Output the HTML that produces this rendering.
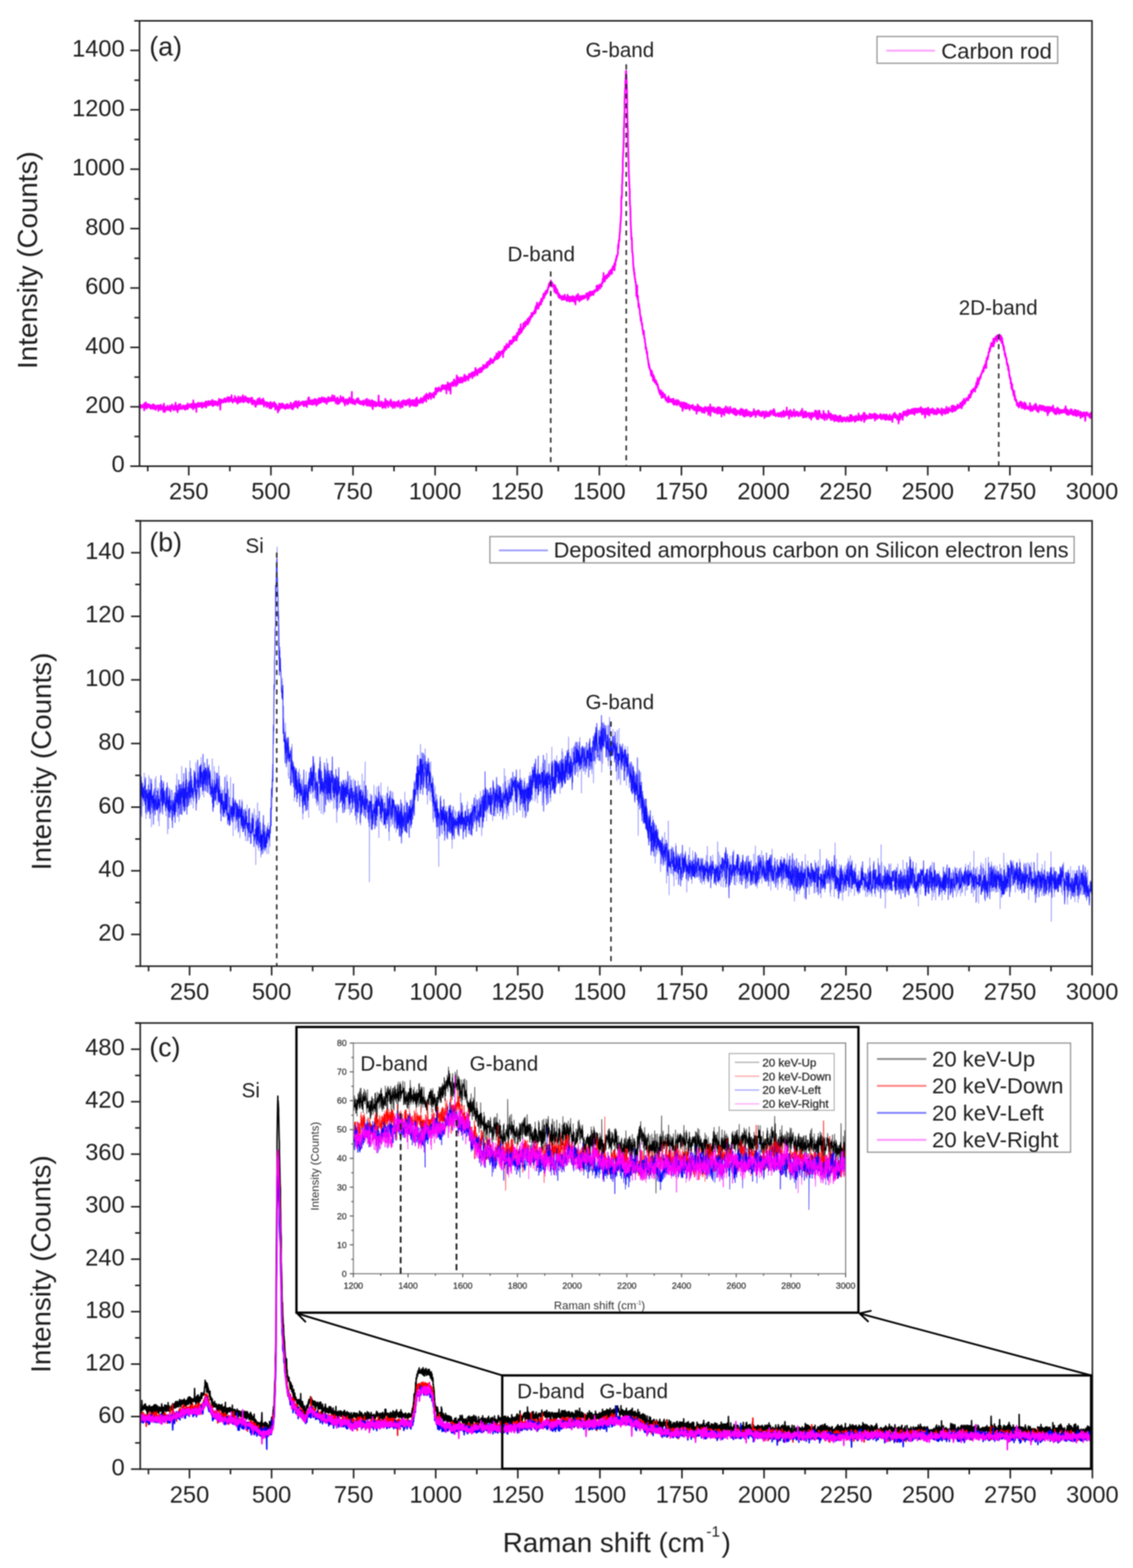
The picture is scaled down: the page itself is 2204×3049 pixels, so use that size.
<!DOCTYPE html>
<html><head><meta charset="utf-8"><title>Raman spectra</title>
<style>html,body{margin:0;padding:0;background:#fff;}body{width:2204px;height:3049px;overflow:hidden;}svg{display:block;}#w{filter:blur(1px);}</style>
</head><body><div id="w">
<svg width="2204" height="3049" viewBox="0 0 2204 3049" font-family="'Liberation Sans', Arial, sans-serif">
<rect width="2204" height="3049" fill="#fff"/>
<defs>
<clipPath id="ca"><rect x="271.4" y="40.4" width="1852.8" height="866"/></clipPath>
<clipPath id="cb"><rect x="273" y="1012.8" width="1851.4" height="866"/></clipPath>
<clipPath id="cc"><rect x="272.8" y="1989.2" width="1852.2" height="867.5"/></clipPath>
</defs>
<g clip-path="url(#ca)"><path transform="scale(.5)" d="M543 1577l1-3 0 4 1 10 1-14 1 3 0 7 1-7 1 1 1 0 0 2 1-3 1 8 1-4 1 2 0-7 1 4 1 2 1 2 0-3 1-2 1 2 1-11 0 2 1 24 1-6 1-10 1 1 0-4 1 0 1-12 1 21 0-5 1-15 1 9 1-1 0 8 1 7 1-12 1 0 0 8 1-3 1-10 1 11 1-5 0-1 1 0 1 4 1-7 0-1 1 4 1 8 1-9 0 8 1-9 1 13 1-12 1 6 0 8 1-6 1-3 1-2 0 8 1 0 1-8 1 4 0-5 1-4 1 16 1-12 0-6 1 9 1 4 1-10 1 4 0-4 1 9 1 7 1-8 0 3 1-8 1 4 1 12 0-3 1-13 1 1 1 9 1-5 0-3 1 0 1-2 1 4 0 2 1 1 1-9 1 22 0-14 1-1 1 9 1-11 0 7 1-10 1 7 1-5 1-4 0 6 1 8 1 4 1-20 0 12 1 4 1-5 1 2 0-6 1 5 1 0 1 5 1-7 0 9 1-10 1-6 1 19 0 6 1-19 1-13 1 23 0 1 1-11 1 9 1-3 0 13 1-19 1 5 1-4 1 3 0 4 1-3 1 4 1-6 0 8 1 0 1-16 1 10 0 0 1-4 1 7 1-2 1-4 0 1 1 9 1-13 1 9 0 3 1-1 1-4 1-12 0 17 1-9 1 15 1-14 0-6 1 7 1 3 1-6 1-3 0 1 1-9 1 12 1 5 0-3 1-1 1-1 1 1 0-1 1 11 1-16 1 9 1 4 0-12 1-4 1 5 1 2 0 7 1-25 1 13 1 13 0-2 1-5 1 10 1-11 0 5 1-11 1 2 1 23 1-17 0 11 1-18 1 6 1-3 0 10 1-19 1-1 1 19 0-9 1 7 1-5 1-1 1-11 0 18 1-4 1-5 1 7 0-3 1 2 1-3 1 7 0-5 1-2 1 1 1-3 0 2 1-7 1 7 1-1 1 3 0-1 1 5 1-12 1 11 0-3 1-7 1 0 1 5 0 10 1-16 1 1 1 11 1-14 0 9 1 3 1-8 1 2 0-3 1 12 1-22 1 15 0 6 1-14 1 6 1-4 0 4 1-3 1-2 1 6 1-10 0 7 1 2 1-7 1-2 0 4 1 3 1-9 1 15 0-5 1-6 1 9 1-9 1 1 0-5 1 11 1-2 1-6 0 18 1-35 1 24 1 0 0-10 1 5 1 11 1-16 0-1 1 8 1-1 1-5 1 8 0-8 1 2 1 6 1 22 0-25 1 4 1-11 1 5 0-4 1 5 1-1 1 7 1-9 0-7 1 13 1 2 1-3 0 3 1 1 1-6 1 3 0-11 1 9 1-2 1-5 0 8 1-11 1 13 1 1 1-3 0-2 1 8 1-9 1 11 0-20 1 9 1 4 1 1 0-3 1-1 1 5 1-1 1-5 0 2 1-10 1-1 1 7 0-3 1 11 1-13 1 4 0-3 1-8 1 24 1-16 0 8 1-12 1 12 1-6 1-5 0-3 1 3 1 5 1-1 0-10 1 6 1 11 1-16 0 3 1-3 1 8 1-7 1 12 0-10 1 7 1-8 1-2 0 11 1-4 1-1 1-7 0 3 1 12 1-10 1-2 0-8 1 24 1-7 1-12 1 18 0-1 1-11 1-3 1 11 0-8 1 3 1-9 1 9 0-6 1 12 1-5 1-1 1-8 0 4 1 8 1-9 1 0 0 5 1 1 1-1 1 9 0-12 1-1 1 7 1-11 0 13 1-6 1-1 1-16 1 22 0-14 1-3 1 4 1-6 0 14 1 25 1-36 1 12 0-6 1 6 1-15 1 2 1 10 0-10 1 5 1 2 1-2 0 2 1-5 1 2 1 4 0-9 1 10 1-6 1-1 0-7 1 12 1-14 1 9 1 2 0 2 1-8 1 3 1 7 0 0 1-4 1 1 1-11 0-2 1 3 1 3 1 6 1-3 0-5 1-8 1 8 1 7 0-2 1 4 1 2 1-4 0-3 1-10 1 11 1-8 0-3 1 11 1-10 1 6 1 7 0-5 1 2 1-20 1 21 0-2 1-2 1 8 1-5 0 9 1-11 1-2 1 3 1-1 0-2 1 8 1-2 1-5 0-4 1 4 1-14 1 17 0-7 1-2 1 9 1 4 0 2 1-8 1-6 1 5 1 1 0 3 1-6 1 18 1-15 0 1 1 9 1-23 1 23 0-2 1 1 1-15 1 13 1-10 0 0 1 2 1 10 1-5 0-15 1 19 1-3 1-5 0-7 1 3 1-3 1 11 0-13 1 2 1 14 1-20 1-5 0 19 1-5 1-8 1 18 0 4 1-5 1-4 1 0 0-8 1 3 1 9 1-11 1-8 0 4 1 2 1 6 1-6 0 13 1-10 1 5 1-7 0 5 1 10 1-7 1-7 0 15 1-4 1 2 1 5 1-16 0-2 1 3 1 3 1 2 0-2 1 6 1-10 1-1 0 1 1 9 1-3 1 2 1-12 0 10 1 13 1-14 1-9 0 8 1-1 1 6 1 13 0 0 1-4 1-7 1-2 0-2 1 7 1-8 1 8 1 3 0-10 1 11 1 11 1-10 0-8 1 20 1-17 1 0 0 7 1 0 1-7 1 1 1-12 0 6 1 13 1-5 1-10 0-7 1 9 1 1 1-10 0 12 1 1 1 7 1-5 0-18 1 23 1-9 1 10 1-10 0-5 1 8 1-6 1 1 0 2 1-8 1 6 1 8 0 2 1 2 1-8 1 5 1-19 0 6 1 13 1 1 1-12 0 23 1-9 1-9 1 12 0-2 1 0 1-7 1 4 0-1 1-1 1 3 1-7 1 12 0 4 1 3 1-1 1-7 0-10 1 5 1 5 1 3 0-3 1-1 1 2 1-2 1 2 0-9 1 20 1-12 1 12 0-14 1 6 1 9 1-14 0-11 1 11 1-7 1 8 0 13 1-17 1 6 1 6 1-14 0 3 1 5 1-9 1 11 0-10 1 10 1-9 1 11 0-17 1 8 1-7 1 15 1-2 0-8 1 23 1-10 1-12 0 4 1-3 1 9 1-6 0 9 1 5 1 2 1-7 0 0 1 1 1 19 1-10 1-9 0-5 1 5 1 2 1 9 0-27 1 20 1-18 1 1 0 8 1 5 1-5 1 8 1-9 0 2 1-4 1-3 1-5 0 13 1-9 1 12 1 0 0-1 1 2 1-13 1 1 0-3 1 9 1-2 1 6 1 3 0-10 1 1 1 9 1-10 0 14 1-10 1 3 1-1 0 4 1-13 1 2 1-4 1 7 0 9 1-6 1 5 1-10 0-5 1 6 1 5 1-1 0-4 1 10 1-10 1-1 0 4 1-1 1 0 1 2 1 0 0-10 1 3 1-9 1 17 0 5 1-17 1 1 1 11 0 5 1-9 1 11 1-9 1 11 0-13 1 12 1-12 1-12 0 11 1-7 1 8 1 1 0 3 1-16 1 6 1-11 0 18 1-6 1-3 1-8 1-3 0 15 1 4 1 3 1-19 0 9 1 3 1-4 1 16 0-5 1-17 1 4 1 1 1 8 0-10 1-8 1 19 1-8 0 3 1-6 1 2 1 1 0 5 1-6 1 3 1-3 0-1 1-4 1 7 1-1 1-9 0 8 1 0 1-7 1 4 0 2 1-1 1 9 1-10 0-6 1 5 1 14 1-12 1 8 0-5 1-2 1 8 1-16 0 9 1-6 1 1 1-5 0 1 1 17 1-9 1 14 0-11 1-7 1-2 1 6 1 3 0-4 1-20 1 13 1-2 0 12 1-26 1 24 1 2 0-7 1-1 1 1 1 7 1-14 0 9 1-10 1 1 1 16 0-2 1 0 1-8 1 2 0-2 1 7 1-8 1-6 0 18 1-8 1-2 1 3 1 0 0-12 1 3 1 3 1 10 0-19 1 12 1 6 1-2 0 1 1-17 1 12 1 0 1 14 0-4 1-4 1 0 1-12 0 9 1-11 1-2 1 18 0-11 1 9 1-10 1-6 0 14 1-20 1 13 1 6 1-8 0-6 1 14 1-9 1 8 0-16 1 6 1 4 1-10 0 15 1-6 1-14 1 12 1-10 0 7 1 6 1-3 1-3 0 3 1 2 1 0 1 4 0-10 1-6 1 2 1 16 0-16 1 6 1 9 1-9 1-4 0 2 1-1 1-1 1 0 0 7 1 13 1-9 1-7 0 5 1-8 1-1 1 5 1-12 0 18 1-13 1 9 1 1 0-9 1 7 1-9 1 12 0-8 1 5 1-4 1 1 0 5 1-12 1 12 1-2 1-11 0-1 1 2 1 2 1-12 0 22 1-2 1 1 1-12 0 4 1-5 1 1 1 8 1 4 0 1 1-20 1 8 1 2 0 6 1-1 1 1 1 0 0 13 1-14 1 2 1-4 0 1 1-4 1 6 1-5 1 22 0-9 1-17 1 19 1-6 0-6 1 10 1-10 1 13 0 3 1-4 1 2 1-10 1 1 0-4 1 8 1-22 1 17 0-1 1-3 1 5 1 2 0-4 1-6 1 2 1-2 0 10 1 1 1-17 1 14 1-5 0-1 1-4 1 18 1-6 0 0 1-1 1 14 1-14 0 18 1-20 1-2 1 0 1 12 0-14 1 12 1 2 1-1 0-1 1-6 1-5 1 19 0-10 1-9 1 4 1-2 0 12 1-15 1 15 1-11 1-8 0-3 1 8 1-2 1 9 0 0 1-11 1 8 1 1 0 8 1-9 1-3 1 4 1-35 0 27 1 9 1 4 1 6 0-3 1-2 1-10 1 13 0-15 1 17 1-3 1-8 0 6 1 4 1-5 1-4 1 13 0-10 1-2 1 2 1-8 0 8 1-1 1-3 1-4 0 6 1-11 1 16 1-14 1 14 0-3 1-3 1-11 1 8 0 9 1-10 1 10 1 4 0-7 1 2 1-5 1 10 0-6 1-1 1 2 1 2 1 5 0-11 1 5 1-2 1 5 0-2 1 6 1-7 1-5 0 4 1-5 1 4 1-7 1 10 0 9 1-13 1 4 1 5 0-10 1 2 1-1 1 5 0-3 1-1 1-10 1 16 0-5 1-2 1 13 1-1 1-24 0 25 1-14 1 9 1-1 0 8 1-6 1-11 1 14 0-12 1 2 1-10 1 16 1-11 0 3 1 8 1 9 1-20 0 18 1-5 1-9 1-1 0 13 1-5 1 2 1-9 0-8 1 27 1-17 1 25 1-12 0 1 1-20 1 12 1 5 0-1 1 0 1-5 1 2 0-5 1-6 1 5 1 12 1 2 0-5 1-12 1 9 1 2 0-6 1 10 1-2 1-10 0 5 1 1 1-5 1 6 0 1 1-1 1-7 1-29 1 41 0-5 1-6 1-7 1 19 0-9 1 4 1-6 1 3 0-6 1 6 1 7 1 0 1-6 0 0 1-12 1 5 1 18 0-10 1 11 1 2 1-16 0 2 1 10 1-17 1 16 0 1 1-11 1 3 1 2 1-1 0-2 1 2 1-25 1 36 0-4 1-12 1 8 1-9 0-4 1 9 1-4 1-12 1 9 0-8 1 2 1 4 1 18 0-8 1 1 1-10 1-1 0 4 1-6 1 9 1-11 0 6 1 1 1 0 1 1 1-16 0 26 1-11 1-6 1 4 0 7 1-13 1 18 1 1 0-11 1 13 1 5 1-20 1 1 0 0 1 7 1-4 1 8 0-17 1 12 1-5 1 17 0-17 1-4 1 2 1 2 0 6 1 2 1-6 1 1 1 1 0 3 1-13 1 18 1-8 0 3 1-10 1-3 1 1 0 3 1 13 1-22 1 9 1 4 0-1 1 2 1-4 1 0 0 4 1 15 1-17 1-3 0 0 1 4 1-4 1-4 0 9 1-12 1 21 1-4 1-3 0 10 1-10 1-14 1-1 0 7 1-10 1 9 1 5 0-5 1 2 1-6 1 14 1-16 0 10 1-8 1 15 1-6 0-3 1-5 1 14 1-18 0 8 1 6 1-10 1 7 0-7 1-7 1 9 1 8 1-1 0-1 1-4 1 6 1-1 0-9 1-11 1 31 1-21 0 5 1-6 1-1 1 5 1 7 0 2 1 3 1-19 1 9 0 2 1-2 1 7 1-11 0-6 1 1 1 18 1-19 0 14 1 8 1-4 1-1 1-6 0 7 1 3 1-7 1-14 0 17 1-8 1 3 1-17 0 29 1-20 1 15 1-5 1-3 0-21 1 24 1 7 1-21 0 13 1-4 1-2 1-1 0 1 1-3 1-1 1-3 0 8 1 2 1 2 1-11 1 4 0-5 1 0 1-8 1 9 0-4 1 12 1-2 1-5 0 5 1-13 1 12 1-10 1 15 0-9 1-5 1-1 1 9 0-13 1-6 1 2 1 8 0-1 1 4 1-12 1-5 0 12 1 7 1-12 1-4 1 21 0-18 1-13 1 8 1 1 0 1 1-5 1 12 1-1 0-8 1 7 1-7 1 13 1-17 0-1 1 4 1-1 1-9 0 17 1-2 1 1 1-4 0 4 1-7 1 4 1 6 0 5 1-22 1 8 1 1 1-1 0 0 1-5 1 1 1 7 0 1 1 2 1 0 1-17 0 14 1 6 1-8 1-1 1-8 0 7 1-10 1 0 1-6 0-7 1-5 1 9 1 15 0-6 1-4 1-13 1 9 0-4 1 8 1-6 1-1 1 7 0-9 1-2 1 7 1-8 0-5 1 9 1 0 1 2 0-6 1 2 1 3 1-1 1 2 0 5 1-4 1-8 1 9 0-4 1-15 1 3 1 11 0-8 1 7 1-15 1 14 0-5 1-9 1 14 1-14 1 14 0-7 1 3 1-1 1-2 0 2 1 6 1-12 1 1 0-3 1-1 1 17 1-16 1 31 0-20 1-10 1-3 1 12 0 5 1-7 1-20 1 16 0 8 1-6 1 4 1-4 0-4 1 17 1-19 1-7 1 9 0 1 1-10 1 14 1-1 0 26 1-33 1-4 1 2 0-4 1-3 1 2 1 8 1-3 0-10 1 14 1-5 1 1 0-2 1 6 1 1 1-25 0 10 1 10 1-19 1 10 0 6 1-7 1 7 1-2 1-3 0 2 1 12 1-17 1-2 0-2 1-21 1 21 1 0 0 12 1 3 1-18 1 9 1-12 0-8 1 18 1 0 1-4 0-5 1 12 1-15 1 1 0 2 1 8 1-9 1 0 0 13 1-21 1 14 1-4 1 5 0-6 1-5 1 12 1 5 0-8 1 5 1-4 1-4 0-1 1-9 1 14 1-9 1 5 0-12 1-8 1 14 1-9 0 14 1 6 1-2 1 1 0-4 1-5 1-9 1 3 0 1 1 5 1 2 1-6 1-1 0-1 1-1 1 3 1 11 0-5 1-2 1-17 1 13 0-7 1-6 1 7 1 4 1-2 0 4 1-9 1-6 1 3 0-2 1-1 1 10 1-2 0-6 1-3 1-4 1 23 0-13 1-2 1 5 1-13 1 4 0 3 1 7 1-2 1-3 0-10 1 10 1 5 1-5 0-6 1-14 1-6 1 19 1-9 0-3 1 0 1 9 1 8 0-5 1 9 1-14 1-3 0 16 1-12 1-2 1-6 0-2 1 4 1 9 1-3 1-10 0 11 1-5 1-10 1 8 0 9 1-7 1-7 1 5 0-9 1-1 1 11 1 5 1-10 0 7 1-11 1 3 1-7 0 8 1 1 1-18 1 17 0-3 1 0 1-3 1 3 0-6 1 3 1-3 1-5 1-3 0 1 1 7 1-8 1 3 0-1 1 10 1-15 1 5 0-12 1 6 1 11 1 1 1-16 0 13 1-10 1 5 1-15 0 12 1-10 1 1 1 10 0-1 1-12 1 9 1 4 0-14 1-9 1 16 1-10 1 10 0-11 1 10 1-11 1 5 0 4 1-3 1 4 1 4 0-1 1-7 1 6 1-11 1-1 0 0 1 5 1-4 1-1 0-10 1 13 1-4 1-2 0-2 1 3 1-2 1-12 0 10 1-10 1-8 1 10 1 13 0-16 1 1 1 0 1 13 0-15 1 11 1-15 1 1 0-10 1 18 1 6 1-17 1 0 0 7 1-12 1 3 1 11 0-7 1 0 1-3 1-3 0 5 1-4 1-6 1 3 0 1 1-1 1-2 1 11 1-13 0 25 1-26 1 9 1-16 0 4 1 9 1-10 1 5 0-17 1 8 1 7 1-7 1 1 0-9 1 5 1-2 1 9 0-13 1-9 1 8 1 3 0-2 1 6 1-8 1 7 0-8 1 2 1 2 1-9 1 12 0-10 1 8 1-20 1-2 0 6 1-7 1 7 1 0 0 5 1 2 1-8 1 4 1-2 0-9 1 5 1 8 1-10 0 3 1-4 1 5 1-16 0-5 1 19 1-12 1 0 0 10 1-9 1-8 1 2 1-5 0 17 1-4 1-8 1-1 0 1 1 2 1-1 1 0 0-8 1 19 1-29 1 13 1 4 0-14 1 12 1-13 1 4 0-8 1-2 1-4 1-8 0 16 1-2 1 8 1-14 0 2 1 9 1-17 1-1 1-19 0 23 1-5 1 2 1 10 0 2 1-9 1 2 1-4 0-1 1-5 1 6 1-4 1-21 0 19 1-7 1 1 1 0 0 6 1-11 1 3 1-7 0-9 1 11 1-5 1 11 0-9 1-10 1 10 1 2 1-6 0 1 1 0 1 0 1-16 0 17 1-4 1 8 1-21 0 9 1-11 1 6 1 0 1 8 0-19 1 3 1 0 1 2 0 1 1 4 1-16 1 3 0 3 1 1 1-6 1 0 0-12 1 4 1 8 1 2 1-6 0 3 1-7 1-3 1-2 0 0 1 3 1-6 1 8 0-10 1-3 1 2 1 8 1-2 0 2 1-23 1 20 1-11 0-14 1 9 1-8 1 11 0-9 1-16 1 19 1-3 0 4 1-3 1-3 1-7 1 13 0 3 1-11 1-2 1-9 0 3 1 7 1-9 1-5 0 4 1 2 1-8 1 4 1 8 0-22 1 16 1-8 1-2 0-1 1-1 1 6 1-14 0 2 1-1 1-8 1-2 0-3 1-4 1 7 1 11 1-12 0-1 1-1 1 2 1 1 0-12 1-3 1 12 1-12 0 3 1 0 1-8 1 3 1 2 0-6 1 11 1-10 1-3 0 4 1-12 1-2 1 4 0-5 1-7 1-4 1 10 0-8 1-6 1 6 1 4 1-1 0-3 1 4 1-19 1 16 0-5 1 1 1-2 1 7 0 7 1-17 1 12 1 0 1 0 0-5 1 5 1-2 1 4 0 5 1 1 1 8 1 9 0-10 1 6 1-22 1 7 0 4 1 12 1-16 1 25 1-2 0-2 1 3 1-6 1 1 0-10 1 7 1 0 1 6 0 5 1 4 1 6 1-3 1-2 0-7 1 17 1-2 1-9 0 9 1-9 1 6 1 2 0 5 1-8 1 5 1 0 0 1 1-5 1 1 1 12 1-9 0-3 1-3 1 2 1 4 0 8 1-2 1-10 1 10 0-11 1-1 1 14 1-9 1 3 0-13 1 7 1 9 1-6 0 8 1-4 1-3 1 1 0-1 1 8 1 6 1-9 0 3 1-1 1-18 1 7 1 8 0 8 1 0 1-11 1-4 0 9 1-3 1-1 1-5 0 19 1-13 1-2 1-3 1 4 0 9 1-6 1 9 1-10 0 0 1-2 1 10 1 1 0-17 1 8 1-10 1 8 0 12 1-15 1-3 1 10 1 9 0-17 1 5 1-3 1 19 0-20 1 20 1-11 1 19 0-13 1 0 1-8 1-14 1 1 0 14 1-10 1 2 1 2 0 0 1 7 1-10 1-2 0-10 1 11 1-4 1 18 0-10 1 2 1 12 1-11 1 2 0-2 1 1 1-7 1-4 0 5 1 11 1-2 1-1 0-4 1 1 1 0 1 3 1-13 0 0 1-1 1 3 1-1 0 9 1 0 1-3 1-8 0 5 1 6 1-8 1-2 0 2 1 5 1-4 1 3 1-1 0-2 1-5 1-8 1 2 0 5 1 6 1-1 1-1 0-10 1 25 1-20 1 14 1-19 0-3 1 14 1 8 1-23 0-1 1 6 1-5 1 13 0-13 1-4 1 7 1 2 0-7 1 1 1 12 1-14 1 4 0 3 1-8 1 2 1 0 0 7 1-9 1 12 1-8 0 9 1 0 1-15 1 2 1-1 0-4 1 0 1 8 1-7 0 0 1 2 1-3 1 1 0 1 1-2 1-5 1-12 0 17 1-9 1 12 1-20 1 11 0-4 1-9 1 2 1 16 0-14 1 4 1-5 1 2 0-4 1 2 1 2 1-9 1 16 0-7 1 2 1-6 1 0 0-2 1 1 1-2 1 6 0-12 1-3 1 4 1-1 0-2 1-16 1 8 1-3 1 3 0-30 1 31 1-16 1 19 0-13 1 1 1 0 1 8 0-3 1-15 1 10 1-11 1 1 0-1 1-1 1 11 1-5 0-9 1 12 1-4 1-3 0-4 1 6 1-10 1 6 0-4 1 4 1-15 1 17 1-15 0 0 1-2 1 8 1-14 0 0 1 3 1-2 1 2 0 12 1-10 1-9 1 0 1 10 0 7 1-18 1 0 1-10 0 6 1 2 1 4 1-9 0 1 1 2 1-8 1-9 0 5 1 21 1-27 1 7 1 1 0-16 1 4 1-13 1 2 0 4 1-9 1-10 1 6 0 2 1-7 1-2 1-2 1-4 0-15 1-21 1 15 1-13 0-7 1-13 1 5 1-7 0-13 1-7 1-10 1-17 0 0 1-18 1-6 1-21 1-13 0-41 1-22 1 8 1-25 0-24 1-8 1-39 1-4 0-40 1-28 1-15 1-28 1-24 0-38 1-3 1-41 1-21 0-37 1-28 1-18 1-16 0-16 1-11 1-26 1-6 0 6 1 13 1 24 1 26 1 39 0 33 1 46 1 30 1 22 0 38 1 25 1 40 1 19 0 22 1 25 1 23 1 29 1 1 0 30 1 31 1 5 1 28 0 16 1 26 1 22 1 18 0 8 1 11 1-7 1 32 0 7 1 17 1 5 1 9 1 15 0 11 1 11 1 12 1 10 0-10 1 15 1 11 1-7 0 10 1 12 1 0 1 13 1 2 0-4 1 10 1 14 1 33 0-32 1 14 1 7 1-31 0 40 1 12 1-4 1-8 0 16 1 3 1 25 1-5 1-7 0 15 1-6 1 11 1 5 0-3 1 18 1 5 1 1 0 4 1 16 1-14 1 11 1 7 0 0 1 11 1-6 1 12 0 0 1 15 1 1 1 0 0 13 1 2 1 1 1-3 0-12 1 22 1 8 1 1 1 0 0 13 1 3 1 3 1 21 0-8 1 1 1 2 1 11 0-4 1 15 1 2 1-8 1 24 0-3 1 5 1 4 1 7 0-3 1 15 1 5 1-8 0 15 1-7 1 5 1 8 0 1 1 1 1-1 1 9 1 0 0 10 1-5 1 12 1-10 0 5 1-15 1 7 1 11 0-6 1 6 1 10 1 10 1-22 0 6 1 17 1-15 1-1 0 12 1-7 1 17 1-8 0 0 1-2 1 4 1 3 0-1 1 10 1-12 1 13 1-5 0 6 1 3 1-3 1 2 0-4 1 4 1 12 1-5 0 4 1 8 1 4 1-7 1 7 0 8 1-7 1 0 1 3 0 10 1-2 1-11 1 15 0-2 1-16 1 13 1 6 0 10 1-14 1 11 1-9 1 6 0 5 1-20 1 11 1-6 0 2 1 10 1-4 1 4 0-8 1 5 1 6 1-12 1 8 0 2 1 9 1-7 1 12 0-11 1 9 1-6 1 3 0-3 1 0 1 3 1 0 0 9 1 3 1-20 1 4 1 14 0-22 1 17 1-8 1 1 0 2 1-3 1 13 1-9 0 2 1-2 1 3 1 3 1 1 0-9 1 11 1-7 1 1 0 4 1-3 1 0 1 8 0-5 1-10 1 20 1-5 0 4 1-18 1 22 1-9 1-6 0 11 1-5 1 4 1 4 0-9 1-4 1 1 1 1 0-3 1-3 1 15 1-11 1 8 0 8 1-6 1-9 1 3 0 9 1-17 1 8 1 3 0 4 1-6 1 5 1-9 0 6 1-1 1 6 1 8 1-12 0 10 1-5 1 0 1 5 0-10 1 15 1-19 1 14 0-10 1-2 1 27 1 5 1-30 0 5 1 0 1 13 1-1 0-14 1-6 1 14 1 1 0-6 1-1 1 0 1 6 0 10 1-21 1 12 1-10 1 20 0-22 1 14 1 4 1-13 0-2 1 12 1-7 1 11 0-3 1-2 1 0 1-6 1 12 0-14 1 0 1 7 1 6 0 8 1-15 1 5 1-5 0 7 1-7 1 1 1 0 0-1 1 0 1-4 1 11 1-9 0 4 1 4 1 4 1-15 0 8 1 5 1-3 1 1 0 3 1 6 1-9 1 2 1 1 0-8 1 14 1-2 1-7 0-4 1 2 1-1 1 18 0-16 1 24 1-25 1 9 0-7 1-3 1-10 1 15 1 10 0-8 1-4 1 1 1-8 0 13 1 5 1-2 1-9 0 10 1 1 1-1 1-13 1 6 0 3 1-7 1 1 1 11 0-12 1 4 1 15 1-6 0-9 1-1 1 5 1 4 0-7 1 13 1-15 1 4 1-1 0 4 1-9 1 20 1-9 0-9 1 8 1-14 1 7 0 8 1-12 1 8 1-4 1 7 0 1 1-8 1 4 1 6 0 1 1-10 1-7 1 17 0-10 1 23 1-10 1-13 0-5 1 9 1-3 1 1 1-5 0 13 1-27 1 44 1-22 0-2 1 1 1 4 1-3 0 4 1-15 1 6 1 7 1-12 0 2 1 6 1 7 1-5 0 5 1-11 1 10 1 3 0-18 1 6 1 7 1 8 0-9 1-4 1 2 1 0 1 5 0-8 1 11 1-1 1 0 0 1 1-16 1 23 1-13 0 8 1 1 1-8 1 10 1-9 0-15 1 15 1-3 1 8 0-8 1 12 1-10 1 2 0-14 1 14 1 2 1 1 0 5 1-13 1-4 1 30 1-26 0 6 1-5 1 0 1 11 0-4 1-11 1 18 1-18 0 8 1 4 1-6 1-1 1-1 0 20 1-27 1 14 1-9 0 7 1 4 1-4 1-20 0 10 1 12 1-4 1-5 0 3 1 3 1 2 1 5 1-12 0-2 1-8 1 18 1-7 0 4 1-8 1 8 1 4 0 6 1-15 1 4 1-7 1 11 0-20 1 21 1-8 1 0 0-4 1 8 1 5 1 0 0-11 1 5 1-2 1 8 0-6 1 0 1-3 1 14 1-4 0-16 1 14 1-2 1 2 0 7 1-2 1-9 1 7 0-17 1 23 1 3 1-10 1 6 0-17 1 12 1-6 1 13 0-13 1 0 1-3 1 6 0-1 1 2 1-5 1 8 0-6 1 7 1-8 1 6 1 3 0 0 1-14 1 19 1-1 0-13 1 10 1-3 1 0 0-18 1 19 1 0 1-2 1-4 0-1 1 12 1-12 1-9 0 23 1-15 1-1 1 4 0 2 1 14 1-22 1 9 0 0 1-9 1 23 1-15 1-4 0 0 1 1 1-9 1 11 0-4 1 1 1 15 1-4 0-18 1 15 1-1 1 8 1-6 0 6 1-4 1-7 1 8 0-1 1-12 1 5 1 0 0-3 1 10 1-2 1 11 0-18 1 6 1-2 1 7 1-10 0 0 1 3 1 11 1-5 0-5 1 5 1-7 1-4 0 11 1-4 1 3 1-11 1 1 0-11 1 16 1 6 1-8 0 4 1-3 1-6 1 9 0-6 1 19 1-20 1 6 0 2 1 2 1-12 1 12 1-11 0 11 1-3 1-2 1-11 0 12 1 0 1 2 1 1 0 2 1-16 1 3 1 14 1-6 0 9 1-13 1 1 1 4 0 6 1-10 1 2 1 5 0-6 1 13 1-4 1 2 0-7 1-10 1 10 1-7 1 7 0 2 1-9 1 3 1-5 0 3 1 11 1 11 1-16 0 8 1 2 1 1 1-5 1-3 0-1 1-13 1 20 1-8 0 8 1-1 1-7 1-3 0 11 1-15 1 13 1-12 0 6 1-6 1 2 1 5 1-5 0 12 1-1 1-6 1-11 0 13 1-2 1-15 1 10 0 0 1 6 1-7 1-4 1 4 0-5 1 3 1-5 1 1 0 7 1-7 1-5 1 9 0 10 1-9 1 3 1-17 0 12 1 12 1-6 1-11 1 17 0-4 1-2 1 1 1 3 0-4 1 10 1-5 1 0 0-1 1 0 1-1 1 2 1 0 0-4 1-4 1 0 1 13 0-9 1-3 1 6 1-5 0 4 1-4 1 12 1-13 0 6 1 2 1-3 1-8 1 0 0 4 1-3 1 8 1 5 0 4 1-12 1 0 1-1 0 0 1-8 1 14 1-1 1-17 0 7 1 6 1 11 1-7 0-3 1 6 1-10 1 3 0-9 1 15 1-6 1 3 0-10 1 4 1-3 1 4 1-23 0 19 1 10 1-5 1 3 0-7 1-2 1 4 1 3 0 4 1-15 1 3 1 26 1-19 0 6 1-3 1-13 1 18 0-1 1-22 1 19 1-2 0-8 1 10 1-3 1-2 0-7 1 20 1-5 1-4 1-7 0 10 1-7 1 6 1 0 0-11 1 10 1-21 1 16 0-5 1 2 1 15 1-1 1-13 0 10 1-4 1-1 1 3 0-13 1 3 1 4 1-3 0 10 1-11 1 12 1-15 0 15 1-1 1-10 1 3 1 11 0-10 1 4 1 0 1-4 0 0 1-3 1 5 1-1 0 3 1-11 1 15 1-18 1-1 0 0 1 14 1-14 1 5 0 1 1-14 1 19 1 4 0 5 1 6 1-16 1-1 0-1 1 2 1 15 1-15 1-5 0-3 1 16 1 0 1-1 0 0 1 6 1-6 1-14 0 17 1 5 1-10 1 2 1-8 0 9 1-4 1 5 1-10 0 2 1 1 1 2 1-4 0 9 1-6 1 0 1-6 0 20 1-10 1-5 1 7 1-4 0-4 1 2 1 14 1-3 0 10 1-22 1 2 1-7 0 8 1 8 1-14 1 15 1-9 0 1 1-6 1 0 1 8 0 2 1-4 1 3 1-10 0 4 1-6 1-8 1 22 0-1 1-7 1 1 1 4 1 9 0-27 1 3 1 21 1 8 0-24 1 7 1 2 1 6 0-6 1 2 1 13 1-33 1 14 0 5 1 3 1-2 1-19 0 13 1 11 1-15 1 3 0 0 1 5 1 0 1-2 0 4 1 8 1-2 1-6 1 10 0-9 1 2 1-6 1 4 0 3 1 0 1-23 1 15 0 13 1 3 1-5 1 10 1-10 0-11 1-1 1-3 1 9 0-1 1 5 1 0 1-5 0-4 1 3 1 16 1-16 0 3 1 4 1-5 1-5 1 5 0 6 1-26 1 25 1-7 0-5 1 13 1-9 1 9 0-3 1 3 1-16 1 20 1-11 0 3 1 14 1-24 1 15 0-1 1-3 1 7 1 0 0-5 1 5 1-6 1-7 0 14 1 4 1-10 1-3 1 2 0 8 1 8 1-21 1 1 0-4 1 16 1-10 1-2 0 18 1-18 1-2 1 6 1 0 0-1 1 7 1 8 1-3 0-4 1 4 1-12 1 10 0-2 1 11 1-14 1 7 0-14 1 20 1-13 1 4 1 0 0-14 1 5 1 12 1-15 0 13 1-9 1 17 1-9 0-1 1 1 1 8 1 2 1-12 0-4 1 4 1 2 1 7 0-8 1 1 1 1 1-6 0 0 1-2 1 4 1 3 0-4 1 1 1 9 1-8 1 9 0 3 1-7 1-1 1-8 0 7 1-4 1-6 1 9 0-1 1 7 1-10 1 5 1 0 0 8 1-2 1-2 1-6 0-6 1 16 1-8 1-1 0-16 1 15 1 2 1-9 0 12 1-10 1 14 1-24 1 14 0 3 1 5 1-7 1-1 0 6 1-12 1 10 1-3 0-1 1-7 1 11 1-3 1-2 0-2 1 15 1-20 1 8 0 3 1-5 1 12 1-8 0-6 1-7 1 9 1-3 1 4 0-6 1 12 1-9 1 5 0 4 1 1 1-2 1-11 0-13 1 22 1 3 1-8 0 0 1 7 1-16 1 6 1 0 0 5 1 0 1-6 1 15 0-4 1-6 1 10 1-20 0 13 1-1 1-6 1-8 1 10 0 4 1 0 1-7 1 4 0-19 1 7 1 28 1-14 0-8 1-13 1 28 1-10 0-11 1 12 1-5 1 4 1-8 0 12 1-7 1 9 1-15 0 2 1 4 1-1 1 0 0 3 1-3 1-1 1 3 1 6 0-4 1 0 1-6 1 2 0-11 1 14 1-2 1 5 0-5 1 4 1 2 1-6 0-10 1 16 1-2 1-4 1-2 0-7 1 12 1-4 1 4 0 0 1-3 1 4 1-10 0-4 1 10 1 1 1-13 1 10 0-11 1 28 1-17 1 5 0-3 1-8 1-2 1 8 0-6 1 13 1-9 1 3 0 10 1-16 1 10 1-6 1 7 0-6 1-2 1 4 1 3 0-7 1 3 1 4 1-4 0 1 1 2 1-8 1-5 1 14 0-2 1 5 1 3 1-16 0 12 1-7 1 11 1-4 0-7 1 0 1 2 1-1 0 1 1-5 1-4 1 7 1 4 0 6 1-3 1-2 1-11 0 18 1-5 1 1 1-12 0 10 1 7 1 1 1-15 1 12 0-18 1 0 1 14 1-5 0-2 1 10 1-1 1-4 0-4 1-1 1 14 1-14 0 3 1 1 1 2 1-10 1-3 0 13 1-1 1 9 1-7 0-7 1 5 1-3 1 3 0-1 1-4 1-1 1 17 1-11 0 17 1-19 1 3 1 0 0-14 1 8 1-5 1 3 0-7 1 12 1 0 1-1 0-16 1 19 1-3 1-8 1 3 0 9 1-13 1 9 1-6 0 6 1-1 1 11 1-14 0 14 1-5 1-6 1 9 1-3 0 0 1 21 1-26 1 13 0-7 1-18 1 25 1-9 0-10 1 16 1-7 1-1 0-15 1 15 1-10 1 7 1-4 0 7 1 1 1-7 1 6 0-8 1 18 1-23 1-8 0 1 1 15 1-2 1-16 1 11 0 2 1-9 1 10 1-10 0 8 1-10 1 9 1-6 0-2 1-4 1 15 1-3 0 6 1 1 1-8 1-5 1-7 0 10 1-15 1 11 1-5 0 7 1 7 1-18 1 11 0-11 1 12 1-6 1 4 1 1 0-2 1-6 1 11 1-2 0-13 1 11 1-7 1 9 0-8 1-8 1 6 1-1 0 3 1-3 1 12 1-1 1-13 0 14 1-19 1 3 1 13 0 6 1 2 1-17 1 3 0-9 1 5 1-6 1 4 1 11 0-4 1 4 1-4 1 1 0-2 1-10 1 12 1 4 0-4 1-1 1 1 1-3 0 2 1-10 1 1 1 11 1-11 0-3 1 9 1 5 1-8 0 3 1-2 1 8 1-20 0 15 1-5 1 8 1-5 1 15 0-6 1 7 1-22 1 16 0 1 1-17 1 10 1-2 0-7 1 4 1 1 1-2 0 17 1-20 1 0 1 33 1-11 0-8 1-2 1-14 1 7 0-7 1 8 1 7 1 4 0-4 1-13 1 15 1 6 1-14 0-7 1-6 1 7 1 2 0 18 1-9 1 0 1 13 0-10 1-11 1-3 1 7 0 3 1-3 1-1 1-2 1 10 0-14 1 9 1 1 1-5 0 9 1-10 1-8 1 11 0 1 1 4 1-12 1 2 1 17 0-16 1 10 1 4 1-7 0 3 1-11 1 15 1 0 0-1 1-6 1-4 1 11 0-3 1 6 1-9 1 6 1-21 0 2 1 18 1-7 1-1 0 6 1-1 1-15 1 14 0 0 1-1 1-9 1 10 1-4 0 1 1-3 1 6 1 2 0 2 1-6 1 0 1 3 0-3 1-14 1 10 1 17 0-20 1 7 1 6 1-15 1 9 0-8 1 10 1-12 1 10 0-9 1 1 1 12 1-9 0-1 1 3 1 11 1-13 1 4 0-10 1 15 1-13 1 5 0-16 1 23 1-13 1 9 0 3 1-13 1 2 1-3 0 17 1-3 1-11 1 9 1-14 0-3 1 12 1-1 1 0 0 1 1-1 1 1 1-5 0 5 1 1 1-2 1 2 1-4 0-14 1-1 1 23 1-2 0-9 1-1 1 0 1-13 0 23 1-11 1 7 1 2 0-14 1 12 1-16 1 12 1 2 0 3 1-6 1 1 1-10 0 15 1-11 1-4 1 7 0-7 1 9 1-7 1 5 1-16 0 12 1 2 1-4 1 5 0-3 1-4 1-4 1 9 0-4 1 0 1-6 1-1 0 2 1 0 1-10 1 16 1-16 0 6 1 13 1-12 1 9 0 5 1-2 1-19 1 9 0-16 1 14 1-5 1 8 1-8 0-2 1-3 1-13 1 5 0 5 1 7 1-1 1 0 0 3 1-10 1 4 1-5 0 4 1-5 1-9 1 7 1-4 0 1 1 3 1 0 1-6 0 0 1 5 1-8 1 0 0 10 1-11 1-9 1 12 1-13 0 1 1 2 1-2 1 6 0-10 1 13 1-3 1-12 0 10 1-21 1 9 1-4 0-2 1 8 1-4 1-4 1 2 0-11 1 2 1 4 1-8 0 7 1-6 1 3 1 2 0 2 1-2 1-6 1-4 1 15 0-13 1-8 1 4 1 4 0-2 1-19 1 19 1-10 0-9 1 16 1-25 1 19 0-18 1-11 1 23 1-9 1-4 0 14 1-18 1 6 1-2 0 0 1-7 1-5 1-5 0 5 1 4 1-6 1-2 1-2 0-8 1 2 1-3 1-2 0-1 1 0 1-9 1 3 0-1 1 4 1-4 1-3 0-9 1 13 1-18 1 2 1 3 0-1 1-11 1 0 1 12 0-10 1-1 1-8 1 1 0-9 1 27 1-27 1-12 1 7 0-1 1-6 1 6 1 0 0-13 1 1 1 2 1-18 0-1 1 0 1 2 1-5 0-1 1-11 1 12 1-13 1-1 0 5 1-13 1 5 1-15 0 3 1 7 1 1 1 1 0-1 1-8 1 10 1-16 1 1 0 4 1-8 1-11 1 30 0-29 1 11 1 1 1-12 0 17 1-19 1 5 1 2 0-5 1-1 1-8 1 1 1 4 0 2 1 3 1-8 1 17 0-23 1 5 1 10 1-15 0 8 1-3 1 8 1-7 1-6 0 1 1-3 1 6 1-8 0 14 1-5 1 14 1-14 0 3 1-1 1-3 1-3 0 18 1-3 1 13 1-21 1 6 0 9 1-2 1 6 1 13 0-5 1 0 1 6 1 9 0 6 1-14 1 16 1 2 1 15 0-10 1 6 1 11 1-11 0 12 1-1 1 4 1 8 0-1 1-4 1 19 1 3 0 2 1-7 1 12 1-2 1-1 0 18 1-13 1 13 1 6 0-7 1 11 1 15 1-4 0 8 1-2 1 8 1 3 1-5 0 21 1-9 1 7 1 0 0 20 1-6 1-1 1-9 0 21 1 2 1-2 1 0 0 9 1-2 1 15 1-18 1 16 0 0 1-14 1 24 1 7 0 1 1-14 1 14 1 6 0-2 1 2 1-5 1 1 1 7 0 1 1 10 1 4 1-10 0 0 1 3 1 0 1-2 0 12 1-5 1 3 1 7 0-16 1 5 1-4 1-1 1 10 0-16 1 8 1-4 1-5 0 14 1 1 1-4 1-6 0 0 1 20 1-22 1 12 1-5 0 11 1-2 1-8 1 14 0-16 1 9 1-5 1 2 0 5 1-11 1-6 1 12 0 15 1-11 1 3 1-7 1 6 0-13 1 9 1 1 1 6 0 3 1-5 1-2 1-1 0 2 1 3 1-2 1 4 1 4 0-1 1-8 1-1 1 6 0 0 1-4 1 5 1-21 0 19 1 4 1 8 1-13 0-6 1 7 1-8 1 11 1-3 0 0 1 4 1 5 1-4 0 6 1-16 1 6 1-1 0 3 1-9 1 11 1-16 1 4 0 11 1-4 1-5 1-4 0 13 1-2 1-19 1 10 0 0 1-7 1 10 1 6 0 8 1-16 1 13 1-11 1 17 0-9 1-3 1 8 1-1 0 8 1-15 1 9 1-7 0-10 1-1 1-3 1 9 1 5 0-4 1-3 1 2 1-7 0 13 1-3 1 8 1-7 0-11 1 8 1-5 1 2 0-3 1 12 1-8 1-1 1-3 0-1 1 13 1 6 1-5 0-12 1 15 1 3 1-1 0 0 1-12 1 9 1-1 1-11 0 2 1 1 1 10 1 7 0-13 1-8 1 14 1 0 0 19 1-31 1 12 1 11 0-11 1 4 1-8 1-10 1 19 0-7 1 4 1 1 1-7 0-8 1 7 1 6 1-7 0 2 1-4 1 9 1-4 1-10 0 11 1-6 1 7 1-1 0 6 1-23 1 11 1 0 0 0 1 15 1-2 1-4 0 10 1-5 1-11 1 19 1-8 0-5 1 0 1 0 1 4 0-10 1 20 1-18 1 12 0-5 1-4 1-11 1 16 1 4 0-15 1 6 1 0 1-4 0-2 1 5 1 15 1-12 0-1 1 8 1-1 1-10 0 2 1 7 1-9 1 3 1 9 0-7 1 7 1-3 1-8 0 10 1 0 1-10 1 9 0-5 1 0 1 0 1-4 1 6 0 2 1-2 1-10 1 1 0 7 1-9 1 4 1 11 0-17 1-8 1 16 1 12 0-19 1 5 1 5 1 13 1-12 0 1 1 1 1 1 1-9 0 9 1-5 1 16 1-6 0-6 1 6 1-6 1 0 1-1 0 3 1-6 1 12 1-6 0-12 1 12 1-12 1 8 0 4 1-2 1-9 1 12 0 6 1-10 1-1 1 0 1 15 0-12 1 3 1 2 1 2 0-6 1 3 1 0 1-13 0 12 1 8 1-1 1-1 1 5 0-17 1-5 1 15 1-9 0 10 1 0 1 7 1-11 0-8 1 0 1 5 1 5 0-9 1-3 1 16 1-7 1 3 0 4 1 3 1-2 1-6 0-1 1 1 1-7 1 13 0 12 1-9 1-10 1 6 1 7 0-16 1 13 1-7 1-3 0 13 1 1 1-10 1-1 0 3 1 1 1 2 1-13 0 14 1-4 1-8 1 13 1-8 0 2 1 25 1-11 1-13 0 3 1-12 1 7 1 3 0-9 1 1 1-2 1 0 1 2 0 9 1-5 1 0 1 0 0 1 1 2 1 4 1-2 0 6 1 0 1-11 1 7 0-2 1 4 1 7 1-8 1-13 0 11 1 3 1-8 1 7 0 1 1 6" fill="none" stroke="#ff00ff" stroke-width="6.8" stroke-linejoin="round"/></g>
<path d="M261.4 40.4H2124.2V906.4H271.4V40.4" fill="none" stroke="#1e1e1e" stroke-width="3" stroke-linejoin="miter"/>
<path d="M253.4 906.4H271.4M253.4 790.9H271.4M253.4 675.5H271.4M253.4 560H271.4M253.4 444.5H271.4M253.4 329.1H271.4M253.4 213.6H271.4M253.4 98.1H271.4M261.4 848.7H271.4M261.4 733.2H271.4M261.4 617.7H271.4M261.4 502.3H271.4M261.4 386.8H271.4M261.4 271.3H271.4M261.4 155.9H271.4M261.4 40.4H271.4M367.2 906.4V924.4M527 906.4V924.4M686.7 906.4V924.4M846.4 906.4V924.4M1006.1 906.4V924.4M1165.9 906.4V924.4M1325.6 906.4V924.4M1485.3 906.4V924.4M1645 906.4V924.4M1804.8 906.4V924.4M1964.5 906.4V924.4M2124.2 906.4V924.4M287.4 906.4V916.4M447.1 906.4V916.4M606.8 906.4V916.4M766.5 906.4V916.4M926.3 906.4V916.4M1086 906.4V916.4M1245.7 906.4V916.4M1405.4 906.4V916.4M1565.2 906.4V916.4M1724.9 906.4V916.4M1884.6 906.4V916.4M2044.3 906.4V916.4" stroke="#1e1e1e" stroke-width="3" fill="none"/>
<text x="242.5" y="918.4" font-size="46" text-anchor="end" fill="#1e1e1e" >0</text>
<text x="242.5" y="802.9" font-size="46" text-anchor="end" fill="#1e1e1e" >200</text>
<text x="242.5" y="687.5" font-size="46" text-anchor="end" fill="#1e1e1e" >400</text>
<text x="242.5" y="572" font-size="46" text-anchor="end" fill="#1e1e1e" >600</text>
<text x="242.5" y="456.5" font-size="46" text-anchor="end" fill="#1e1e1e" >800</text>
<text x="242.5" y="341.1" font-size="46" text-anchor="end" fill="#1e1e1e" >1000</text>
<text x="242.5" y="225.6" font-size="46" text-anchor="end" fill="#1e1e1e" >1200</text>
<text x="242.5" y="110.1" font-size="46" text-anchor="end" fill="#1e1e1e" >1400</text>
<text x="367.2" y="971.4" font-size="46" text-anchor="middle" fill="#1e1e1e" >250</text>
<text x="527" y="971.4" font-size="46" text-anchor="middle" fill="#1e1e1e" >500</text>
<text x="686.7" y="971.4" font-size="46" text-anchor="middle" fill="#1e1e1e" >750</text>
<text x="846.4" y="971.4" font-size="46" text-anchor="middle" fill="#1e1e1e" >1000</text>
<text x="1006.1" y="971.4" font-size="46" text-anchor="middle" fill="#1e1e1e" >1250</text>
<text x="1165.9" y="971.4" font-size="46" text-anchor="middle" fill="#1e1e1e" >1500</text>
<text x="1325.6" y="971.4" font-size="46" text-anchor="middle" fill="#1e1e1e" >1750</text>
<text x="1485.3" y="971.4" font-size="46" text-anchor="middle" fill="#1e1e1e" >2000</text>
<text x="1645" y="971.4" font-size="46" text-anchor="middle" fill="#1e1e1e" >2250</text>
<text x="1804.8" y="971.4" font-size="46" text-anchor="middle" fill="#1e1e1e" >2500</text>
<text x="1964.5" y="971.4" font-size="46" text-anchor="middle" fill="#1e1e1e" >2750</text>
<text x="2124.2" y="971.4" font-size="46" text-anchor="middle" fill="#1e1e1e" >3000</text>
<text x="290.5" y="108" font-size="52" text-anchor="start" fill="#1e1e1e" >(a)</text>
<text x="1139" y="110.5" font-size="40" text-anchor="start" fill="#1e1e1e" >G-band</text>
<text x="987.3" y="507.5" font-size="40" text-anchor="start" fill="#1e1e1e" >D-band</text>
<text x="1865.1" y="612" font-size="40" text-anchor="start" fill="#1e1e1e" >2D-band</text>
<path d="M1218.2 125V906.4" stroke="#2a2a2a" stroke-width="3" stroke-dasharray="10 9" fill="none"/>
<path d="M1071.3 527.7V906.4" stroke="#2a2a2a" stroke-width="3" stroke-dasharray="10 9" fill="none"/>
<path d="M1942.8 650V906.4" stroke="#2a2a2a" stroke-width="3" stroke-dasharray="10 9" fill="none"/>
<rect x="1706" y="71" width="351.5" height="52" fill="#fff" stroke="#959595" stroke-width="2.4"/>
<path d="M1724 98.6H1819" stroke="#ff9cff" stroke-width="3.5"/>
<text x="1831" y="113.5" font-size="43" text-anchor="start" fill="#1e1e1e" >Carbon rod</text>
<text x="72" y="505.8" font-size="54" text-anchor="middle" fill="#1e1e1e" transform="rotate(-90 72 505.8)">Intensity (Counts)</text>
<g clip-path="url(#cb)"><path transform="scale(.5)" d="M546 3166l1-8 2 5 1-32 1-95 1 141 2-117 1-15 1 75 1 16 2-53 1-34 1-44 2 59 1-32 1 94 1 20 2 39 1-26 1-36 2-25 1 70 1-98 1 42 2 25 1 6 1-128 1 86 2 49 1 3 1-128 2 111 1-81 1-10 1 172 2-169 1 72 1 41 2-25 1-50 1 9 1-3 2 54 1-92 1-10 1-15 2 38 1-40 1-9 2 64 1-8 1 14 1 2 2-14 1 118 1-64 2-36 1 119 1-30 1-139 2 122 1-27 1-38 1 39 2 18 1-16 1-3 2 7 1-34 1-65 1 57 2-57 1 40 1-4 1 12 2 41 1-33 1 6 2 65 1-85 1 8 1 10 2 43 1 94 1-186 2 70 1 96 1-128 1 61 2-63 1 37 1-57 1 42 2-2 1 6 1-50 2 116 1-113 1 22 1 57 2-25 1 20 1-23 2-41 1 74 1-65 1-10 2 14 1-43 1 74 1-36 2-82 1 111 1 7 2-7 1-28 1 54 1-18 2 68 1-33 1-2 1 5 2-34 1-53 1 48 2 42 1-190 1 119 1 71 2-72 1 55 1-22 2 4 1-74 1 75 1-24 2-25 1-41 1-8 1 101 2-104 1 40 1-43 2 5 1 73 1-28 1 15 2-33 1-61 1 74 2 32 1-151 1 164 1-48 2 0 1 57 1-98 1-14 2 52 1-8 1 9 2 73 1-96 1 68 1-15 2-65 1-27 1 83 2-96 1-31 1 73 1 10 2-15 1 27 1 20 1-72 2-5 1 56 1-5 2 9 1 2 1 12 1 24 2-114 1 59 1-21 1-81 2 107 1-50 1 90 2-34 1-62 1 45 1 56 2 5 1-87 1 60 2-74 1 19 1 29 1-11 2-37 1 35 1 47 1-59 2 34 1-5 1-36 2 13 1-31 1 58 1 14 2-4 1-32 1 57 2-19 1 24 1-2 1-26 2-118 1 131 1-28 1 9 2 14 1-8 1-88 2 104 1-84 1 45 1 71 2-9 1-7 1 29 2-100 1 34 1-4 1 73 2-67 1 47 1-134 1 116 2-16 1-5 1 42 2-3 1 2 1-55 1 72 2-24 1-21 1 35 1 44 2-7 1-33 1 26 2-85 1 43 1 4 1 45 2-67 1 88 1-20 2-12 1-134 1 135 1 13 2-89 1 20 1 47 1-73 2 127 1-42 1 53 2-47 1-25 1-110 1 95 2 1 1 71 1 4 2-29 1-59 1 87 1 60 2-140 1-1 1 82 1-58 2-28 1 0 1 120 2-69 1 38 1-74 1 39 2 58 1-55 1-19 1 94 2-7 1-28 1-14 2 13 1 56 1-10 1-65 2-18 1 58 1-44 2-72 1 91 1 11 1 13 2-49 1 12 1 0 1-9 2 5 1 30 1-4 2-54 1 117 1-95 1 36 2-39 1-44 1 80 2 11 1-6 1-59 1-5 2 59 1-20 1-47 1 53 2 87 1-28 1-13 2-36 1 40 1-81 1 23 2-29 1 94 1-84 2 50 1-52 1-22 1 10 2 30 1 76 1 4 1 100 2-194 1 10 1 11 2 91 1-161 1 145 1-63 2 106 1-39 1-74 1 11 2 90 1-39 1-48 2 125 1-106 1 96 1-79 2 29 1-50 1 89 2-31 1 1 1-42 1 41 2 31 1-18 1-50 1 42 2-57 1 45 1-35 2 80 1-66 1-44 1 20 2-17 1-15 1 122 2-91 1-4 1 26 1 41 2-71 1-3 1-115 1-1 2 43 1-6 1-49 2-79 1-13 1-181 1 76 2-133 1-97 1-93 1-8 2-100 1-90 1-76 2-16 1-54 1-39 1-62 2 192 1-27 1 27 2 199 1-91 1 30 1 86 2-21 1-5 1 94 1-1 2 77 1-1 1-18 2 27 1-57 1 110 1 71 2-73 1 22 1 46 2 100 1-13 1 3 1-92 2 44 1 39 1-7 1 42 2 34 1-15 1-14 2 79 1-4 1 19 1-54 2-45 1 97 1-4 2 27 1-48 1 39 1-4 2 9 1-152 1 114 1 30 2-6 1-57 1-2 2 37 1 107 1-134 1-1 2 16 1 17 1 21 1-49 2 72 1-60 1 73 2-2 1 5 1 8 1-1 2-56 1-35 1 108 2 17 1-104 1 75 1-26 2 8 1-33 1 85 1-92 2 18 1 141 1-92 2 12 1-33 1 23 1 33 2-17 1-30 1 15 2 10 1-108 1 78 1 74 2-58 1-13 1 57 1-56 2 39 1 59 1-125 2-19 1-5 1 30 1 16 2-42 1-12 1-25 2-20 1 24 1 65 1-25 2 63 1-98 1 6 1-28 2 32 1-50 1 106 2-48 1 27 1-1 1 73 2-47 1 58 1-77 1 18 2-38 1 91 1-60 2-12 1 96 1-183 1 55 2 58 1-123 1 26 2 178 1-101 1 16 1-31 2 47 1-32 1-15 1 120 2-121 1-59 1 59 2-47 1-20 1 61 1-5 2 0 1 38 1-125 2 85 1-5 1-18 1-24 2 133 1-15 1-54 1-18 2 82 1 8 1-100 2 3 1 48 1-77 1 94 2 26 1-13 1-48 1 17 2-53 1 108 1 18 2-109 1 75 1-28 1-16 2 61 1 14 1-84 2 141 1-180 1 137 1-120 2 24 1 4 1-11 1 17 2 71 1-102 1 33 2-15 1 28 1 7 1-55 2 0 1 33 1 68 2-12 1 4 1-99 1 29 2 20 1 11 1 27 1-71 2 86 1-8 1-78 2 10 1 33 1 55 1 1 2-97 1 22 1-51 2 91 1-18 1 40 1-119 2 155 1-106 1-46 1 119 2 23 1-19 1 20 2-81 1 20 1 39 1-29 2-82 1 82 1 7 1-14 2 38 1-19 1-88 2 66 1 90 1-47 1 64 2-73 1-33 1 81 2-146 1 13 1 22 1 71 2-34 1-24 1-18 1-14 2 158 1-66 1 21 2-37 1-24 1-95 1 110 2-46 1 37 1 8 2-82 1 132 1-81 1-64 2-61 1 181 1 19 1 16 2-39 1-18 1 0 2-50 1 66 1-28 1 91 2-45 1-23 1 299 2-310 1-35 1 38 1-6 2 10 1 27 1-28 1 28 2-29 1 1 1-1 2 66 1-57 1-82 1 37 2 54 1 23 1-77 1 45 2 82 1-60 1-97 2 154 1-79 1 38 1-31 2 17 1 21 1 78 2-107 1-10 1 8 1 43 2-20 1-128 1 152 1-36 2 42 1-46 1-21 2-43 1 45 1 10 1-15 2-9 1 27 1 0 2-56 1 88 1-28 1 38 2-17 1-91 1 100 1-54 2-72 1 72 1 31 2 29 1 80 1-71 1-1 2-84 1 12 1 90 1-85 2 57 1-111 1 16 2 37 1 48 1-97 1 40 2-12 1 28 1 36 2-47 1 73 1-72 1 28 2 83 1-95 1 25 1 16 2-13 1-37 1 86 2-2 1-79 1 25 1 86 2-81 1 82 1-106 2 20 1-8 1 90 1-31 2-72 1 101 1-84 1 33 2-15 1 44 1-62 2 9 1-20 1-71 1 119 2-12 1 50 1-123 2 92 1-49 1 84 1-39 2-38 1 6 1 33 1-53 2 33 1-44 1 54 2-42 1 45 1-82 1 52 2-8 1 23 1-77 1 33 2 12 1-76 1 87 2-89 1-34 1 138 1-133 2 5 1 6 1-18 2 64 1-89 1 5 1 75 2-64 1 45 1-64 1 44 2-49 1 70 1-43 2-8 1-11 1-65 1-50 2 172 1-112 1 52 2 0 1 0 1-7 1-3 2-43 1-21 1 44 1 15 2-24 1 9 1-65 2 131 1 22 1-51 1-25 2 27 1-19 1 133 2-82 1-2 1 34 1-32 2-14 1-25 1 66 1 40 2-89 1-64 1 90 2 9 1 59 1-48 1-55 2 170 1-130 1 142 1-151 2 35 1 55 1-22 2-58 1 127 1-96 1 30 2 30 1-59 1 173 2-96 1 50 1-46 1-23 2 224 1-207 1 2 1 40 2-20 1-49 1 34 2-56 1 116 1 10 1-105 2 110 1-110 1 54 2-30 1 45 1-60 1-12 2 6 1 31 1 78 1-98 2 38 1-52 1 122 2-84 1 38 1-17 1-39 2 2 1-25 1 41 1-4 2 10 1 63 1-95 2 81 1-13 1-40 1 47 2-9 1 87 1-69 2 11 1-21 1-49 1 34 2-5 1-11 1-39 1-3 2 28 1 28 1-49 2 51 1-5 1-21 1 33 2 26 1 6 1-40 2-23 1-18 1 60 1-43 2 8 1 20 1-127 1 138 2 4 1-42 1-60 2 81 1-73 1 100 1-27 2-9 1 2 1-14 2 6 1 4 1 33 1-64 2 18 1-9 1-41 1 28 2 10 1-51 1 78 2 47 1-43 1 27 1-42 2-1 1-8 1-16 1-15 2 7 1 12 1 18 2 7 1 27 1-38 1 34 2-29 1-47 1 26 2 37 1-46 1-17 1 71 2-117 1 21 1 54 1-55 2 35 1-16 1 63 2-18 1-11 1 26 1-17 2 45 1-20 1-66 2 35 1-88 1 12 1 66 2-18 1 114 1-137 1-18 2 78 1 0 1-10 2-55 1-15 1 85 1-26 2-40 1 13 1 20 1-35 2 59 1 24 1-90 2-6 1-26 1 68 1 22 2-40 1 5 1-7 2 6 1-61 1 43 1-45 2 86 1 12 1-83 1 90 2-3 1-2 1 30 2-99 1-53 1 47 1-12 2 50 1 26 1-65 2 72 1 16 1-30 1-83 2 29 1 27 1 35 1-6 2-55 1 17 1 29 2-83 1 77 1 42 1-60 2-57 1 15 1-10 2 75 1-55 1 13 1 16 2 39 1-104 1 49 1 28 2-57 1-78 1 175 2-77 1-68 1-1 1 125 2-22 1 66 1-89 1 67 2-21 1-109 1 115 2 25 1-81 1-9 1-2 2-53 1 92 1-25 2-35 1 46 1-81 1 17 2 41 1 9 1-10 1-13 2 101 1-30 1-23 2 3 1-10 1-1 1-31 2 18 1-30 1 1 2 16 1 16 1 14 1-68 2 55 1-30 1-26 1 26 2 80 1-37 1-122 2 161 1-129 1 105 1-53 2-44 1 93 1-91 2 145 1-93 1 22 1-48 2-16 1-19 1 2 1 69 2 22 1-61 1 44 2 70 1 3 1-79 1 0 2-22 1-6 1 81 1-86 2 65 1-63 1 11 2-73 1 54 1 41 1-14 2-14 1-24 1-10 2 73 1 6 1-80 1 32 2-49 1 25 1-55 1 47 2 83 1-37 1-44 2 71 1-48 1-31 1-21 2 11 1 106 1-122 2 93 1-45 1 40 1-80 2 44 1-15 1-9 1 22 2 24 1-93 1 36 2-9 1 113 1 10 1-165 2 43 1 110 1-98 1 14 2 48 1-26 1-101 2 113 1-54 1 57 1 31 2-177 1 77 1 51 2-5 1-5 1 35 1-68 2-15 1 53 1-18 1 56 2-71 1 100 1-85 2-70 1 77 1-135 1 170 2-39 1-11 1-43 2-13 1 45 1 74 1-132 2 34 1-8 1 107 1-93 2 28 1-51 1-35 2 114 1-33 1-7 1 35 2-60 1 1 1 62 2-2 1-51 1 90 1-94 2-25 1-1 1 79 1-122 2-14 1 141 1-128 2 18 1 17 1 72 1-80 2 93 1-53 1-35 1 12 2 34 1-30 1 20 2-19 1 45 1 17 1-28 2 29 1-105 1-65 2 83 1-22 1 97 1-41 2 42 1-78 1 22 1 49 2-107 1 63 1-37 2-5 1-24 1 5 1 54 2 12 1 17 1 18 2-123 1 102 1-87 1 100 2-7 1-74 1 50 1 28 2-106 1 126 1-20 2-66 1-36 1 66 1 36 2-135 1 97 1 27 2-33 1-47 1 174 1-77 2-78 1 7 1 20 1 8 2-32 1-22 1 70 2-6 1-53 1 47 1 43 2-51 1 40 1-76 1-12 2 65 1-24 1-22 2-40 1 9 1 31 1-6 2-45 1 29 1 5 2 68 1-56 1-12 1 14 2 48 1 33 1-106 1-2 2 21 1 43 1 80 2-117 1-37 1 27 1 39 2-15 1 28 1-131 2 108 1-95 1 49 1-70 2 125 1-23 1 12 1-2 2-8 1 24 1-25 2-23 1-85 1 90 1 46 2-95 1-34 1 170 1-132 2 80 1 19 1-109 2-37 1-17 1 78 1 17 2-25 1-18 1-14 2-21 1 41 1-8 1 16 2-18 1 9 1-45 1 32 2 128 1-161 1 106 2-137 1 7 1 64 1-50 2 119 1-26 1 23 2-45 1 14 1-6 1 6 2-59 1 67 1 21 1-23 2-14 1 2 1 67 2-22 1-7 1 30 1 32 2-42 1 91 1-198 2 142 1-41 1-6 1-90 2-2 1-10 1 97 1 28 2-58 1 154 1-109 2 32 1-30 1-33 1 83 2-57 1 5 1 1 1-10 2 42 1-12 1 14 2 56 1-134 1 38 1 3 2 62 1 51 1-88 2 55 1-119 1 5 1 104 2-81 1 30 1 38 1 65 2-91 1-10 1 2 2 66 1-23 1 2 1 3 2 32 1-73 1 25 2 46 1-33 1-22 1 32 2 4 1-17 1 72 1-62 2 64 1-36 1-43 2 79 1-69 1 25 1-28 2 131 1 110 1-129 2-130 1 81 1 28 1-9 2-15 1 31 1-105 1 100 2 67 1 2 1-46 2-1 1-32 1-1 1 1 2 92 1-58 1 51 1-31 2 56 1-96 1 1 2 48 1 59 1-81 1 36 2 73 1-79 1-6 2 20 1 98 1-99 1-7 2 68 1-66 1 27 1-15 2 113 1-56 1-28 2 84 1-63 1-61 1 134 2-115 1 23 1 75 2 0 1 5 1-45 1 109 2-117 1 90 1-43 1 5 2-44 1 72 1-4 2-77 1-16 1 69 1 15 2-22 1 10 1 4 1 41 2 50 1-93 1 13 2-44 1 3 1-19 1 85 2-45 1 78 1-56 2-8 1 49 1-22 1-96 2 128 1-71 1 56 1-47 2 134 1-47 1-39 2-71 1 100 1 13 1-200 2 127 1 162 1-133 2 11 1 9 1-30 1 45 2-50 1-1 1-41 1 53 2 16 1 39 1-21 2 29 1-99 1 138 1-102 2-1 1-7 1 42 2-99 1 95 1 48 1-34 2 4 1-76 1 50 1 34 2 0 1-28 1 12 2-14 1-41 1 89 1-26 2-33 1 64 1-79 1-28 2 47 1-27 1 43 2-13 1-10 1 12 1-47 2 63 1-51 1 50 2-74 1 8 1 38 1 65 2-18 1 68 1-129 1 50 2 11 1-28 1 55 2-35 1-24 1-29 1-46 2 113 1-64 1 57 2 17 1-52 1 16 1 55 2-55 1-74 1 101 1 0 2-74 1 36 1 37 2-45 1 37 1 9 1-43 2 48 1-62 1-30 1 83 2 1 1 2 1-25 2 28 1-33 1-26 1 70 2-49 1-34 1 11 2 65 1-80 1 82 1-73 2 96 1-81 1 34 1 1 2 3 1 21 1-53 2 11 1 63 1-26 1-58 2-10 1 71 1-80 2-11 1 101 1-9 1-126 2 78 1 17 1 30 1-59 2 41 1-31 1 7 2-10 1-7 1 35 1-28 2-5 1 32 1 17 2-36 1-48 1 65 1 10 2-29 1 29 1-20 1 4 2 20 1-34 1 45 2-4 1 35 1-33 1-36 2-35 1-68 1 116 1 12 2-88 1 125 1-85 2 22 1-49 1 67 1-13 2 69 1-39 1-21 2 20 1 6 1-65 1 93 2 8 1-6 1-27 1 9 2-23 1 15 1-90 2 90 1-20 1-27 1-65 2 91 1 14 1-57 2 51 1 43 1-1 1-41 2 35 1-91 1 24 1-47 2 53 1 21 1-38 2 1 1 57 1-96 1 55 2-23 1 50 1-58 2-45 1 88 1 30 1-42 2 0 1-19 1 82 1-95 2 27 1 21 1 34 2-52 1-32 1 22 1 0 2 16 1-9 1 61 1-105 2 17 1 47 1-11 2 53 1-19 1-47 1 41 2 15 1-29 1-34 2 62 1-57 1-4 1-2 2 4 1 17 1 13 1-47 2 70 1-79 1 92 2-38 1-17 1 75 1-86 2-21 1 80 1-32 2-42 1 6 1-9 1 95 2-51 1-51 1 98 1-8 2-42 1 0 1 49 2-16 1-31 1-9 1-64 2 32 1 25 1 10 1-28 2-70 1 109 1 19 2 13 1-45 1 43 1 27 2-41 1 1 1-64 2-23 1 74 1 1 1-57 2 38 1 14 1-45 1 65 2-58 1-53 1 130 2-70 1 25 1-56 1 12 2 67 1-25 1 27 2-70 1 71 1-28 1-37 2 51 1 23 1 3 1-4 2-31 1 5 1-27 2 18 1-46 1 15 1-24 2 73 1 22 1-92 2 33 1 91 1-55 1-37 2-28 1-42 1 45 1 31 2 27 1 14 1-5 2 16 1-39 1-40 1 20 2 55 1-61 1-16 1 46 2 4 1-9 1-17 2 89 1-39 1 17 1-49 2-17 1 38 1-57 2 31 1-4 1 7 1 46 2-104 1 54 1 68 1-82 2-10 1 79 1-50 2-54 1 37 1 16 1 2 2-14 1 52 1-20 2-26 1 11 1-48 1 113 2-139 1 92 1 7 1-21 2-41 1 47 1-57 2 6 1 39 1 8 1 0 2-15 1 59 1-100 2 47 1-7 1 33 1-1 2-77 1 122 1-76 1 36 2 86 1-137 1 57 2-55 1 38 1 64 1-71 2 39 1-33 1 4 1-27 2 13 1 14 1 12 2 31 1 23 1-82 1 52 2-26 1-41 1-6 2-1 1 24 1-9 1 1 2 6 1 51 1-51 1-23 2 35 1-6 1 91 2-50 1-121 1 121 1-56 2-24 1 9 1 29 2 8 1 44 1-106 1 58 2-38 1 97 1 13 1 2 2-99 1 40 1-1 2-19 1 7 1-2 1 30 2 11 1-40 1-30 1 55 2-23 1 16 1-29 2 58 1-109 1 5 1 59 2 8 1 56 1-93 2 27 1-7 1 70 1-83 2-39 1 103 1-30 1-52 2 19 1 0 1-85 2 59 1 44 1 88 1-75 2 42 1-2 1-90 2 83 1-33 1-55 1 76 2-7 1 23 1-24 1 40 2-64 1 33 1-41 2 6 1 13 1-7 1 19 2-33 1-13 1 16 2-33 1 41 1 8 1-19 2 74 1-39 1 55 1-81 2-24 1 79 1-20 2-5 1-62 1 28 1-33 2 23 1-1 1 91 1 7 2-120 1-92 1 181 2-4 1-81 1-33 1 114 2-16 1-58 1 22 2 1 1-18 1 71 1-8 2-87 1 114 1-89 1 49 2-66 1 52 1 4 2-48 1 41 1 0 1 85 2-105 1 26 1-44 2 52 1 26 1-89 1 48 2 9 1 39 1-100 1 17 2 69 1-63 1 8 2-25 1 43 1-77 1 149 2-13 1-83 1-8 2 16 1-71 1 72 1 72 2-117 1 53 1 16 1-35 2 0 1 35 1-44 2 15 1 20 1-1 1 71 2-43 1-2 1-13 1-67 2 54 1 15 1 35 2-30 1 18 1 4 1-36 2 60 1-84 1-9 2 31 1 36 1-13 1 8 2-71 1 3 1-15 1 74 2-9 1-34 1 67 2-16 1-56 1 56 1 9 2-47 1 26 1 13 2-27 1 67 1-88 1 19 2-6 1 5 1-17 1 87 2-65 1-49 1 77 2 6 1-5 1 27 1-144 2 104 1-36 1 63 1-9 2 9 1 21 1-36 2-60 1 67 1-62 1-36 2 54 1-28 1-6 2 67 1-5 1 46 1-48 2-59 1 32 1 15 1 10 2 13 1-16 1-98 2 36 1 34 1 18 1 16 2-25 1 16 1-5 2-2 1-141 1 122 1-53 2 85 1 1 1 16 1-47 2 47 1-23 1-68 2 29 1 31 1-2 1 111 2-36 1-102 1 64 2-8 1-60 1 78 1-52 2 15 1-17 1 8 1-65 2 36 1-31 1 81 2-21 1-17 1-48 1 28 2 38 1 42 1-46 1 43 2-3 1-14 1-6 2 8 1-65 1 45 1 33 2-38 1 58 1-69 2-9 1-2 1 63 1-74 2 3 1-35 1 44 1 20 2 9 1 16 1 9 2-8 1-61 1 43 1-7 2 16 1-30 1-17 2 4 1 65 1-33 1-84 2 62 1 15 1 19 1 34 2 14 1-53 1-13 2 32 1-25 1-24 1 1 2-21 1 93 1-61 1-12 2 15 1 50 1 12 2-116 1 81 1-31 1 32 2 7 1-43 1-17 2 34 1 7 1-40 1 38 2 2 1 11 1 3 1-17 2 3 1 4 1 4 2-71 1 62 1 25 1-105 2 40 1 53 1 44 2-92 1 59 1-25 1 91 2-117 1-14 1 46 1 3 2-5 1 41 1-3 2-77 1 48 1-11 1 4 2-33 1 31 1-22 2-6 1 44 1-14 1-21 2-17 1 18 1-3 1 52 2-19 1-30 1 23 2-6 1-6 1-51 1 86 2-63 1 6 1 15 1 34 2-25 1 18 1-46 2 28 1-4 1 35 1-73 2 111 1-150 1 118 2-13 1-4 1 35 1-84 2 61 1 7 1-67 1 17 2 79 1-10 1-47 2-7 1-18 1 26 1-49 2 5 1 22 1 13 2-38 1-10 1 38 1 12 2-29 1 44 1-30 1-14 2 64 1-11 1 40 2-47 1-36 1 33 1-33 2 15 1 28 1-74 2 52 1-40 1 19 1 16 2-61 1 72 1 8 1-66 2 31 1 38 1-13 2 32 1-64 1-20 1 21 2-7 1-21 1 39 1 31 2-2 1-36 1 4 2 1 1 46 1-38 1-50 2 47 1-40 1 31 2 19 1-49 1-18 1 34 2-20 1 57 1 23 1 24 2-63 1-50 1 70 2 30 1-51 1 3 1 2 2 34 1-87 1 75 2-13 1 47 1-73 1-40 2 24 1 77 1-66 1 64 2-29 1 5 1-39 2 8 1 28 1-6 1-54 2 100 1-32 1-93 1 68 2 36 1-52 1-15 2 65 1-29 1 14 1-46 2 15 1 30 1-52 2 47 1-88 1 28 1 54 2-19 1-32 1 22 1 55 2-17 1 0 1-7 2 52 1-85 1-94 1 113 2 0 1 13 1-27 2 41 1 63 1-102 1 97 2-57 1-80 1 29 1 23 2-4 1 96 1-112 2 35 1-56 1 30 1-11 2 76 1 3 1-126 2 78 1 7 1-65 1 27 2-2 1-39 1 51 1 18 2 8 1 60 1-71 2 2 1 17 1-108 1 118 2-18 1 6 1-4 1-41 2 39 1-36 1-68 2 101 1 9 1-4 1-64 2 30 1 1 1 26 2 6 1-87 1 8 1 91 2 2 1-14 1-1 1-50 2-19 1 53 1 30 2-67 1-18 1 106 1-64 2 45 1 0 1-2 2-82 1 37 1 38 1-23 2-16 1 65 1-74 1 59 2-8 1-86 1 175 2-156 1-2 1 49 1-51 2 35 1 27 1-36 2 32 1-7 1 21 1-131 2 57 1-5 1 99 1-20 2-3 1 11 1-33 2 27 1-95 1 8 1 104 2-102 1 89 1-75 1 31 2 5 1-10 1 36 2 20 1-112 1 122 1-83 2 62 1-51 1 18 2-8 1 35 1-42 1-55 2 39 1-20 1 68 1-8 2-42 1 88 1-96 2 39 1 7 1-64 1 86 2-84 1 97 1 3 2-82 1-5 1 94 1-57 2-69 1 72 1 48 1-35 2-12 1 7 1 34 2-18 1-37 1-10 1 27 2-20 1 10 1 63 1-114 2 6 1 49 1 7 2-8 1-3 1-23 1-6 2 46 1 27 1 2 2-99 1 68 1 36 1 42 2-106 1 27 1-3 1 45 2-20 1 5 1-26 2-69 1 92 1 23 1-78 2 4 1 49 1-21 2 32 1-98 1 52 1 73 2-90 1-4 1 92 1-55 2 1 1 59 1 8 2-174 1 146 1-61 1-6 2-12 1 5 1 30 2 34 1 16 1-64 1 52 2-70 1 44 1-54 1 108 2-124 1 77 1-31 2 68 1-75 1 17 1-33 2 17 1-53 1 136 1-41 2 33 1-45 1-40 2 1 1 59 1 10 1-47 2-8 1 77 1-57 2 32 1-44 1 41 1-65 2 61 1-25 1-115 1 273 2-143 1-5 1-20 2-3 1 10 1 32 1-17 2-27 1 77 1-93 2 41 1-50 1 61 1-32 2 27 1-43 1-9 1 63 2-46 1 31 1-29 2 43 1-1 1-33 1-17 2 27 1-9 1 33 2-52 1 38 1 33 1-93 2 104 1-93 1 39 1-10 2-65 1 103 1 16 2 13 1-48 1-43 1 51 2-7 1-8 1 18 1-17 2 54 1 33 1-49 2-6 1-62 1 29 1 51 2-85 1 15 1 55 2-97 1 66 1 33 1-16 2-37 1 17 1 53 1-101 2 64 1 23 1-20 2-15 1-52 1 8 1 116 2-52 1-13 1-7 2-26 1 11 1 64 1-102 2 35 1 93 1-103 1 28 2 60 1-53 1-18 2 15 1 34 1-20 1 4 2 7 1-36 1 53 1-42 2-10 1-17 1 16 2 31 1 3 1 7 1-81 2 76 1 15 1-17 2-43 1-6 1 90 1-95 2 41 1-67 1 10 1 77 2 11 1 2 1-21 2-27 1-1 1-3 1-8 2 34 1-8 1-17 2-27 1 50" fill="none" stroke="#0000ff" stroke-width="2.0" stroke-linejoin="round" stroke-opacity="0.4"/></g>
<g clip-path="url(#cb)"><path transform="scale(.5)" d="M546 3076l1 25 1-4 0 72 1-150 1 23 1 51 0-39 1 17 1 29 1-54 0 46 1 0 1 17 1-44 0 19 1-21 1 40 1-24 1 37 0-60 1 25 1-3 1-1 0 52 1-62 1-43 1 133 0 5 1-6 1-81 1 27 1-32 0 14 1 20 1-1 1 17 0-35 1 71 1-25 1-23 0-55 1 91 1 12 1-18 0-55 1 42 1-54 1 112 1-107 0 3 1 86 1-55 1-38 0 39 1-32 1-48 1 74 0 20 1 17 1-49 1 30 0 0 1-2 1-26 1 61 1 18 0 32 1-127 1 40 1-50 0 54 1 28 1-42 1 20 0 41 1-13 1-93 1 49 1-2 0 24 1 14 1-57 1 35 0 21 1-23 1 27 1-40 0-34 1 68 1-80 1 73 0-31 1 34 1-23 1-11 1 16 0 8 1-2 1 5 1 25 0-46 1-24 1-19 1 9 0-64 1 74 1 27 1-82 1 101 0-71 1 67 1-46 1 80 0-100 1 37 1 29 1-93 0 32 1 26 1 28 1-24 0 5 1-30 1-1 1 52 1-4 0 1 1 30 1-26 1-16 0-27 1-20 1 76 1-47 0 36 1-86 1 75 1-19 0 51 1-4 1-34 1 21 1-25 0 69 1-77 1 56 1-91 0 71 1-47 1 89 1-63 0 47 1-13 1-16 1 14 1-20 0-16 1 5 1 28 1 45 0-19 1-20 1 68 1-101 0 35 1 0 1-42 1 9 0 14 1 42 1-48 1-3 1 42 0-70 1 17 1 85 1-75 0 46 1-87 1 9 1 65 0-10 1-37 1 10 1-63 0 26 1 34 1-31 1 90 1-82 0-21 1 36 1 19 1-45 0-50 1 62 1 46 1-90 0 116 1-84 1 38 1-54 1 63 0-78 1 36 1 71 1 7 0-58 1-58 1 40 1 2 0 10 1-35 1 12 1 2 0 44 1-77 1-7 1 95 1-128 0 56 1 43 1 50 1-91 0 4 1 40 1 42 1-104 0 61 1-4 1-118 1 26 1 41 0 49 1-40 1 104 1-87 0 30 1 17 1 10 1-77 0 14 1-4 1-26 1 58 0 12 1 18 1-53 1-42 1 31 0-30 1 64 1-27 1 10 0 16 1-113 1 35 1 57 0-1 1-27 1 50 1-68 0 63 1-34 1 23 1-20 1 31 0 9 1-21 1-10 1-14 0-12 1-52 1 26 1 39 0-34 1 51 1-76 1 32 1 68 0-75 1-2 1 125 1-69 0-10 1 51 1-31 1-6 0-53 1 7 1-84 1 107 0-57 1 37 1-8 1 50 1 25 0-42 1-57 1-30 1 33 0 2 1 46 1-87 1 6 0 66 1-19 1 33 1-90 0 37 1 16 1-19 1-2 1 28 0 29 1 1 1 15 1-79 0-64 1 141 1-67 1-11 0 50 1-43 1 47 1-83 1 65 0-24 1-21 1 41 1 49 0-45 1-46 1 31 1-11 0 48 1-42 1-20 1 26 0-66 1 77 1 32 1 22 1-98 0 45 1-37 1 23 1-41 0 15 1 62 1-22 1-26 0 85 1-93 1 11 1 11 0 45 1-16 1 53 1-40 1 25 0-22 1 23 1-25 1-30 0 91 1-79 1 106 1 7 0-73 1-4 1-15 1 75 1-56 0-8 1-41 1 48 1-23 0 54 1-30 1 9 1-43 0 60 1-6 1-52 1-44 0 50 1 2 1 23 1-53 1 20 0-43 1 51 1 46 1-13 0 17 1 10 1-88 1 18 0 75 1-105 1 56 1 46 1-46 0 18 1 28 1 44 1-67 0-7 1 104 1-108 1 1 0 41 1-18 1 15 1 23 0-15 1-59 1 101 1-59 1 3 0 33 1-8 1 34 1-19 0-30 1-11 1 44 1-139 0 128 1-23 1 12 1 7 0-60 1 63 1-63 1 6 1 78 0-73 1 60 1-117 1 111 0 20 1 35 1-20 1-24 0 16 1 10 1-17 1-15 1-56 0 111 1-39 1 15 1 21 0-8 1-12 1-56 1 33 0 12 1-40 1 12 1 17 0-22 1 42 1-50 1 5 1 30 0 27 1-95 1 48 1-103 0 127 1-53 1 45 1-25 0-20 1 55 1-24 1-9 0 1 1-17 1-15 1 7 1 20 0 21 1 26 1-14 1-7 0-42 1 35 1 31 1-63 0 49 1 0 1-18 1-23 1 98 0-43 1-43 1 19 1 18 0-9 1-64 1 65 1-39 0-2 1 43 1-29 1 32 0 8 1 19 1-66 1 45 1 6 0 21 1-97 1 37 1 31 0 20 1 30 1-61 1 2 0 58 1-85 1 14 1 59 0-12 1-4 1-18 1 11 1 51 0-104 1 40 1-31 1 1 0 49 1-18 1-12 1 0 0 31 1 15 1-21 1 28 1-8 0 50 1-69 1 37 1-14 0-16 1-11 1-52 1 56 0 55 1-49 1 25 1-32 0 37 1 2 1-5 1 6 1 40 0-37 1-20 1-39 1 51 0 5 1-30 1 3 1-34 0 34 1 21 1-43 1-6 1 66 0-20 1 62 1-43 1 18 0-22 1 10 1-10 1-2 0-20 1 8 1 26 1 23 0-83 1-6 1 60 1-34 1 69 0 0 1-42 1-58 1 81 0-7 1-79 1 114 1-82 0 6 1 23 1-11 1-77 0 123 1-24 1-2 1 16 1 23 0-93 1 47 1 65 1-33 0-34 1 1 1 61 1-42 0-11 1-4 1 1 1 71 1-117 0 52 1-50 1-34 1 96 0 35 1-67 1 34 1 8 0 18 1-86 1 67 1 30 0-30 1 22 1-41 1 18 1 20 0-53 1 39 1-44 1-18 0 51 1 8 1-29 1-23 0 28 1-6 1 4 1-13 0-13 1 41 1-10 1-20 1 21 0-29 1-16 1 15 1 13 0-3 1-95 1 17 1 52 0-26 1-113 1-8 1 27 1-60 0 70 1-78 1-52 1 67 0-67 1-91 1-55 1 16 0-81 1-98 1 20 1-15 0-92 1-31 1-100 1-1 1-9 0-159 1 62 1-73 1-41 0-31 1 3 1-24 1 25 0 63 1-17 1 32 1 37 1 28 0 68 1-32 1 25 1 160 0-60 1 42 1 83 1-94 0 50 1 5 1 22 1-50 0 6 1 46 1-3 1 40 1 1 0 43 1-16 1 39 1-26 0-2 1 33 1-16 1-39 0 188 1-61 1 36 1 10 0 46 1-39 1 21 1 22 1-7 0 18 1 68 1-119 1 53 0 27 1-42 1 39 1 57 0-107 1 95 1-50 1-10 1-42 0 9 1 39 1 36 1-10 0-51 1-23 1 47 1 46 0-57 1 53 1 5 1-1 0-28 1 14 1-21 1-8 1 31 0 106 1-20 1-63 1 11 0-76 1 81 1 7 1-37 0-1 1 49 1-22 1 60 0-4 1-76 1 97 1-81 1 11 0-1 1-4 1 15 1 99 0-39 1-12 1-53 1 74 0-13 1-11 1-57 1 100 1-1 0-69 1 100 1-86 1 30 0 42 1-40 1 22 1-40 0-5 1-38 1 55 1-2 0 26 1-18 1-36 1 108 1-91 0 45 1-19 1-7 1-17 0 23 1 24 1-24 1 13 0 9 1-13 1-22 1 28 0 1 1 53 1-40 1 63 1-91 0 61 1-79 1-60 1 120 0-61 1 34 1 34 1 10 0-49 1-30 1 37 1 65 1-16 0-29 1-58 1 37 1-2 0-33 1 48 1-6 1 1 0 53 1-83 1-2 1-24 0 73 1-18 1-66 1 17 1-42 0 76 1-43 1 28 1-39 0 25 1-41 1-23 1 13 0 87 1-101 1 17 1 53 1-5 0-31 1-19 1 37 1 44 0-66 1 6 1-80 1 135 0-135 1 30 1 53 1-46 0 58 1-29 1 62 1-27 1 41 0 20 1-45 1 14 1-43 0-25 1 52 1-9 1-5 0 66 1-70 1 9 1 1 0 37 1 30 1-63 1-21 1-38 0 7 1-12 1 39 1-29 0 48 1-30 1-11 1-62 0 88 1 56 1-95 1 79 1-26 0 9 1 24 1-80 1 28 0 43 1-23 1 18 1-37 0 37 1 14 1-4 1-8 0-26 1 44 1-30 1-20 1-68 0 54 1 137 1-90 1-5 0-26 1-45 1 29 1 109 0-94 1 8 1-12 1-33 0 88 1-79 1 100 1-60 1-11 0-68 1 107 1 36 1-85 0 49 1-79 1 82 1 6 0-76 1 43 1-33 1 88 1-110 0 80 1-50 1 65 1 19 0-46 1-16 1-51 1 44 0-13 1 2 1-88 1 140 0-74 1 50 1-14 1 29 1-60 0 86 1 3 1-39 1 34 0-66 1-8 1 61 1-55 0 52 1-22 1-1 1-67 0 67 1 34 1 0 1-76 1 102 0-42 1-3 1 74 1-71 0-54 1 27 1 41 1-57 0 6 1-55 1 100 1-12 1-14 0 6 1-7 1 8 1 22 0 34 1-36 1 31 1-11 0-16 1-36 1-12 1 71 0-47 1-16 1 32 1 59 1 20 0-104 1-4 1 24 1 48 0-90 1 10 1 45 1 7 0 62 1-96 1 85 1-83 1-2 0 23 1-54 1 67 1-32 0-8 1 18 1 23 1-59 0 28 1 21 1-2 1-11 0-77 1 78 1 11 1 28 1 5 0 24 1-77 1 7 1 37 0 16 1-42 1 8 1 29 0-58 1 7 1 7 1-28 0 52 1-70 1 87 1-53 1-3 0 34 1-21 1 59 1 9 0-44 1 20 1-44 1 21 0-19 1 13 1 5 1 5 1 17 0 5 1-88 1 135 1-56 0-42 1 21 1-35 1 30 0 65 1-33 1 37 1-85 0-17 1 66 1-36 1 34 1 36 0-36 1 39 1-36 1-28 0-19 1-21 1 57 1-21 0-7 1-5 1 120 1-73 0-55 1 68 1-48 1-20 1 96 0-59 1-14 1 9 1 56 0-65 1 33 1-47 1 15 0 35 1-23 1 31 1 2 1 32 0-45 1-35 1 26 1 6 0 22 1-2 1-43 1 80 0-125 1 75 1-77 1 35 0 57 1-40 1 17 1-6 1-11 0 48 1 4 1-6 1 34 0-38 1-16 1 0 1 2 0 22 1-41 1 99 1-56 1-2 0-42 1 7 1-4 1 29 0-31 1 69 1-37 1 77 0-133 1 5 1 76 1 9 0 45 1-20 1-57 1 10 1 45 0-34 1 6 1-40 1-9 0 32 1-12 1 4 1 71 0-80 1 7 1-30 1 89 0-93 1 48 1-33 1-34 1 92 0-6 1-82 1 73 1-7 0-54 1 27 1-34 1 16 0 12 1-35 1-42 1 79 1-55 0 13 1 36 1-13 1 49 0-10 1-31 1 12 1-46 0 91 1-35 1 13 1-17 0-45 1 82 1-70 1 50 1-8 0-45 1 45 1-32 1 21 0 12 1 7 1 49 1-32 0-30 1 0 1 60 1-85 0 16 1 66 1-8 1-53 1 78 0-34 1-24 1 2 1-2 0-17 1 41 1-12 1-89 0 118 1-34 1-20 1 23 1-66 0 37 1-25 1 115 1-132 0 0 1 65 1-72 1 35 0-24 1-30 1 58 1 39 0-33 1 44 1-16 1-1 1 0 0-63 1 12 1 61 1-69 0 98 1-33 1-16 1-45 0 17 1 11 1-27 1 21 0-21 1 75 1 32 1-43 1-41 0 19 1-20 1 7 1 6 0-9 1 53 1-61 1 73 0-29 1 45 1-65 1 71 1-99 0 95 1-54 1 14 1 26 0-71 1 59 1-65 1 87 0-7 1 42 1-87 1-11 0 24 1 15 1 26 1-110 1 55 0 88 1-51 1 77 1-142 0-13 1 17 1 51 1 19 0 27 1-66 1 43 1-11 1 8 0-11 1-40 1-27 1 52 0 5 1 38 1 3 1-5 0-66 1 22 1-24 1 18 0 28 1 29 1-30 1 35 1-116 0 59 1 21 1-81 1 80 0-33 1 24 1-18 1 23 0-29 1-33 1 90 1 31 0-123 1 39 1-25 1 38 1-64 0-11 1 100 1-65 1 42 0 32 1-47 1-32 1 64 0-4 1-90 1 39 1-15 1 52 0-19 1-31 1-6 1-4 0-57 1 44 1 55 1-30 0-36 1-55 1 63 1-18 0-21 1 18 1-3 1-28 1-51 0 12 1 23 1-31 1 58 0-88 1 7 1 14 1 69 0-135 1 178 1-72 1-5 0-59 1 80 1-64 1 14 1 5 0-42 1-21 1 38 1 24 0 73 1-135 1 64 1 56 0-72 1-46 1 59 1 39 1-124 0 60 1 11 1-25 1 117 0-76 1 4 1-88 1 103 0 0 1 30 1-21 1-22 0-18 1 17 1-81 1 55 1-6 0-26 1 26 1 42 1 37 0-69 1 43 1-78 1 75 0 54 1-83 1-37 1 47 1-14 0 1 1-56 1 52 1 13 0 21 1 39 1-109 1 11 0 78 1-55 1 13 1 29 0 1 1-36 1 75 1-21 1-12 0 2 1 11 1-11 1-7 0 57 1-31 1 26 1-69 0 110 1-38 1-29 1 39 0 6 1 11 1-26 1 56 1-35 0 6 1 52 1-57 1 31 0-23 1-16 1 23 1 58 0-49 1 71 1-26 1-82 1 60 0-51 1 63 1-5 1 41 0-71 1 41 1-28 1 6 0-3 1 8 1 12 1-1 0 23 1 48 1-90 1-56 1 34 0-43 1 63 1 49 1 1 0-59 1 15 1 17 1-30 0 56 1-46 1 28 1-14 0-34 1 46 1-50 1 3 1 72 0-104 1 122 1-38 1-28 0 103 1-112 1-3 1 42 0-12 1 2 1 15 1-43 1 49 0-11 1-14 1-16 1-9 0 88 1 19 1-64 1-2 0 36 1-46 1-12 1 9 0-42 1 92 1-36 1-65 1 44 0 61 1-44 1-33 1-30 0 48 1-16 1 77 1-29 0-50 1 73 1-31 1 62 0-114 1 54 1-24 1 70 1-7 0-107 1 73 1 6 1-37 0-1 1 85 1-34 1-35 0 1 1-12 1 26 1-5 1-17 0 30 1 5 1-10 1-19 0 6 1 11 1-9 1-7 0-13 1-1 1 55 1-77 0 87 1-74 1 42 1-44 1-16 0 99 1-85 1 12 1 24 0-29 1 29 1-20 1 39 0-62 1 7 1-5 1 48 1-84 0-4 1 71 1 12 1 0 0-36 1-11 1 61 1 44 0-84 1 17 1-6 1-12 0 56 1-40 1 13 1-23 1-28 0 40 1 29 1-72 1 18 0 30 1 54 1-31 1-36 0-14 1 36 1-34 1 36 0-8 1-34 1 26 1-14 1-26 0-9 1 58 1-13 1 37 0-2 1-55 1 27 1 45 0-82 1 46 1-19 1-25 1 1 0 14 1 66 1-88 1 39 0 27 1 27 1-121 1 40 0 1 1-18 1 23 1 47 0-73 1-13 1 16 1-36 1-13 0 92 1-13 1-46 1 25 0-1 1-25 1 6 1 41 0-20 1 28 1-18 1 32 0 29 1-50 1 3 1-51 1-24 0 54 1-15 1 38 1 9 0-22 1 0 1-21 1 5 0-54 1 64 1 48 1-62 1 25 0-31 1-34 1 59 1-21 0-23 1 47 1-42 1-14 0-12 1-11 1 16 1 2 0 60 1 42 1-62 1-84 1 43 0 80 1-65 1-29 1 76 0-85 1 57 1-76 1 34 0-106 1 152 1-57 1 61 0-92 1 35 1-27 1 29 1 44 0-17 1 21 1-6 1-41 0-32 1 8 1 12 1 38 0-36 1 47 1-36 1-21 1 37 0 11 1-1 1-36 1 31 0 39 1-34 1 23 1-89 0 52 1 52 1-61 1-16 0 12 1 26 1-19 1-4 1-26 0 22 1-67 1 86 1-62 0 52 1 60 1-20 1 22 0-4 1-103 1 64 1-46 1 51 0-31 1 35 1-67 1 38 0 6 1-10 1-83 1 60 0-14 1 73 1-21 1-34 0 76 1-111 1 39 1 11 1 7 0 2 1 10 1-65 1 26 0-18 1 54 1 21 1-78 0 92 1-21 1-46 1-13 0 85 1-37 1-10 1 5 1 25 0-54 1 41 1-11 1 69 0-76 1 64 1-94 1 6 0 35 1-25 1 2 1 8 1-18 0 16 1 12 1 11 1-87 0 53 1 7 1-26 1 39 0 0 1-37 1-12 1 12 0 76 1-54 1 2 1-18 1 47 0 5 1-34 1 25 1 6 0-37 1-37 1 27 1-37 0 74 1-63 1 24 1 28 0-18 1 14 1-25 1 17 1-73 0 56 1 36 1-45 1-21 0 24 1-43 1 62 1-3 0-88 1 57 1-19 1 1 1-3 0 18 1 8 1-45 1 56 0-22 1-20 1 39 1 41 0-70 1-21 1 29 1 69 0-81 1-46 1 124 1 41 1-86 0-11 1-24 1-1 1 26 0-16 1 8 1 8 1 6 0 3 1-30 1 10 1 30 1-54 0 63 1-17 1-14 1 72 0-54 1-43 1 1 1 70 0-12 1 9 1-29 1-5 0 55 1-66 1 9 1 7 1 22 0-15 1 58 1-69 1 3 0 12 1 39 1-85 1 7 0 106 1-78 1 10 1 96 0-107 1-4 1-2 1 19 1 28 0-6 1-36 1-25 1 57 0-9 1-35 1 98 1-93 0 21 1 66 1-106 1 56 1-62 0-22 1 90 1-4 1-43 0 58 1-89 1 18 1-29 0 96 1-72 1-11 1 77 0-95 1 78 1-55 1 52 1-74 0-32 1 57 1 1 1-46 0 61 1-18 1-27 1 13 0-40 1 12 1-26 1 67 0-40 1 68 1-61 1-30 1-22 0 126 1-37 1-31 1 56 0-50 1 0 1 36 1 2 0 13 1-43 1-32 1 35 1-87 0 150 1-32 1-44 1 64 0-52 1-15 1 22 1 15 0-41 1 18 1-11 1 6 0 43 1 14 1-25 1-20 1 12 0-40 1 25 1-26 1 30 0 29 1-56 1 12 1 47 0-15 1-113 1 218 1-159 0 38 1 5 1 9 1 8 1-101 0 99 1-4 1-38 1 15 0 20 1 4 1 38 1-84 0 77 1 48 1-122 1 11 1 15 0 30 1-61 1 81 1 39 0-84 1-22 1 6 1-53 0 44 1 37 1-2 1-39 0 33 1 2 1 57 1-52 1 35 0-55 1 2 1-21 1-39 0 68 1-59 1 91 1-46 0-30 1-36 1 108 1-31 1-15 0 7 1 30 1 23 1-17 0-42 1 44 1-113 1 18 0 111 1-51 1-67 1-5 0 11 1 90 1-40 1-60 1 41 0 20 1-35 1-18 1 31 0-5 1-30 1 58 1 12 0-60 1 70 1-62 1 43 0-56 1 73 1-84 1 31 1 21 0 19 1-26 1 28 1 8 0-81 1 16 1-23 1 92 0 21 1-14 1-80 1-7 1 95 0-104 1 52 1 27 1-40 0-24 1 28 1-2 1 24 0 21 1-38 1 45 1-80 0 52 1-78 1 104 1-107 1 83 0 0 1-42 1-22 1 34 0 12 1-85 1 53 1 61 0-34 1-71 1 49 1-19 0-43 1 93 1-35 1 36 1-24 0-20 1 66 1-55 1-1 0-34 1 59 1 23 1-61 0 53 1-48 1-15 1 51 1-27 0 31 1 64 1-51 1 22 0-77 1 38 1-34 1-4 0-41 1 50 1 1 1-33 0-40 1 60 1-16 1 19 1 18 0 31 1-54 1 6 1 0 0-81 1 83 1-24 1 23 0-54 1 52 1-78 1 76 1-37 0-10 1 45 1-40 1 28 0 30 1-4 1-36 1-53 0 81 1-38 1 48 1-39 0 55 1-19 1-28 1 26 1-17 0-47 1 41 1 21 1 18 0-26 1-61 1 44 1 2 0-32 1-5 1-6 1 48 0 20 1 27 1-36 1-12 1-40 0 15 1 31 1-53 1 77 0-7 1 4 1-4 1-29 0 20 1-3 1-75 1 101 1-16 0-28 1-24 1-1 1 28 0 3 1-3 1-36 1 60 0 51 1-91 1 48 1-39 0-52 1 46 1-62 1 122 1-66 0-5 1-16 1 54 1-32 0 0 1 0 1 51 1 11 0-84 1 6 1 10 1-23 0-18 1 78 1-71 1-27 1 15 0 14 1-6 1 75 1-36 0-55 1-18 1 36 1 31 0-12 1-36 1-42 1 43 1 47 0-41 1 6 1-70 1 65 0 20 1 4 1 41 1-7 0-21 1 11 1-36 1 2 0-31 1-21 1 47 1 12 1 58 0-82 1-11 1 50 1-15 0 9 1-64 1 14 1-22 0 86 1-140 1 126 1 6 0-44 1 27 1-86 1 80 1 10 0-59 1-9 1 74 1-12 0-4 1-7 1-66 1 16 0 8 1-7 1 46 1-31 1 34 0 25 1-87 1 123 1-63 0 21 1 39 1-45 1-16 0-14 1 47 1-55 1 16 0-16 1 99 1-51 1 7 1-41 0 48 1-6 1 24 1 3 0-7 1-66 1 74 1 50 0-96 1 28 1-36 1 2 1 30 0 5 1 5 1-18 1 28 0-35 1-42 1 73 1-2 0 1 1-45 1-1 1-27 0 27 1 21 1-11 1 64 1-66 0 15 1-67 1 26 1 79 0-8 1-50 1 106 1-40 0-46 1-9 1 18 1-34 0 53 1-13 1 11 1 33 1-41 0 22 1-22 1 98 1-98 0 24 1 4 1-24 1 19 0-50 1-10 1 14 1-2 1 23 0 13 1 48 1-32 1-55 0 16 1 47 1-21 1-33 0 44 1-63 1 85 1-54 0 4 1 19 1-4 1-8 1 100 0-97 1-23 1 28 1-27 0 83 1-39 1-14 1 21 0-51 1 27 1 38 1-47 0 2 1 46 1-36 1 11 1 2 0 60 1-88 1 25 1 26 0-12 1 4 1 26 1 12 0-22 1 28 1-2 1 27 1-29 0-43 1 31 1 9 1 16 0 6 1 41 1-111 1 88 0 30 1-66 1 7 1 30 0 36 1-1 1-103 1 62 1 21 0-87 1 88 1 15 1-51 0 8 1-41 1 113 1-64 0 72 1-76 1 42 1-6 0 12 1-56 1-26 1 62 1 8 0 9 1-36 1 58 1-164 0 137 1-70 1 57 1 55 0 7 1-40 1 11 1-15 1 33 0-124 1 9 1 141 1-80 0-24 1 57 1-2 1-44 0 21 1 65 1-84 1 63 0-79 1 102 1 50 1-80 1-36 0 29 1 16 1 41 1-61 0 101 1-89 1 74 1-17 0 27 1-11 1-79 1 95 1-43 0 37 1-60 1 85 1-44 0-27 1-44 1 120 1-8 0-25 1-50 1 88 1-61 0 53 1 16 1 20 1-55 1-27 0 39 1 70 1-50 1-49 0 5 1 22 1-38 1 94 0 0 1-119 1 60 1 30 0 12 1 71 1-112 1 97 1-1 0-61 1-50 1 65 1-23 0 28 1-25 1 69 1-123 0 102 1-48 1 87 1-123 1 45 0-51 1 88 1-54 1 41 0-3 1-44 1 72 1-53 0-39 1 7 1 23 1 24 0 42 1-78 1 69 1-60 1 50 0-11 1 1 1-19 1 34 0-19 1 24 1-33 1 9 0-3 1 42 1-36 1 9 0-15 1 18 1 33 1-52 1 45 0-28 1 75 1-79 1-4 0 50 1-46 1 31 1-53 0 24 1 60 1-32 1 51 1-44 0-26 1-9 1 31 1 6 0-12 1 25 1-28 1-23 0 31 1-19 1 53 1-7 0-23 1-50 1 33 1-20 1 53 0-35 1 91 1-65 1 81 0-100 1 25 1-20 1 25 0 28 1 8 1-28 1-39 1 27 0 36 1 1 1 5 1-16 0-4 1 12 1-16 1 48 0-95 1 39 1-38 1 38 0 17 1-9 1-4 1 27 1-8 0-68 1 30 1 44 1-30 0 42 1-67 1 73 1-56 0 28 1 1 1 26 1-16 0 17 1 3 1-39 1-61 1 87 0-40 1 31 1 22 1-62 0 23 1-15 1 30 1-1 0 30 1-16 1-58 1 118 1-79 0-32 1 20 1-2 1 35 0-43 1-1 1 35 1-51 0 64 1 60 1-74 1 2 0 22 1-13 1 2 1 38 1-91 0 35 1-80 1 80 1-12 0 56 1-75 1 62 1-48 0-10 1 4 1 48 1-1 0-46 1-13 1-6 1 43 1 4 0-56 1 72 1-39 1 32 0 34 1-8 1-47 1 8 0-8 1 25 1 5 1-23 1 13 0 42 1-34 1-63 1 72 0-39 1 18 1-23 1 47 0 11 1-51 1 33 1-19 0 9 1-39 1 21 1 3 1 33 0 18 1-22 1-48 1 5 0 4 1 30 1 18 1-63 0 29 1-9 1 43 1-7 0-38 1-2 1 50 1-38 1 43 0-70 1 16 1-47 1 21 0 63 1-26 1 19 1-19 0-20 1 22 1-3 1 40 1-57 0 16 1-20 1-13 1 29 0-20 1 38 1-46 1 28 0 17 1-10 1 34 1-22 0-7 1-12 1 4 1 17 1-13 0 58 1-64 1-13 1-7 0-7 1 38 1-2 1 12 0 1 1-17 1-35 1 89 1-36 0-22 1 38 1-41 1 52 0-30 1 38 1-56 1 32 0-42 1 27 1 19 1-16 0-15 1 3 1 7 1 3 1-11 0-24 1 41 1-29 1 52 0-65 1 17 1 22 1 0 0 40 1-50 1 10 1 35 0-27 1-28 1 13 1-2 1 24 0-39 1 27 1-25 1-39 0 123 1-43 1-14 1 22 0-51 1 40 1-59 1 27 1 9 0 13 1-26 1 9 1-29 0 30 1-18 1 17 1 2 0 54 1-46 1-11 1 44 0 7 1-31 1-18 1 58 1-59 0-18 1 35 1-14 1-6 0 33 1-37 1 6 1 49 0-50 1-11 1 56 1-57 0 33 1 31 1-9 1-4 1-42 0 29 1-3 1 23 1-38 0 35 1-17 1-39 1-3 0 34 1-15 1-18 1 15 1-36 0-5 1 41 1 32 1-32 0-44 1 7 1-2 1 2 0 47 1-22 1-23 1 23 0-18 1 56 1 7 1-94 1 37 0 5 1-24 1-21 1-18 0 154 1-81 1-18 1 86 0-3 1-46 1-61 1 29 0-35 1 55 1-23 1-13 1 30 0 15 1-4 1 111 1-116 0 64 1-31 1-44 1 8 0 69 1-73 1-7 1 16 1-15 0 3 1 65 1-44 1 2 0 27 1-35 1 23 1-23 0 23 1-56 1-35 1 81 0-19 1-1 1-11 1 17 1 60 0-76 1 14 1 27 1-25 0 9 1-22 1 17 1-1 0-11 1-5 1 7 1-34 1 27 0 30 1-74 1 47 1-43 0 77 1-47 1-34 1 12 0 35 1 19 1 1 1-12 0 23 1-7 1 8 1 0 1-36 0 60 1-56 1-15 1 48 0 1 1-26 1 3 1-28 0 88 1-55 1-42 1 40 0-48 1-11 1 80 1-59 1 29 0 16 1 7 1-1 1 20 0-22 1-33 1-10 1 48 0-28 1 0 1 83 1-91 1 56 0-3 1-60 1-26 1 82 0-8 1 2 1-13 1-4 0 13 1 24 1-99 1 66 0 8 1-47 1 38 1-42 1 9 0-6 1 42 1-30 1 65 0-5 1-42 1 12 1-48 0 48 1 45 1-53 1 11 0-13 1 40 1-11 1-24 1-20 0 10 1-9 1 64 1-36 0-12 1-22 1 21 1 15 0-3 1-1 1 38 1-43 1-23 0 1 1 75 1-56 1 43 0-77 1 16 1-6 1 39 0 36 1-28 1-22 1 33 0-15 1-81 1 88 1-55 1 71 0-62 1-17 1 11 1-22 0-17 1 94 1-49 1-6 0 4 1-33 1 39 1-26 1 2 0 31 1-10 1 39 1-30 0 4 1 11 1 9 1-40 0 32 1-69 1 29 1 17 0 39 1-44 1 22 1 1 1 34 0-49 1 9 1 20 1 5 0-11 1 29 1-24 1-58 0 59 1-88 1 105 1-71 0 0 1-4 1 16 1 63 1-80 0 1 1 29 1 70 1-101 0 59 1-20 1-44 1-3 0 27 1 28 1-66 1 17 1 38 0 23 1-36 1 48 1-91 0 37 1 26 1-22 1 61 0-47 1 17 1 28 1-28 0-28 1 53 1-35 1 38 1-48 0 59 1-71 1 3 1-4 0-27 1 48 1 3 1-13 0 33 1 43 1-19 1 2 0-41 1 26 1-6 1-28 1 11 0-53 1 60 1 25 1-64 0 48 1-11 1-31 1 23 0-16 1 38 1-12 1-28 1 33 0-5 1-11 1-49 1 3 0 36 1 4 1 22 1-60 0 26 1-16 1 68 1-65 0 19 1-18 1-8 1 29 1 12 0-31 1 56 1-77 1 31 0 42 1-71 1 10 1-16 0 15 1 15 1 16 1 30 0-53 1 6 1 30 1-29 1 43 0-55 1 27 1-2 1 30 0-47 1 25 1 22 1-27 0 19 1-35 1 75 1-9 1-92 0 75 1-29 1 27 1-17 0-70 1 134 1-73 1 14 0 0 1 24 1 4 1-67 0 24 1 49 1-36 1 39 1-122 0 72 1 62 1-78 1 8 0 9 1 3 1 22 1-10 0 54 1-96 1-19 1 43 1-2 0 58 1-26 1 30 1-3 0-53 1-24 1 43 1-73 0 49 1 89 1-52 1-49 0 34 1-25 1 80 1-86 1 72 0-44 1-52 1 60 1 9 0-29 1 47 1 3 1-55 0 71 1-7 1-87 1 86 0-48 1-20 1 34 1 29 1-55 0 49 1-88 1-4 1 92 0-47 1 37 1-33 1 18 0 20 1-44 1 62 1-57 1 13 0 19 1-49 1 25 1 10 0-5 1 2 1-34 1 36 0 76 1 6 1-58 1 6 0-28 1 31 1-15 1-61 1 76 0-63 1 29 1-41 1 12 0 23 1-30 1 23 1 38 0-47 1 0 1 17 1-11 0 19 1-22 1 17 1 36 1-37 0-54 1 22 1-20 1 44 0 12 1 18 1-35 1-25 0 7 1 2 1 37 1-17 1 26 0-45 1 6 1 36 1-21 0 69 1-85 1 44 1-11 0-28 1-1 1 39 1-64 0-11 1 17 1 4 1 37 1-37 0 66 1 8 1-37 1-3 0 34 1-76 1 94 1 17 0-46 1-58 1 27 1 12 1 6 0-11 1 6 1 6 1 8 0 43 1-74 1 40 1-23 0-3 1-15 1 52 1-47 0-1 1 27 1-2 1-6 1 33 0-18 1 18 1-67 1 55 0 7 1-36 1-13 1 25 0 15 1-40 1-14 1 70 0-74 1 75 1-70 1 29 1-6 0-29 1-22 1-19 1 19 0 19 1 58 1-27 1-15 0 21 1-33 1 23 1-58 1 56 0 32 1-22 1 7 1-41 0-19 1 11 1 1 1 48 0 13 1-9 1-23 1 11 0-19 1-21 1 27 1-47 1 70 0-41 1 20 1-31 1 29 0 14 1-12 1 22 1 6 0-54 1 41 1-52 1-37 0 83 1-34 1 29 1 52 1-50 0-43 1 78 1-28 1 3 0 38 1-48 1 16 1-19 0 18 1 43 1-42 1-12 1 27 0-23 1 2 1 78 1-79 0 76 1-21 1-33 1 24 0-5 1-55 1 62 1-65 0-20 1 11 1 69 1 12 1-46 0-60 1 65 1 9 1-14 0-25 1-13 1 33 1 3 0-19 1 14 1 13 1 38 0-53 1 21 1-10 1 2 1 17 0-41 1-14 1 15 1 34 0-22 1-15 1 22 1-22 0 60 1-34 1-47 1 12 1 31 0-8 1-59 1 30 1 50 0-30 1 21 1 3 1 17 0-56 1-43 1 38 1 60 0-53 1 56 1-48 1-25 1-12 0 38 1-6 1 9 1 6 0-49 1 72 1 19 1-94 0-14 1 109 1-71 1 5 1 36 0 15 1-30 1 15 1-32 0 42 1-50 1 52 1-63 0 23 1-7 1 45 1-5 0-3 1-35 1 53 1 4 1-16 0-16 1 14 1 0 1 36 0-19 1 14 1-59 1 31 0-20 1 57 1-36 1-11 0 40 1-12 1-5 1-19 1-5 0 48 1-50 1 3 1-3 0 30 1-23 1-40 1 3 0 48 1-64 1 55 1 13 1-59 0 22 1-56 1 70 1-10 0-17 1 13 1 19 1-11 0 2 1 1 1 2 1 43 0-67 1 44 1-9 1 17 1-15 0-31 1-6 1 28 1 5 0 21 1-5 1-14 1 12 0 25 1-30 1 31 1-87 0 49 1 25 1-30 1 34 1-15 0-52 1 6 1 69 1-3 0-18 1-79 1 60 1-7 0 20 1-53 1 9 1 76 1-26 0 27 1-20 1-12 1 14 0-20 1-38 1-13 1 29 0-19 1 59 1-81 1-23 0 68 1-20 1 6 1 71 1-90 0 16 1 58 1-34 1-44 0 18 1 54 1-22 1 4 0-24 1 25 1-21 1 7 0 38 1-53 1 5 1 28 1-40 0-43 1 111 1-50 1-17 0 24 1 18 1-77 1 78 0-9 1 15 1-53 1 96 1-36 0-12 1-21 1 0 1-19 0 32 1 17 1-20 1 22 0-9 1-3 1-22 1-16 0 54 1-16 1-18 1-3 1 7 0-24 1 21 1 43 1-87 0 71 1-82 1 38 1-2 0 51 1-50 1 15 1 18 1-39 0-5 1-12 1 68 1-11 0-61 1 24 1-6 1 39 0-24 1-12 1 58 1-15 0-25 1-32 1 51 1-31 1 42 0 10 1-51 1 46 1-30 0 16 1-31 1 49 1 4 0 0 1-34 1-41 1 11 0 18 1 9 1-38 1 37 1-31 0-9 1 19 1 8 1 0 0 14 1-10 1 33 1-1 0-66 1 47 1 44 1-84 1 0 0 24 1 48 1-88 1 23 0-4 1 41 1-18 1 19 0-1 1 26 1-10 1-8 0-16 1-26 1 12 1 66 1-78 0 71 1-56 1 19 1-8 0 15 1 16 1-75 1 113 0-43 1-62 1 38 1-1 0 25 1 7 1-48 1 19 1-13 0-12 1 68 1-18 1-11 0-25 1-14 1 49 1-23 0-4 1 0 1-46 1 65 1-26 0 69 1-62 1-7 1-17 0 34 1 1 1 18 1-20 0-81 1 113 1-1 1-50 0 29 1-61 1 77 1-89 1 59 0 34 1 15 1-37 1-7 0-29 1 46 1-122 1 63 0 29 1 10 1-91 1 97 1-43 0-21 1 68 1-42 1 30 0-53 1-1 1 26 1 11 0 38 1-102 1 27 1 24 0-21 1 42 1 33 1-57 1 54 0-12 1-35 1 67 1-44 0 10 1 25 1 2 1-28 0 2 1-12 1 46 1-46 0 37 1-14 1-51 1 45 1-6 0 7 1-25 1-26 1 32 0-30 1 54 1-52 1 14 0-7 1 26 1-10 1-27 1 41 0-56 1 33 1-25 1 44 0 14 1-64 1 0 1 22 0-19 1 19 1-17 1 15 0 33 1-57 1 59 1-90 1 71 0 23 1-19 1-6 1 0 0-10 1 34 1 42 1-32 0-36 1-18 1 88 1-59 0-28 1 72 1-87 1 69 1-18 0 10 1-64 1 24 1 21 0 13 1 36 1-40 1 8 0-14 1 49 1-91 1 9 1-20 0 60 1-16 1 33 1-60 0 30 1-55 1 27 1-1 0 6 1 58 1-63 1 67 0-52 1-8 1 49 1-14 1-12 0-11 1 0 1 8 1 28 0-32 1-61 1 88 1-60 0 78 1-14 1-54 1 14 0-21 1 29 1 35 1-19 1 15 0-42 1 12 1-18 1 55 0-12 1 5 1-2 1-6 0-40 1 33 1-30 1 28 1 57 0-11 1-34 1-38 1 33 0 42 1-44 1 11 1-23 0-7 1 15 1 26 1 12 0-19 1-9 1-13 1 24 1 4 0-33 1-9 1 15 1 35 0-21 1-70 1 91 1-21 0-37 1 52 1-18 1-47 1 9 0 77 1-67 1 25 1 31 0-69 1 45 1-14 1 23 0-46 1-2 1 4 1-45 0 50 1 27 1-23 1 6 1-11 0 87 1-90 1-32 1 33 0 43 1-79 1 39 1-36 0 31 1 36 1 37 1-49 0-12 1 26 1 26 1-60 1 44 0-61 1 55 1-27 1 19 0-21 1-4 1 73 1-41 0-4 1 0 1-15 1-35 1 59 0-44 1 25 1 8 1 21 0-21 1 8 1-44 1-31 0 27 1-6 1 43 1-43 0 43 1 2 1-34 1 26 1-35 0 14 1 12 1 8 1-20 0-2 1 6 1-29 1 49 0 23 1-2 1-8 1-1 0-21 1-49 1 74 1-4 1-9 0 14 1-8 1-41 1-16 0 54 1-18 1-28 1 16 0 13 1-16 1 12 1 14 1-34 0 31 1-5 1-23 1 39 0-53 1 38 1 7 1-42 0-2 1-9 1-11 1 65 0-20 1 23 1-8 1-43 1 16 0 2 1-3 1 24 1-45 0 62 1-45 1 35 1 9 0-79 1 66 1-29 1 40 1-1 0-54 1 21 1 9 1-12 0-5 1-6 1 10 1-7 0 10 1 4 1-28 1 90 0-82 1 23 1-4 1 12 1 13 0-35 1 50 1-6 1 1 0-71 1 46 1 2 1 40 0-40 1-20 1 55 1-31 0-3 1-10 1-9 1-26 1 55 0 0 1 19 1-44 1 28 0-14 1-6 1 23 1 1 0-9 1 0 1 3 1 5 1-4 0-35 1 51 1-20 1 1 0-29 1 43 1-8 1 6 0-36 1 4 1 4 1 8 0-59 1 53 1 61 1-14 1-1 0-26 1 29 1-42 1 40 0-38 1 16 1-30 1 10 0 31 1-76 1 82 1-16 0 24 1-64 1 2 1 30 1 67 0-89 1-27 1 74 1-36 0-11 1 24 1 34 1-26 0 13 1-33 1 65 1-63 1 12 0 44 1-16 1-43 1-22 0 11 1-58 1 74 1 37 0-36 1 20 1 45 1-98 0 55 1-4 1-77 1 66 1 4 0-49 1-29 1 103 1-23 0-15 1-39 1 14 1-24 0 72 1-36 1-44 1 93 0-81 1 56 1-31 1 39 1-46 0-4 1 28 1-49 1 75 0-54 1 60 1-57 1 4 0 44 1-64 1 46 1 38 1-30 0-34 1 24 1-25 1-14 0 15 1 8 1 9 1-7 0-27 1 58 1-12 1-28 0 50 1-56 1 28 1-13 1 32 0-11 1-39 1 65 1-58 0-3 1 29 1 59 1-23 0-42 1-18 1 70 1-50 1 4 0 49 1-48 1 27 1 21 0-94 1 72 1 19 1-1 0-95 1 25 1 12 1 39 0-36 1 6 1-20 1 61 1-63 0-10 1 51 1-1 1-25 0 33 1-32 1-2 1-50 0 66 1-22 1-49 1 85 0-80 1 41 1-31 1 16 1-19 0 112 1-76 1 42 1-53 0 10 1-20 1-45 1 33 0 5 1-6 1 26 1-50 1 25 0 19 1-33 1 46 1 6 0 11 1 16 1-5 1-67 0 46 1-12 1-21 1 26 0 24 1-4 1-12 1-41 1 44 0 1 1-31 1 14 1-1 0-5 1-42 1 58 1 4 0-65 1 78 1 23 1-74 0 38 1-13 1-3 1 36 1-48 0 49 1-58 1-9 1 53 0-51 1 26 1-47 1 52 0 52 1 1 1-78 1 39 1-23 0 44 1-14 1 47 1-73 0-12 1 45 1-36 1 36 0-30 1 23 1 12 1-37 0 66 1-105 1 98 1 11 1-64 0 38 1-48 1 58 1-83 0 6 1 65 1-86 1 68 0-13 1 18 1-26 1-3 0 14 1-12 1 5 1-10 1 52 0-26 1 20 1-31 1 0 0 4 1 14 1-73 1 80 0-43 1 28 1-54 1 9 1 22 0-7 1 43 1 5 1-51 0 21 1 45 1-39 1 33 0 5 1-38 1-3 1 11 0 5 1 16 1-24 1 0 1 11 0-80 1 76 1-11 1 26 0-17 1-6 1-14 1 102 0-116 1 15 1 8 1 38 1 21 0-18 1-52 1 0 1 19 0-21 1 46 1 4 1-66 0 3 1 9 1-9 1 32 0 65 1-57 1-39 1 38 1-27 0 2 1 43 1-40 1 12 0 44 1-71 1 62 1-43 0 0 1 35 1 5 1-38 0 6 1-26 1 29 1-9 1 9 0-22 1 56 1 26 1-67 0 20 1 12 1-65 1 87 0-32 1-34 1 31 1 7 1-21 0 19 1 37 1-10 1-57 0 0 1 52 1-40 1-12 0 0 1-21 1 13 1 29 0 4 1-27 1 51 1 13 1-68 0-10 1 14 1 8 1 52 0-5 1-23 1-65 1 54 0-13 1 26 1-59 1 89 0-99 1 44 1 73 1-76 1-14 0 1 1 3 1 22 1 1 0-10 1 21 1-64 1 82 0-36 1 13 1 35 1-79 1 33 0 28 1 7 1-16 1-51 0 39 1 32 1-28 1 23 0-34 1 2 1-10 1 12 0 5 1 37 1-44 1-25 1 69 0-67 1 41 1-1 1-3 0-38 1 17 1-6 1 32 0-72 1 69 1-63 1 1 1 14 0 55 1-36 1 23 1-63 0 36 1-3 1 7 1-1 0-19 1-29 1 39 1-11 0 17 1 9 1 46 1-20 1 8 0-33 1 99 1-20 1-46 0-24 1 20 1-6 1-22 0-20 1-7 1 30 1-13 0 39 1 14 1-42 1-26 1 28 0 67 1-82 1-23 1 32 0 27 1 17 1 8 1-70 0 49 1 0 1-1 1-1 1-12 0 22 1-19 1 25 1 8 0 28 1-50 1-32 1 19 0-12 1 41 1 10 1 1 0 10 1-52 1-13 1 53 1-31 0 48 1-48 1-13 1 43 0-58 1 44 1-20 1-38 0 86 1-57 1 19 1-48 0 40 1 3 1-19 1-35 1 63 0 9 1-4 1-49 1 75 0-18 1-14 1 7 1-20 0 15 1 34 1-117 1 33 1 33 0 11 1 2 1 31 1-21 0-37 1-3 1-32 1 38 0 16 1-43 1 8 1 51 0-16 1-44 1 45 1-23 1 30 0-56 1-27 1 114 1-26 0-47 1 12 1 11 1 36 0 14 1-35 1-36 1 2 0-37 1 116 1-52 1 1 1-43 0 74 1-55 1 83 1-72 0 57 1 4 1-38 1 25 0-18 1 13 1 19 1-43 1 29 0 13 1 1 1 34 1-16 0-46 1 3 1 9 1-41 0 37 1-1 1-16 1 5 0-24 1 46 1-18 1 1 1 9" fill="none" stroke="#0000ff" stroke-width="2.6" stroke-linejoin="round" stroke-opacity="0.9"/></g>
<path d="M263 1012.8H2124.4V1878.8H273V1012.8" fill="none" stroke="#1e1e1e" stroke-width="3" stroke-linejoin="miter"/>
<path d="M255 1816.9H273M255 1693.2H273M255 1569.5H273M255 1445.8H273M255 1322.1H273M255 1198.4H273M255 1074.7H273M263 1878.8H273M263 1755.1H273M263 1631.4H273M263 1507.7H273M263 1383.9H273M263 1260.2H273M263 1136.5H273M263 1012.8H273M368.8 1878.8V1896.8M528.4 1878.8V1896.8M688 1878.8V1896.8M847.6 1878.8V1896.8M1007.2 1878.8V1896.8M1166.8 1878.8V1896.8M1326.4 1878.8V1896.8M1486 1878.8V1896.8M1645.6 1878.8V1896.8M1805.2 1878.8V1896.8M1964.8 1878.8V1896.8M2124.4 1878.8V1896.8M289 1878.8V1888.8M448.6 1878.8V1888.8M608.2 1878.8V1888.8M767.8 1878.8V1888.8M927.4 1878.8V1888.8M1087 1878.8V1888.8M1246.6 1878.8V1888.8M1406.2 1878.8V1888.8M1565.8 1878.8V1888.8M1725.4 1878.8V1888.8M1885 1878.8V1888.8M2044.6 1878.8V1888.8" stroke="#1e1e1e" stroke-width="3" fill="none"/>
<text x="242.5" y="1828.9" font-size="46" text-anchor="end" fill="#1e1e1e" >20</text>
<text x="242.5" y="1705.2" font-size="46" text-anchor="end" fill="#1e1e1e" >40</text>
<text x="242.5" y="1581.5" font-size="46" text-anchor="end" fill="#1e1e1e" >60</text>
<text x="242.5" y="1457.8" font-size="46" text-anchor="end" fill="#1e1e1e" >80</text>
<text x="242.5" y="1334.1" font-size="46" text-anchor="end" fill="#1e1e1e" >100</text>
<text x="242.5" y="1210.4" font-size="46" text-anchor="end" fill="#1e1e1e" >120</text>
<text x="242.5" y="1086.7" font-size="46" text-anchor="end" fill="#1e1e1e" >140</text>
<text x="368.8" y="1943.8" font-size="46" text-anchor="middle" fill="#1e1e1e" >250</text>
<text x="528.4" y="1943.8" font-size="46" text-anchor="middle" fill="#1e1e1e" >500</text>
<text x="688" y="1943.8" font-size="46" text-anchor="middle" fill="#1e1e1e" >750</text>
<text x="847.6" y="1943.8" font-size="46" text-anchor="middle" fill="#1e1e1e" >1000</text>
<text x="1007.2" y="1943.8" font-size="46" text-anchor="middle" fill="#1e1e1e" >1250</text>
<text x="1166.8" y="1943.8" font-size="46" text-anchor="middle" fill="#1e1e1e" >1500</text>
<text x="1326.4" y="1943.8" font-size="46" text-anchor="middle" fill="#1e1e1e" >1750</text>
<text x="1486" y="1943.8" font-size="46" text-anchor="middle" fill="#1e1e1e" >2000</text>
<text x="1645.6" y="1943.8" font-size="46" text-anchor="middle" fill="#1e1e1e" >2250</text>
<text x="1805.2" y="1943.8" font-size="46" text-anchor="middle" fill="#1e1e1e" >2500</text>
<text x="1964.8" y="1943.8" font-size="46" text-anchor="middle" fill="#1e1e1e" >2750</text>
<text x="2124.4" y="1943.8" font-size="46" text-anchor="middle" fill="#1e1e1e" >3000</text>
<text x="290.5" y="1072" font-size="52" text-anchor="start" fill="#1e1e1e" >(b)</text>
<text x="477.5" y="1074.5" font-size="40" text-anchor="start" fill="#1e1e1e" >Si</text>
<text x="1139" y="1379" font-size="40" text-anchor="start" fill="#1e1e1e" >G-band</text>
<path d="M538.3 1074.6V1878.8" stroke="#2a2a2a" stroke-width="3" stroke-dasharray="10 9" fill="none"/>
<path d="M1188.5 1403V1878.8" stroke="#2a2a2a" stroke-width="3" stroke-dasharray="10 9" fill="none"/>
<rect x="953" y="1043.4" width="1136.5" height="51.2" fill="#fff" stroke="#959595" stroke-width="2.4"/>
<path d="M970.5 1070.3H1065.7" stroke="#9c9cff" stroke-width="3.5"/>
<text x="1077" y="1083.5" font-size="42.3" text-anchor="start" fill="#1e1e1e" >Deposited amorphous carbon on Silicon electron lens</text>
<text x="99.2" y="1480.6" font-size="54" text-anchor="middle" fill="#1e1e1e" transform="rotate(-90 99.2 1480.6)">Intensity (Counts)</text>
<g clip-path="url(#cc)"><path transform="scale(.5)" d="M546 5462l0 40 1-27 1 8 1-1 0-2 1 15 1-16 1 5 0-37 1 27 1 5 1-1 1 3 0 3 1-6 1-7 1 6 0-10 1 10 1-2 1-13 0 9 1 9 1-2 1-6 1-12 0 20 1 0 1-11 1 17 0-5 1-10 1 3 1 4 0-5 1 31 1-34 1 18 0 6 1-17 1-4 1 10 1 5 0-9 1 0 1-13 1 6 0 5 1-8 1 11 1 7 0-14 1 0 1 7 1 5 1-9 0 24 1-29 1 2 1 19 0-15 1 9 1-15 1 24 0-10 1-14 1-4 1 29 0-28 1 6 1 8 1-19 1 25 0-14 1 13 1-22 1 13 0 3 1 12 1-30 1 9 0 13 1-16 1 7 1 9 1 2 0 0 1-19 1 25 1-7 0-3 1-4 1-3 1 16 0 5 1-15 1-11 1 4 0 5 1 5 1-6 1 5 1-9 0 14 1-8 1 2 1-5 0 3 1-21 1 10 1 0 0 31 1-15 1 2 1-10 1 25 0-30 1 1 1 20 1-3 0-1 1-8 1-5 1-13 0 20 1-9 1 5 1-14 0 8 1-6 1 22 1-9 1 6 0-21 1 7 1 8 1 1 0-8 1 10 1 2 1-13 0-18 1 24 1 2 1 6 0 1 1-17 1-3 1 7 1-3 0 2 1 0 1 14 1-9 0-5 1 7 1-2 1 3 0-5 1-11 1 11 1-2 1-9 0 2 1-9 1 33 1-26 0 12 1-6 1-6 1-2 0 0 1 7 1-13 1 17 0-1 1-9 1 11 1-24 1 9 0-10 1 19 1 2 1-5 0-6 1 11 1-9 1 2 0-15 1 20 1-16 1 14 1 2 0-3 1 4 1-13 1-8 0 7 1-5 1-9 1 12 0 0 1 4 1 11 1-21 0 22 1-22 1 6 1-10 1 10 0 7 1-11 1 8 1-4 0-2 1 2 1-10 1 15 0-6 1 17 1-17 1 9 1-21 0-1 1 28 1-18 1 2 0 8 1-14 1 9 1 11 0-13 1-1 1-2 1 12 0-17 1-1 1 17 1-4 1-5 0 4 1-20 1 14 1 11 0-2 1-6 1-21 1 22 0-3 1-3 1 5 1-21 1 25 0-11 1 5 1-4 1 15 0-26 1 17 1-2 1 9 0-3 1-11 1-4 1 1 0-4 1 4 1 6 1-7 1 1 0 6 1-7 1-5 1 9 0 4 1-51 1 31 1 18 0-1 1 0 1-12 1 26 0-20 1-7 1 17 1-21 1 8 0 9 1-7 1 15 1-9 0-21 1 23 1-24 1 16 0-10 1 8 1 19 1-15 1-8 0 11 1 2 1-16 1 8 0 9 1-10 1-14 1 11 0-13 1-6 1 12 1 10 0 0 1-12 1-9 1 5 1-4 0 8 1-8 1 4 1-4 0 6 1 0 1-13 1 3 0-4 1-18 1 4 1-29 1 15 0 11 1-13 1 2 1 9 0-16 1 17 1 21 1-32 0 14 1-16 1 22 1 8 0-22 1 27 1-9 1-7 1 15 0 3 1 2 1-4 1 17 0-11 1 3 1-14 1 26 0 7 1-12 1 12 1-4 1 4 0-8 1 19 1-3 1 23 0-13 1-20 1 21 1 2 0 5 1-15 1 5 1 13 0-16 1 4 1-3 1 13 1-20 0 12 1 5 1 5 1-2 0-9 1 10 1-11 1 5 0-6 1 5 1 8 1 17 1-19 0-4 1 5 1-3 1 10 0-1 1 6 1-21 1 11 0 6 1 8 1-10 1-14 0 9 1 11 1-19 1 1 1 4 0 2 1 11 1-8 1-2 0 14 1-20 1 12 1-16 0 36 1-24 1-2 1 12 0-7 1-2 1 33 1-21 1-3 0-11 1-2 1 11 1 0 0-1 1-8 1 19 1-38 0 28 1 10 1-4 1 45 1-55 0 14 1-16 1 23 1-21 0 19 1-3 1-17 1 10 0 3 1-3 1-8 1 5 0 0 1-9 1 16 1-2 1 1 0-15 1 2 1-3 1 12 0 2 1-9 1 11 1-10 0 1 1 13 1-6 1 1 1-16 0-8 1 24 1-1 1 21 0-22 1 2 1 9 1-16 0 21 1-12 1-3 1 13 0-19 1-1 1 22 1 0 1-17 0 6 1 11 1-8 1-1 0 1 1-8 1 5 1-12 0 4 1 7 1-3 1-1 1 6 0 18 1-18 1 8 1-14 0 14 1-3 1 2 1-11 0 13 1 5 1 1 1 1 0-5 1 2 1-2 1-15 1 21 0-4 1 2 1-7 1 16 0-4 1-6 1-6 1 6 0 4 1 3 1-12 1-9 1 10 0 1 1-16 1 26 1-6 0-1 1-5 1 3 1 11 0-21 1-5 1 17 1-6 0 1 1-4 1 20 1-28 1 19 0-16 1 11 1 5 1-3 0-8 1 15 1-4 1 1 0 11 1-2 1-17 1 5 1-10 0 19 1-7 1-16 1 7 0 30 1 10 1-20 1-18 0 14 1-1 1-7 1 14 0-9 1-4 1 4 1 1 1 10 0-9 1 10 1-15 1-10 0 31 1 14 1-15 1-6 0-5 1 1 1 18 1 1 0-17 1 22 1-18 1 12 1-8 0 2 1 0 1 0 1 17 0-11 1 4 1-2 1-8 0 14 1 4 1 0 1-3 1-10 0 14 1-17 1 8 1 4 0 10 1-15 1-4 1 22 0-27 1-4 1 12 1-2 0-17 1-27 1 56 1-8 1 2 0 0 1 19 1-27 1 12 0-7 1 3 1-8 1 10 0 5 1-12 1-7 1 15 1-14 0 10 1-12 1 1 1 21 0-17 1 14 1-8 1 15 0-4 1-17 1 8 1 2 0 4 1-8 1 16 1-2 1-9 0 6 1-2 1-6 1 0 0 0 1-17 1 4 1-3 0 10 1 3 1 7 1-12 1 14 0-15 1-14 1-10 1 4 0 13 1-14 1 9 1-17 0 5 1-11 1-19 1 10 0-21 1 7 1-11 1-32 1-25 0-3 1-31 1-14 1-40 0-41 1-26 1-54 1-75 0-117 1-117 1-118 1-117 1-101 0-129 1-68 1-59 1-37 0 26 1-9 1 16 1 18 0 18 1 39 1 54 1 23 0 32 1 38 1 50 1 39 1 18 0 46 1 52 1 67 1 21 0 93 1 26 1 22 1 56 0 25 1 34 1-2 1 43 0 4 1 17 1 26 1-3 1 34 0 6 1 6 1 15 1 4 0 7 1 22 1 13 1 11 0 9 1 0 1 19 1 3 1 12 0 14 1-42 1 55 1-5 0-9 1 27 1-5 1 17 0-5 1 11 1-6 1 5 0-3 1-11 1 15 1-1 1 9 0 4 1 7 1 11 1-14 0-12 1 12 1 11 1-17 0 20 1 4 1 7 1 0 1-5 0-18 1 22 1 9 1-2 0-2 1 15 1-14 1-13 0 15 1 20 1-3 1 6 0-25 1 3 1 26 1-14 1 3 0-3 1 4 1 8 1-4 0 1 1 3 1 17 1 12 0-19 1 9 1-16 1-3 1 5 0 6 1-3 1-9 1 18 0-14 1 3 1 4 1-10 0 20 1-13 1 17 1-1 0 3 1-50 1 51 1-8 1 12 0-19 1-6 1 16 1-12 0 11 1-14 1 20 1 14 0-25 1 16 1 9 1-2 1 10 0-12 1 8 1-21 1 8 0 21 1-1 1-8 1 12 0-16 1 0 1 7 1-3 0-11 1-9 1-3 1 10 1-10 0 11 1-13 1 9 1-19 0 15 1-6 1-11 1-8 0 16 1-9 1-7 1-1 0 9 1-8 1 3 1-14 1 8 0 17 1 8 1-20 1-8 0 9 1-5 1 13 1 8 0-17 1 6 1-4 1 19 1-13 0 9 1-12 1 13 1 1 0 1 1-16 1 12 1 8 0 3 1 1 1-22 1 30 0-8 1-13 1-4 1 12 1-8 0 1 1-2 1 8 1-14 0 13 1-12 1 23 1-18 0 20 1 2 1-18 1 12 1-11 0 14 1-24 1 14 1 11 0-12 1-5 1 15 1-11 0-13 1 11 1 8 1 6 0-10 1 20 1 14 1-21 1 5 0-25 1 15 1 11 1 2 0-14 1 12 1-1 1-4 0-1 1 0 1 0 1-10 1-3 0 30 1-37 1 21 1-9 0 18 1-10 1 2 1 0 0-6 1 2 1 14 1-8 0-7 1 1 1 9 1-1 1-1 0 9 1 1 1-25 1 18 0-4 1 7 1-18 1-3 0 18 1-7 1 12 1-22 1 8 0 16 1-18 1 8 1 1 0 1 1 9 1-1 1-9 0 6 1 9 1-26 1 20 0 4 1 2 1-13 1-2 1 7 0-5 1 21 1-10 1 2 0-4 1-4 1 22 1-46 0 36 1-11 1-4 1 0 0 5 1 28 1-16 1-16 1 15 0 1 1 11 1-31 1 6 0 13 1-7 1 0 1 9 0-8 1-5 1-2 1-7 1 11 0 4 1-7 1 9 1 5 0-21 1 13 1-5 1-4 0 15 1-15 1 1 1 5 0-4 1 10 1 12 1-17 1 6 0-16 1 6 1 7 1-5 0-12 1 2 1 21 1-14 0 7 1-1 1-6 1 6 1-3 0 13 1 5 1 1 1-11 0-15 1 2 1 20 1 5 0-20 1 3 1 17 1-21 0 8 1-10 1 9 1-5 1 6 0 11 1-6 1 4 1-13 0 16 1 4 1-19 1-4 0-3 1 3 1 23 1-7 1-2 0-5 1 19 1-19 1-3 0 16 1-14 1-10 1 10 0-9 1 0 1 6 1 0 0 7 1-14 1 15 1 2 1-12 0 13 1-11 1-5 1 9 0 0 1-7 1 1 1 21 0-2 1-23 1 8 1 22 1-7 0-12 1 9 1-13 1 3 0-4 1 15 1-16 1-13 0 25 1-19 1 3 1 2 0 6 1 10 1-3 1-14 1-2 0-3 1 3 1 1 1 12 0 7 1-12 1-3 1 4 0 15 1-9 1 9 1-14 0 11 1-8 1-4 1 2 1-11 0 22 1 9 1-27 1-4 0-1 1 10 1-2 1 3 0 13 1-7 1-10 1 10 1-22 0 30 1-10 1-14 1 16 0 4 1 3 1-6 1-19 0 9 1 0 1 9 1-11 0 7 1 9 1-4 1-5 1-8 0 11 1-5 1-13 1 25 0 4 1-20 1 5 1 4 0-3 1 5 1-7 1 7 1-11 0 17 1-3 1-9 1 5 0-11 1 7 1 4 1-7 0 6 1 9 1-4 1-3 0-4 1-5 1-7 1 3 1-11 0 5 1 13 1-16 1 4 0 14 1-6 1-7 1 8 0-7 1 6 1-3 1 10 1-6 0 6 1-9 1 21 1-18 0-8 1 6 1 5 1-5 0 12 1 0 1-4 1-3 0-10 1 16 1-17 1 22 1-7 0-7 1-11 1 15 1 14 0-23 1 4 1 9 1-1 0-3 1-7 1-5 1 19 1-34 0 21 1 3 1-9 1 5 0-20 1 12 1 13 1 0 0 1 1-1 1-9 1 12 0-7 1 3 1 0 1-9 1 26 0-9 1-14 1 6 1 0 0-4 1 9 1-4 1 11 0 5 1-28 1 19 1-1 0-19 1 3 1 14 1 0 1-4 0 7 1-13 1 3 1 0 0-9 1 4 1-11 1 3 0 28 1-23 1 18 1 2 1 14 0-21 1-4 1-12 1 15 0 2 1-11 1-8 1 6 0 18 1-8 1-4 1-19 0 9 1 1 1-3 1 13 1-7 0 1 1 13 1-8 1-5 0 14 1-16 1 1 1-2 0 17 1-8 1-12 1 6 1 15 0-9 1-10 1 13 1-4 0-19 1 23 1 1 1 8 0-3 1-19 1 14 1 9 0-2 1-8 1-7 1 13 1-13 0 10 1-7 1-2 1-1 0 10 1-3 1-6 1 16 0-13 1-3 1-5 1 10 1 1 0-2 1 8 1-5 1-5 0 1 1 12 1-7 1 16 0-25 1 11 1-7 1 12 0-9 1-5 1-5 1 14 1-13 0 9 1 5 1-11 1 6 0 0 1 3 1-8 1 1 0 1 1 7 1-4 1-10 1-9 0 9 1-17 1 9 1 5 0-20 1 9 1-18 1-12 0 7 1-8 1-29 1 15 0-6 1-11 1 1 1-7 1-12 0 16 1-42 1 14 1-8 0-22 1-2 1 5 1-18 0 8 1-6 1 6 1-7 0-11 1 1 1-2 1-6 1 8 0 5 1-3 1-18 1 14 0-3 1 4 1-4 1 9 0-6 1 1 1 5 1 1 1-11 0-4 1-1 1 7 1 8 0-13 1 1 1 18 1-20 0 2 1-9 1 25 1 0 0-17 1 23 1-10 1 9 1-6 0 8 1-14 1-11 1 5 0 0 1 7 1-16 1 8 0-4 1 23 1-16 1 13 1-13 0 1 1 12 1-12 1-8 0 6 1-1 1 13 1-2 0 4 1-11 1-9 1 8 0 4 1 11 1-13 1 7 1 16 0 0 1-10 1 6 1-20 0 16 1 12 1-3 1-16 0 25 1-13 1 6 1-5 1 14 0 15 1-1 1 12 1 1 0 18 1-9 1 27 1 4 0 18 1 0 1 8 1 4 0-2 1 16 1 4 1-15 1 14 0 5 1-14 1 5 1 32 0-18 1-22 1 14 1 13 0-17 1 23 1-4 1-2 1 2 0-6 1-1 1 11 1-12 0 19 1 11 1-31 1 15 0-8 1 13 1-1 1-1 0-39 1 42 1-35 1 26 1-5 0 10 1-4 1-3 1 18 0 4 1-28 1 3 1 11 0-2 1 11 1 4 1-14 0 16 1-21 1 14 1-8 1-14 0 1 1 19 1-11 1 19 0-4 1-8 1-8 1 18 0-10 1 4 1 13 1-10 1-14 0 14 1-5 1-2 1 14 0-17 1-2 1-1 1 2 0 16 1 2 1 1 1 2 0-1 1-15 1-4 1 19 1-13 0 19 1-8 1 6 1 6 0-14 1 0 1 4 1 1 0 5 1-7 1 4 1-7 1 13 0-12 1-2 1-7 1 2 0 8 1 8 1 10 1-16 0-13 1-2 1 37 1-15 0-4 1 6 1-11 1 1 1 5 0-5 1 14 1-6 1-1 0-16 1 22 1-13 1-9 0 7 1-8 1 13 1-10 1-4 0-12 1 13 1-6 1 12 0-1 1-13 1 9 1-7 0 6 1-12 1-2 1 28 0-24 1 13 1 0 1 6 1-7 0 16 1-3 1 1 1-9 0-6 1 2 1 4 1 9 0 11 1-19 1 2 1-2 1-9 0 14 1 0 1 19 1-25 0 5 1 6 1-10 1 12 0-4 1-23 1 11 1-2 0 2 1 0 1 4 1-19 1 21 0-8 1 9 1 1 1 18 0-5 1-31 1 1 1 16 0-3 1-6 1 14 1-24 0 25 1-3 1 18 1-38 1 12 0-14 1 24 1-12 1 2 0-1 1-17 1-2 1 8 0 15 1-11 1-5 1 7 1 0 0 1 1 12 1-11 1-12 0 23 1-9 1-7 1 20 0-11 1 14 1-10 1 7 0-4 1-4 1-1 1-1 1 20 0-35 1 16 1 8 1-4 0-8 1 11 1-5 1 1 0-8 1 11 1-10 1 1 1 4 0-12 1 11 1 10 1-2 0-9 1 2 1-2 1-19 0 18 1-2 1 6 1-13 0 12 1 6 1 4 1-16 1-2 0 20 1-7 1-12 1-4 0 21 1-8 1-12 1 13 0 25 1-26 1 7 1-12 1-2 0 15 1-13 1-9 1 8 0-7 1 13 1-17 1 19 0-23 1 21 1 2 1 2 0-4 1 1 1 1 1-3 1-8 0-3 1 12 1-14 1 20 0 0 1 1 1-15 1 19 0-1 1-23 1-4 1 3 1 25 0-13 1-7 1 6 1 15 0-11 1 11 1-4 1-30 0 13 1 19 1-1 1-17 0 9 1-11 1 11 1-4 1-4 0 11 1 7 1-6 1-5 0-4 1-2 1 0 1-5 0 13 1-21 1-5 1 15 0 1 1-9 1 5 1 4 1 4 0 5 1 4 1-17 1-4 0 20 1-9 1-2 1 5 0 4 1-4 1 14 1-16 1 2 0-22 1 11 1 11 1-3 0-15 1 1 1 12 1 3 0 11 1-10 1-1 1 5 0-22 1 32 1-16 1-5 1 0 0-11 1 27 1-6 1-7 0 0 1 4 1 4 1-16 0 19 1-4 1-18 1-2 1 8 0 16 1 0 1 1 1 2 0-6 1-15 1 10 1 9 0 0 1 4 1-21 1 28 0-20 1 15 1-3 1 3 1-16 0 4 1-26 1 34 1 0 0-15 1 0 1 7 1 15 0-31 1 7 1 1 1 9 1-12 0 11 1-6 1 2 1-13 0 15 1-1 1-13 1 7 0 2 1 2 1-11 1 14 0-10 1-14 1 14 1 11 1-28 0 19 1 12 1 3 1 16 0-21 1-18 1 21 1-27 0 20 1-8 1-6 1 4 1-27 0 37 1 11 1-19 1 13 0-10 1-14 1 9 1 4 0 4 1-8 1-1 1 12 0-17 1 12 1-12 1 6 1-13 0 1 1 7 1 1 1-6 0-8 1 2 1 8 1-2 0-10 1 28 1-20 1 13 0-20 1 16 1-3 1 8 1-9 0-7 1-8 1 26 1-8 0-38 1 26 1 8 1-4 0 28 1-38 1 13 1 14 1-23 0 16 1 3 1-13 1 1 0 7 1-3 1 11 1 1 0-20 1-4 1 8 1 0 0 7 1-2 1 7 1-24 1 21 0-9 1 4 1 13 1-30 0 21 1 4 1-8 1 9 0-8 1 9 1-14 1 5 1 12 0-21 1 8 1 11 1-13 0 0 1-13 1 24 1-15 0 8 1-6 1 7 1-2 0-5 1 15 1 8 1-19 1 4 0-13 1 3 1 6 1-11 0 10 1-2 1-6 1 2 0 6 1-2 1 7 1-1 1-7 0-7 1 11 1-11 1-10 0-2 1 19 1-10 1 4 0-1 1-1 1 3 1-3 0 6 1 4 1-5 1-2 1-7 0 8 1-3 1-6 1 21 0-7 1-7 1 5 1 9 0-18 1 9 1 9 1-26 1 28 0-11 1 6 1-7 1-4 0 12 1-6 1 0 1 8 0-19 1 9 1 4 1 4 0-3 1-4 1 6 1-15 1 34 0-4 1-16 1 14 1-16 0 6 1-11 1 1 1-8 0 3 1-3 1 6 1-5 0 5 1 10 1 5 1 0 1-15 0 25 1-23 1 8 1-14 0 5 1 8 1-6 1 20 0-22 1-2 1 21 1-24 1 9 0-2 1 14 1-18 1 1 0 5 1 9 1-15 1-4 0 8 1-6 1 15 1-7 0-2 1 2 1-23 1 21 1 9 0-13 1 17 1-13 1-4 0 11 1-1 1 5 1-10 0 7 1-21 1 9 1 8 1 10 0-30 1 6 1 8 1 2 0 0 1 6 1-21 1 15 0 14 1-7 1 17 1-28 0-1 1-9 1-3 1 25 1-10 0-5 1 2 1 11 1-12 0 3 1-8 1 12 1 2 0 2 1-1 1 3 1-4 1-8 0 0 1-7 1 2 1 4 0 15 1-15 1-6 1 22 0-2 1-1 1 1 1-7 0 6 1-12 1 14 1-9 1 3 0 5 1-18 1 9 1-4 0 8 1-9 1 1 1 7 0 14 1-23 1 2 1 4 1 0 0 1 1-1 1 11 1-9 0-3 1 8 1 3 1-25 0 11 1 8 1 2 1 19 0-11 1-11 1-14 1 30 1-12 0-23 1 11 1 2 1-7 0 12 1 1 1-8 1 0 0 17 1-23 1 29 1-9 0-33 1 32 1-10 1 15 1-6 0 4 1-2 1-10 1-9 0 8 1-6 1 19 1-18 0 8 1-7 1 16 1-1 1-14 0 6 1 5 1 7 1-5 0-5 1-2 1 11 1-2 0-6 1 13 1-18 1 9 0 1 1 20 1-7 1-5 1-4 0 4 1-13 1 1 1 4 0 15 1-30 1 14 1-7 0 10 1-6 1-6 1 3 1-6 0 10 1-20 1 35 1-12 0-14 1 11 1 2 1 12 0-26 1 27 1-21 1 3 0-5 1-5 1 19 1 2 1-4 0 12 1-22 1 11 1-4 0 11 1-9 1 5 1-4 0 9 1-19 1 15 1 17 1-28 0 8 1 16 1-41 1 23 0 11 1-7 1-8 1 5 0-13 1 1 1 16 1-8 0-5 1 9 1 0 1-12 1 3 0 16 1-7 1-2 1-3 0 5 1-18 1 20 1 1 0-12 1 22 1-11 1-15 1 17 0-5 1-17 1 5 1 4 0-2 1 8 1-9 1 5 0-24 1 17 1 8 1-3 0-1 1 13 1-5 1-21 1 26 0-8 1-14 1-4 1 22 0-22 1 16 1-18 1 10 0 7 1-9 1 1 1 11 1-26 0 22 1-14 1 19 1 8 0-7 1-9 1-7 1-10 0 14 1 3 1 9 1-11 0-3 1 22 1-31 1 1 1-10 0 28 1-9 1 1 1 11 0-4 1 1 1-13 1 0 0-8 1 16 1 8 1-16 0-7 1 4 1-5 1 15 1-12 0 16 1-23 1 7 1 7 0-4 1 14 1-7 1-8 0 12 1-4 1-29 1 19 1 9 0 1 1-21 1 36 1-43 0 13 1 10 1-9 1-15 0 19 1 0 1 1 1-2 0 2 1-10 1 13 1 3 1-2 0 1 1 11 1 4 1-5 0-14 1 9 1-2 1-29 0 16 1 12 1 4 1-17 1 19 0-17 1 6 1-7 1 18 0-14 1 24 1-14 1-11 0 3 1 22 1-22 1 2 0 5 1 6 1-4 1 2 1-13 0 4 1-5 1 4 1 17 0-13 1-17 1 29 1-12 0 9 1 1 1-9 1-6 1 1 0 3 1-4 1 23 1-22 0 4 1 5 1-1 1 7 0-18 1 17 1 6 1-13 0 5 1-4 1-14 1 15 1-3 0-11 1 24 1-15 1-7 0-3 1-7 1 26 1-11 0 6 1 3 1 3 1 6 1-15 0-4 1 17 1-16 1 12 0 4 1 14 1-33 1 4 0 9 1 1 1 9 1-16 0 5 1-5 1 3 1 15 1 2 0-18 1 19 1-17 1-18 0 33 1-17 1 6 1-3 0 11 1-5 1-4 1-11 0 10 1 2 1 17 1-14 1 9 0-4 1-3 1-6 1 4 0 4 1 3 1-13 1 21 0-8 1-12 1 15 1-9 1 0 0-10 1 8 1 25 1-14 0-3 1-4 1 4 1-12 0 7 1 21 1-3 1 12 0-33 1 17 1 0 1 13 1-9 0-8 1 8 1 0 1 3 0-23 1 23 1 8 1-8 0-1 1-2 1 2 1 8 1-8 0-5 1 16 1-30 1 3 0 31 1-12 1-12 1-3 0-4 1 33 1-6 1-5 0-9 1 15 1-13 1 0 1-2 0 19 1-13 1 1 1 5 0-15 1 14 1-15 1 18 0-20 1 1 1 22 1-10 1 0 0 12 1-15 1 1 1 13 0-8 1-7 1 9 1 5 0-21 1 24 1-12 1-7 0 3 1 24 1-14 1-1 1 1 0-8 1 1 1 4 1-1 0-6 1-2 1 28 1-36 0 25 1-12 1 21 1-10 1 7 0-21 1 2 1 8 1 2 0-5 1 12 1-3 1 1 0-14 1 7 1 11 1-14 0-2 1-8 1 17 1-9 1-15 0 22 1 0 1-8 1 9 0-5 1 5 1 2 1-15 0 11 1 6 1-6 1-2 0-4 1-5 1-8 1 27 1-9 0 15 1-18 1-3 1 11 0 2 1 1 1 5 1-19 0-11 1 28 1-24 1 16 1 12 0-17 1-2 1 4 1 6 0-17 1 18 1-8 1 1 0 14 1 9 1-1 1-12 0-7 1 19 1-9 1-20 1 29 0-20 1 1 1-4 1 20 0-17 1 16 1-25 1 20 0-11 1 10 1-8 1 14 1-16 0-3 1 6 1-15 1 11 0-3 1 2 1-12 1 22 0-3 1-1 1-7 1 3 0-6 1 5 1 7 1-4 1-5 0 25 1-34 1 18 1-2 0-6 1 5 1 11 1-11 0-14 1 3 1-2 1 17 1-3 0-11 1-4 1 14 1 9 0 9 1-30 1 27 1-17 0-4 1-21 1 28 1 3 0-5 1-1 1-7 1 6 1 13 0 12 1-21 1 9 1-19 0 24 1-14 1 9 1 1 0-24 1 14 1 3 1-8 1 13 0-4 1 3 1-24 1 15 0-3 1-4 1 12 1 0 0 14 1-20 1 2 1 7 0-15 1 27 1-20 1 17 1-2 0-8 1-14 1 23 1-1 0 2 1-29 1 13 1 2 0-15 1 16 1 22 1-15 0 7 1-30 1 32 1-16 1 8 0-1 1-4 1 1 1 5 0 5 1-6 1 4 1-2 0-9 1 2 1-6 1 6 1-20 0 25 1 2 1-19 1 16 0-8 1-8 1 10 1 2 0-12 1 6 1 7 1 6 0-7 1 11 1-7 1 2 1-13 0-4 1 13 1-2 1 30 0-21 1-9 1-9 1 1 0-1 1 8 1 23 1-34 1-3 0 3 1 1 1-2 1-14 0 22 1-11 1 7 1 1 0 8 1 2 1 8 1-16 0 9 1 8 1-4 1 4 1-25 0 17 1-4 1 12 1-1 0-19 1 12 1-5 1-15 0-2 1 12 1 2 1 2 1 5 0-22 1 30 1-10 1 16 0-6 1-15 1-1 1 2 0 6 1 3 1-1 1-1 0-14 1-3 1 9 1 10 1 4 0-12 1 6 1 7 1-22 0 13 1 3 1 5 1 0 0-17 1 17 1-9 1-5 1-12 0 12 1 5 1 4 1-12 0-8 1 20 1-10 1 7 0 13 1-5 1-17 1-6 0 7 1 9 1 4 1-11 1 2 0 18 1-21 1 13 1-12 0 1 1-1 1-4 1 4 0 16 1-1 1-18 1 5 0 18 1 4 1-26 1-13 1 13 0 9 1-4 1 27 1-16 0-19 1 1 1 27 1-31 0 6 1-4 1 10 1-2 1 10 0-13 1-6 1 17 1-12 0 9 1-15 1 1 1 30 0-25 1-5 1 14 1-3 0 0 1 10 1-10 1-15 1 10 0 16 1-19 1-2 1 10 0-6 1-35 1 30 1 11 0 9 1 3 1-10 1-2 1 21 0-18 1-1 1 0 1 8 0-26 1 14 1 20 1-5 0-14 1 3 1 4 1 1 0 2 1 2 1 6 1-15 1 31 0-19 1-18 1 19 1 4 0-29 1 8 1 11 1 4 0-3 1 1 1-1 1 4 1-12 0 10 1 12 1-5 1-12 0 9 1 13 1-36 1 9 0 9 1 0 1-9 1-8 0 19 1-9 1 9 1-8 1 14 0 6 1-17 1 2 1-7 0 13 1-18 1 12 1-13 0 17 1-17 1 15 1-2 1-8 0 25 1-6 1-27 1 31 0-10 1-10 1-9 1 18 0-32 1 37 1-7 1-14 0 6 1 3 1-5 1 2 1 0 0 4 1 6 1-16 1 17 0-21 1-10 1 6 1-8 0 31 1-12 1 10 1-1 0 9 1-5 1-19 1 1 1-4 0 0 1 4 1 14 1-6 0-8 1-4 1 15 1 1 0 0 1-18 1 10 1 8 1 4 0-10 1 20 1-13 1 3 0 1 1-7 1-1 1-24 0 27 1-5 1 14 1 8 0-26 1-7 1 27 1-9 1-11 0 10 1 22 1-31 1 10 0-8 1 15 1-17 1-2 0 16 1-11 1 10 1-2 1 4 0-5 1 2 1-17 1 13 0 7 1-22 1 7 1-4 0 9 1-7 1 7 1 8 0-10 1 0 1 0 1-7 1 24 0-19 1 10 1-5 1-6 0 3 1 7 1-13 1 8 0-9 1-3 1 15 1 7 1-10 0-7 1 5 1 14 1 5 0-6 1 0 1-6 1-3 0-7 1 9 1-16 1 15 0-5 1 9 1-8 1-6 1 3 0-5 1 17 1-10 1-11 0 13 1 3 1 1 1 2 0-6 1-11 1 8 1 4 1 7 0 3 1-32 1 26 1-5 0 6 1-6 1 5 1-4 0-12 1 20 1-11 1 5 0-6 1 13 1-10 1 13 1 8 0-5 1-3 1 2 1-7 0-13 1 20 1-14 1 3 0 7 1 2 1-12 1-1 0 8 1-3 1-1 1 11 1-13 0-2 1-13 1 26 1-4 0-9 1 6 1-1 1-4 0 2 1-2 1-4 1 18 1-19 0 25 1-35 1 7 1 14 0-14 1 11 1-5 1-2 0 3 1 4 1-5 1 7 0 2 1 5 1 8 1-30 1 7 0 19 1-16 1 1 1 21 0-12 1-7 1-17 1 6 0-2 1 7 1-6 1 19 1-16 0-1 1 17 1-14 1-11 0-4 1-8 1 32 1-5 0 4 1-15 1 19 1 2 0 5 1-16 1-2 1 10 1 2 0-5 1-14 1 25 1-12 0-2 1-1 1-8 1 3 0 5 1-10 1 13 1-3 1 0 0 12 1-12 1 8 1 3 0-8 1 13 1-7 1-3 0-8 1 6 1-6 1-11 0 7 1 18 1 5 1-7 1 0 0 10 1-2 1 0 1-10 0-17 1-2 1 24 1-5 0 9 1 2 1-13 1-1 1 6 0-11 1 9 1-13 1 15 0-12 1 9 1-3 1-4 0 17 1-5 1-6 1 2 0-5 1 10 1 4 1-11 1-3 0 9 1-18 1 5 1-2 0 1 1 15 1 26 1-28 0-10 1-3 1 3 1 1 0 9 1-4 1-4 1-11 1 17 0-12 1 2 1 2 1 6 0-4 1 14 1-17 1-2 0 7 1-9 1 2 1 9 1-14 0 12 1-26 1 30 1-2 0-1 1-8 1-8 1 10 0 4 1-20 1 8 1 12 0-2 1 13 1-14 1-15 1 26 0 2 1-14 1 23 1-34 0 26 1-7 1-5 1-11 0 7 1 20 1-2 1-17 1 21 0-16 1 5 1-15 1-3 0 33 1-26 1-1 1 12 0-1 1 6 1-7 1-7 0-8 1-1 1 16 1 5 1-16 0 33 1-12 1-18 1-14 0 27 1-8 1 11 1-9 0 0 1 6 1-7 1 1 1-6 0 6 1 9 1-13 1-6 0 14 1-19 1 8 1 7 0-4 1 4 1 4 1-17 0 0 1 12 1-2 1 0 1-9 0-7 1 19 1 9 1-15 0-5 1-8 1 20 1 10 0-16 1 12 1-29 1 21 1-4 0-5 1 1 1 5 1-3 0-8 1 11 1-19 1 13 0 24 1-29 1 24 1-18 0-17 1 11 1 20 1-3 1-7 0-12 1 19 1-16 1 8 0 4 1 1 1-17 1 29 0-3 1-18 1-1 1 21 0-4 1 3 1-15 1 10 1-18 0 6 1 4 1 1 1-3 0-3 1 7 1-2 1-4 0 7 1-10 1 11 1 5 1-8 0-13 1 1 1 28 1-17 0 7 1-2 1 0 1-1 0 2 1-2 1-5 1 13 0 0 1-1 1 0 1-16 1 15 0-9 1-2 1-6 1 6 0-9 1 9 1-3 1-5 0 20 1-17 1-10 1 13 1 3 0-19 1 16 1-10 1 32 0-22 1 6 1-8 1-7 0 12 1 0 1 24 1-32 0-5 1 11 1 6 1-7 1-6 0 3 1-12 1 23 1 7 0-16 1-7 1 15 1-4 0 6 1 6 1-5 1 12 1-21 0-2 1-3 1 15 1-2 0 10 1-2 1-21 1-17 0 34 1-6 1-11 1 14 0-11 1 8 1-1 1-10 1 10 0 9 1-19 1 7 1 5 0 2 1-12 1 11 1-8 0-8 1 10 1-11 1 21 1-17 0 0 1-13 1 16 1-8 0 9 1 8 1-2 1-2 0-13 1 14 1-8 1-8 0-3 1 2 1-4 1 23 1-6 0-7 1-7 1 6 1 11 0-5 1 13 1-21 1 23 0-17 1-8 1 2 1 23 0-16 1 5 1 0 1-17 1 12 0 15 1-3 1-16 1 5 0 11 1 5 1-10 1-1 0-11 1 13 1-12 1-5 1 24 0-9 1-19 1 18 1-4 0-9 1 15 1-3 1 11 0-19 1 9 1-1 1 20 0-32 1 3 1 13 1-17 1 33 0-19 1 12 1-39 1 48 0-13 1-4 1-13 1-1 0 4 1 6 1-21 1 25 1-9 0-13 1 26 1 10 1-26 0 1 1 16 1-12 1-17 0 19 1-9 1 6 1 7 0-20 1 6 1-2 1 12 1-2 0-1 1-2 1 7 1 2 0-16 1 21 1-5 1-1 0 1 1 6 1-4 1-14 1 10 0 4 1-22 1 27 1-21 0 6 1-9 1 15 1 0 0-15 1 4 1 10 1 8 0 4 1-14 1 11 1-10 1 0 0-6 1-5 1 8 1-3 0 5 1-11 1 3 1-7 0 2 1 18 1 7 1-33 1 10 0 16 1-19 1 13 1 2 0-4 1 16 1 3 1-11 0 7 1-9 1 0 1 23 0-15 1-11 1 25 1-2 1-6 0 6 1-27 1 1 1 13 0 1 1-17 1 2 1 11 0-8 1 20 1-10 1-9 0 9 1-9 1 7 1 1 1 1 0-10 1-4 1 4 1 11 0-14 1 13 1 2 1-8 0-10 1 1 1 1 1-8 1 5 0 10 1-10 1 9 1-6 0-2 1 6 1 12 1-12 0 2 1-2 1 3 1 6 0 4 1-20 1-1 1 4 1 3 0-17 1 11 1 6 1-7 0 8 1-6 1 4 1-2 0 4 1 5 1-8 1-6 1 19 0-3 1 5 1-17 1 10 0-9 1 15 1-14 1 12 0 0 1-9 1 9 1 2 0-13 1 9 1-12 1-11 1 27 0-1 1 10 1-3 1-16 0 3 1 0 1-1 1 11 0 7 1-25 1 8 1-8 1 10 0-7 1 11 1-5 1 1 0-5 1-9 1 7 1 30 0-24 1-1 1-7 1 5 0 8 1 1 1-4 1 3 1-19 0 8 1 5 1-8 1-10 0 20 1-1 1 3 1 8 0-5 1 3 1-12 1 0 1-3 0 14 1-15 1 17 1-6 0-13 1 1 1 1 1-9 0 10 1 11 1 0 1 5 0-9 1 9 1-1 1 3 1 6 0-36 1 14 1 26 1-22 0 9 1 14 1-17 1-4 0-3 1-5 1 17 1-7 0-6 1 1 1 1 1 3 1-10 0 21 1 2 1-28 1 11 0-6 1 8 1 5 1 0 0-5 1 5 1-4 1 0 1-8 0 0 1-7 1 20 1-6 0-9 1 5 1 24 1-24 0 3 1 4 1-1 1 3 0-17 1 5 1 4 1-8 1 1 0 16 1 2 1-1 1-15 0 6 1-10 1 6 1 6 0 9 1-8 1-22 1 25 1 2 0-6 1-14 1 13 1 9 0-5 1-4 1-2 1-8 0-13 1 10 1 6 1 6 0 6 1-12 1-6 1 4 1 8 0-7 1 8 1-1 1 1 0-3 1 1 1-9 1 9 0 1 1-10 1 3 1-4 1 17 0-18 1 11 1 9 1-7 0 9 1-2 1-5 1-11 0 20 1-14 1 5 1-15 0 12 1-4 1-7 1 22 1-6 0 10 1-5 1-10 1 4 0-5 1 7 1 3 1-5 0 7 1 2 1 4 1-13 1-5 0 15 1-6 1 15 1-9 0-11 1 12 1-15 1 7 0-6 1 8 1 7 1-12 0-6 1 11 1-8 1 9 1-3 0-13 1 10 1 8 1-12 0 4 1 4 1-10 1 30 0-29 1-12 1 14 1 18 1-28 0-10 1 16 1 14 1-4 0-4 1-3 1-9 1 5 0 24 1-17 1-1 1-18 0 21 1 7 1-9 1-5 1 18 0-25 1 10 1-8 1 1 0 2 1-8 1-2 1 18 0-39 1 26 1 8 1 6 0-6 1 8 1-3 1 25 1-30 0-15 1 9 1 0 1 5 0 8 1-11 1 4 1 1 0-3 1 7 1-6 1-4 1-3 0 8 1-6 1 6 1 21 0-3 1-14 1 8 1-15 0 17 1-8 1 1 1 2 0-2 1-5 1-1 1 6 1-7 0-3 1 6 1 4 1 0 0-2 1 0 1-6 1-23 0 13 1 9 1-5 1 0 1-6 0-2 1 21 1-28 1 27 0-3 1 2 1 8 1 1 0-32 1 4 1 22 1 1 0-23 1 22 1-12 1-14 1 12 0-6 1 11 1 17 1-8 0 9 1-18 1 14 1-13 0 6 1 2 1-11 1 9 1 3 0-16 1 9 1 13 1-24 0 23 1-14 1-2 1 6 0 5 1-4 1 0 1 7 0-17 1 13 1 1 1-22 1 22 0 7 1-13 1-1 1 0 0-18 1 23 1-17 1 4 0-6 1 13 1 2 1-1 1-5 0-7 1-6 1 29 1-25 0 6 1 3 1 9 1-13 0 19 1-27 1 19 1-7 0 1 1-7 1 17 1-18 1 3 0-9 1 11 1 5 1 15 0-13 1-17 1 19 1 1 0-3 1-5 1 20 1-31 0 11 1-1 1 7 1-17 1 21 0-11 1 6 1 12 1-10 0-7 1 8 1-39 1 37 0 7 1 2 1-10 1 8 1-13 0-1 1-5 1 2 1 11 0-6 1 13 1-14 1 8 0-17 1 18 1-8 1 8 0-12 1-1 1 15 1-26 1 13 0 16 1-5 1 8 1 2 0-16 1 17 1-22 1 18 0-11 1-18 1 18 1-2 1-11 0 14 1-7 1 12 1-3 0-5 1 2 1 7 1-8 0-3 1 0 1 5 1 9 0-14 1-2 1 16 1 12 1-18 0-11 1 1 1 18 1-22 0 19 1-16 1 11 1-12 0 4 1 6 1-9 1 12 1-3 0-1 1 4 1-16 1 0 0 8 1 8 1-13 1 2 0-4 1 6 1 1 1-14 0 17 1-3 1 13 1-12 1 1 0-1 1-8 1 10 1-8 0 7 1 0 1 13 1-20 0-2 1 14 1-3 1 11 1-12 0 6 1-12 1-47 1 45 0 13 1 7 1-14 1 5 0-21 1 14 1-11 1 8 0 8 1 10 1-4 1-15 1 5 0-2 1 0 1-18 1 18 0 10 1-7 1-12 1 29 0-15 1-5 1-6 1 8 0 9 1-14 1 2 1 21 1-16 0 16 1 8 1-14 1 0 0 11 1-35 1 28 1-14 0-3 1-13 1 23 1-46 1 53 0-10 1 4 1 5 1-12 0-14 1-2 1 13 1 16 0-3 1-13 1 0 1 0 0 7 1 5 1-12 1 4 1-13 0 18 1-13 1-5 1-6 0 0 1 26 1 1 1-11 0 36 1-14 1-34 1 9 1-5 0 7 1-9 1 8 1 1 0-2 1 13 1-15 1 19 0-28 1 16 1 8 1 5 0-14 1-20 1 13 1 18 1 5 0-44 1 30 1 8 1-14 0-4 1-9 1 16 1 4 0-12 1 14 1-10 1 2 1-7 0 15 1 0 1-8 1-1 0 18 1-6 1-8 1 5 0-23 1 14 1-4 1 12 0-1 1 0 1-8 1 13 1-17 0 21 1-15 1 6 1 6 0-17 1 5 1 11 1 5 0-14 1 14 1-12 1 13 1-9 0 9 1-7 1-16 1-1 0 20 1-2 1 13 1-18 0-62 1 72 1 1 1-11 0 8 1-7 1-12 1 10 1-2 0-11 1 14 1-4 1 5 0 8 1-21 1 26 1-13 0 10 1-3 1 4 1-10 0-6 1-8 1 28 1-19 1 6 0 2 1-5 1-3 1 3 0-1 1-20 1 19 1-2 0-8 1 1 1 15 1-4 1 6 0-6 1 7 1 4 1 1 0-9 1-4 1-6 1-8 0-2 1 22 1 0 1-13 0 15 1-18 1 0 1 18 1-15 0-7 1 9 1 14 1-9 0-5 1 10 1-9 1 5 0 5 1 2 1-13 1 13 1-10 0 19 1-14 1-3 1-2 0-4 1 4 1 0 1 7 0 7 1 2 1-3 1-9 0-7 1 6 1 2 1-5 1 9 0-5 1 3 1-3 1 3 0 9 1-8 1 3 1-22 0 2 1 18 1 2 1-8 1 13 0-24 1 11 1 3 1-13 0-3 1 27 1-24 1 23 0-8 1 0 1 7 1-22 0-13 1 32 1-6 1-15 1 12 0-2 1 6 1-10 1 12 0-16 1 2 1 11 1 0 0-5 1-6 1 12 1 1 1 12 0-16 1-3 1-9 1 19 0 2 1-23 1 1 1 19 0-5 1 11 1-15 1-12 0 5 1 16 1-8 1 5 1-9 0 8 1-10 1-5 1 8 0 0 1 0 1-4 1 11 0-2 1 0 1-13 1 11 0-3 1 8 1 9 1-9 1-7 0 7 1 3 1-2 1-8 0 1 1 3 1 8 1-2 0-37 1 32 1-7 1 3 1 14 0-24 1 11 1-18 1 12 0 11 1-8 1 14 1-10 0-8 1 10 1 8 1-5 0-13 1 19 1-1 1-19 1 6 0 1 1 3 1-8 1-3 0 3 1 19 1-21 1 20 0-30 1 19 1-9 1 3 1 8 0-16 1 9 1-17 1 14 0 3 1-19 1 10 1 13 0 7 1-23 1 7 1 0 0 14 1 3 1 3 1-18 1 12 0-7 1 25 1-28 1 16 0 17 1-12 1-16 1-9 0 37 1-13 1-13 1 15 1-11 0 5 1-10 1 13 1-11 0 4 1-9 1 2 1-10 0 6 1-13 1 29 1-12 0-9 1 6 1 24 1-27 1 8 0-26 1 22 1-7 1 15 0-14 1 30 1-39 1 18 0 11 1-22 1 8 1-14 1 27 0-5 1-13 1 10 1-12 0 2 1 12 1-8 1-4 0 3 1 4 1 2 1-2 0-11 1-10 1 31 1-4 1-7 0-15 1 21 1-29 1 1 0 41 1-27 1 1 1 9 0 13 1-18 1 6 1-14 0 6 1 14 1-25 1 1 1 4 0 13 1-7 1 8 1 7 0 12 1-18 1 21 1-24 0 19 1-13 1 5 1 8 1-1 0-4 1-18 1 10 1 6 0-10 1 2 1 18 1-5 0-18 1 12 1-4 1 0 0 4 1-15 1 4 1 14 1 1 0-9 1 8 1-9 1-7 0 6 1-1 1 6 1 2 0 2 1-21 1 19 1-8 1 0 0-3 1 7 1 11 1-34 0 29 1-15 1 15 1-16 0 16 1-26 1 11 1 19 0-30 1 32 1-14 1-13 1 13 0-15 1 11 1 6 1-17 0 11 1 4 1-21 1 19 0 10 1-6 1-29 1 2" fill="none" stroke="#000000" stroke-width="5.6" stroke-linejoin="round"/></g>
<g clip-path="url(#cc)"><path transform="scale(.5)" d="M546 5512l0-3 1-15 1 9 1 19 0-13 1 5 1-6 1 15 0-15 1 0 1-10 1 10 1-1 0 16 1-30 1 34 1-24 0 11 1 5 1-2 1 0 0-8 1 4 1-13 1 27 1-15 0 7 1-14 1 24 1 18 0-37 1 13 1-20 1 6 0-6 1 0 1 15 1-2 0-4 1-8 1-1 1 37 1-26 0 2 1-2 1-3 1-1 0-19 1 33 1-14 1-6 0 11 1-4 1 4 1-14 1 17 0-22 1 14 1-4 1-6 0 2 1-3 1 7 1 2 0-3 1 11 1-18 1 16 0 4 1-27 1 18 1 9 1-25 0 18 1-11 1 15 1-4 0 12 1 2 1-8 1-7 0-7 1-13 1 29 1-17 1 13 0-3 1 11 1 0 1-5 0 3 1-9 1 5 1-15 0 9 1 0 1-8 1 5 0 5 1 0 1 0 1-9 1 2 0 3 1-3 1 11 1-9 0 16 1-23 1 10 1 0 0-4 1 5 1 2 1-11 1 8 0 9 1-11 1 18 1-28 0 15 1-2 1-18 1 1 0 17 1-4 1-4 1-5 0 15 1-2 1-9 1 8 1-4 0 1 1 14 1-2 1 15 0-20 1-13 1 20 1-19 0 2 1 8 1 0 1-1 0 8 1-5 1-2 1-5 1-2 0 12 1-43 1 43 1-5 0-4 1 2 1 1 1-3 0 6 1 1 1-4 1-10 1-27 0-12 1 44 1 25 1-21 0-17 1 13 1 3 1 3 0-18 1 3 1 2 1 2 0-8 1 4 1 17 1-17 1 5 0 2 1-8 1 6 1 24 0-37 1 3 1 9 1 2 0-6 1 12 1-14 1 4 1 0 0 4 1-3 1-15 1-3 0 6 1 4 1 5 1-13 0-8 1 25 1-23 1 26 0-15 1-7 1 14 1 1 1-15 0 15 1-10 1-15 1 17 0-21 1 13 1-1 1-4 0 2 1-13 1-3 1 14 1 5 0 8 1-3 1-6 1 0 0 0 1-1 1-3 1 14 0-2 1-18 1 3 1 11 0-15 1 16 1-3 1 13 1-21 0 7 1-9 1 3 1 5 0 0 1-8 1 11 1 0 0-2 1-6 1 0 1-9 1 17 0-11 1 15 1-10 1 4 0-14 1 9 1 9 1-9 0 2 1 5 1 0 1 5 0-31 1 22 1-7 1 17 1-1 0-7 1 0 1-8 1 14 0-13 1-8 1 20 1-15 0 15 1-11 1 0 1-11 0 20 1-7 1-8 1 18 1-9 0 6 1-1 1-12 1 0 0-16 1 10 1 0 1 11 0 1 1-4 1 20 1-33 1 19 0 3 1-5 1-12 1-3 0 13 1-7 1 3 1 28 0-31 1 1 1 12 1-22 0 21 1-15 1 10 1-3 1-2 0-13 1 15 1-11 1-16 0 16 1-8 1-9 1 8 0-12 1 6 1-13 1 2 1 6 0-21 1 11 1 0 1 4 0-3 1-3 1-2 1-6 0 21 1-5 1-11 1 11 0 1 1-7 1 13 1 2 1 7 0-12 1 8 1 16 1-8 0 16 1-16 1 5 1 8 0 4 1 14 1-19 1 9 1-4 0 0 1 13 1 1 1 2 0 7 1-30 1 22 1 3 0-10 1 34 1-25 1 0 0 9 1-11 1 21 1-16 1-7 0 26 1-6 1-10 1-1 0 6 1-7 1 1 1 14 0-10 1 10 1 7 1 3 1-27 0 10 1-17 1 47 1-27 0-5 1 4 1-4 1 3 0 6 1 15 1-11 1-25 0-6 1 13 1 16 1-2 1 5 0-10 1 3 1-3 1-11 0 22 1-13 1 17 1-20 0 13 1-3 1-2 1-12 0 13 1 4 1 6 1-12 1 9 0-2 1-4 1-5 1 11 0-11 1-8 1 27 1-23 0-6 1 23 1-10 1 17 1-22 0 15 1-5 1 10 1 0 0-3 1 3 1 0 1-3 0 8 1-8 1-17 1 35 0-20 1 8 1 3 1 2 1-4 0-1 1-8 1 13 1-19 0 15 1-12 1-4 1 19 0-19 1-9 1 21 1-8 1 5 0-2 1 3 1 2 1-10 0-1 1 7 1-30 1 22 0 3 1 12 1-21 1 5 0 29 1-8 1-5 1-11 1-2 0 13 1-4 1-4 1 17 0-15 1 7 1-4 1 3 0 9 1-1 1-9 1 0 1 3 0-11 1 11 1-10 1 10 0-1 1-1 1-11 1 6 0-4 1 3 1 7 1-10 0 10 1-4 1 11 1-9 1 4 0-5 1-12 1-4 1 12 0 9 1-7 1 6 1 7 0-4 1 2 1 4 1-15 1 16 0 1 1-9 1 12 1 4 0-1 1-11 1 2 1 1 0 7 1 4 1-14 1 19 0-10 1 10 1-8 1-2 1-11 0 33 1-35 1 19 1-10 0-5 1 13 1-6 1-5 0 4 1 5 1-8 1 0 1 13 0-23 1 9 1 21 1-13 0-20 1 1 1 11 1 16 0-12 1-10 1 6 1 6 0 4 1-12 1 9 1-4 1-1 0-8 1 12 1 1 1 17 0-23 1 3 1 8 1 19 0-13 1-4 1-16 1 13 0 0 1 0 1-3 1 21 1-2 0 4 1-7 1 2 1-4 0 10 1-8 1 8 1-24 0 23 1-25 1 8 1 24 1-18 0 4 1 17 1-17 1 6 0-4 1 10 1-6 1-4 0 5 1 3 1-4 1 7 0-10 1 23 1-33 1 12 1-3 0-3 1 17 1-29 1 28 0-13 1 1 1-8 1 11 0 11 1-14 1 23 1-19 1 2 0-16 1 15 1 1 1 3 0 1 1-3 1-9 1 15 0-9 1 11 1-11 1-2 0 11 1-5 1-6 1-5 1-1 0 8 1 8 1 5 1-20 0-5 1 7 1-10 1 15 0-1 1-17 1 20 1-10 1-4 0 0 1-15 1 19 1-5 0 11 1-11 1-7 1-34 0 26 1-35 1 33 1 6 0-25 1-13 1 0 1-18 1-39 0-14 1-22 1-20 1-21 0-21 1-38 1-44 1-68 0-91 1-97 1-111 1-88 1-127 0-67 1-69 1-63 1-11 0-3 1 4 1 38 1-1 0 26 1 21 1 22 1 30 0 2 1 55 1 35 1 39 1 24 0 54 1 35 1 32 1 50 0 62 1 35 1 25 1 34 0 20 1 42 1 13 1 8 0 21 1 6 1 12 1 9 1 16 0 5 1 9 1 15 1 21 0-10 1 18 1 8 1 12 0 24 1-8 1 18 1 13 1-14 0 19 1 1 1 0 1-2 0 32 1-5 1-8 1 14 0 25 1-25 1 2 1-2 0 7 1 8 1-3 1 5 1 6 0-5 1 2 1 13 1-15 0 3 1 2 1 31 1-22 0 3 1 9 1-11 1 18 1-21 0 8 1 9 1-15 1 9 0 3 1 14 1-14 1-6 0 4 1 21 1-21 1-1 0 7 1 12 1 10 1-4 1-1 0-6 1-1 1 11 1 9 0-10 1 9 1-21 1 22 0-13 1-1 1 15 1-15 1 10 0 7 1 2 1-8 1-7 0 25 1-19 1 7 1 6 0-5 1 0 1 2 1-6 0 14 1-22 1 10 1 13 1 11 0-14 1 4 1-8 1 1 0-9 1 18 1-7 1 11 0 1 1-15 1 15 1 1 1 2 0-5 1-1 1 7 1 9 0-12 1 10 1-3 1-5 0 0 1 22 1-33 1 7 0-11 1-6 1 27 1-5 1-9 0-8 1 9 1-4 1-14 0 13 1-11 1-9 1 9 0-10 1 7 1 11 1-9 0-3 1 1 1-3 1-3 1 1 0 2 1-46 1 49 1 2 0 2 1-16 1 27 1-17 0 15 1-8 1-11 1 9 1-13 0 20 1-5 1 3 1-5 0 3 1 2 1-3 1-8 0 9 1 2 1 4 1 4 0 7 1-3 1-7 1 16 1-20 0 10 1 5 1-3 1-9 0 3 1 2 1-12 1-4 0 29 1-17 1 14 1 5 1-6 0-13 1 11 1 2 1-15 0 7 1 5 1-15 1 11 0 10 1 3 1-5 1-4 0-6 1 1 1 6 1 12 1-17 0 7 1 10 1 2 1-12 0 0 1-3 1 17 1-25 0 30 1-14 1-11 1 3 1 17 0-13 1-5 1 5 1 14 0-22 1 28 1-14 1 10 0-5 1-1 1-7 1 15 0-12 1-9 1 11 1-4 1 1 0 17 1-10 1-3 1-3 0-13 1 3 1 18 1 0 0 5 1 10 1-29 1 6 1 21 0-16 1-20 1 16 1-1 0 3 1 8 1 3 1-3 0-8 1 3 1-8 1-8 0 9 1-2 1 10 1 7 1-28 0 12 1-4 1 13 1 11 0-25 1 29 1-16 1 3 0-6 1-4 1 0 1 25 0-25 1 24 1-21 1 9 1 7 0-5 1 7 1-11 1-7 0 1 1 7 1-9 1 6 0-14 1 14 1 9 1-2 1 3 0-3 1-2 1-7 1-1 0 6 1-3 1 10 1-2 0 16 1-14 1-3 1-25 0 32 1-12 1 4 1 10 1-15 0 1 1 13 1 7 1-19 0 12 1-18 1 9 1-7 0 7 1-15 1 7 1-6 1 12 0 9 1 4 1-8 1-6 0 8 1-26 1 21 1-4 0 3 1 12 1-19 1 3 0-2 1 15 1-8 1 1 1-10 0 21 1-17 1-5 1 14 0 4 1-18 1 9 1-8 0 3 1-2 1 10 1 17 1-23 0 11 1-10 1 9 1-18 0 16 1-9 1-2 1 10 0-3 1 3 1 8 1-20 0 20 1 5 1-8 1-6 1 1 0 3 1 1 1 14 1-23 0-10 1 21 1 8 1-22 0 8 1 31 1-27 1 5 1-3 0-27 1 8 1 10 1-2 0-14 1 22 1-15 1 11 0-13 1 5 1 9 1-15 0 4 1-11 1 20 1-5 1 8 0-16 1 17 1-5 1-11 0 7 1 3 1 1 1 0 0-2 1 8 1 15 1-28 0 21 1-24 1 14 1-25 1 18 0 6 1-4 1 20 1-13 0 5 1-3 1 17 1 2 0-25 1 6 1 4 1-3 1 5 0-1 1-10 1 7 1-7 0 11 1 10 1-10 1-4 0 8 1 1 1-7 1-12 0 0 1 33 1-19 1-10 1-8 0 9 1 2 1 5 1-13 0 5 1-14 1 16 1-19 0 17 1 10 1-12 1-3 1-7 0 15 1 0 1-2 1 1 0-6 1-4 1-5 1 17 0 2 1-7 1 5 1-13 0 12 1-11 1 16 1 1 1 2 0-2 1-12 1-7 1 6 0 0 1 20 1-28 1 20 0-21 1-10 1 20 1-5 1 0 0 17 1-2 1-4 1-7 0-5 1 6 1-8 1 13 0 8 1-12 1 0 1 12 0-21 1 17 1-2 1-8 1 11 0-14 1 2 1-1 1 3 0 4 1 3 1-10 1-9 0 5 1 3 1-5 1-3 1 21 0-10 1-11 1 16 1-2 0-9 1 7 1-12 1 13 0-8 1-16 1 12 1 21 0-2 1 0 1-8 1 11 1-16 0-9 1 1 1 23 1-6 0 0 1 5 1-21 1 20 0 3 1-12 1 0 1-10 0 0 1 15 1 15 1-23 1-1 0-9 1 28 1-6 1-21 0-1 1 2 1 11 1-12 0 15 1 6 1-10 1-2 1-6 0-3 1 24 1-17 1-2 0 15 1-8 1-3 1-3 0 11 1-1 1 4 1-12 0 6 1 3 1-10 1 7 1 51 0-61 1 2 1 5 1 13 0-18 1 14 1 11 1-14 0-16 1 19 1-9 1-6 1 10 0 26 1-25 1-5 1 9 0-7 1-2 1 7 1-9 0 1 1 7 1-2 1-2 0 2 1 0 1 6 1-10 1-6 0 1 1 12 1-12 1 0 0 12 1-12 1 6 1-3 0 0 1 3 1 17 1-20 1 11 0-8 1-6 1 8 1 2 0-5 1-2 1 11 1-1 0-9 1-9 1 13 1-7 0 13 1-6 1 0 1 11 1-11 0 2 1 19 1-21 1-3 0 1 1-1 1 11 1-3 0-4 1 5 1-3 1-15 1 16 0-7 1-20 1 13 1 2 0-13 1-4 1-4 1 10 0-20 1-6 1-18 1 7 0 4 1-11 1-9 1 1 1-8 0-19 1 0 1-7 1 5 0-18 1 13 1-30 1 9 0-12 1-8 1 19 1-19 0 7 1-8 1 12 1 3 1-17 0 7 1 3 1 9 1-20 0 14 1-2 1 4 1-6 0-5 1 6 1 0 1 3 1-16 0-2 1 16 1 4 1-9 0 15 1-15 1 0 1 1 0-12 1-2 1 12 1 6 0-11 1-1 1 19 1-4 1-4 0 11 1-4 1-22 1 23 0-18 1 14 1-15 1 5 0-5 1 18 1-13 1 6 1-11 0 0 1 5 1 2 1-1 0-3 1 6 1 0 1 2 0 3 1-17 1 20 1-21 0 6 1 20 1 2 1-13 1 10 0-8 1-5 1 7 1 7 0 2 1-11 1 17 1-15 0 0 1 22 1-3 1-7 1 24 0-3 1 1 1 24 1-4 0 10 1 13 1-9 1 21 0-13 1 19 1 17 1-3 0 11 1-11 1 3 1 15 1-4 0-6 1 4 1 9 1-16 0-1 1 23 1-22 1 29 0-15 1 5 1 0 1-5 1 12 0-8 1-29 1 27 1-8 0 7 1 20 1-26 1 8 0 3 1 9 1 2 1 5 0-7 1-1 1 3 1 1 1 15 0-9 1 1 1-9 1 7 0 0 1-4 1 5 1-1 0-11 1 10 1 6 1-12 0-1 1 2 1 15 1-17 1 7 0-1 1 1 1-3 1 0 0-7 1 10 1 2 1-5 0 6 1-10 1 8 1-5 1 10 0-12 1 3 1 12 1-4 0-4 1 11 1-2 1-13 0 0 1-7 1 21 1-7 0 13 1-30 1 24 1-9 1-17 0 4 1 19 1-25 1 14 0 12 1-10 1-3 1 1 0 22 1-31 1 27 1-11 1-13 0 8 1 5 1 4 1-9 0-6 1 16 1-8 1 7 0 0 1 13 1-18 1-5 0 9 1-10 1 7 1-8 1 8 0 5 1 1 1-5 1-2 0 9 1-5 1 9 1 1 0-16 1 2 1-4 1 6 1-1 0-13 1 21 1-9 1-10 0-3 1 11 1 5 1 8 0-7 1-3 1 1 1-4 0 0 1 8 1 3 1-5 1-5 0-9 1 25 1-21 1 11 0-11 1-6 1 10 1 13 0-5 1-7 1 6 1-2 1 5 0-4 1 3 1-12 1 5 0-4 1 19 1-9 1 2 0-2 1 3 1-1 1-18 0 15 1 7 1-7 1-20 1 12 0 13 1-5 1-2 1-1 0 15 1-7 1-6 1 12 0-12 1-2 1-6 1-2 0 9 1-3 1-4 1-3 1 8 0 6 1-11 1-2 1 5 0-3 1-8 1 16 1 1 0 4 1-12 1-4 1 11 1-18 0 18 1-6 1 3 1-12 0 16 1-18 1 15 1 9 0-6 1-3 1-14 1 17 0-4 1-16 1 15 1 7 1 1 0 6 1-15 1-6 1 12 0 5 1-10 1 2 1 1 0-4 1 3 1 3 1-10 1 22 0-5 1-7 1 8 1-22 0 29 1-23 1 1 1 2 0-1 1 8 1 1 1-16 0 12 1 10 1-2 1 2 1-14 0-7 1 12 1-4 1 5 0-11 1 0 1-1 1-7 0 24 1-16 1 18 1-18 1-1 0 1 1 0 1 7 1 4 0-11 1 11 1-10 1 12 0-9 1 0 1 9 1-4 0-9 1 7 1-4 1 8 1-5 0 13 1-6 1-16 1 6 0 4 1-2 1 11 1-14 0 13 1-4 1-12 1 11 1-2 0-3 1-2 1-10 1 23 0-10 1-8 1 8 1-1 0 3 1-3 1-8 1-4 0 7 1-8 1 10 1 14 1-19 0 22 1-15 1-1 1 9 0-7 1 3 1-5 1 4 0-7 1 7 1-7 1 5 0-2 1 1 1 5 1-12 1 4 0 22 1-8 1-22 1 15 0-24 1 19 1 0 1 7 0-2 1-3 1-6 1 7 1 1 0 7 1-4 1 0 1-3 0 5 1 2 1-6 1 16 0-7 1-6 1-9 1 8 0 3 1-14 1 6 1-12 1 12 0 4 1-3 1-17 1 2 0 11 1-7 1 19 1-20 0 7 1 3 1 0 1-2 1 10 0-5 1 7 1-21 1 18 0-5 1-9 1-2 1-1 0 15 1-1 1-3 1 14 0-21 1 19 1-12 1-8 1 1 0 9 1-10 1-2 1 22 0-12 1-7 1 2 1 5 0-1 1-19 1 20 1-11 1 18 0-14 1-4 1 11 1 1 0-19 1 15 1-9 1 19 0-25 1 28 1-8 1-3 0-5 1-2 1-11 1-4 1 2 0 28 1-16 1 18 1-16 0 4 1-9 1 13 1-2 0 0 1-11 1 3 1 10 1 5 0-9 1 1 1-47 1 42 0-5 1-1 1 12 1 0 0-17 1 13 1-7 1 4 0-1 1-10 1 14 1-11 1 5 0 5 1 2 1-14 1 1 0 1 1 14 1-10 1 17 0-15 1-15 1 24 1-11 0 6 1-5 1 8 1-10 1 9 0-6 1 1 1-2 1-17 0 25 1-4 1 5 1-15 0 3 1 10 1-17 1 5 1-9 0 6 1 5 1 6 1 11 0-13 1-13 1 10 1 5 0-8 1-4 1-34 1 47 0-5 1 7 1-3 1-13 1 8 0 10 1-21 1-3 1 7 0 14 1 1 1-18 1 18 0-3 1 7 1-26 1 20 1-4 0 4 1 0 1 4 1-28 0 24 1-17 1 22 1-14 0-4 1 16 1-11 1 6 0 4 1-5 1 11 1-12 1-16 0 8 1-8 1 1 1 17 0-5 1-17 1 6 1 5 0 21 1-14 1-20 1 14 1 7 0-4 1-18 1 9 1 21 0-1 1-9 1-38 1 44 0-1 1 16 1-15 1-10 0 0 1 17 1-18 1 13 1 4 0-15 1 17 1-10 1 3 0-6 1-3 1 5 1 14 0-14 1 15 1-19 1-17 1 13 0-7 1 9 1-1 1-3 0-2 1 0 1 11 1-7 0 12 1-20 1 8 1 2 0 8 1-14 1-4 1 4 1-5 0 15 1-14 1 7 1 21 0-24 1 10 1-6 1 4 0 1 1-15 1 13 1-6 0-4 1 9 1 6 1-10 1 2 0 6 1-8 1-9 1 3 0-4 1 2 1 10 1 1 0 9 1-18 1 15 1-9 1-9 0 12 1 13 1-3 1-6 0-14 1 14 1-2 1 7 0-12 1 2 1-6 1 14 0-13 1 16 1-7 1-1 1-3 0-6 1 22 1-19 1 3 0 7 1-9 1-7 1 7 0 0 1-10 1 12 1-15 1 5 0-1 1-1 1-6 1 16 0-15 1 16 1-10 1-2 0 4 1 10 1 1 1 0 0-9 1-1 1-3 1 17 1-14 0-6 1 8 1 1 1-6 0-6 1 1 1 0 1 23 0-21 1 14 1-9 1 12 1-8 0 8 1-2 1-18 1 26 0-18 1 8 1 9 1-19 0 10 1 5 1-7 1 9 0-20 1 26 1-8 1 12 1-18 0-4 1-1 1-5 1 13 0 3 1-11 1 13 1-8 0 7 1-9 1 6 1-10 1 2 0 6 1 22 1-21 1-3 0-1 1 10 1-14 1 5 0 18 1-22 1-7 1 11 0 9 1-22 1 7 1 23 1-24 0 5 1 1 1 17 1-1 0-15 1-14 1 14 1 1 0 6 1-2 1-11 1 15 0-22 1 12 1 2 1 4 1 5 0-4 1 10 1-12 1 16 0-33 1 19 1 12 1-14 0 1 1 5 1-6 1 9 1-6 0 1 1-6 1 8 1-7 0 26 1-32 1 7 1-3 0-28 1 25 1 8 1-2 0 1 1 5 1 3 1-11 1-1 0 5 1-10 1 9 1-3 0-5 1 3 1 7 1 7 0-2 1 2 1-15 1 35 1-46 0 24 1-17 1 7 1-2 0 14 1-19 1 9 1-6 0 13 1-7 1 6 1-9 0-2 1 7 1-5 1 0 1 5 0 2 1 14 1-24 1 7 0 4 1-4 1 7 1-2 0-6 1 16 1-10 1-4 1 14 0-4 1-19 1-8 1 15 0-3 1 12 1-18 1 11 0-1 1 30 1-25 1 1 0-6 1 8 1-4 1 16 1-13 0-12 1-5 1 4 1 12 0-8 1 8 1 2 1-17 0 23 1-13 1-4 1-6 1 17 0-8 1-5 1 4 1 1 0 15 1-10 1-7 1 7 0-23 1-4 1 4 1 21 0-11 1 0 1 0 1 15 1-21 0-7 1 7 1-11 1 19 0-9 1-5 1 17 1-6 0 4 1-13 1 15 1-12 1 6 0-19 1 19 1-4 1-3 0 7 1-2 1-2 1 2 0-6 1 8 1-7 1 3 0 3 1 4 1 6 1-9 1-10 0 7 1-15 1 20 1-5 0 10 1-22 1 20 1-15 0 2 1-19 1 10 1 4 0 5 1-14 1 17 1 7 1-20 0 11 1 5 1-9 1-1 0 16 1-20 1-8 1 19 0 9 1-14 1 4 1-7 1-1 0 9 1-14 1 28 1-9 0-7 1-2 1 4 1-4 0 15 1 8 1-25 1-4 0 11 1 9 1-3 1-11 1 3 0-9 1-2 1 3 1 12 0-10 1 4 1 3 1-5 0 8 1 8 1-12 1 10 1-6 0-7 1-2 1 24 1-9 0 4 1-11 1 8 1-14 0 12 1-8 1 12 1-2 0-4 1-6 1 20 1-17 1 12 0-14 1 16 1-11 1-14 0-2 1 20 1-22 1 17 0-4 1-4 1 3 1-2 1 2 0-5 1 5 1 6 1 5 0 0 1-7 1-7 1 4 0 6 1-6 1 8 1-5 0-3 1 7 1-13 1 1 1 12 0-8 1 4 1-1 1 0 0-9 1 8 1 0 1-5 0 0 1-7 1 20 1-12 1 20 0-15 1 10 1 0 1-9 0 8 1-7 1 20 1-32 0 32 1-16 1-18 1 24 0-24 1 5 1 10 1 3 1 0 0-5 1-5 1-2 1 27 0-23 1 2 1 15 1-17 0 0 1 1 1 8 1-7 0-3 1 16 1-1 1 1 1-13 0 9 1 7 1 3 1 2 0-11 1-5 1-2 1 19 0 0 1 1 1 0 1 5 1-23 0 9 1 8 1 18 1-31 0 5 1 6 1-5 1 12 0-10 1 9 1-8 1 6 0 9 1-1 1-17 1 0 1 10 0 4 1-2 1-6 1 14 0-19 1 15 1 3 1-9 0-16 1 22 1-3 1 7 1-11 0 0 1 2 1 4 1-6 0-4 1 11 1-2 1 4 0-1 1-14 1 18 1-10 0-6 1 34 1-31 1-1 1 17 0-19 1 13 1-6 1 13 0 1 1-11 1-15 1-8 0-1 1 11 1 2 1 3 1 1 0 9 1 0 1-6 1-1 0 10 1 5 1-3 1-33 0 34 1-17 1 2 1 2 0 14 1-21 1 15 1 8 1 1 0-4 1-18 1 29 1-5 0-5 1-3 1 13 1 0 0-3 1-10 1 7 1 1 1-3 0 1 1-7 1 14 1-6 0 6 1-11 1-1 1 9 0-12 1 12 1-13 1 15 0 0 1 9 1-4 1-5 1 14 0-16 1-7 1 2 1 3 0-3 1 10 1-1 1-11 0 8 1-9 1 12 1-9 0-39 1 45 1-14 1 1 1 32 0-41 1 35 1-34 1 27 0 10 1-6 1-15 1 12 0-3 1-15 1 18 1-12 1-7 0 26 1-6 1-11 1 2 0-3 1 19 1-9 1-11 0-1 1-6 1 14 1 3 0 5 1-4 1 9 1-30 1 17 0 3 1-1 1-10 1 4 0 7 1-14 1 6 1 4 0-2 1-9 1 4 1 6 1-9 0 26 1-23 1 13 1-2 0-3 1-17 1 16 1 0 0-6 1 22 1-15 1 24 0-18 1-13 1 11 1 6 1-19 0 6 1-5 1-6 1 20 0-17 1 5 1 0 1 6 0 6 1-21 1 5 1 5 1 6 0-15 1 17 1 0 1-24 0 12 1-2 1 1 1 9 0-6 1-1 1 12 1-8 0 13 1-9 1-3 1-6 1-5 0 17 1 3 1-11 1 9 0-21 1 4 1 18 1-10 0-8 1 18 1-3 1-4 1-12 0 8 1 5 1-4 1 2 0-1 1-2 1 2 1-4 0 6 1 2 1 0 1 11 0-9 1-19 1 15 1-4 1-3 0 11 1-1 1-7 1 12 0-15 1 2 1 3 1 0 0-3 1 5 1 21 1-25 0 7 1 2 1 0 1 0 1 10 0 2 1-14 1-1 1-3 0 14 1-8 1-8 1 10 0 2 1-21 1 30 1-7 1 2 0-4 1-30 1 34 1-6 0 2 1 2 1-13 1 10 0-12 1-3 1 15 1-16 0 21 1-12 1-6 1 16 1-8 0-4 1-1 1 1 1-13 0 17 1-11 1-8 1 23 0-2 1 5 1-14 1-6 1 26 0-7 1-3 1-23 1 21 0-6 1 12 1-17 1 16 0-8 1 8 1-8 1 0 0-3 1 0 1-13 1 20 1-17 0 8 1 4 1-4 1 0 0-5 1 0 1 2 1 2 0 15 1-19 1-2 1 6 1 0 0 10 1-9 1-5 1 18 0-7 1 1 1-14 1 14 0 12 1-16 1-9 1 12 0 3 1-5 1-11 1 16 1 1 0-6 1 11 1 7 1-14 0 4 1-6 1 2 1-3 0 13 1-11 1 10 1-10 1 6 0-17 1 21 1 11 1-19 0 4 1 4 1-9 1-12 0 14 1 4 1-17 1 2 0 12 1 1 1-10 1 11 1-1 0 2 1-11 1-8 1 11 0-13 1 30 1-16 1 14 0-21 1-4 1 25 1-8 0-7 1 13 1-5 1 2 1-9 0 7 1 3 1-3 1-5 0-2 1 2 1-11 1 13 0-4 1-4 1 7 1-13 1 4 0 0 1 13 1-6 1-6 0-4 1 14 1-1 1 6 0 2 1-20 1 8 1-4 0-4 1 9 1-1 1 10 1-3 0-8 1-8 1 4 1 14 0 1 1-11 1 2 1-1 0 3 1-8 1 8 1-9 1 7 0 4 1 9 1-11 1-5 0 6 1 9 1 6 1-13 0-16 1 22 1-5 1-5 0-7 1 15 1-8 1-3 1 11 0-13 1 11 1-11 1-3 0 4 1 10 1-15 1-1 0 4 1-6 1 10 1 2 1-5 0-6 1-3 1 12 1-8 0 0 1 5 1 13 1-3 0-21 1 19 1 3 1-3 0-9 1-12 1 7 1 7 1 0 0-6 1 4 1 15 1-22 0 2 1 16 1-6 1-5 0 2 1 5 1-3 1-13 1 17 0-10 1 6 1 12 1-14 0 2 1-6 1-3 1 5 0 5 1-2 1-2 1 13 0 1 1-14 1 15 1-7 1-16 0 6 1-2 1 10 1-10 0 16 1 0 1-5 1 4 0-16 1 11 1 8 1-16 0 1 1-4 1 18 1-2 1 10 0-21 1 4 1 3 1-15 0 17 1-2 1 3 1 1 0-8 1 1 1 1 1 6 1 2 0-13 1 3 1 6 1-3 0-1 1 5 1 5 1-11 0-14 1-44 1 58 1 5 0-1 1-13 1 18 1-24 1 14 0-2 1 5 1-10 1 0 0 13 1-20 1 13 1 14 0-16 1 2 1 1 1-6 1-1 0 18 1-6 1-3 1-1 0 14 1-16 1 2 1-15 0 22 1-3 1-7 1 3 0-7 1-3 1 17 1-8 1-5 0 12 1-24 1 15 1 1 0 14 1-7 1 11 1-22 0 12 1-6 1-2 1 1 1 5 0-9 1 16 1 6 1-3 0-17 1-5 1 17 1-1 0-7 1 15 1-7 1 8 0-12 1 24 1-11 1 2 1-13 0-5 1 4 1-17 1 17 0 7 1-4 1-9 1 2 0-14 1 15 1 9 1 1 1-15 0 29 1-26 1-4 1 10 0-5 1-9 1-1 1 0 0 4 1 9 1 8 1 8 0-32 1 6 1 18 1-19 1 20 0-7 1 5 1-26 1 28 0-2 1-15 1-1 1 2 0 13 1-7 1 6 1-3 0-19 1 13 1-4 1 13 1-2 0-8 1-6 1 11 1-14 0-7 1 34 1-14 1-6 0 7 1-15 1 12 1-2 1 16 0-21 1 10 1 28 1-29 0 3 1-4 1 9 1-9 0-11 1 1 1 15 1-14 0 9 1 3 1-10 1-1 1 11 0-13 1 8 1-17 1 27 0-7 1 1 1 5 1 4 0-20 1 8 1 14 1-6 1-1 0-5 1 11 1-20 1 12 0-11 1 8 1 7 1-1 0-4 1 2 1-1 1-4 0-4 1 19 1 5 1-6 1-17 0 11 1 4 1-8 1-3 0 15 1-2 1-7 1 0 0 5 1-24 1 8 1 11 1-6 0 15 1-17 1 9 1 4 0 10 1-22 1 6 1 6 0-13 1 10 1-4 1 6 0-8 1 13 1-6 1 22 1-20 0-2 1-11 1 10 1-13 0 5 1 3 1 12 1-24 0 0 1 9 1 1 1 0 1 4 0-2 1-5 1 15 1-12 0-3 1 17 1-8 1 7 0-1 1-16 1 14 1-31 0 23 1 5 1-4 1-3 1-2 0 0 1 0 1-7 1-1 0 9 1-2 1 9 1-1 0-2 1-14 1 34 1-24 0 0 1-5 1 11 1-1 1-12 0 6 1 7 1-14 1 9 0 5 1-11 1-7 1 18 0 5 1 11 1-34 1 19 1-2 0 6 1-7 1 7 1-21 0 7 1 10 1 5 1-14 0 11 1-17 1 8 1 3 0 9 1-12 1 13 1-20 1 25 0-13 1-22 1 24 1-10 0-3 1 5 1 4 1-9 0 0 1 13 1-18 1 3 1 18 0-12 1-1 1 3 1-36 0 47 1-13 1 17 1-9 0 12 1-10 1-7 1 12 0-17 1-2 1 5 1-2 1-6 0 5 1 20 1-12 1 6 0-7 1 13 1-14 1 3 0-7 1 12 1-6 1 15 1-16 0-1 1 10 1-11 1 11 0-15 1 10 1-3 1-17 0 8 1-7 1 4 1 9 0-14 1 11 1 2 1 3 1 7 0-14 1 6 1-5 1 5 0-6 1 10 1-6 1-6 0-2 1 10 1 8 1-20 1 2 0 15 1-16 1 6 1 12 0-9 1 11 1-7 1 0 0-16 1 4 1 20 1 13 0-30 1 8 1-10 1 0 1-6 0 29 1-29 1 13 1 3 0-16 1 2 1 21 1-6 0-16 1 23 1-6 1-10 0 5 1 3 1-11 1 9 1 6 0-13 1 38 1-30 1-7 0 15 1-23 1 9 1 3 0 8 1-10 1 5 1-6 1 8 0-7 1 14 1 1 1-6 0 10 1-14 1-3 1 15 0-12 1 3 1 1 1-16 0 13 1-3 1 5 1-1 1-3 0-1 1 2 1-11 1 11 0-2 1-14 1 12 1-5 0 1 1 9 1-14 1 9 1 1 0 0 1-2 1-4 1 26 0-30 1 28 1-7 1-15 0 7 1-7 1 15 1-10 0-4 1 11 1 0 1-7 1-3 0 24 1-17 1-5 1-9 0 21 1-10 1 10 1-1 0-2 1-19 1 10 1-4 1 9 0-9 1 9 1-6 1 19 0-5 1-12 1-12 1 2 0 24 1-6 1 0 1-23 0 27 1-16 1 0 1 2 1 18 0-27 1 33 1-19 1 5 0 8 1-9 1 0 1 5 0-5 1-3 1-4 1 18 1-14 0-5 1-8 1-2 1 24 0-10 1-8 1-4 1-8 0 16 1 8 1-11 1-1 0 7 1 2 1-12 1 16 1-6 0-7 1 2 1 1 1 8 0 22 1-22 1-12 1-2 0-5 1 9 1-7 1 12 0-4 1-13 1 23 1-1 1-15 0 3 1 21 1-24 1 17 0 0 1-14 1 4 1 0 0-8 1 4 1 29 1-24 1-3 0 6 1 2 1-4 1 0 0 2 1 1 1 7 1-9 0 6 1-12 1 10 1-1 0 8 1-9 1-7 1 14 1-18 0 8 1 3 1-8 1 3 0 17 1-23 1 3 1 5 0 26 1 5 1-16 1-22 1-1 0 6 1 1 1 18 1-18 0 7 1-6 1 7 1-15 0 9 1-5 1 3 1 6 0 6 1-1 1-3 1-8 1-15 0 13 1 4 1-8 1 17 0-11 1 1 1 21 1-21 0 8 1-4 1 2 1-4 1 8 0-13 1-1 1 16 1-10 0 4 1-13 1 17 1-8 0 3 1 10 1-21 1 6 0 12 1-17 1-2 1 21 1-11 0 0 1-1 1-1 1 3 0 11 1-15 1 11 1-6 0-9 1-12 1 4 1 17 1-4 0-12 1 6 1-2 1 14 0-12 1 0 1-6 1-3 0 20 1-17 1 14 1-3 0-11 1 10 1-3 1-9 1-5 0 13 1 14 1-10 1 7 0-2 1-6 1 6 1-3 0 1 1 1 1 14 1-13 0-1 1-14 1 5 1 5 1 7 0-9 1 16 1-17 1 11 0 0 1-15 1 9 1 2 0 8 1-20 1 32 1-25 1 1 0-1 1 9 1 3 1-23 0 11 1-4 1 21 1-21 0-4 1 5 1 21 1-4 0 16 1-28 1-6 1 6 1 7 0 4 1-15 1 16 1-24 0 6 1-2 1 11 1 3 0-6 1 11 1-4 1-1 1 7 0-11 1 13 1 7 1-13 0-1 1 2 1-2 1-2 0-1 1 2 1 1 1 12 0-17 1-4 1 11 1-8 1-3 0 12 1-7 1-3 1-5 0-17 1 27 1 25 1-28 0 0 1-5 1 2 1-5 1 7 0-8 1 12 1-11 1 15 0-2 1-6 1-6 1 13 0-8 1-6 1-1 1 16 0-25 1 18 1-6 1-10 1 19 0 10 1-26 1 23 1-14 0 9 1-23 1 13 1-12 0 10 1 10 1-12 1 16 1-4 0-12 1 1 1 15 1-6 0 0 1 9 1-20 1 20 0-9 1-1 1-1 1 27 0-28 1 7 1-17 1-2 1 5 0 4 1 11 1-9 1-3 0 16 1 4 1-12 1-8 0 2 1 2 1 6 1-1 0-11 1 3 1-10 1 9 1 4 0 5 1-3 1-13 1 17 0-1 1-5 1-2 1-6 0 12 1-19 1 17 1-1 1 0 0-9 1 4 1 6 1 10 0 2 1-13 1 0 1 3 0-3 1 8 1-8 1-9 0 7 1 3 1-2 1-7 1 13 0-1 1 2 1 8 1-25 0 5 1 12 1-22 1 21 0-9 1 10 1-18 1 7 1-1 0 0 1-13 1 38 1-16 0-4 1-4 1 5 1 0 0-7 1-1 1 12 1-15 0 10 1-1 1-16 1 5 1 29 0-22 1-2 1 5 1 8 0-17 1 16 1-4 1 6 0-4 1 11 1-22 1 15 1-5 0 4 1-16 1-5 1 14 0 2 1 0 1 10 1 0 0-3 1-5 1 6 1-3 0-3 1-5 1 5 1 6 1-5 0 11 1-20 1 3 1 3 0 18 1-11 1-4 1 4 0-9 1 18 1-17 1-4 1 14 0 1 1 5 1-14 1 6 0-1 1 6 1 1 1-7 0 2 1 2 1-6 1 6 0 2 1-1 1 0 1 5 1-24 0 1 1 27 1-7 1 2 0-21 1 17 1-8 1 10 0-5 1-9 1-15 1 21 1-11 0-2 1 3 1 0 1 16 0-14 1 7 1 17 1-21 0 5 1 7 1-13 1 12 0-3 1 1 1-16 1 16 1-20 0 10 1-7 1 9 1 1 0-1 1-6 1 3 1-4 0 16 1-18 1-4 1 6 0 0 1 1 1 8 1 4 1-7 0-3 1 3 1-6 1 9 0-5 1 8 1 1 1-21 0 9 1 4 1 7 1-12 1-12 0 22 1-3 1-7 1 12 0 9 1-22 1 7 1-10 0 1 1 7 1 13 1-22 0 6 1 3 1 0 1 1 1-4 0 14 1-11 1 10 1-1 0-7 1 4 1-5 1 1 0 5 1-10 1 1 1 6 1 4 0-18 1 23 1-16 1 10 0-12 1 7 1-16 1 11 0 6 1 3 1-11 1 6 0 13 1-3 1 4 1-28 1 2 0 12 1-10 1 11 1 0 0-1 1-6 1 10 1-8 0 3 1 15 1-4 1 12 1-21 0 2 1-4 1 2 1-2 0-8 1 12 1-7 1-6 0 7 1 19 1-28 1 19 0-4 1-10 1-10 1 10 1 4 0 4 1 2 1 3 1-15 0 8 1-1 1 11 1-12 0 15 1-18 1-11 1 23 1 2 0-21 1 16 1-15 1 21 0-14 1-5 1 5 1 11 0 15 1-21 1 5 1-6 0-13 1 27 1-10 1-8 1-10 0 16 1-9 1 18 1-8 0 1 1-4 1 6 1 1 0-9 1 8 1 2 1-3 0 3 1-8 1 3 1 12 1-7 0 15 1-7 1-7 1-11 0 8 1-6 1 14 1-16 0 6 1 9 1 1 1-4 1 10 0 1 1-6 1-8 1 2 0-14 1 5 1 11 1-12 0 13 1-2 1-7 1-16 0 21 1-17 1 17 1-11 1-1 0 4 1 0 1 7 1 11 0-14 1 0 1-15 1 13 0-2 1-2 1 9 1-8 1-7 0 9 1 8 1-10 1-8 0 9 1 3 1-11 1 19 0-13 1 1 1 7 1-6 0-9 1 1 1 6 1-7 1 5 0 15 1-17 1 8 1 0 0 0 1-10 1 16 1-8 0 6 1 4 1 9 1-18 1 10 0-1 1-2 1 5 1 8 0-25 1 7 1 0 1 4 0 2 1-2 1-2 1-1 0-9 1 21 1 3 1-7 1-9 0 3 1 17 1-21 1-7 0 14 1-8 1 3 1 7 0-15 1 9 1 11 1-19 1-26 0 17 1 34 1-12 1 9 0-20 1-7 1 21 1-14 0 13 1 4 1-16 1-9 0 9 1-1 1-27 1 25 1-5 0 0 1 3 1 0 1-2 0 7 1 1 1 4 1-12 0 11 1-13 1-1 1 11 0 0 1-11 1 10 1-14 1 26 0 3 1-13 1 0 1 5 0 9 1-11 1 3 1-8 0 3 1 8 1-3 1-10 1 8 0 5 1-4 1-17 1-4 0 13 1-2 1 2 1 1 0 19 1-35 1 19 1-5 0-1 1 11 1 5 1-17 1 3 0-3 1-8 1 22 1-3 0-8 1-6 1-2 1 17 0-4 1 2 1 3 1-10 1 13 0-2 1-1 1-22 1 20 0-12 1-1 1 12 1-8 0 1 1 10 1-5 1-19 0 14 1-1 1 19 1 2 1-20 0 7 1 8 1-5 1 0 0 10 1-22 1 24 1-33 0 31 1-9 1-12 1 4 1-7 0 14 1 11 1-25 1 14 0-9 1-8 1-3 1 30 0-20 1 15 1-6 1 2 0-21 1 11 1 9 1-15 1 15 0-19 1 16 1-9 1-7 0 19 1-15 1 2 1 1 0 12 1 1 1-4 1-10 1 20 0-14 1 5 1 4 1-20 0 19 1-5 1-8 1 13 0-17 1 17 1 1 1-4 0-1 1-17 1 6 1 10 1-9 0 14 1-11 1 5 1 5 0-16 1 8 1 1 1 15 0-10 1-4 1 20 1-24 0 8 1-1 1 9 1 8 1-13 0 0 1-1 1-18 1 18 0-18 1 20 1-12 1 12 0-2 1-17 1 8 1 16 1-18 0-3 1 5 1 9 1-4 0-7 1 3 1 0 1 10 0-24 1 7 1 14 1 4 0-19 1 8 1 16 1-19 1 0 0 8 1 0 1-13 1 15 0 2 1 7 1-18 1-10 0 10 1 13 1-14 1-5 1 13 0-8 1 4 1-19 1 25 0 8 1-12 1-12 1 10 0-8 1 7 1-7 1 11 0 6 1 1 1-3 1-6 1-5 0 13 1-16 1 15 1-13 0 14 1-4 1-7 1 8 0-27 1 21 1-3 1 15 1-6 0-13 1 2 1 5 1 1 0 8 1-7 1 7 1 5 0-8 1-15 1 15 1-5 0 11 1-5 1-11 1 7 1 5 0-12 1 9 1-6 1-10 0-2 1 28 1-12 1 11 0-8 1-4 1 8 1-16 1 11 0 13 1-14 1 4 1 0 0 2 1-7 1 15 1-10 0-7 1 8 1 8 1-17 0 4 1 9 1 2 1-8 1-8 0-9 1 18 1-15 1 13 0-2 1 2 1-11 1 19 0-8 1 0 1-4 1 7 0 17 1-11 1-8 1-11 1 19 0-19 1 14 1-8 1 2 0 11 1-10 1 5 1-14 0-1 1 8 1 1 1 0 1-9 0 8 1 12 1-12 1-23 0 34 1-14 1 5 1-10 0 0 1 13 1-9 1 16 0-12 1 15 1-21 1 13 1-8 0 9 1-11 1 5 1 7 0-10 1 3 1 6 1-2 0-7 1 9 1-11 1 0 1 6 0-6 1 11 1-9 1 5 0-11 1 1 1-12 1 22 0-10 1 8 1-7 1-12 0 8 1 8 1 1 1 9 1 4 0-13 1 6 1-11 1 9 0-11 1 13 1 0 1-19 0 19 1-5 1-2 1-2 1 21 0-22 1 12 1 5 1-20 0 16 1-15 1-4 1 11 0-1 1 13 1-8 1-21 0 10 1-1 1 0 1 1 1 0 0-1 1 18 1 0 1-8 0-8 1 16 1-17 1 14 0-23 1 8 1-12 1 9 1 22 0-11 1-5 1 0 1 8 0 9 1-4 1-5 1-1 0 4 1 0 1-3 1-6 0 12 1-6 1-6 1 12 1-2 0 9 1-9 1 0 1-7 0 6 1 10 1-11 1 11 0-2 1-1 1-21 1 5 0 24 1-15 1-5 1 1 1 7 0-1 1 2 1-1 1 2 0 7 1-16 1 10 1-22 0 15 1 0 1-8 1 5 1 1 0 11 1 0 1 1 1-20 0 13 1-5 1-2 1 9 0-7 1 3 1 4 1-5 0 5 1-7 1 0 1-2 1-13 0 14 1-12 1 1 1 13 0 3 1-2 1-11 1 4 0-2 1-2 1 1 1-6 1 25 0-13 1 9 1-20 1 9 0-1 1 11 1-10 1-5 0 8 1-5 1 1 1 11 0-11 1 3 1 5 1-17 1 5 0 6 1 3 1-11 1 15 0-11 1-6 1 22 1-10 0 12 1-36 1 25 1-5" fill="none" stroke="#ff0000" stroke-width="5.6" stroke-linejoin="round"/></g>
<g clip-path="url(#cc)"><path transform="scale(.5)" d="M546 5530l0 4 1-9 1-5 1-6 0 8 1 5 1 2 1-13 0-8 1 11 1 12 1-2 1-22 0 11 1 16 1-14 1 9 0-5 1-2 1 2 1-11 0 5 1 4 1-8 1-3 1 20 0-11 1 6 1-7 1 9 0-10 1 1 1 2 1 6 0-5 1 7 1 2 1-12 0 11 1-19 1 4 1 23 1-19 0 12 1-9 1 0 1 16 0-14 1 0 1-10 1 17 0-15 1 14 1-6 1 4 1-19 0 7 1-16 1 15 1-2 0 0 1 12 1-5 1-12 0 14 1-5 1 2 1-5 0 8 1-1 1-3 1 1 1 8 0-14 1 18 1 0 1 0 0-18 1 11 1 5 1 2 0-13 1 12 1 2 1-15 1 14 0-7 1-3 1 3 1-3 0 7 1-4 1 5 1 4 0-13 1 0 1-5 1 5 0 0 1 1 1-1 1-6 1 4 0-4 1-15 1 12 1 17 0-27 1 11 1 11 1-15 0 8 1 5 1 1 1 3 1-8 0-8 1 12 1-6 1-11 0 26 1-12 1 5 1 7 0 0 1-9 1-3 1 8 0-4 1-6 1 4 1-5 1 4 0-1 1-10 1 9 1 4 0-4 1 13 1-5 1-10 0 1 1-7 1 12 1 12 0-28 1 7 1 17 1-20 1 10 0 15 1-11 1 0 1-17 0 19 1-4 1 0 1 1 0 4 1-10 1-7 1-6 1 23 0 1 1 34 1-37 1-1 0 8 1-29 1 8 1 15 0-16 1-3 1 30 1-15 0-2 1-9 1 6 1 1 1-2 0-16 1-3 1 21 1 3 0-30 1 29 1-4 1-5 0-4 1-5 1 4 1 10 1-11 0 1 1-13 1 15 1 10 0 1 1-24 1 16 1 12 0-12 1-5 1-10 1 17 0-13 1-2 1 12 1-4 1-16 0 0 1 6 1 4 1-7 0 10 1-1 1 6 1-7 0 0 1-23 1 23 1-12 1-1 0 12 1-11 1 27 1-19 0-7 1 26 1-10 1-18 0 11 1 6 1-6 1 1 0-10 1 2 1 6 1 3 1-5 0-11 1 8 1-3 1 7 0 9 1-4 1-12 1 5 0 8 1 6 1-14 1 4 1 0 0 0 1-5 1 1 1-6 0 0 1-3 1 4 1 9 0-2 1-4 1 6 1-7 0-5 1 16 1 7 1-24 1 9 0-6 1 17 1-26 1 8 0 7 1 2 1-4 1 2 0 0 1 7 1-20 1 11 0-1 1-1 1 20 1-24 1 7 0-1 1-3 1 8 1-15 0 13 1 1 1 0 1-9 0-5 1 10 1 8 1-22 1 17 0-18 1 9 1 5 1-1 0-9 1-4 1 8 1-9 0-10 1 18 1 7 1-1 0 2 1-6 1 0 1 4 1-16 0 25 1-12 1-29 1 6 0 2 1-1 1-13 1 7 0 1 1 9 1-12 1 3 1-2 0-2 1-7 1 1 1-10 0 18 1-9 1-16 1 26 0-17 1 2 1 1 1 7 0 20 1-7 1 4 1 12 1-6 0 8 1 6 1-13 1 3 0 7 1 4 1-1 1 0 0 2 1-1 1 5 1-6 1 1 0 3 1 9 1 1 1-7 0 6 1 0 1 21 1 2 0-24 1 0 1-8 1 6 0 5 1 2 1 12 1-18 1 12 0-8 1 3 1-1 1-4 0 12 1-1 1 5 1-4 0-16 1 17 1-12 1 3 1 2 0-1 1 15 1-10 1-10 0 19 1-5 1 6 1-8 0 11 1-21 1 16 1 10 0-27 1 7 1 4 1 0 1 8 0-1 1-8 1-1 1 0 0 6 1 6 1-2 1-10 0-2 1 15 1 1 1-13 0 4 1 1 1 16 1-7 1 2 0-6 1 16 1-24 1 8 0-1 1 14 1-10 1-10 0 24 1-16 1-3 1 11 1-12 0 9 1-13 1 6 1 2 0-15 1 10 1-4 1 20 0-5 1-12 1-1 1 8 0-8 1 15 1-10 1 11 1-13 0 7 1 2 1-6 1-14 0 23 1-3 1-14 1 12 0-17 1 12 1 2 1-2 1-11 0 9 1 2 1 2 1 15 0-5 1-19 1 6 1 3 0-1 1 10 1-6 1 10 0-10 1 9 1-3 1-5 1 6 0-7 1 2 1 1 1-8 0 24 1 1 1-53 1 33 0-9 1 11 1 0 1 33 1-32 0 1 1 14 1-1 1-6 0-3 1 27 1-25 1-1 0 4 1-4 1-1 1 12 0-11 1 5 1 6 1-9 1-10 0 24 1 2 1 0 1-30 0 19 1-2 1 6 1 1 0 9 1-18 1 0 1 18 1-8 0-2 1-6 1-2 1-7 0-2 1 2 1-2 1 20 0-5 1-14 1 7 1 3 0 16 1-1 1-21 1 4 1 6 0 1 1 11 1-17 1-5 0-4 1 14 1 2 1 8 0-18 1-4 1 20 1-7 1 2 0 6 1 17 1-17 1-7 0 17 1-4 1 20 1-37 0 7 1 4 1 3 1-3 0 3 1 2 1 0 1-1 1-1 0-11 1 25 1-14 1 8 0 5 1 10 1-23 1 13 0-1 1-9 1 13 1-9 0 2 1-7 1-1 1 16 1-14 0 25 1-18 1 3 1-7 0 16 1-11 1-7 1 12 0-18 1 23 1-8 1 6 1 1 0 5 1-5 1-4 1 6 0-14 1-5 1 25 1-20 0 6 1-1 1-18 1 10 0 7 1 1 1 19 1-24 1 12 0-7 1 1 1-7 1-9 0 9 1-2 1 12 1-5 0-3 1 18 1-28 1 23 1 5 0-23 1-4 1 23 1-1 0-30 1 24 1 17 1 46 0-78 1 10 1-1 1-4 0 5 1 8 1 10 1-17 1 12 0-8 1-16 1 10 1 3 0 0 1-7 1-2 1 18 0-14 1-13 1 7 1 12 1-2 0 10 1-12 1-21 1-26 0 43 1-4 1-6 1-2 0 0 1 1 1-14 1-11 0 11 1-9 1-25 1 8 1-22 0-19 1-24 1-17 1-17 0-33 1-14 1-40 1-63 0-102 1-69 1-112 1-97 1-91 0-73 1-63 1-52 1-18 0 6 1-14 1 31 1-5 0 31 1 32 1 19 1 22 0 50 1 26 1 30 1 17 1 28 0 38 1 45 1 39 1 28 0 41 1 46 1 45 1 12 0 24 1 16 1 3 1 20 0 27 1 11 1-9 1 20 1 3 0 17 1 16 1-2 1-3 0 19 1 21 1 2 1 10 0 3 1 2 1 0 1 22 1 12 0 1 1 6 1 7 1 0 0 4 1 13 1-11 1 11 0 8 1-9 1 11 1-16 0 13 1 6 1 10 1-1 1-8 0 15 1-10 1 26 1-17 0-3 1 6 1 5 1-7 0 17 1 3 1-7 1-8 1 8 0 7 1-3 1 0 1 15 0 15 1-14 1 5 1-6 0 5 1-2 1-9 1 3 0 3 1-13 1 18 1 0 1-13 0 21 1 5 1-23 1 9 0-1 1 0 1-1 1 12 0-2 1 9 1-9 1 0 1 7 0 19 1-45 1 34 1-15 0 0 1-1 1 16 1-16 0 5 1 7 1 3 1-5 0-5 1 1 1-11 1 22 1-8 0 9 1-9 1 6 1 6 0 6 1-4 1-8 1-9 0 6 1 16 1-5 1-4 1 2 0-1 1-5 1 6 1 8 0 11 1-13 1 12 1-12 0 19 1-8 1-9 1 1 0-18 1 11 1 18 1-21 1-1 0 3 1 0 1-10 1-3 0 0 1 10 1-8 1 9 0-2 1-8 1 3 1-5 0-24 1 17 1 11 1 11 1-11 0 5 1 7 1-24 1 11 0-8 1-21 1 24 1 1 0-1 1 5 1 5 1-5 1-11 0 12 1 10 1-1 1-1 0-8 1-3 1 0 1-5 0 11 1-8 1 5 1-3 0 21 1-25 1 24 1-3 1-15 0 10 1-17 1-8 1 32 0-9 1 5 1-16 1 0 0 8 1 10 1-3 1-8 1 16 0 0 1-13 1 2 1 8 0 1 1 14 1-26 1 3 0 19 1-3 1-2 1-21 0 8 1 16 1-26 1 4 1 19 0 13 1-30 1 13 1-4 0 3 1-14 1-2 1 6 0 8 1-3 1-3 1 19 1-23 0 13 1 12 1-14 1-5 0-1 1-9 1 22 1 6 0-8 1 7 1-11 1 14 0-7 1-5 1-1 1 8 1-10 0 2 1 25 1-17 1 2 0 4 1 3 1-5 1-3 0 1 1-8 1 3 1 13 1 1 0-13 1 13 1-7 1-3 0-5 1 5 1-8 1 15 0-9 1 11 1-7 1 1 0 8 1 14 1-29 1 4 1 2 0 7 1-3 1-6 1 3 0-9 1 9 1 7 1-11 0 10 1-7 1 17 1-12 0-7 1 10 1-6 1-5 1 5 0-14 1 17 1 0 1-1 0 15 1-3 1-17 1 8 0-14 1 12 1 1 1-9 1 7 0-11 1 22 1-11 1-2 0 1 1-4 1 1 1 9 0 5 1-12 1 7 1-7 0-3 1 10 1 9 1-6 1-8 0 8 1-11 1 9 1-1 0 6 1-4 1-10 1 12 0 0 1 3 1-12 1 18 1-7 0-13 1-4 1 14 1-10 0 24 1-23 1 4 1 12 0 5 1-11 1-6 1-1 0 2 1-6 1 0 1 17 1-8 0 1 1-13 1 13 1-12 0 7 1-18 1 20 1-1 0 1 1-1 1-6 1 12 1 3 0-5 1-7 1 14 1-11 0-3 1 8 1 1 1 4 0-4 1 4 1-16 1-4 0 16 1-2 1 14 1-11 1-7 0 0 1 1 1-6 1 5 0 4 1-17 1 29 1-6 0-4 1 0 1 0 1-4 1 4 0-5 1-6 1 5 1-1 0 10 1 1 1-6 1-10 0 5 1-6 1 1 1-1 0 16 1-17 1 4 1-11 1 13 0 1 1 4 1-3 1 15 0-11 1-2 1-9 1 14 0-7 1-14 1 19 1-11 0 11 1-3 1-5 1-3 1 11 0 4 1-21 1 11 1-5 0-1 1 2 1 8 1-1 0 12 1-14 1 5 1-4 1-15 0 10 1 5 1 12 1-17 0-7 1 19 1-10 1 8 0-3 1 2 1 10 1-8 0 8 1-24 1 3 1 8 1-2 0 2 1-1 1 0 1 3 0-1 1 10 1-3 1-4 0-6 1 4 1-18 1 16 1 2 0-7 1 24 1-35 1 7 0 12 1-3 1-10 1 6 0-4 1 7 1-13 1 1 0 3 1 8 1 14 1 5 1-20 0-3 1 29 1-20 1-13 0 2 1 11 1-9 1 5 0 2 1-11 1 0 1 13 1 3 0 3 1 0 1-22 1-4 0 13 1-7 1 14 1-5 0-8 1 5 1 3 1 13 0-2 1-8 1 2 1-4 1 5 0-3 1 3 1-9 1 4 0 5 1-2 1-9 1 9 0 7 1 0 1-9 1-2 1-5 0 12 1-13 1 14 1-1 0-14 1 8 1-4 1 8 0 4 1 8 1-13 1 4 0-1 1 3 1 2 1-4 1-7 0-5 1 8 1-3 1 4 0-1 1 10 1-18 1 2 0-7 1 16 1-6 1 8 0-9 1 2 1-6 1 6 1-6 0 8 1-8 1 7 1 1 0-5 1-2 1 14 1 1 0-13 1 2 1 16 1-3 1-7 0-8 1 1 1-6 1-2 0-9 1 30 1-10 1-9 0 19 1 1 1-13 1-6 0-2 1 24 1-4 1-9 1 3 0-6 1 1 1-13 1 14 0-2 1 1 1-8 1 17 0-12 1 9 1 5 1-20 1 5 0-7 1 9 1-3 1 4 0-4 1 8 1-17 1 21 0-21 1 16 1-9 1 6 0-2 1-8 1 11 1 9 1-10 0-3 1 26 1-28 1 0 0 22 1-12 1-8 1 16 0-6 1-20 1 13 1-4 1 9 0 0 1-7 1 3 1 5 0-11 1 22 1-13 1 5 0 0 1-6 1 2 1-20 0 14 1 3 1-11 1 5 1-11 0 17 1-5 1 11 1-8 0 6 1-7 1 16 1 2 0-11 1-7 1-9 1 12 1 3 0-15 1 5 1-16 1 12 0 12 1-12 1-2 1-1 0-8 1-5 1-6 1-2 0-11 1-5 1-3 1-5 1 10 0-8 1-13 1-15 1 7 0-14 1-12 1-19 1 10 0 3 1-15 1 5 1 4 0-13 1 16 1-10 1 0 1-7 0 16 1 0 1-8 1-1 0-3 1 3 1-7 1-3 0-19 1 33 1-19 1 21 1-10 0-10 1 12 1-15 1-5 0 2 1 9 1-5 1 12 0-7 1-1 1 3 1-1 0 3 1 14 1-19 1 1 1-14 0 10 1 5 1-6 1 2 0 5 1 3 1 9 1-13 0-12 1 28 1-7 1-14 1 5 0-2 1 19 1-10 1-9 0 0 1 2 1 10 1-11 0 14 1-2 1 2 1-20 0 15 1-3 1 20 1-26 1 6 0 19 1 0 1-25 1 23 0-21 1 20 1 18 1-27 0 7 1 0 1 12 1 1 1-5 0 20 1 15 1-16 1 19 0-8 1 22 1 7 1 6 0 23 1-22 1 20 1 1 0-10 1 14 1-5 1 6 1-2 0 5 1-6 1 12 1-4 0 11 1-15 1 29 1-18 0-1 1 1 1 3 1-10 1-6 0 23 1 11 1-7 1-1 0-5 1-1 1-9 1 12 0-3 1-1 1 9 1-5 0-25 1 24 1 7 1 11 1-27 0 12 1 3 1-25 1 9 0 26 1-11 1-11 1 2 0 16 1-23 1-1 1 25 0 5 1-3 1-16 1-4 1 7 0 7 1-5 1-5 1 15 0 3 1-13 1-11 1 8 0 0 1 7 1-13 1 21 1-13 0 4 1-3 1-10 1-2 0 12 1 4 1-9 1 5 0 4 1 1 1-11 1 15 0-5 1 0 1-4 1 5 1-19 0 33 1-19 1 6 1-9 0 23 1-23 1 21 1-17 0 2 1 4 1 7 1 0 1-7 0 7 1 10 1-1 1-22 0 0 1 2 1 3 1-3 0-1 1 2 1 8 1-1 0 3 1-11 1 9 1-7 1-12 0 13 1-11 1-5 1 27 0-3 1-16 1 10 1-10 0-2 1 10 1-11 1-8 1 7 0 15 1-6 1 4 1-17 0 14 1 5 1-6 1-4 0 8 1-4 1 1 1-5 0-2 1 6 1 7 1-7 1 11 0-16 1 6 1 1 1 22 0-39 1 8 1 1 1 10 0-5 1-7 1 18 1-11 1 1 0 3 1-2 1 11 1-14 0 16 1-26 1 8 1 14 0 10 1-18 1-4 1 12 0-21 1 11 1 6 1 8 1-10 0 1 1-7 1-3 1 8 0-3 1-8 1 7 1 7 0-7 1 10 1-8 1 3 0 10 1-14 1 4 1-5 1 17 0-20 1-1 1 12 1-2 0-1 1 0 1-7 1 13 0 3 1-7 1-18 1 19 1 4 0 0 1-9 1-8 1 15 0-7 1 15 1-18 1 3 0-8 1 3 1 11 1-25 0 31 1 0 1-20 1 7 1 4 0-4 1-4 1 9 1 1 0 4 1-2 1 0 1-16 0 7 1-2 1 9 1-13 1 21 0-16 1-2 1 10 1 4 0-12 1 10 1 1 1-7 0 9 1-8 1-17 1 20 0-11 1 16 1-10 1 3 1-1 0-8 1-11 1 18 1-12 0 7 1-3 1 9 1 2 0-4 1 4 1-6 1 8 1-9 0-2 1-14 1 1 1 9 0 8 1-9 1-2 1 8 0 5 1 8 1-14 1-16 0 18 1-5 1 0 1-1 1-2 0 23 1-15 1-4 1 5 0-10 1 13 1-10 1-7 0 17 1-2 1 3 1-8 1 24 0-5 1-10 1-9 1 3 0 11 1-20 1 13 1 5 0-9 1-7 1 11 1 12 0-8 1-6 1-6 1 15 1-10 0 11 1-10 1 12 1-8 0 9 1-5 1 5 1 3 0-26 1 1 1 6 1 7 0-15 1 14 1-6 1-6 1 8 0-10 1 13 1 0 1-2 0 10 1-1 1-15 1 20 0-23 1 7 1-8 1 3 1 1 0-9 1 15 1 0 1-10 0 14 1-15 1 4 1 10 0 6 1 6 1-32 1 27 0-2 1-17 1 3 1 2 1 1 0 5 1 4 1-1 1-11 0-4 1-1 1 10 1 18 0-23 1 5 1 21 1-33 1 9 0 2 1-2 1 0 1-1 0 1 1 0 1-5 1 2 0-17 1 18 1 5 1 1 0-9 1 2 1-1 1 4 1-1 0-7 1-5 1 8 1 4 0 8 1 0 1-9 1 2 0-1 1 8 1-8 1 15 1-6 0-3 1-11 1 10 1 2 0-10 1 3 1-8 1 4 0 1 1 3 1-7 1 11 0 6 1-20 1 12 1-5 1-4 0-4 1 32 1-15 1-19 0 24 1-18 1 7 1 5 0-7 1 13 1-17 1-6 1 21 0-6 1-15 1 7 1 5 0-14 1 25 1-11 1-3 0 3 1-9 1 20 1-14 0 7 1-17 1 2 1 14 1 3 0-9 1 7 1-2 1-8 0 7 1-18 1 14 1 5 0 5 1-5 1-14 1 5 0-7 1 1 1 6 1 10 1-5 0-6 1 18 1-17 1 11 0-8 1 3 1-10 1-17 0 31 1-10 1-17 1 23 1-6 0-2 1-3 1 15 1-16 0-3 1-16 1 21 1 4 0-6 1 22 1-24 1-10 0 13 1 0 1 2 1-3 1 11 0-22 1 16 1 0 1-17 0 14 1 4 1-17 1 12 0-6 1 13 1 10 1-16 1-10 0 16 1-6 1-3 1 3 0 2 1-5 1 3 1 8 0-13 1 2 1 3 1-3 0 28 1-24 1 2 1 16 1-33 0 14 1 6 1-1 1-5 0 2 1 13 1-10 1-7 0-2 1-2 1 15 1-3 1-2 0 2 1-7 1 8 1-11 0 4 1-4 1 5 1 6 0 4 1-10 1 5 1 8 0-8 1-11 1-3 1 4 1-5 0 14 1-2 1 7 1-1 0-20 1 10 1-1 1-17 0 6 1 23 1-15 1 14 1-15 0 24 1-8 1 0 1-24 0 31 1-23 1 0 1 8 0-6 1-15 1 20 1 4 0-13 1 4 1 16 1-11 1-1 0 12 1-1 1-3 1 5 0-14 1 1 1 21 1-15 0-4 1 12 1-9 1 20 0-8 1-11 1 17 1-26 1 12 0 6 1 4 1-2 1-24 0 18 1-2 1-1 1 9 0-19 1 28 1-28 1 14 1-7 0-2 1-4 1 17 1-15 0 6 1 1 1 1 1-12 0 6 1-7 1 3 1 24 0-16 1-9 1 15 1 6 1 5 0-36 1 24 1-10 1 10 0-13 1-10 1 25 1-12 0 6 1 9 1-9 1-8 1-10 0-1 1 11 1 13 1-20 0 5 1 0 1 9 1-8 0-18 1 4 1 2 1 5 0 9 1-4 1-1 1-2 1 6 0 4 1-16 1 13 1-11 0 9 1-7 1 1 1-2 0 1 1 13 1 4 1-11 1-14 0 21 1 1 1-27 1 32 0-9 1-1 1 2 1 0 0-14 1 7 1 1 1 15 0-21 1 6 1 0 1-5 1 4 0 3 1-4 1 10 1 1 0 4 1-19 1 13 1-7 0-8 1-5 1 18 1-5 1 0 0 12 1-8 1-27 1 23 0-15 1 8 1-9 1 4 0 8 1 12 1-22 1 6 0 1 1-3 1 14 1-8 1 1 0 12 1-2 1-9 1 18 0-25 1 0 1 8 1-3 0 18 1-16 1-5 1 2 0-3 1 8 1-17 1 13 1-3 0-2 1 15 1 3 1-16 0 17 1-5 1-13 1 17 0 0 1 2 1-2 1-24 1 11 0-4 1 25 1 3 1-10 0-18 1-1 1 26 1-2 0-19 1 3 1-1 1-2 0 14 1-9 1 3 1-12 1 13 0 13 1-26 1-4 1 7 0 10 1 6 1-16 1 0 0 4 1 11 1-5 1 16 1-21 0 13 1 5 1-13 1-1 0 2 1-6 1 21 1-20 0-9 1 15 1 3 1-2 0-12 1 12 1 5 1 8 1-26 0 0 1 12 1-17 1 20 0-9 1 17 1-2 1-9 0-4 1-1 1 12 1-3 1-3 0 1 1 0 1-9 1-3 0 25 1-27 1 9 1-1 0 0 1-6 1 2 1 19 0-20 1 16 1-12 1 1 1 15 0-14 1 3 1 3 1-23 0 16 1 4 1-17 1 14 0 1 1 16 1-22 1-4 1-7 0 24 1-17 1-3 1 5 0 6 1 13 1-15 1-13 0 28 1-20 1 7 1 0 0-18 1 21 1 12 1 1 1-22 0 6 1 4 1 11 1-10 0 2 1-8 1 6 1 0 0-7 1 6 1-9 1 31 1-18 0-20 1 8 1 10 1-7 0 3 1-2 1-15 1 15 0-5 1 8 1-1 1 7 0-8 1-2 1-1 1-3 1-1 0-4 1 7 1-13 1 6 0-7 1 12 1-11 1 9 0 15 1-14 1 1 1 11 0-5 1-3 1-24 1 16 1-13 0 12 1-7 1 2 1 19 0-23 1 18 1-13 1 4 0-15 1 3 1-6 1 11 1 3 0-6 1-50 1 51 1 3 0 11 1-4 1-6 1-6 0 0 1 6 1-2 1-12 0-2 1 6 1-3 1 2 1-4 0 25 1-6 1-5 1-1 0-8 1 27 1-16 1-1 0 7 1-4 1-9 1 4 1 5 0-2 1 2 1-8 1 8 0-8 1 12 1-4 1 9 0-12 1-5 1 15 1-5 0-4 1 3 1-10 1 17 1-17 0-4 1-3 1 14 1 7 0 6 1-18 1-1 1 4 0 0 1-2 1 8 1 9 1 0 0-5 1 2 1 5 1-9 0 6 1-14 1 6 1-7 0 18 1-1 1 4 1-15 0-23 1 24 1 5 1-5 1 2 0-8 1 8 1 7 1 9 0-18 1-16 1 18 1 9 0-4 1-1 1-7 1 6 1-10 0 12 1 4 1-21 1 24 0-1 1-23 1 15 1-12 0 36 1-30 1 10 1 0 0-3 1 28 1-15 1-11 1-23 0 33 1-25 1 14 1-3 0 17 1-13 1 12 1 3 0-20 1 16 1-2 1-10 0 12 1 4 1-12 1-1 1-10 0 21 1-15 1 0 1 10 0-2 1-2 1 9 1 3 0-16 1 15 1-1 1-14 1 12 0-1 1 9 1-1 1 3 0 0 1-21 1 19 1 12 0-9 1-14 1 16 1-8 0 7 1 8 1-10 1 4 1-9 0-4 1 7 1-23 1 31 0-19 1 7 1-8 1 7 0 23 1-16 1-11 1 9 1 11 0-7 1-7 1-7 1 15 0-6 1 9 1 2 1-6 0-15 1 5 1 8 1-2 0-4 1 6 1 2 1-1 1-7 0 8 1-10 1 22 1-9 0 18 1-28 1 12 1-3 0-6 1 3 1 5 1-3 1 5 0-14 1 3 1-3 1-12 0 9 1 6 1 5 1-20 0 17 1 4 1-12 1 7 0 5 1-5 1-13 1 15 1-1 0 10 1-3 1-11 1 8 0-1 1-8 1 12 1-15 0 19 1 1 1 1 1 6 1-16 0 5 1-11 1 18 1-12 0-4 1 13 1 0 1 19 0-36 1 17 1-6 1 1 0 2 1 13 1-16 1 6 1 4 0-7 1 18 1-15 1 5 0-16 1 6 1 8 1 1 0-27 1 33 1-23 1 8 0 1 1 22 1-22 1 11 1 3 0-12 1 11 1-11 1 13 0-13 1 1 1 11 1 1 0-2 1-1 1 0 1-20 1 12 0 7 1-12 1 16 1-9 0 3 1 5 1 0 1-2 0 5 1-9 1 8 1-11 0 7 1-7 1 9 1 10 1-4 0-8 1-6 1 0 1-1 0-1 1 2 1 0 1 5 0-6 1 5 1 0 1-2 1-17 0 31 1-8 1-1 1-6 0 4 1-13 1 27 1-28 0 25 1-4 1-10 1 4 0 1 1-1 1-2 1-5 1 5 0 13 1-5 1-17 1-5 0 8 1-2 1 6 1-15 0 21 1-2 1 3 1-20 1 17 0-9 1 15 1 0 1-20 0 1 1-1 1 5 1 4 0 1 1 5 1-6 1-14 0 13 1 9 1-8 1 6 1 1 0-8 1 6 1 4 1-22 0-1 1 13 1-10 1 16 0-3 1-11 1 9 1-4 1 30 0-24 1 6 1-2 1 11 0-6 1-10 1 0 1-2 0 0 1-2 1 5 1 6 0 2 1-1 1 4 1 0 1-7 0 17 1-9 1-3 1-12 0-5 1 6 1 3 1 4 0-14 1 4 1 11 1-5 0-4 1-4 1 11 1-15 1 3 0 13 1-2 1 6 1 0 0-10 1-9 1 0 1 10 0 5 1 2 1-8 1 7 1-10 0 7 1-4 1 7 1-21 0 7 1 8 1 8 1-12 0-2 1 15 1-10 1-16 0 15 1 4 1-8 1-10 1 18 0 0 1-2 1-2 1-9 0 7 1 20 1-21 1 0 0-2 1 3 1 4 1-5 1 10 0 8 1-11 1 7 1-23 0 15 1-13 1 24 1 0 0-13 1 18 1-9 1 11 0-19 1 18 1-12 1 13 1-18 0-5 1 8 1 10 1-12 0-4 1 2 1-4 1-6 0 14 1 4 1 3 1-6 1 2 0 2 1-7 1-14 1 22 0-2 1-2 1 6 1-18 0 10 1-6 1 17 1-17 0 5 1 11 1-19 1-1 1 6 0-2 1 11 1-16 1 10 0-5 1-1 1 1 1 10 0-8 1 1 1-8 1 16 1-14 0 4 1 4 1-15 1 9 0 12 1-7 1 9 1 4 0-6 1 0 1-17 1 7 0 27 1-19 1 5 1 7 1-14 0 1 1-3 1 10 1-18 0 13 1-11 1 11 1-5 0 12 1-18 1 7 1 5 0-6 1-1 1 16 1-6 1 2 0-15 1 4 1 7 1 0 0-6 1 18 1-17 1-15 0 24 1-1 1-1 1-13 1 10 0-22 1 17 1 3 1 5 0-15 1-3 1 8 1-10 0 1 1 7 1 3 1 5 0-6 1 5 1-15 1 5 1 8 0 2 1-7 1-5 1 7 0-7 1 12 1-6 1-3 0 3 1-2 1-5 1 8 1-8 0 12 1-9 1 8 1-1 0-8 1-6 1 12 1-2 0-10 1 17 1-14 1 17 0 6 1-18 1 6 1 2 1 16 0-23 1 8 1 6 1-8 0 9 1-3 1 0 1-14 0 10 1-11 1 17 1 3 1-23 0 25 1-21 1 19 1-14 0 11 1-18 1 11 1-7 0 5 1 6 1-9 1-11 0 20 1 6 1-24 1 16 1-8 0 4 1 0 1 4 1-2 0 13 1-10 1 3 1-52 0 47 1-3 1 14 1-14 1-12 0 11 1-6 1 10 1 3 0-13 1 11 1 5 1-8 0 2 1-11 1 2 1 18 0-16 1 15 1-12 1-4 1 9 0 0 1-11 1 8 1 7 0-23 1 6 1 3 1 0 0-6 1 8 1-6 1 3 0 8 1-14 1 7 1 8 1-3 0 15 1-6 1-2 1-17 0 0 1-4 1 6 1-10 0 18 1 2 1 2 1-9 1 7 0 3 1-3 1-5 1 12 0-10 1 1 1-14 1 13 0 12 1-12 1 1 1 13 0 15 1-31 1 8 1 5 1-5 0-11 1-4 1 18 1-16 0 12 1 0 1 1 1-1 0 1 1 4 1-6 1 8 1-13 0 10 1-10 1 5 1 13 0-24 1 7 1 3 1 2 0-17 1 16 1-9 1 6 0 12 1-16 1 18 1-15 1 1 0 1 1 9 1-17 1-3 0 22 1-4 1-16 1 17 0-11 1 16 1-3 1-7 1-1 0 15 1-3 1-13 1-6 0 6 1 1 1-1 1 13 0-13 1-4 1 2 1 14 0-2 1-17 1 20 1-2 1-22 0 20 1-2 1-11 1-2 0 8 1 11 1-8 1-6 0 9 1 1 1-19 1 6 1-2 0-1 1 16 1-12 1-6 0 5 1 15 1 3 1-6 0-11 1 6 1-4 1 12 0-17 1 13 1-15 1 10 1 24 0-23 1 6 1 0 1-6 0-10 1 2 1-4 1 11 0 15 1-10 1 3 1-2 0-27 1 16 1 15 1-18 1 13 0 9 1-20 1 13 1-4 0-18 1 27 1-16 1 11 0 7 1 23 1-34 1 0 1 14 0-19 1 13 1-9 1 0 0 6 1-9 1 10 1 1 0 4 1 3 1-10 1 12 0-15 1 1 1-18 1 23 1-19 0 7 1 0 1 8 1 2 0-4 1-2 1-5 1 9 0-17 1 0 1 34 1-21 1 2 0 8 1 14 1-7 1-13 0-7 1 3 1-1 1 7 0-10 1 4 1-5 1 11 0 4 1 7 1-25 1 17 1 4 0 9 1-22 1 16 1-12 0-2 1-10 1 17 1 10 0-17 1-1 1 7 1-6 1-16 0 15 1 5 1-5 1-5 0 1 1 0 1 0 1 12 0-14 1-4 1 3 1 6 0 0 1-1 1 1 1 14 1-12 0-11 1 13 1 2 1-8 0 4 1 7 1-7 1-12 0-1 1 14 1 3 1-12 1 6 0-1 1 5 1 10 1 1 0-11 1 7 1-1 1-16 0-5 1-14 1 9 1 5 0 7 1-3 1 10 1 21 1-35 0 4 1-10 1 10 1 3 0 5 1 1 1-6 1 16 0-5 1-16 1 23 1-4 0-7 1-2 1-4 1-6 1 5 0-3 1 10 1-5 1 6 0-4 1-6 1 1 1 19 0-6 1-25 1 33 1-18 1 11 0-8 1 3 1-5 1 10 0-18 1-9 1 38 1-12 0 6 1-14 1-10 1 1 0 1 1 9 1 6 1-13 1 15 0 1 1-7 1 11 1-8 0 20 1-23 1-7 1 12 0-8 1-5 1 14 1-6 1 2 0-18 1 19 1-6 1 12 0-5 1-12 1 6 1-8 0 5 1-21 1 23 1-10 0 13 1-2 1 9 1-35 1 39 0-18 1 5 1-10 1 11 0-20 1 7 1 5 1 0 0-4 1 5 1-9 1 6 1 8 0-4 1 2 1-8 1 12 0-2 1 11 1-16 1 4 0 7 1-19 1 14 1 9 0-18 1 11 1 23 1-28 1 3 0-1 1 3 1 5 1-8 0 15 1-13 1-9 1-1 0 12 1-19 1 13 1 6 1-5 0 7 1-13 1 15 1-2 0 3 1-2 1-5 1-18 0 14 1-8 1 9 1-7 0 16 1 1 1-25 1 12 1 16 0-18 1 7 1 1 1-9 0 17 1-21 1 8 1 6 0 7 1-25 1 18 1 8 0-10 1-5 1-1 1-7 1 8 0 5 1-18 1 2 1 26 0-18 1 14 1-17 1 20 0-10 1-11 1 11 1-6 1 15 0 4 1-1 1-14 1 10 0-17 1 15 1-14 1 8 0 11 1-9 1-4 1 0 0 5 1-10 1 2 1 0 1 14 0 11 1-22 1 11 1-2 0-2 1-5 1 17 1-13 0-12 1 23 1-9 1-15 1 5 0 2 1 4 1 13 1-13 0 9 1-9 1 7 1 3 0-9 1-9 1 12 1-6 0-4 1 1 1 15 1-6 1-8 0 2 1-15 1 10 1 12 0-14 1-3 1 3 1 1 0 15 1-11 1-5 1 8 1-1 0-7 1 9 1 2 1-6 0-1 1-8 1 9 1 8 0-13 1 10 1-12 1 11 0-10 1 3 1 4 1 9 1-7 0-15 1 10 1-8 1 9 0 1 1 8 1-11 1 10 0 0 1-15 1 17 1-27 1 19 0 4 1-15 1 18 1-9 0 1 1-8 1-6 1 11 0 13 1 35 1-41 1-11 0 6 1-1 1 5 1-14 1 21 0-25 1 6 1 4 1 6 0 3 1-3 1-11 1 15 0 4 1-13 1 6 1-3 0 10 1 4 1-2 1-10 1 12 0-15 1 13 1-4 1-6 0 12 1 7 1-26 1 10 0 4 1-19 1-5 1 18 1-2 0-20 1 27 1-15 1 2 0 12 1 3 1-2 1-32 0 23 1-18 1 30 1-10 0 8 1-13 1 4 1 15 1-7 0-4 1-6 1 2 1-1 0 6 1-5 1 5 1-7 0 3 1 12 1-7 1 6 1-5 0-6 1 4 1 2 1 4 0-17 1 11 1 8 1-4 0-12 1-9 1 7 1 12 0-9 1 20 1-20 1 8 1-4 0 12 1-13 1 13 1 3 0-19 1 16 1-18 1 3 0 6 1-1 1-9 1 5 1 11 0-3 1-15 1-1 1 15 0-11 1 8 1-9 1 16 0-14 1 11 1 6 1-16 0 1 1 17 1-2 1-10 1-4 0 8 1-5 1 4 1 1 0-7 1-7 1 6 1 6 0 3 1-7 1 20 1-34 1 17 0-1 1 2 1 0 1 10 0-17 1 7 1-2 1 4 0 8 1-17 1 7 1 0 0-5 1-11 1 15 1-5 1-11 0 18 1-13 1 9 1-7 0 7 1-7 1 14 1-2 0 0 1-2 1-12 1 6 0-2 1 7 1-2 1-3 1 0 0 8 1-2 1 6 1-18 0 1 1-7 1 41 1-32 0 3 1-17 1 25 1 3 1-8 0 14 1 0 1-16 1 18 0-5 1-18 1 4 1 15 0-22 1 11 1 3 1-4 0 2 1-11 1 5 1 11 1-3 0-11 1 11 1 3 1 12 0-27 1 7 1 2 1 5 0-2 1-4 1 9 1-10 1-12 0 18 1-4 1-12 1 13 0-12 1 5 1 1 1 10 0 3 1-14 1 10 1 2 0 18 1-17 1-21 1 16 1-10 0 13 1 13 1-12 1-13 0 13 1 3 1-1 1 8 0-6 1-4 1-7 1 1 1 15 0 7 1-13 1 3 1-13 0 15 1-14 1 8 1-13 0 9 1 16 1 3 1-21 0 10 1-16 1 8 1-15 1 15 0 5 1 11 1-21 1 6 0 1 1-25 1 16 1 14 0-13 1 18 1 24 1-43 1 18 0-11 1-1 1 0 1 9 0 4 1-11 1-5 1 13 0-14 1-2 1 6 1-5 0 0 1-2 1 8 1 0 1 0 0-7 1 14 1-17 1 20 0-24 1 11 1-17 1 20 0-4 1 18 1-10 1-5 0-2 1-2 1 4 1 2 1-9 0 20 1-9 1-9 1 6 0-10 1 15 1-3 1-8 0-9 1 25 1 3 1-4 1 0 0-13 1-5 1 8 1-2 0-4 1 2 1 0 1 0 0-7 1 18 1-5 1-7 0-20 1 29 1-14 1 11 1-5 0 5 1-23 1 12 1 7 0-12 1 13 1-10 1 15 0-9 1-6 1 0 1 10 1-1 0 8 1 3 1-16 1-11 0 6 1-1 1 5 1 0 0 1 1-14 1 17 1-12 0 21 1-2 1-8 1 11 1-24 0 11 1-1 1 7 1-7 0 9 1-16 1 1 1 14 0 3 1 6 1-1 1-22 1 4 0-7 1 9 1-3 1 1 0 10 1-6 1-7 1 7 0 9 1 0 1-33 1 31 0-2 1-6 1 1 1-9 1 12 0-9 1 4 1 0 1 3 0 5 1-3 1 5 1-5 0-5 1 0 1 11 1-3 1-3 0-14 1 10 1-1 1-7 0 6 1 9 1-18 1 15 0-10 1 6 1-1 1-5 0 14 1 8 1-13 1 3 1 2 0-3 1 13 1-12 1 2 0-5 1 7 1-1 1-8 0-4 1 10 1 6 1-1 1-16 0 24 1-14 1-2 1-1 0 20 1-18 1 19 1-13 0 4 1 9 1-30 1 17 0 10 1-4 1-8 1-6 1 5 0 10 1-23 1 10 1-10 0 2 1 8 1-8 1 11 0-9 1 22 1 1 1-5 0-13 1 3 1 7 1-1 1 0 0-6 1-8 1 1 1 10 0-1 1-5 1 13 1-8 0-5 1 1 1 7 1 3 1 1 0-19 1 11 1 10 1 7 0-17 1-12 1 14 1 5 0-14 1 8 1-1 1-4 0 4 1-8 1-15 1 21 1 4 0-8 1 23 1-17 1 1 0-11 1 14 1-17 1 10 0-5 1-7 1 9 1 6 1-7 0 0 1-13 1 16 1-8 0-3 1 2 1 11 1 7 0-18 1-5 1 9 1-5 0 9 1-6 1-4 1 11 1-10 0 11 1 7 1-11 1 5 0-4 1-24 1 29 1-5 0 8 1-10 1 14 1 5 1-20 0 25 1-13 1-1 1-8 0 9 1 1 1 13 1-23 0 17 1-8 1 6 1-15 0 17 1 3 1-22 1 16 1-7 0-2 1 16 1-21 1 16 0-9 1-3 1 4 1 6 0-15 1 14 1 4 1-21 1-1 0 25 1-14 1-2 1 23 0-19 1-14 1 18 1-20 0-5 1 17 1 4 1-6 0 12 1-22 1 6 1 16 1-5 0-4 1-12 1 2 1 13 0-7 1 5 1-7 1 6 0-20 1 14 1 6 1 6 0 3 1-17 1-2 1-6 1 21 0-14 1 16 1-16 1 1 0 2 1 4 1 2 1-2 0 13 1-22 1 15 1-11 1 2 0-6 1 5 1 0 1-2 0-5 1 11 1 5 1-8 0 2 1-7 1-19 1 24 0-8 1 7 1-2 1 8 1-15 0 7 1 13 1-1 1-21 0 12 1-13 1-5 1 18 0-2 1-4 1 13 1 7 1-31 0 22 1-6 1-14 1 11 0-7 1 5 1 12 1-4 0-8 1 9 1-16 1 5 0 16 1-17 1 8 1-1 1-9 0 22 1-8 1-9 1 14 0-22 1 37 1-35 1 3 0 12 1-5 1 7 1-21 1 16 0-4 1 2 1 14 1 5 0-16 1-10 1 7 1 7 0-5 1 7 1-13 1 6 0 2 1-15 1 23 1 3 1-6 0 2 1 1 1-10 1 1 0 18 1-9 1-1 1 10 0-20 1 3 1-3 1 9 1-1 0-7 1 1 1 4 1-7 0 9 1-13 1 4 1 8 0 6 1-13 1-6 1 9 0-12 1 6 1-25 1 44 1-6 0-7 1 0 1 3 1 2 0 15 1-27 1 3 1 11 0-5 1 6 1-14 1 10 0-11 1 13 1 3 1 6 1-17 0 8 1-10 1-4 1 6 0-10 1 16 1 3 1-9 0 3 1-14 1 27 1-5 1-20 0 17 1-4 1 2 1-4 0-17 1 8 1 9 1-16 0 24 1-9 1-14 1 26 0-3 1 0 1-5 1-9 1-6 0 3 1-1 1 8 1 7 0 4 1-8 1 8 1 3 0-14 1 11 1-4 1-19 1 13 0 0 1 7 1 5 1-11 0 8 1-2 1 4 1-8 0 2 1 20 1-10 1-7 0-16 1 23 1-11 1-6 1 0 0 13 1-12 1 5 1 1 0 5 1 10 1-10 1 8 0-20 1 3 1-12 1 27 1 0 0-11 1-4 1-6 1 16 0 6 1-7 1-36 1 35 0-3 1-12 1 1 1 9 0 22 1-31 1 10 1-15 1 10 0-4 1 21 1-16 1 1 0 4 1-7 1-1 1 8 0-12 1-3 1 8 1 6 1-3 0 4 1-3 1-4 1 10 0-21 1 5 1 25 1-5 0-3 1-9 1 3 1 8 0 16 1-25 1 0 1 0 1 10 0 12 1-15 1 3 1-11 0-9 1 6 1 9 1-9 0 11 1-11 1 5 1 5 0-8 1 2 1-10 1 11 1 1 0-13 1 9 1 1 1-15 0 36 1-7 1-7 1-16 0-2 1 10 1 8 1 6 1-16 0 2 1 8 1-13 1-5 0 21 1-10 1 13 1-12 0 13 1-11 1-15 1 20 0-16 1 1 1 1 1 13 1 8 0-12 1-5 1 10 1 2 0 4 1-35 1 41 1-23 0 10 1-13 1-1 1 19 1-8 0 2 1-8 1 6 1-8 0 3 1 9 1-14 1 5 0 0 1 7 1-9 1 9 0-13 1 7 1 22 1-24 1 1 0 5 1-6 1 19 1-15 0 9 1-8 1 8 1 5 0-7 1 23 1-26 1-6 1-4 0-9 1 24 1-3 1 0 0-11 1 17 1-3 1 12 0-27 1 20 1 1 1 5 0-18 1 4 1 0 1 8 1-7 0-14 1 22 1-14 1-10 0 20 1-15 1 0 1 12 0-6 1-7 1-2 1 12 1 7 0-14 1 0 1-5 1-6 0 2 1 2 1 9 1-13 0 0 1 12 1 1 1 7 0-8 1-4 1 1 1-7 1 4 0 7 1-18 1 24 1-22 0 7 1-2 1 8 1-7 0-12 1 18 1-8 1 2 0 26 1-41 1 14 1 8 1-4 0 9 1-23 1 11 1 5 0 4 1-13 1 7 1-5 0 2 1 17 1-14 1 23 1 3 0-19 1-16 1 10 1 0 0 12 1-6 1-5 1 22 0-10 1-3 1-10 1-3 0 15 1-17 1 12 1 2 1-11 0 17 1 0 1 5 1-3 0 12 1-38 1 15 1-10 0 28 1 3 1-27 1 15 1 0 0 1 1 7 1-5 1-23 0 26 1-22 1 9 1-4 0-4 1 18 1-16 1 3 0-19 1 18 1-6 1 7 1-2 0 0 1 2 1-9 1 6 0-2 1-3 1 13 1-3 0-5 1-1 1-10 1 31 1-10 0 2 1-9 1 3 1 13 0-6 1 0 1 7 1-5 0-3 1-14 1 9 1 5 0 2 1-4 1-12 1 0 1 17 0-4 1-4 1-1 1 12 0-14 1-2 1-1 1-8 0 8 1 9 1 10 1-11 1 5 0-15 1 10 1 10 1-6 0-17 1 18 1-7 1-7 0 6 1 14 1 0 1-5 0-10 1 1 1 9 1-7 1-2 0 15 1-3 1-11 1-9 0 10 1-3 1-11 1 19 0-7 1 2 1-18 1 19 0 2 1-15 1-16 1 16 1-3 0 0 1 6 1 6 1-16 0 10 1 14 1-5 1-4 0 8 1-6 1 3 1 1 1 9 0-24 1 22 1 2 1-16 0 8 1-1 1-15 1 23 0 2 1-3 1-2 1-8 0-2 1-5 1 12 1-8 1 11 0-4 1-5 1 10 1-24 0 17 1 3 1 0 1-10 0-13 1 25 1-13 1 8 1-15 0 11 1 14 1-9 1-7 0 0 1-15 1 9 1 12 0-15 1 8 1-18 1 19 0 3 1-7 1-12 1 18 1-16 0 13 1-2 1-8 1 2 0 4 1-10 1 19 1 17 0-26 1 4 1 4 1-11" fill="none" stroke="#0000ff" stroke-width="5.6" stroke-linejoin="round"/></g>
<g clip-path="url(#cc)"><path transform="scale(.5)" d="M546 5505l0-6 1 36 1-20 1-9 0-2 1 5 1-6 1 10 0-2 1 3 1 11 1-2 1-10 0 7 1-15 1 0 1-4 0 15 1-11 1 19 1-1 0-7 1-2 1 16 1 1 1-17 0 10 1-17 1 7 1 1 0 0 1-5 1 9 1-10 0 13 1-3 1 4 1-10 0 5 1 7 1-24 1 20 1-2 0-5 1-11 1 15 1-6 0 4 1 13 1-18 1-3 0 11 1-2 1 12 1 0 1-9 0-8 1 9 1-7 1-5 0 7 1-4 1-7 1 22 0-16 1 21 1-19 1 2 0 6 1 5 1-8 1 3 1-5 0 9 1-12 1 13 1-6 0 1 1-14 1 23 1-9 0-13 1 16 1 5 1-13 1 5 0-9 1 15 1-9 1-4 0-3 1 18 1-21 1 19 0 5 1-5 1-9 1 4 0-6 1-1 1 1 1 4 1-17 0 33 1-4 1-10 1 6 0 10 1-14 1-1 1 14 0-27 1-4 1 1 1 14 1-5 0 10 1-11 1 8 1-9 0 6 1-11 1 2 1-4 0 24 1 2 1-18 1 8 0-8 1 1 1 1 1-6 1 2 0 1 1 11 1-21 1 13 0-8 1 6 1-8 1 9 0-1 1 1 1 7 1-1 0-4 1-1 1 8 1-28 1 27 0-5 1-23 1 25 1-11 0 0 1 7 1 10 1 1 0-13 1-3 1 20 1-19 1 7 0-13 1 6 1 7 1-3 0-4 1-11 1-14 1 22 0 2 1-5 1 6 1-6 0 2 1 3 1 6 1-8 1-6 0 6 1-12 1 4 1 9 0-16 1 23 1-19 1-6 0 17 1-2 1-9 1-4 1 7 0 2 1-7 1 5 1 11 0-9 1-2 1 12 1-17 0 9 1-13 1 18 1-6 0 4 1-24 1 0 1-2 1-1 0 3 1 0 1 20 1-17 0 26 1-22 1 7 1-22 0 9 1 14 1-17 1 5 1 7 0-6 1 4 1 12 1-6 0-16 1 1 1 1 1 12 0-4 1-5 1-5 1 12 0 2 1-17 1 9 1 4 1 3 0-1 1-18 1 5 1 12 0 7 1-24 1 1 1 3 0 3 1 22 1-5 1-15 1 7 0-5 1 7 1 1 1-10 0 7 1-3 1-2 1-1 0-7 1-2 1 22 1-9 0 3 1-12 1 15 1-16 1 1 0 1 1 12 1-6 1 7 0-12 1-4 1 20 1-6 0-5 1 3 1-17 1 14 0-4 1 12 1-22 1 12 1-5 0 5 1 18 1-4 1-3 0-14 1 8 1-8 1 1 0 1 1-6 1 6 1 15 1-8 0-20 1 22 1-28 1 5 0 18 1-8 1 14 1-18 0 12 1 4 1-8 1 0 0 0 1-7 1 2 1 3 1-14 0-13 1 17 1 5 1 0 0-16 1 4 1-5 1 14 0-10 1-2 1-20 1 8 1 16 0-26 1-7 1-3 1 33 0-24 1-5 1 2 1 8 0 15 1-10 1 2 1-5 0 2 1 10 1-6 1 18 1-1 0-3 1-3 1 9 1-11 0 9 1 12 1-6 1 9 0 3 1-18 1 2 1 5 1 22 0-21 1 3 1 12 1-6 0-13 1 17 1 0 1-5 0 19 1 2 1 2 1-10 0-7 1 15 1 4 1-12 1 5 0-7 1 6 1 1 1 0 0 0 1 8 1 2 1-21 0-12 1 17 1 22 1-13 1-9 0 23 1-9 1 0 1 5 0-1 1-15 1 13 1-2 0-15 1 21 1 9 1-21 0-11 1 15 1 0 1 13 1-2 0-20 1 2 1 6 1 18 0-3 1 0 1 1 1-14 0 12 1-2 1-10 1 1 0 5 1-3 1 4 1 16 1-15 0 3 1 0 1-5 1 7 0-15 1 12 1-3 1-1 0 4 1-7 1 0 1 1 1 11 0 2 1-3 1-5 1 16 0-9 1 3 1-4 1 3 0-15 1 4 1-4 1 16 0-2 1-4 1-16 1 0 1 19 0-10 1-12 1 26 1-6 0-12 1 4 1 15 1-43 0 27 1 2 1 16 1-8 1-12 0 6 1-2 1 9 1-15 0 15 1-10 1 5 1 11 0-20 1 22 1-4 1-7 0 12 1 4 1-14 1 3 1-2 0-6 1-15 1 22 1-23 0 18 1 3 1 21 1-9 0-15 1-2 1 11 1-9 1-5 0 12 1 8 1-5 1-5 0-5 1-4 1 14 1-8 0 2 1-2 1-9 1-1 0 15 1 1 1 0 1-1 1-1 0-2 1 16 1-8 1 1 0-10 1-45 1 42 1 0 0 3 1 4 1-17 1 19 1 6 0 3 1-11 1 10 1 0 0 0 1 5 1-12 1 16 0-32 1 42 1-11 1-11 0-2 1 6 1-5 1 2 1 1 0-4 1 3 1 3 1 1 0-8 1 9 1-6 1-7 0 10 1-7 1 14 1-6 1-2 0 3 1-2 1-7 1 15 0 3 1-8 1 15 1-12 0-9 1 10 1-5 1 2 0-7 1 6 1 3 1 29 1-23 0-9 1 7 1 5 1-8 0 10 1-4 1-8 1 10 0-5 1 2 1 10 1-5 0 0 1 2 1-13 1 10 1 5 0 7 1-8 1-12 1 14 0-8 1 3 1 9 1 4 0-11 1 19 1-18 1 15 1-16 0 11 1-2 1-8 1 17 0-8 1 3 1-6 1-1 0 4 1 0 1 6 1-8 0 7 1 39 1-42 1 12 1-1 0-11 1 2 1-11 1 30 0-22 1-7 1 8 1-6 0 6 1 1 1-8 1 17 1 8 0-23 1 3 1 0 1-1 0-3 1 8 1-7 1 1 0 12 1-8 1-3 1 8 0-14 1 11 1-9 1-5 1 24 0-1 1-16 1 7 1-6 0-10 1 17 1-11 1 9 0 2 1-10 1 1 1-8 1 5 0-6 1 1 1 16 1-13 0-2 1-12 1 13 1-13 0 3 1 8 1-17 1-11 0 1 1-21 1-10 1-15 1-11 0-23 1-28 1-20 1-15 0-36 1-35 1-55 1-68 0-72 1-110 1-83 1-110 1-96 0-105 1-65 1-47 1-18 0-15 1 20 1 8 1 14 0 34 1 19 1 50 1 9 0 50 1 15 1 32 1 29 1 17 0 77 1 17 1 51 1 35 0 47 1 43 1 42 1 32 0 16 1 35 1-3 1 30 0 7 1 28 1 0 1 19 1 3 0 8 1 25 1-28 1 42 0-8 1 40 1-6 1 14 0 19 1 2 1 11 1-8 1 24 0-10 1 17 1-5 1 24 0-4 1-4 1 12 1 9 0-10 1-3 1 9 1 5 0-2 1 9 1-9 1 1 1 22 0-17 1 5 1 5 1-1 0-4 1-3 1 4 1 17 0-11 1 26 1 12 1-28 1-1 0 17 1 0 1-16 1 10 0 14 1-13 1 11 1 7 0-6 1-24 1 32 1-8 0-3 1-5 1 17 1 1 1-14 0 6 1-7 1 21 1-8 0-7 1 8 1 11 1-9 0 18 1-8 1-11 1 0 1 5 0-1 1 19 1-6 1-13 0-9 1 15 1 12 1 1 0-17 1 1 1 20 1-11 0-10 1 1 1 16 1-3 1-5 0 14 1 4 1-7 1-15 0 2 1 6 1 14 1 7 0-7 1-8 1-7 1 16 1-7 0 15 1 3 1-17 1 10 0-1 1 11 1-25 1 21 0-15 1 12 1-9 1-15 0 8 1-1 1-8 1 1 1-10 0 21 1-26 1 8 1 7 0-16 1-2 1 3 1-9 0 17 1 1 1-8 1-14 0 5 1-7 1 23 1-10 1-9 0 15 1 1 1-7 1-1 0 5 1-10 1 11 1 11 0 10 1-26 1 11 1-3 1-1 0-6 1 3 1 1 1 6 0 5 1-4 1 10 1-9 0-5 1 3 1 5 1 9 0 1 1-1 1-2 1-7 1 0 0 0 1-3 1 17 1-6 0-6 1-2 1 12 1 1 0-15 1 4 1 2 1 6 1 6 0-7 1-3 1-1 1-3 0 7 1-9 1 13 1-5 0 3 1 15 1-3 1-6 0-6 1-1 1-7 1 11 1 3 0-5 1 13 1-8 1 8 0-9 1-20 1 25 1-18 0 7 1-12 1 20 1 3 1 5 0-6 1 14 1-15 1 5 0 7 1 4 1-8 1-4 0-3 1 13 1-13 1-3 0-16 1 15 1-4 1 13 1-6 0 6 1 1 1-11 1 6 0-13 1 12 1-4 1 14 0-2 1-13 1 12 1-16 1 17 0 2 1-23 1 30 1-9 0-8 1 0 1 14 1-26 0 22 1 12 1-22 1 12 0-4 1-6 1 15 1-1 1-5 0-7 1 18 1-22 1 9 0 12 1-9 1-5 1-5 0-2 1 3 1-15 1 19 0 27 1-29 1 8 1-13 1 18 0-1 1-4 1-7 1 4 0-6 1-9 1 9 1-14 0 13 1 5 1 17 1-17 1-4 0 10 1-10 1 26 1-12 0 2 1-12 1 12 1 1 0-20 1 24 1-16 1-5 0 12 1 5 1-5 1 3 1 2 0-8 1 2 1-25 1 15 0 9 1-3 1-9 1 5 0 9 1 7 1-21 1 15 1-2 0-9 1 9 1-9 1 13 0-4 1 4 1-19 1 29 0-10 1 6 1-1 1 5 0-4 1-16 1-4 1 20 1 5 0-6 1-17 1 15 1 17 0-24 1 8 1-5 1 2 0 15 1-19 1 3 1 11 1 14 0-9 1-1 1-14 1 24 0-15 1-5 1 4 1-7 0 0 1-5 1 17 1-13 0 5 1-20 1 5 1 14 1-11 0 22 1-6 1-7 1-4 0 10 1-9 1-10 1 24 0-3 1 5 1-25 1 18 1-5 0 4 1-7 1 2 1-4 0 0 1-12 1 21 1-9 0 2 1 6 1-14 1-9 0 24 1-29 1 21 1-1 1 21 0-22 1 2 1 1 1-8 0 7 1-4 1 9 1 4 0-10 1-4 1 0 1 5 0 7 1-6 1 3 1 9 1-12 0 4 1 8 1-6 1-8 0 23 1-2 1-12 1-8 0-5 1 6 1 11 1-4 1-4 0 6 1-25 1 28 1-32 0 21 1 2 1-8 1 5 0 1 1-3 1 33 1-28 0-11 1 3 1 14 1-21 1 16 0 9 1-18 1 1 1 3 0 10 1-17 1 6 1 1 0 1 1-1 1-29 1 37 1-7 0-7 1 3 1 13 1-6 0 2 1 9 1-11 1-9 0 5 1-7 1 6 1 9 0-10 1 18 1-25 1 13 1-16 0 24 1-3 1-4 1-1 0 11 1-3 1-14 1 11 0-14 1-6 1 25 1-9 1-17 0 5 1 20 1-14 1-11 0 31 1-21 1-6 1 12 0 1 1-11 1 19 1-18 0-6 1 9 1 13 1-26 1 13 0-4 1 11 1-6 1-10 0 21 1-1 1 6 1-21 0 1 1 10 1-10 1 3 1-16 0 26 1-12 1 6 1-19 0 12 1 13 1-13 1 5 0 7 1-11 1 2 1 12 0-6 1-13 1 1 1 10 1 2 0-5 1 3 1 9 1-15 0 12 1-18 1 7 1-1 0 9 1-4 1 6 1-2 0 5 1-20 1 21 1-23 1 7 0 14 1-18 1 7 1 10 0-9 1 5 1 3 1-5 0-3 1 5 1-3 1-6 1 7 0 2 1 8 1-10 1 4 0-2 1-9 1 0 1 7 0 5 1-6 1-1 1 0 0 14 1-14 1 10 1-11 1 0 0 1 1-8 1 9 1-2 0 9 1-6 1 0 1-2 0 2 1 17 1-26 1 0 1 22 0-19 1-7 1 3 1-1 0 7 1 3 1-20 1 12 0-10 1 13 1-8 1 0 0 0 1 16 1-29 1 17 1 5 0-5 1 17 1-25 1 14 0-5 1 1 1 16 1-12 0-12 1 17 1-9 1-6 1-4 0 20 1-15 1 3 1 1 0-3 1 2 1 14 1-12 0 10 1-8 1 6 1-15 0 5 1 3 1 10 1-9 1 13 0-2 1 6 1-20 1 11 0-12 1-1 1 0 1 12 0-16 1 2 1 20 1-14 1 8 0-7 1-13 1 4 1-13 0 4 1-4 1-11 1-1 0 0 1-8 1-3 1 17 0-6 1-14 1-13 1 9 1 2 0-20 1-2 1-23 1 25 0-32 1-4 1 22 1-17 0-9 1-7 1 2 1-6 0 3 1 8 1-21 1 11 1 9 0-11 1 4 1 2 1 1 0 29 1-28 1 3 1 5 0-20 1 1 1 4 1 6 1-2 0-20 1 19 1-14 1 4 0-1 1 7 1-2 1-1 0 8 1-20 1 17 1-8 0-13 1 2 1 17 1-9 1-4 0 24 1-33 1 12 1 7 0-2 1 18 1-24 1-7 0 14 1-15 1 8 1 16 1-24 0 30 1-1 1-21 1 1 0 6 1 0 1 12 1-21 0 8 1 2 1-31 1 28 0 3 1-16 1 15 1 8 1-16 0 15 1 7 1-2 1-2 0-6 1-1 1 22 1-18 0 17 1 1 1 20 1-32 1 13 0 13 1 5 1-3 1 15 0 32 1-19 1 10 1 6 0 7 1 0 1 18 1-21 0 21 1 9 1-5 1 16 1-12 0 5 1 3 1-14 1 5 0 11 1-2 1-8 1-15 0 20 1 0 1-5 1 15 1-9 0-7 1 3 1 1 1 13 0-10 1-11 1-10 1 14 0 13 1 0 1-2 1-19 0 29 1-8 1 12 1-10 1 0 0-10 1 2 1 5 1 5 0 1 1-16 1 15 1 9 0-3 1-6 1 8 1 7 0-20 1 14 1-5 1-1 1 4 0 0 1 20 1-39 1 20 0 2 1-2 1-19 1 5 0 7 1-6 1 16 1-3 1-4 0-4 1 1 1-8 1 16 0-12 1 16 1-9 1 12 0-18 1 15 1-15 1 26 0-30 1 15 1-4 1 2 1 16 0-8 1 1 1-4 1 12 0-7 1-6 1-8 1 4 0 16 1-17 1-6 1 7 1 10 0 4 1-4 1-17 1 22 0 12 1-28 1 12 1-5 0-15 1 5 1 12 1 2 0 0 1-21 1 1 1 15 1 1 0-4 1-6 1 12 1-20 0 10 1 23 1 23 1-42 0-23 1 7 1 11 1 11 1-9 0-1 1 4 1-5 1-4 0 9 1 6 1-11 1 15 0-9 1-14 1 9 1 12 0-10 1 3 1-3 1-7 1 13 0 6 1-23 1 21 1-11 0 2 1 7 1-7 1 2 0 2 1-4 1 13 1-13 1 15 0-15 1-2 1 18 1-22 0 21 1-4 1 6 1-4 0-3 1 6 1-13 1 14 0-9 1 12 1-2 1-8 1-2 0 5 1-6 1-1 1 9 0-6 1 7 1 3 1-6 0-4 1-11 1 5 1 3 0 19 1-11 1-12 1-1 1 5 0 9 1 6 1-2 1-19 0 1 1-11 1 19 1-8 0 9 1-5 1-3 1 5 1-17 0 21 1-16 1 8 1 2 0-13 1 13 1-7 1 2 0-6 1 16 1-12 1-2 0 9 1 3 1 1 1-8 1 6 0-11 1 6 1 1 1-2 0 0 1 0 1-4 1-5 0 7 1-1 1-8 1-16 1 28 0 9 1-18 1 16 1-1 0 1 1-4 1 16 1-15 0-13 1-12 1 17 1-3 0-1 1 13 1 3 1-11 1-6 0 8 1-1 1 4 1 1 0 3 1-12 1 2 1 8 0-2 1-3 1-3 1-6 1 2 0 14 1-1 1 4 1-19 0 8 1 22 1-14 1-11 0 23 1-24 1 3 1 13 0 3 1-23 1 17 1 6 1 8 0-8 1-4 1-24 1 18 0-3 1 11 1-7 1-16 0 5 1-6 1 1 1 5 1 5 0 15 1-27 1 9 1-20 0 22 1 1 1 3 1 7 0-27 1 15 1 1 1 5 0 5 1-15 1 2 1 14 1 6 0-5 1 1 1-14 1 16 0-10 1 12 1-8 1-22 0 27 1-8 1 7 1-13 0 7 1 2 1-11 1 5 1 1 0 15 1-2 1-20 1 22 0-23 1 0 1 15 1 5 0 3 1-17 1 2 1 11 1 2 0-13 1 9 1-5 1 12 0-16 1 2 1 5 1 5 0-9 1-4 1-1 1 2 0 7 1-11 1-4 1 14 1 5 0-22 1 10 1 17 1-23 0 6 1 7 1-6 1 9 0-2 1 7 1-23 1 14 1-6 0-1 1 18 1-17 1 11 0-19 1 20 1-17 1-6 0 11 1-6 1-3 1 10 0 4 1 9 1-26 1 6 1 3 0 20 1-23 1 12 1-5 0-1 1-6 1 11 1 3 0-10 1 2 1 7 1-23 1 8 0 22 1 5 1-3 1-12 0-8 1-11 1 13 1 6 0-7 1 1 1 7 1-9 0 16 1-13 1-7 1 5 1-6 0-5 1 4 1-1 1 0 0 6 1-10 1 6 1 10 0-16 1 8 1 25 1-39 1 13 0 7 1-13 1 3 1 2 0-12 1 4 1 12 1 3 0 5 1-13 1 2 1-8 0 8 1-4 1-5 1 14 1 4 0 1 1 2 1-9 1 0 0-14 1 14 1-12 1 12 0-3 1 3 1-3 1 4 0 3 1 1 1-17 1 5 1-12 0 1 1 20 1-24 1 19 0 9 1-4 1-5 1 15 0-24 1 6 1-8 1 2 1 1 0-4 1 2 1 15 1-24 0 16 1-4 1-5 1 11 0-1 1 10 1-20 1 0 0 9 1 3 1 15 1-25 1 12 0-3 1-1 1 0 1-4 0-4 1 4 1 11 1-8 0 1 1 7 1-5 1-9 1 1 0 2 1 0 1 20 1-16 0-10 1 15 1 0 1 3 0 15 1-20 1 8 1-8 0 0 1-2 1-1 1 10 1-10 0 4 1 0 1 3 1-4 0 5 1 4 1-18 1 18 0-12 1-4 1 3 1 4 1-1 0 10 1-15 1 10 1-7 0 6 1-15 1 10 1-3 0-12 1 18 1-6 1 15 0-15 1 1 1 1 1-10 1-7 0 5 1 0 1-2 1 12 0 2 1-9 1-12 1 18 0 7 1-12 1-7 1 2 1 2 0 4 1-6 1 9 1-13 0 0 1 4 1-9 1-3 0 26 1-5 1 7 1 6 0-4 1-6 1-5 1 4 1 21 0-20 1 9 1-13 1 12 0-15 1-5 1-1 1 16 0-3 1 4 1-3 1-14 0 28 1-10 1-6 1 4 1 5 0-18 1 9 1 2 1 7 0-11 1-9 1 9 1-11 0 11 1 4 1-8 1 8 1 4 0-16 1-4 1-5 1 28 0-23 1 3 1 4 1-3 0-1 1 1 1 0 1 7 0-16 1 14 1-9 1 12 1-2 0 0 1-3 1-9 1 24 0-22 1 15 1-22 1 25 0-9 1-4 1 18 1-12 1-1 0-2 1 5 1 7 1 7 0-10 1-1 1 0 1-10 0 6 1 15 1-7 1-16 0 4 1 4 1 4 1-11 1 15 0-1 1-15 1 23 1-24 0 13 1-8 1 7 1 11 0-18 1 8 1-5 1-4 1 2 0 0 1-4 1 16 1-28 0 30 1-11 1-1 1 4 0-9 1 10 1-4 1-21 0 26 1-23 1 31 1-16 1 3 0-4 1 25 1-2 1-22 0-2 1 2 1 9 1-8 0 0 1 8 1-20 1 15 1 4 0-8 1 6 1-5 1 9 0 0 1-3 1-13 1 10 0-15 1 1 1 17 1-1 0-13 1 12 1 0 1-17 1 10 0 0 1 19 1-15 1 15 0-16 1-1 1-12 1 26 0-12 1-2 1 0 1-1 0-6 1 5 1 8 1-2 1-11 0 11 1 13 1-3 1-3 0 0 1-13 1 1 1 15 0-6 1-12 1 0 1 4 1-19 0 24 1-16 1 7 1 19 0-8 1-9 1 7 1-3 0-2 1-4 1 6 1-8 0 7 1 7 1 42 1-40 1-16 0 18 1-7 1-1 1-8 0-7 1 21 1-7 1 1 0 3 1 7 1-14 1 16 1-28 0 5 1-2 1-7 1 17 0 5 1 9 1-25 1 3 0 11 1 5 1-11 1 0 0 12 1-22 1 17 1-9 1 20 0-6 1-10 1 9 1-23 0 31 1-12 1 11 1-12 0-14 1 9 1-30 1 21 1 23 0-3 1 3 1-22 1 23 0-25 1 17 1-5 1 2 0-10 1 11 1-2 1 0 0-1 1 6 1-7 1 8 1-13 0 9 1-16 1 23 1-12 0 2 1-16 1 10 1 6 0 0 1 4 1-23 1 0 1 18 0 6 1-10 1-3 1 14 0-5 1 1 1-2 1-6 0 13 1 6 1-32 1 20 0-7 1 8 1-5 1-2 1 4 0-22 1 15 1 8 1-3 0 1 1 2 1-11 1 0 0 9 1-3 1 13 1-15 1 5 0 6 1-4 1-15 1 20 0-1 1-11 1-1 1 5 0 7 1-3 1-22 1 27 0-13 1-6 1 1 1-13 1 15 0 6 1 2 1-4 1-14 0 20 1-12 1 9 1-6 0-18 1 14 1-2 1 8 0 8 1-5 1-3 1-4 1 16 0-15 1-13 1 16 1-10 0 4 1 3 1-6 1 0 0-7 1 29 1-24 1 13 1-6 0-6 1 8 1-15 1 7 0 12 1-10 1 19 1-14 0 7 1 2 1-15 1 7 0 5 1-7 1 4 1 0 1 12 0-9 1-8 1 1 1 3 0 10 1-4 1 14 1-11 0-19 1-4 1 14 1 0 1 12 0-14 1 7 1-23 1 13 0 5 1 12 1-25 1 11 0-17 1 12 1 6 1-8 0-1 1 11 1-16 1-5 1-3 0 38 1-26 1 5 1 1 0 8 1-21 1 31 1-28 0 14 1 14 1-11 1-6 1-19 0 10 1 11 1-1 1-11 0 5 1-11 1 24 1-8 0 8 1-5 1 14 1-12 0 12 1-15 1-8 1 10 1 1 0 3 1 11 1 41 1-49 0 6 1-17 1 24 1-6 0-1 1-5 1 7 1 3 1-1 0-5 1 7 1-21 1 9 0-10 1 15 1-9 1 5 0-2 1-11 1 7 1 4 0 4 1 13 1-12 1 3 1-20 0 19 1-5 1 3 1 4 0-14 1 18 1-13 1 21 0-11 1-19 1 16 1-3 0 0 1 13 1 12 1-9 1-20 0 7 1 13 1 0 1-21 0 15 1-2 1 2 1 3 0-8 1-2 1 7 1-1 1 6 0-17 1 23 1-14 1-3 0-3 1 9 1-3 1 6 0 6 1-7 1-7 1 3 0 16 1-10 1-10 1 8 1-8 0 12 1 2 1 27 1-38 0 25 1-10 1 9 1-6 0-12 1 20 1-16 1 13 1-10 0-3 1 5 1 1 1-1 0 0 1-7 1 2 1 7 0-22 1 24 1-21 1 16 0-12 1 2 1 11 1-9 1-10 0 29 1-2 1-4 1-21 0 11 1 10 1-4 1-3 0 9 1-4 1-3 1-3 1-4 0 13 1-2 1 9 1-9 0-2 1 2 1-4 1 13 0-18 1 8 1-9 1 18 0-6 1-3 1 6 1-14 1 9 0 11 1-19 1 13 1-8 0-4 1 15 1-20 1 5 0 19 1-22 1 17 1-1 1-19 0 25 1 10 1-22 1 3 0 6 1-15 1 21 1-4 0-14 1 12 1 3 1-5 0 8 1 0 1-9 1 3 1-3 0 6 1-8 1-1 1-11 0 19 1 1 1 4 1-11 0-5 1 0 1 2 1-3 0-5 1 13 1-3 1 11 1-9 0-3 1 12 1-20 1 12 0-2 1 5 1-13 1 14 0-5 1 5 1 6 1-2 1 3 0-1 1 12 1-8 1-4 0-8 1-4 1 9 1 3 0 8 1-16 1 12 1-2 0-11 1 10 1-9 1 0 1 10 0-5 1-11 1 6 1 1 0 12 1-10 1-11 1 12 0-6 1-4 1-12 1 32 1-22 0-1 1 8 1-15 1 26 0 1 1-11 1-6 1 13 0-8 1 4 1-20 1 20 0-15 1 28 1-16 1-1 1 11 0-8 1-5 1 5 1 2 0-4 1-4 1-1 1 9 0-12 1 9 1-21 1 20 1-2 0 10 1-21 1 14 1-4 0-5 1 10 1-5 1 6 0 3 1 4 1 6 1-19 0 18 1-21 1 15 1-31 1 24 0 4 1-17 1 10 1 4 0 0 1-11 1 16 1 4 0-8 1-4 1 20 1-6 1-4 0-3 1-3 1 15 1-11 0 11 1-21 1 9 1-9 0-5 1 9 1 2 1 6 0-1 1-9 1-3 1-7 1 21 0 2 1-24 1 15 1 9 0-16 1 10 1 2 1 7 0-17 1 0 1-6 1 12 0 4 1-4 1 0 1-1 1 14 0-3 1-8 1 3 1-18 0 13 1 31 1-25 1-11 0 6 1-9 1 6 1-8 1 9 0-7 1-5 1 13 1-16 0 12 1-18 1 5 1 3 0 0 1-6 1 18 1-12 0 8 1-4 1-1 1-5 1 15 0 2 1 4 1-16 1 9 0-9 1-3 1-1 1 26 0-17 1 0 1 10 1 5 1-16 0-14 1 28 1-8 1-5 0 24 1-34 1 21 1-16 0-14 1 21 1 11 1-8 0 3 1-9 1 13 1-17 1 15 0-32 1 38 1-19 1 19 0-22 1 10 1 16 1-8 0-2 1 5 1-11 1 9 1-8 0-5 1 4 1 3 1 0 0-8 1 9 1-4 1 18 0-11 1-11 1 4 1-2 0 0 1-11 1 17 1 9 1-24 0 9 1 8 1 4 1 6 0-9 1-6 1-12 1 14 0-1 1 5 1 5 1-14 1 2 0 3 1-8 1 19 1-11 0 3 1-8 1 12 1-3 0 1 1-5 1 5 1 1 0 6 1-2 1-11 1 11 1-14 0-7 1 3 1 8 1 1 0-2 1 5 1 2 1 0 0 6 1-3 1-18 1 25 0-1 1 6 1-22 1-10 1 6 0 12 1-10 1 3 1-2 0 13 1-15 1 13 1-9 0-3 1-2 1-8 1 2 1 13 0-20 1 31 1-8 1-7 0-4 1 5 1 0 1-13 0 27 1-12 1 4 1-6 0 4 1-8 1-6 1-4 1 32 0-13 1-14 1 9 1 3 0-1 1-9 1 9 1-2 0 4 1-3 1-2 1-14 1 11 0 4 1-8 1 22 1-10 0-4 1 10 1-8 1 1 0 1 1 1 1-5 1-8 0 11 1-6 1-2 1 8 1-3 0-10 1 20 1-12 1 0 0 5 1 14 1-24 1-14 0 22 1-9 1 5 1 0 1 5 0-51 1 57 1-7 1-1 0 0 1 7 1-13 1 19 0-1 1-12 1 15 1-32 0 29 1-7 1-15 1 22 1-24 0 2 1 1 1 9 1-11 0 12 1-8 1 15 1-15 0 1 1 1 1-1 1 15 1-16 0 10 1-2 1-4 1 9 0-11 1 9 1-8 1 6 0 7 1-15 1 8 1-4 0 8 1 8 1-19 1 23 1-10 0 9 1-18 1 19 1-23 0-14 1 52 1-41 1-7 0 25 1-10 1 5 1-5 0 2 1-18 1 13 1-19 1 2 0 8 1 13 1 0 1 2 0-12 1 5 1 0 1-1 0-14 1 17 1 1 1-5 1 0 0-8 1 0 1 18 1-11 0 8 1-7 1 7 1 5 0-5 1-5 1 13 1-12 0 4 1 3 1-6 1-2 1 7 0 24 1-18 1-16 1 20 0-13 1 17 1-32 1 24 0-12 1 10 1-7 1-8 1 10 0 8 1-20 1 13 1-13 0 23 1-9 1-8 1-2 0 3 1 12 1-11 1 17 0-19 1 5 1-5 1 11 1 8 0-17 1 16 1-7 1-12 0 3 1 8 1 2 1 4 0-7 1-8 1-1 1 16 1-2 0-12 1 24 1-32 1 37 0-24 1 6 1 1 1-1 0-7 1 3 1 1 1-16 0 10 1 4 1 12 1-11 1-2 0-4 1 4 1 0 1 4 0-11 1 21 1-15 1-10 0 33 1-33 1 7 1 1 1 10 0 0 1 1 1-36 1 36 0-26 1 21 1 6 1-13 0 8 1 5 1-3 1-9 0 8 1 3 1-6 1-2 1 15 0-22 1 20 1-8 1-10 0 4 1 6 1 1 1-4 0-9 1 9 1-10 1 10 0-18 1 15 1-9 1 21 1-10 0-18 1 33 1-10 1 3 0-14 1 12 1-9 1 3 0-1 1 13 1-19 1 21 1-25 0 9 1 8 1-6 1 13 0-10 1-5 1-18 1 30 0-10 1 6 1-11 1-8 0 20 1-9 1-8 1 13 1-1 0 1 1-3 1-2 1 9 0-4 1 7 1-10 1 1 0-8 1 10 1 1 1 10 1-18 0 5 1 5 1-7 1-6 0 4 1 0 1-2 1 14 0 17 1-29 1 15 1-10 0-13 1 19 1-5 1-3 1-8 0 17 1-15 1-6 1 10 0 11 1-22 1 9 1 1 0-7 1 7 1 7 1 11 1-26 0 14 1 2 1-7 1-3 0 16 1-8 1 5 1 3 0-4 1-1 1-3 1 9 0-5 1-14 1 18 1-11 1 9 0-6 1-7 1-5 1-1 0 15 1-19 1 21 1-20 0 21 1-3 1-13 1 8 1-9 0 5 1 1 1-7 1 12 0 1 1-6 1 3 1-1 0-2 1-3 1-30 1 52 0-14 1-5 1 4 1 12 1 4 0-1 1-16 1 8 1-14 0-7 1 9 1 4 1 1 0-3 1-12 1 19 1 7 0-15 1-6 1 20 1 2 1 3 0-13 1 10 1-23 1 21 0-19 1 7 1 20 1-18 0-13 1 7 1 11 1-3 1 2 0-4 1 1 1 7 1 1 0 8 1-16 1 1 1 7 0-18 1 15 1-16 1 14 0 2 1-8 1 12 1-19 1-4 0 16 1-5 1 12 1-12 0-6 1 14 1-8 1 1 0 4 1-16 1-6 1 28 1-14 0 22 1-17 1-3 1 4 0-3 1-2 1-10 1 12 0 6 1-9 1-14 1 20 0-16 1 9 1 14 1-10 1 4 0-10 1 18 1-14 1 2 0 20 1-18 1 5 1-15 0 5 1-2 1 6 1 10 1-18 0 3 1 7 1-1 1-7 0 1 1 7 1 2 1-11 0 8 1 4 1-4 1 3 0-5 1 6 1-3 1-5 1 8 0 1 1-6 1 9 1-5 0 0 1-4 1 0 1 3 0-13 1 20 1-6 1-13 1 14 0-2 1 7 1-9 1-10 0 13 1 6 1-6 1 11 0-6 1-25 1 30 1 1 0-10 1 6 1-6 1-18 1 33 0-9 1-16 1 1 1-2 0 14 1-7 1 6 1-7 0 1 1-8 1 6 1 7 0 17 1-22 1-2 1-3 1 7 0-1 1 2 1 2 1 12 0-9 1-2 1 11 1-12 0 7 1-14 1 3 1 16 1 4 0-22 1 6 1-7 1 21 0-21 1 9 1-10 1 7 0 23 1-20 1-8 1 3 0 16 1-10 1-6 1 3 1 2 0 0 1 12 1-1 1-10 0 1 1-3 1 9 1-1 0 1 1-6 1-2 1-5 1 0 0 1 1-1 1-6 1 1 0 11 1 11 1-9 1-4 0 0 1 6 1-13 1 20 0-13 1 1 1-12 1 7 1 9 0 7 1-6 1-13 1 9 0-8 1 1 1 4 1-10 0 15 1-8 1-5 1 6 1 35 0-29 1 3 1-9 1-1 0 7 1-1 1-3 1-4 0-9 1 9 1 3 1-17 0 31 1-18 1 7 1-5 1-13 0 24 1-1 1-9 1-10 0 13 1-3 1 1 1 9 0-10 1 6 1-3 1-2 1 15 0-12 1 1 1 0 1 2 0-9 1-12 1 17 1-13 0 13 1-3 1-7 1 11 0-2 1 7 1-22 1 25 1-14 0 3 1-3 1 9 1-9 0-3 1 9 1 1 1-12 0 1 1 1 1-4 1 7 0 4 1 1 1-10 1 15 1-7 0 11 1-9 1-14 1 7 0 7 1 7 1 0 1 0 0-10 1 8 1-12 1 15 1-27 0 15 1-3 1 1 1 9 0 0 1 2 1-4 1-22 0 16 1-4 1 12 1-4 0 0 1 14 1 4 1-16 1 1 0 5 1-21 1-2 1 23 0-22 1 8 1 11 1 4 0-11 1 9 1-12 1-6 1 4 0-19 1 16 1-1 1 3 0 3 1 2 1-18 1 26 0-22 1 22 1-21 1 11 0-5 1 17 1-1 1-21 1 9 0 11 1 2 1-2 1-2 0-13 1-7 1 8 1-2 0 2 1 12 1-8 1-3 1-3 0 11 1-9 1-10 1-3 0 9 1 19 1-8 1-9 0 12 1-3 1-10 1 19 0-25 1 11 1 2 1 1 1 3 0-19 1 6 1 8 1-10 0 6 1 5 1 3 1-15 0 15 1-1 1 6 1-9 1 13 0-7 1-20 1 8 1-15 0 22 1 3 1 1 1-13 0 7 1 8 1-11 1 4 0-1 1 3 1-12 1 10 1-5 0 5 1-15 1 17 1-9 0 19 1-25 1 23 1-5 0-4 1-7 1 10 1-12 0 3 1-3 1 19 1-6 1 1 0-7 1 2 1-3 1 0 0-5 1 14 1 4 1-12 0-1 1 2 1 8 1 18 1-32 0 8 1-15 1 21 1-1 0 17 1-11 1-6 1-2 0-16 1-2 1 22 1-12 0-4 1 5 1-3 1-13 1 17 0 0 1 4 1-3 1 1 0 4 1-1 1 3 1-1 0 5 1-11 1 1 1 16 1-24 0-1 1 3 1 2 1 1 0 1 1 7 1-3 1 6 0-2 1 7 1-14 1-1 0-13 1 11 1 0 1 10 1-5 0 8 1-12 1-23 1 29 0 16 1-30 1 4 1 16 0-10 1 8 1-10 1 14 1-9 0-9 1 9 1-5 1 2 0 7 1-1 1 3 1-6 0 2 1-8 1 9 1 1 0 5 1-3 1-2 1-8 1 3 0-9 1 20 1-1 1 2 0-12 1 10 1-14 1 5 0 21 1-35 1 17 1 3 1-10 0 12 1-7 1 4 1 4 0 1 1-17 1 5 1-1 0 3 1 4 1-9 1 2 0-12 1 16 1-7 1 9 1-6 0 6 1-28 1 12 1 9 0-8 1-4 1 7 1 24 0-25 1 9 1 3 1-9 0 6 1 15 1-5 1-5 1-8 0 3 1 22 1-15 1 10 0 4 1-5 1-2 1-4 0-4 1-14 1 7 1-1 1 5 0-10 1-14 1 16 1 11 0 3 1-5 1-10 1 13 0 5 1-14 1-16 1 19 0-5 1 1 1 4 1-21 1 7 0 17 1-11 1-2 1 0 0 7 1 21 1-27 1 23 0-18 1 5 1 2 1-11 1-3 0 13 1-1 1-4 1 5 0-5 1-9 1 8 1 4 0-7 1 21 1-5 1-14 0-2 1 14 1-23 1 1 1 14 0-9 1 3 1 18 1-15 0 7 1 0 1 0 1 15 0-16 1-16 1 19 1-10 1 22 0-22 1 15 1-11 1-3 0 21 1-10 1-10 1 4 0 20 1-18 1 13 1-11 0 13 1 5 1-20 1 10 1-16 0 2 1 4 1-8 1 10 0-8 1 6 1 21 1-22 0 12 1-8 1-12 1 16 1-16 0-1 1-9 1 9 1 17 0-10 1 11 1-12 1 2 0-13 1 12 1 5 1 0 0-4 1 7 1-9 1 0 1 2 0 5 1-7 1-2 1-7 0 9 1-9 1 21 1-21 0 25 1-8 1-10 1 2 1-9 0 2 1 0 1 6 1 12 0-18 1 4 1 0 1 0 0 1 1-3 1 1 1 6 0 7 1-12 1 6 1-1 1-5 0 9 1-5 1-1 1-8 0-10 1 18 1-3 1 5 0-14 1 9 1-7 1-4 0-5 1 18 1 9 1-10 1 14 0-41 1 26 1 4 1-16 0 15 1-13 1 21 1 3 0-17 1 15 1-2 1-18 1 13 0-4 1 3 1-13 1 10 0 2 1 2 1-7 1-3 0 17 1-18 1 9 1-4 0-3 1 10 1 13 1-3 1-21 0-2 1-14 1 27 1-8 0 8 1 7 1-14 1 5 0-1 1 3 1-5 1 7 1-8 0 10 1 3 1-19 1-1 0 7 1 16 1-6 1 18 0-8 1-31 1 34 1-20 0-3 1 7 1-8 1 12 1-14 0 5 1 2 1 0 1-11 0 21 1-6 1 7 1-10 0-3 1 4 1-4 1 4 1-18 0 8 1 8 1-4 1 6 0-12 1 22 1 0 1 0 0-20 1-14 1 11 1 14 0-4 1-4 1 7 1 0 1-9 0 14 1 18 1-41 1 6 0 13 1-19 1 22 1-33 0 27 1-4 1 12 1-13 1-4 0 9 1-5 1-2 1-2 0 5 1-3 1 4 1 5 0 17 1-35 1 14 1-5 0-2 1 11 1-10 1 8 1-10 0 23 1-20 1 3 1 14 0-18 1 0 1 11 1 8 0-12 1 11 1-12 1-2 0 12 1-15 1 18 1-21 1 5 0 8 1-9 1 1 1-11 0 14 1 6 1-15 1 17 0 2 1-3 1 1 1 1 1 12 0-32 1 16 1-5 1-4 0 1 1 15 1-3 1-16 0 12 1-3 1-5 1 1 0 4 1-8 1-36 1 56 1-8 0-11 1 7 1 6 1-3 0 0 1-12 1 11 1-15 0 25 1-7 1-7 1 3 1 15 0-27 1 11 1 7 1 6 0-11 1-3 1 2 1 2 0 4 1-13 1 5 1 2 0 3 1-3 1-3 1-3 1 12 0 2 1 4 1 1 1-16 0-8 1 15 1 5 1-12 0-10 1 24 1-9 1 8 1-7 0 10 1-1 1-1 1-13 0 5 1 0 1-1 1 2 0-2 1 2 1-13 1-1 0 7 1-6 1 7 1 5 1-3 0-2 1 8 1 6 1-16 0-3 1 18 1-26 1 20 0-6 1 5 1 4 1-10 1 9 0-11 1 3 1 3 1-10 0 4 1 5 1 0 1 0 0-4 1 11 1 4 1-13 0 4 1-7 1 7 1 0 1-4 0-3 1 0 1 1 1 1 0 15 1-24 1 11 1 2 0 10 1-12 1-2 1-2 0-1 1 17 1-2 1-33 1 32 0-14 1-1 1 4 1 14 0-11 1-5 1 21 1-27 0 4 1 6 1 3 1 0 1-19 0 3 1 3 1-1 1 18 0-13 1 2 1 0 1 8 0-7 1 7 1-13 1 8 0-10 1 8 1 4 1-9 1-1 0 9 1-4 1 6 1-5 0 4 1-6 1 10 1 6 0-12 1 8 1-1 1 6 1-25 0 12 1 1 1 5 1-6 0 5 1-3 1-11 1-5 0 67 1-43 1-5 1 5 0-5 1-3 1 0 1 9 1 5 0 7 1-23 1-6 1-2 0 14 1 9 1 2 1-22 0 8 1-20 1 13 1 9 1-13 0 11 1-2 1 5 1-10 0 10 1-4 1 1 1-10 0-1 1 7 1-5 1 14 0-7 1 2 1 12 1-9 1-8 0-2 1-4 1-12 1 13 0-9 1-15 1 27 1-37 0 47 1-6 1-2 1-11 1 4 0 1 1 8 1-6 1 9 0-32 1 24 1 15 1-21 0 12 1-13 1 9 1 9 0-15 1 9 1-24 1 10 1 22 0-19 1 24 1-17 1 2 0-7 1 11 1 0 1 1 0-12 1 3 1-1 1 1 0 5 1-15 1 18 1-18 1 3 0 17 1-13 1-1 1 0 0 14 1-16 1 3 1 17 0-9 1-10 1 10 1-7 1 7 0 5 1-7 1-4 1 7 0 7 1 4 1-19 1 3 0-9 1 12 1-11 1 16 0-12 1 21 1 6 1-22 1 9 0-6 1 1 1 8 1 25 0-24 1-9 1 7 1-9 0 4 1-16 1 14 1-15 1 19 0-12 1 1 1 9 1-8 0 11 1-3 1-8 1 7 0 17 1-10 1-19 1 8 0 3 1 5 1-1 1 7 1-16 0 4 1-9 1 2 1 10 0-2 1 2 1-5 1 7 0 16 1-13 1-4 1-13 1 16 0 2 1-2 1-1 1-10 0 21 1-31 1 12 1-5 0 10 1-3 1 19 1-18 0 2 1-9 1 9 1-2 1-1 0 14 1-14 1-15 1 21 0-12 1 12 1-16 1 1 0 16 1 3 1-8 1 3 1 5 0 2 1 8 1-8 1-3 0-16 1 5 1 13 1-4 0 5 1-15 1-9 1 17 0-2 1-6 1 14 1-18 1 8 0 17 1-6 1-4 1-5 0 0 1 1 1-1 1-1 0 1 1-2 1-6 1 6 0 1 1 14 1-22 1 13 1-7 0 6 1 8 1-13 1 1 0 2 1 15 1-11 1 1 0 0 1-16 1 22 1 11 1-24 0 7 1-6 1-11 1 7 0 23 1-13 1-4 1 1 0 6 1-26 1 6 1 14 0 2 1-13 1 24 1 0 1-22 0 7 1 2 1-7 1 15 0-12 1-1 1 3 1-5 0 10 1 16 1-31 1 10 1 7 0 8 1 0 1-1 1 0 0-17 1 3 1-1 1-1 0 6 1-5 1 5 1-4 0-5 1 11 1 1 1-9 1 5 0-8 1 8 1 1 1 10 0-10 1 2 1-7 1 11 0-4 1-5 1-16 1 14 1-22 0 27 1-2 1 3 1-4 0-14 1 21 1 2 1 3 0-16 1 8 1-19 1 4 0-8 1 16 1 8 1-15 1 10 0-9 1 6 1 7 1 5 0-10 1 2 1-13 1 16 0-3 1 10 1-5 1-10 1 8 0-10 1 12 1-6 1-7 0-6 1 15 1 16 1-31 0 5 1 8 1-18 1 13 0 0 1 6 1 0 1 2 1-4 0-11 1 4 1 5 1-6 0 5 1 9 1 1 1 16 0-25 1-5 1 4 1-6 0 0 1-1 1 17 1-8 1-8 0 17 1-3 1-6 1 0 0-6 1-6 1 4 1 11 0-15 1 10 1-7 1 5 1-7 0 17 1-16 1-12 1 18 0 10 1 0 1-15 1 8 0-4 1 3 1 0 1-18 0 42 1-26 1-5 1 8 1 13 0-14 1 6 1-4 1-8 0 13 1 0 1-18 1 16 0-2 1-10 1 13 1-10 1 10 0 10 1-7 1-4 1-22 0 15 1 15 1-4 1-4 0-8 1 15 1-19 1 19 0 4 1-11 1 3 1 9 1-15 0 3 1-4 1 5 1-5 0-10 1 21 1-9 1 4 0-5 1-1 1 10 1-14" fill="none" stroke="#ff00ff" stroke-width="5.6" stroke-linejoin="round"/></g>
<path d="M262.8 1989.2H2125V2856.7H272.8V1989.2" fill="none" stroke="#1e1e1e" stroke-width="3" stroke-linejoin="miter"/>
<path d="M254.8 2856.7H272.8M254.8 2754.6H272.8M254.8 2652.6H272.8M254.8 2550.5H272.8M254.8 2448.5H272.8M254.8 2346.4H272.8M254.8 2244.3H272.8M254.8 2142.3H272.8M254.8 2040.2H272.8M262.8 2805.7H272.8M262.8 2703.6H272.8M262.8 2601.6H272.8M262.8 2499.5H272.8M262.8 2397.4H272.8M262.8 2295.4H272.8M262.8 2193.3H272.8M262.8 2091.3H272.8M262.8 1989.2H272.8M368.6 2856.7V2874.7M528.3 2856.7V2874.7M687.9 2856.7V2874.7M847.6 2856.7V2874.7M1007.3 2856.7V2874.7M1167 2856.7V2874.7M1326.6 2856.7V2874.7M1486.3 2856.7V2874.7M1646 2856.7V2874.7M1805.7 2856.7V2874.7M1965.3 2856.7V2874.7M2125 2856.7V2874.7M288.8 2856.7V2866.7M448.4 2856.7V2866.7M608.1 2856.7V2866.7M767.8 2856.7V2866.7M927.5 2856.7V2866.7M1087.1 2856.7V2866.7M1246.8 2856.7V2866.7M1406.5 2856.7V2866.7M1566.1 2856.7V2866.7M1725.8 2856.7V2866.7M1885.5 2856.7V2866.7M2045.2 2856.7V2866.7" stroke="#1e1e1e" stroke-width="3" fill="none"/>
<text x="242.5" y="2868.7" font-size="46" text-anchor="end" fill="#1e1e1e" >0</text>
<text x="242.5" y="2766.6" font-size="46" text-anchor="end" fill="#1e1e1e" >60</text>
<text x="242.5" y="2664.6" font-size="46" text-anchor="end" fill="#1e1e1e" >120</text>
<text x="242.5" y="2562.5" font-size="46" text-anchor="end" fill="#1e1e1e" >180</text>
<text x="242.5" y="2460.5" font-size="46" text-anchor="end" fill="#1e1e1e" >240</text>
<text x="242.5" y="2358.4" font-size="46" text-anchor="end" fill="#1e1e1e" >300</text>
<text x="242.5" y="2256.3" font-size="46" text-anchor="end" fill="#1e1e1e" >360</text>
<text x="242.5" y="2154.3" font-size="46" text-anchor="end" fill="#1e1e1e" >420</text>
<text x="242.5" y="2052.2" font-size="46" text-anchor="end" fill="#1e1e1e" >480</text>
<text x="368.6" y="2921.7" font-size="46" text-anchor="middle" fill="#1e1e1e" >250</text>
<text x="528.3" y="2921.7" font-size="46" text-anchor="middle" fill="#1e1e1e" >500</text>
<text x="687.9" y="2921.7" font-size="46" text-anchor="middle" fill="#1e1e1e" >750</text>
<text x="847.6" y="2921.7" font-size="46" text-anchor="middle" fill="#1e1e1e" >1000</text>
<text x="1007.3" y="2921.7" font-size="46" text-anchor="middle" fill="#1e1e1e" >1250</text>
<text x="1167" y="2921.7" font-size="46" text-anchor="middle" fill="#1e1e1e" >1500</text>
<text x="1326.6" y="2921.7" font-size="46" text-anchor="middle" fill="#1e1e1e" >1750</text>
<text x="1486.3" y="2921.7" font-size="46" text-anchor="middle" fill="#1e1e1e" >2000</text>
<text x="1646" y="2921.7" font-size="46" text-anchor="middle" fill="#1e1e1e" >2250</text>
<text x="1805.7" y="2921.7" font-size="46" text-anchor="middle" fill="#1e1e1e" >2500</text>
<text x="1965.3" y="2921.7" font-size="46" text-anchor="middle" fill="#1e1e1e" >2750</text>
<text x="2125" y="2921.7" font-size="46" text-anchor="middle" fill="#1e1e1e" >3000</text>
<text x="290.5" y="2054.4" font-size="52" text-anchor="start" fill="#1e1e1e" >(c)</text>
<text x="470" y="2133.5" font-size="40" text-anchor="start" fill="#1e1e1e" >Si</text>
<rect x="977" y="2674.5" width="1145.5" height="181.5" fill="none" stroke="#000" stroke-width="4.5"/>
<text x="1006" y="2718.5" font-size="40" text-anchor="start" fill="#1e1e1e" >D-band</text>
<text x="1166" y="2718.5" font-size="40" text-anchor="start" fill="#1e1e1e" >G-band</text>
<path d="M977 2674.5L578 2554M595 2570.9L578 2554M601.5 2549.3L578 2554" stroke="#000" stroke-width="3.5" fill="none"/>
<path d="M2122.5 2674.5L1672 2554M1689.6 2570.4L1672 2554M1695.4 2548.6L1672 2554" stroke="#000" stroke-width="3.5" fill="none"/>
<rect x="576.7" y="1997" width="1093.2" height="555.5" fill="#fff" stroke="#000" stroke-width="4.5"/>
<clipPath id="ci"><rect x="687.4" y="2028.2" width="957.6" height="448.5"/></clipPath>
<g clip-path="url(#ci)"><path transform="scale(.5)" d="M1375 4301l0-8 1 13 0 13 1-12 0 11 1-25 1-32 0 43 1 1 0-26 1 3 0 5 1 23 0-21 1-18 0 47 1-22 0 34 1-14 0 13 1-39 1 23 0-37 1 3 0 7 1 55 0-48 1-12 0-4 1 39 0-26 1 12 0-6 1-44 0 43 1-18 0-22 1 35 1-11 0-6 1 2 0 31 1-59 0-2 1 68 0-56 1 18 0 19 1-61 0 29 1 47 0-29 1-11 1 19 0-20 1-37 0 38 1-17 0 50 1-21 0 16 1-13 0 30 1-14 0-10 1-27 0-6 1 57 1-14 0-35 1 62 0-36 1-10 0-33 1 11 0 24 1-1 0-4 1-43 0 45 1-3 0-16 1 11 0 1 1 22 1-26 0 10 1-38 0 14 1 16 0-15 1 25 0-31 1 26 0-13 1 46 0-37 1 49 0 10 1-39 1 16 0-23 1-48 0 73 1-3 0-18 1-4 0 17 1 2 0-21 1 4 0 38 1-22 0-2 1 26 1-30 0 26 1-43 0 19 1 2 0 16 1-11 0 43 1-20 0-36 1 58 0-70 1 61 0-59 1 37 0-38 1 14 1 40 0-67 1-5 0 36 1 5 0-4 1 19 0-48 1 38 0-12 1 18 0-4 1 15 0 7 1-34 1-27 0 22 1 16 0-9 1 5 0-13 1 9 0-3 1 24 0-13 1-59 0 54 1 8 0-33 1-31 1 72 0-29 1 8 0 25 1 43 0-85 1-4 0 19 1-29 0 23 1-10 0 23 1 118 0-177 1 43 0-19 1 8 1 10 0 1 1-26 0 21 1-3 0-5 1-27 0 12 1 8 0 22 1 20 0-56 1-1 0 26 1-16 1-5 0-2 1-3 0 32 1-47 0 65 1-49 0 8 1-10 0-23 1 9 0 61 1 13 0-59 1 42 1-24 0-20 1 58 0 11 1-55 0 6 1 7 0-7 1 21 0 16 1-31 0 19 1 15 0-51 1 13 0-10 1 33 1-8 0 8 1-3 0-26 1 22 0-26 1-1 0-41 1 80 0-55 1 21 0-2 1 33 0-23 1-30 1 19 0-5 1 8 0-35 1 27 0 50 1-36 0 30 1 29 0-65 1-45 0 30 1 29 0-5 1-49 1 24 0 3 1 2 0-2 1-17 0 6 1 8 0 30 1-36 0 28 1-41 0 57 1-26 0-2 1 31 1-70 0 6 1 45 0-28 1 10 0 71 1-68 0 8 1-3 0 27 1-18 0-1 1-32 0 20 1 8 0-36 1 48 1-4 0 34 1-80 0 14 1 0 0 6 1 13 0-3 1 57 0-49 1-6 0-36 1 23 0 14 1 11 1 0 0-53 1 24 0 11 1 9 0 17 1-25 0-22 1 30 0-5 1-1 0-8 1 40 0-33 1 15 1-41 0 39 1-32 0-23 1 44 0 7 1-19 0 94 1-65 0-34 1-37 0 54 1-2 0 19 1-32 0 38 1-4 1-56 0 52 1-47 0-12 1 30 0-6 1-33 0 50 1 9 0 17 1-66 0-2 1 12 0 45 1-3 1-8 0-20 1 12 0-10 1-2 0 13 1-6 0-5 1 6 0-14 1-32 0 31 1 12 0-20 1 14 1 56 0-12 1-53 0 5 1 21 0 38 1-30 0 8 1-30 0-37 1 49 0 24 1 11 0-26 1 5 0 24 1-29 1 31 0-52 1 2 0 0 1 37 0-23 1 16 0 6 1-1 0 23 1 4 0-53 1 24 0-10 1-20 1 64 0-22 1-23 0-5 1 17 0-34 1 18 0 33 1-8 0-41 1 23 0 39 1-77 0 17 1-18 1 40 0-3 1 19 0-87 1 63 0-43 1 52 0-20 1 43 0-31 1-32 0 52 1-55 0 17 1 33 0-13 1-1 1-9 0 11 1 8 0-12 1 18 0 6 1-29 0-21 1 57 0-35 1 16 0 9 1-42 0 33 1-48 1 54 0-26 1 14 0 13 1-30 0 17 1-17 0 16 1 25 0-23 1-4 0-22 1 44 0-21 1 38 1-56 0 41 1 16 0-41 1-29 0 61 1-10 0-8 1 8 0-36 1 28 0-3 1-25 0 25 1-28 1 34 0 5 1 15 0-88 1 51 0-14 1 6 0-4 1 14 0-55 1 70 0 12 1-13 0 8 1-49 0-3 1 43 1 10 0-23 1-42 0 100 1-79 0 37 1-50 0 50 1-19 0 29 1-12 0-55 1 14 0 29 1 11 1 26 0-34 1-8 0 2 1 1 0 26 1-24 0 1 1-31 0-12 1 49 0 15 1-15 0 15 1 4 1-15 0 24 1-38 0 18 1-8 0 12 1 13 0 6 1-16 0 7 1-18 0 5 1 32 0-35 1 32 0-18 1-9 1 41 0-53 1-2 0 5 1 5 0-3 1 13 0-18 1 5 0-16 1 29 0-36 1 1 0 6 1 6 1-24 0 51 1-51 0 4 1-1 0-3 1 25 0-10 1-20 0 6 1 6 0 42 1-48 0-14 1 4 1 19 0 44 1-58 0 26 1 57 0-67 1 46 0-5 1-14 0-45 1 53 0-27 1-35 0 3 1 41 0 5 1 24 1-12 0-25 1 0 0 7 1-20 0 41 1-16 0-18 1 3 0-11 1 16 0 18 1-16 0 33 1 15 1-51 0 16 1-8 0 48 1-31 0 5 1 7 0 33 1-44 0-29 1 12 0 22 1-14 0-19 1 83 1-63 0-16 1-3 0-25 1 12 0 19 1-1 0-14 1 30 0-13 1-24 0-26 1 48 0-5 1-7 0-29 1 31 1-37 0 55 1-20 0-1 1-24 0-7 1 59 0-15 1-30 0 23 1 20 0-61 1 12 0 0 1 22 1-35 0 30 1-42 0 57 1-2 0-25 1 22 0-33 1-14 0 50 1-23 0 9 1-31 0 36 1-5 1-40 0-25 1 5 0 43 1-5 0-32 1 37 0 44 1-52 0-10 1 28 0 17 1-7 0-51 1 32 0-16 1-10 1-11 0 20 1-20 0 31 1-14 0 15 1-52 0 27 1 17 0-9 1-4 0-21 1 54 0-13 1-16 1-67 0 38 1 26 0-19 1-30 0 55 1 3 0-36 1 19 0-3 1 28 0-56 1 6 0 28 1-3 1 65 0-62 1 19 0-14 1-6 0 25 1 31 0-48 1 25 0-10 1 6 0-6 1 47 0-84 1 23 0-21 1-21 1 46 0 42 1-22 0 7 1-17 0-14 1 49 0-55 1 43 0-43 1 9 0 4 1-5 0 11 1 2 1 25 0-39 1-44 0-4 1 15 0 15 1 32 0-50 1 36 0 0 1 5 0-10 1 13 0-8 1 23 1-16 0-63 1 56 0 4 1-17 0-4 1 43 0-21 1-26 0 16 1 5 0-33 1 53 0-16 1 15 1-46 0 82 1 15 0-48 1-27 0 4 1-18 0 71 1-53 0 25 1 10 0-29 1 35 0 28 1-40 0 27 1-20 1-24 0 1 1-30 0 41 1 60 0-47 1 3 0 7 1-40 0 24 1 31 0-64 1 19 0-13 1 5 1-12 0 13 1-28 0 20 1 0 0 0 1 45 0-30 1 3 0-9 1 38 0-70 1 37 0 32 1 14 1-32 0-2 1 16 0-16 1 20 0-26 1 33 0-14 1-21 0-35 1 88 0-11 1 12 0-35 1 47 0-13 1-9 1 25 0 1 1-9 0-9 1 36 0-22 1-12 0 10 1 38 0-29 1-27 0 7 1 15 0 20 1-35 1 52 0-8 1-7 0-53 1 29 0-21 1 39 0-33 1 38 0-10 1-62 0 40 1 30 0-9 1-9 1-20 0 40 1 30 0-34 1-7 0-2 1-28 0 24 1-12 0 45 1-45 0-28 1 31 0 13 1 3 0-38 1 65 1-18 0-13 1-7 0 29 1-105 0 103 1-8 0 7 1 25 0-26 1-20 0 45 1-16 0-20 1 43 1-29 0 31 1-50 0-28 1 8 0 54 1-21 0 16 1 1 0-33 1 69 0-55 1 28 0-33 1 29 1 34 0-34 1-11 0 17 1-10 0 24 1 38 0-71 1 5 0 13 1 2 0-22 1 35 0 5 1-12 0-32 1 60 1-60 0-41 1 95 0-55 1 32 0 28 1-22 0-31 1-7 0 39 1-18 0-7 1 33 0-23 1 9 1 14 0 0 1-11 0 1 1 16 0-1 1-35 0 91 1-83 0-7 1 17 0-38 1 74 0-37 1 27 1-49 0 5 1 87 0-23 1-37 0-2 1 2 0 19 1-11 0-5 1 17 0-27 1 77 0-69 1 39 1-47 0 27 1 15 0-31 1 29 0 0 1 15 0-37 1-13 0-13 1 28 0-28 1 24 0 2 1-16 0-11 1 34 1-2 0 38 1-45 0 24 1-45 0 35 1-19 0 31 1-26 0 0 1 20 0-56 1 39 0-32 1 20 1 8 0 24 1-20 0 9 1 1 0 7 1 36 0-38 1 46 0-61 1 25 0-2 1-12 0-13 1 40 1 7 0-17 1 22 0-26 1-60 0 61 1-40 0 48 1-40 0 14 1-6 0-15 1-27 0 37 1 1 0 27 1-35 1 19 0-25 1 21 0-42 1 89 0-71 1 3 0 30 1 10 0-12 1 25 0-35 1-55 0 31 1 53 1-6 0-10 1-33 0 44 1-3 0-37 1 0 0 30 1 17 0 11 1-18 0 36 1-69 0 34 1-18 1-38 0 17 1 56 0-46 1-5 0 47 1 7 0-19 1 37 0-71 1 93 0-29 1-18 0 0 1-8 0-1 1 13 1-31 0 77 1-49 0 18 1-20 0-1 1 27 0-5 1-34 0 11 1 24 0-64 1-6 0 88 1-41 1-52 0 39 1 14 0 9 1 7 0-8 1 7 0-31 1 26 0 0 1 17 0-28 1 18 0-18 1-29 1 15 0-4 1 2 0 5 1 3 0 4 1-27 0 42 1-58 0 30 1 18 0-7 1 3 0-143 1 143 0-44 1 44 1 34 0-37 1 30 0-47 1-26 0 9 1 47 0-15 1-67 0 41 1 7 0-25 1-32 0 27 1 26 1-6 0-7 1 28 0 10 1-27 0 23 1-21 0-4 1-53 0 75 1-18 0-19 1 5 0-14 1 36 1 8 0 19 1-17 0-34 1 11 0 26 1-15 0-9 1-10 0 26 1-7 0 38 1-15 0-64 1 91 0-43 1-12 1 15 0 11 1-16 0 0 1 4 0 43 1-40 0 17 1-6 0-17 1-8 0-6 1 34 0-32 1-6 1 2 0-5 1 37 0 0 1-23 0 52 1-37 0 17 1-4 0 31 1-20 0-21 1-22 0-2 1 25 1 2 0 14 1-29 0 14 1-21 0-27 1 41 0 33 1-16 0 14 1-8 0-59 1 24 0 40 1-51 0-15 1 37 1 7 0-9 1-15 0-8 1-14 0-1 1-1 0-4 1 16 0 51 1-2 0-43 1 16 0-31 1 29 1 13 0-56 1 18 0 9 1-16 0-3 1 18 0-34 1 58 0-5 1 13 0-27 1-23 0-14 1 68 1-74 0 58 1 19 0-34 1-3 0 28 1-34 0 31 1 11 0-25 1-13 0 33 1-22 0 10 1-68 1 84 0-49 1 34 0 2 1-19 0-3 1-9 0 22 1 22 0-1 1-24 0-1 1-20 0 24 1-15 0-10 1 32 1 39 0-6 1 7 0-71 1 58 0-48 1 16 0-27 1 18 0 27 1 3 0-6 1-1 0 18 1-11 1-38 0 80 1-45 0 28 1-24 0-15 1 22 0-18 1 29 0-36 1 40 0-28 1 12 0 65 1-42 1-23 0-31 1 30 0 0 1 39 0-67 1-10 0 42 1 5 0 32 1-59 0-44 1 46 0-14 1 16 0 34 1-55 1 59 0-25 1-13 0-16 1 10 0 0 1 26 0 12 1-33 0 17 1 12 0-1 1-19 0 32 1-12 1 6 0-43 1-6 0-38 1 82 0-19 1-37 0 26 1 3 0-48 1 48 0 20 1 5 0-39 1 1 1 40 0-9 1-35 0 0 1 29 0-29 1 2 0 56 1-34 0-17 1 25 0 38 1-43 0-24 1-19 0 89 1-112 1 88 0-48 1-6 0 5 1 20 0 31 1-42 0 31 1 42 0-126 1 49 0-27 1 63 0-57 1-4 1-1 0 36 1 26 0-26 1 47 0-14 1-44 0 24 1-21 0-3 1-49 0 14 1 30 0-30 1 45 1-11 0-29 1 50 0-23 1 24 0-33 1-35 0 57 1-23 0 27 1 7 0 3 1-63 0-20 1 45 0 29 1-32 1 25 0-26 1 13 0 1 1-7 0 29 1-3 0 32 1-31 0 24 1-30 0 19 1-23 0-9 1 45 1-14 0 3 1-39 0-22 1 20 0 124 1-137 0 70 1-71 0 52 1 51 0-128 1 26 0 61 1-27 1 9 0-7 1 38 0-19 1-27 0 6 1-22 0 26 1-54 0 72 1-23 0 51 1-15 0-61 1 53 1-34 0 14 1 23 0-17 1 5 0-1 1-29 0 2 1 29 0 7 1-28 0 10 1-26 0-38 1 43 0 21 1 4 1 17 0 2 1 3 0-13 1 1 0-26 1 28 0-4 1 25 0-67 1 27 0-29 1 24 0-16 1 41 1-22 0-46 1 91 0-56 1-12 0 29 1-7 0-13 1 46 0-26 1 30 0-5 1-2 0-11 1-9 1-8 0 43 1-83 0 18 1 9 0 24 1-8 0-16 1 2 0 49 1-59 0-52 1 113 0-70 1 14 0 11 1-37 1 60 0-33 1-32 0 39 1 5 0-13 1 13 0-48 1 60 0-43 1 51 0-46 1 19 0 60 1-62 1 26 0-14 1-48 0 42 1 22 0-35 1 7 0-34 1 30 0 29 1-20 0-32 1 8 0 22 1-2 1 4 0 12 1-61 0 21 1 52 0-16 1-29 0 1 1 19 0 12 1-17 0 40 1-10 0-51 1 30 0-21 1-20 1 14 0 16 1-51 0 36 1 25 0-27 1 9 0 31 1-22 0 7 1 44 0-42 1 5 0 5 1 30 1-30 0-6 1-2 0 31 1-41 0 46 1-78 0 21 1 49 0-3 1-37 0 37 1-1 0-12 1-19 1 79 0-32 1 4 0 2 1-5 0-1 1-26 0 28 1-24 0-7 1 27 0-22 1-38 0 31 1 23 0-16 1 20 1-29 0-17 1 40 0-17 1-33 0 38 1-19 0 29 1-7 0-9 1-64 0 59 1 2 0 0 1-11 1-21 0 10 1-44 0 41 1-30 0 27 1-9 0 48 1-32 0-1 1 4 0 44 1-71 0 30 1 1 1-4 0-1 1-14 0 40 1-7 0-28 1 5 0 13 1 6 0 7 1-17 0-28 1 54 0-59 1 17 0 33 1-28 1 55 0 8 1-8 0-19 1 0 0 7 1-12 0 55 1-60 0 47 1-16 0-4 1 18 0 7 1-7 1-22 0-13 1 44 0-4 1-5 0 4 1-31 0 58 1-76 0 40 1 7 0-27 1-17 0 16 1-17 1 21 0-27 1 0 0 30 1-38 0 29 1 1 0 23 1-16 0-26 1 48 0-46 1 7 0 1 1 58 0-50 1-18 1 32 0-20 1 59 0-73 1 32 0-36 1 64 0-61 1 21 0-24 1 41 0-7 1-67 0 73 1-2 1-10 0 17 1-52 0-13 1 58 0 24 1-69 0 1 1 6 0-8 1 48 0-17 1 29 0 1 1-71 1 53 0-70 1 51 0 16 1-34 0-24 1 32 0 40 1-38 0-24 1 43 0 7 1-43 0 20 1 30 1-18 0 9 1-25 0 5 1-24 0 9 1 53 0-46 1-11 0 11 1-14 0 38 1 10 0-44 1 48 0 26 1-75 1 42 0-9 1 27 0 0 1-3 0-18 1-16 0 64 1-71 0 47 1-2 0-39 1 18 0 36 1-78 1 64 0-24 1 2 0-27 1 45 0-34 1 42 0-43 1 45 0-9 1-54 0 39 1 5 0-104 1 99 1 28 0-37 1 46 0-55 1-1 0 42 1 1 0-31 1 16 0 23 1-37 0 78 1-55 0-2 1-3 0-15 1 35 1-43 0 17 1 11 0 15 1-5 0-36 1 30 0-25 1-24 0 0 1-14 0 43 1 18 0-51 1 16 1-20 0 25 1-28 0 7 1 2 0 5 1 2 0 4 1 0 0-18 1 35 0-54 1 44 0-26 1 26 1 3 0-53 1 55 0 23 1-13 0-9 1-58 0 46 1-17 0 46 1-32 0-7 1-26 0 58 1-31 0 7 1 31 1-23 0 6 1 48 0-69 1 1 0 23 1 21 0-67 1 28 0-18 1-10 0 45 1-31 0 25 1-4 1-1 0-2 1-26 0 23 1 7 0 3 1-14 0 29 1-10 0-10 1 12 0-10 1 12 0-60 1 16 1 81 0-48 1-53 0 44 1 10 0-9 1 1 0-27 1 35 0-50 1 71 0-37 1 41 0-67 1 52 0-6 1-22 1-7 0 56 1-18 0 25 1-35 0 6 1 7 0 8 1-6 0 9 1-29 0-23 1 82 0-42 1 8 1-22 0 35 1-18 0 21 1-40 0 14 1 7 0-12 1 14 0 69 1-87 0 7 1 10 0-26 1-6 1 55 0-7 1-55 0 5 1 51 0 11 1-12 0-3 1 26 0-37 1 31 0-1 1-49 0 38 1-13 1-16 0-4 1 27 0-8 1 20 0-60 1 26 0 41 1-26 0-17 1 5 0-33 1 10 0 44 1-12 0 27 1-37 1 1 0-62 1 60 0 51 1-35 0-20 1 30 0-11 1-13 0-18 1 11 0 16 1-40 0 32 1-1 1 21 0-15 1-33 0 54 1-36 0-18 1 27 0-14 1 33 0-56 1 6 0 22 1 47 0-15 1-47 1-17 0 35 1-22 0 44 1-9 0-4 1-10 0 46 1-58 0-9 1 58 0 5 1-40 0 24 1 40 0-75 1 14 1 15 0-61 1 46 0 21 1-20 0 28 1-6 0-26 1 23 0-1 1-49 0 19 1 2 0 7 1 2 1-23 0 36 1-43 0 67 1-16 0 27 1-24 0-20 1-23 0 51 1-15 0 8 1 8 0 10 1-30 1 41 0-44 1 1 0 15 1 7 0 7 1-79 0 74 1-70 0 21 1 21 0 89 1-127 0-18 1 60 0-17 1-33 1 15 0-41 1 59 0-29 1 40 0-80 1 65 0 32 1-50 0-1 1-49 0 53 1-9 0-15 1-24 1-23 0 34 1 12 0 18 1-9 0 1 1 22 0-50 1 62 0-60 1 6 0 25 1 16 0-12 1-15 1-6 0 11 1-15 0 37 1-17 0 44 1-52 0 15 1 15 0-35 1 12 0 84 1-74 0 45 1-59 0-32 1 72 1-14 0 9 1-13 0-6 1-14 0 54 1-59 0 59 1-28 0-21 1 11 0 38 1-5 0-5 1-10 1-28 0 57 1-41 0-4 1 0 0 3 1-25 0 24 1-9 0 7 1-29 0 86 1-5 0-34 1 1 1 17 0 21 1-35 0 7 1-27 0 46 1-68 0 27 1 12 0 12 1 1 0 8 1-12 0-13 1 4 0 31 1-27 1 16 0-24 1-41 0 30 1 23 0 31 1-5 0 8 1-58 0 36 1-19 0 16 1-17 0-30 1 49 1-9 0 11 1-39 0 45 1 3 0 6 1 1 0-45 1-50 0 158 1-121 0 16 1 32 0-19 1-1 1 11 0-62 1 90 0 139 1-191 0 22 1-17 0-17 1 18 0-5 1-6 0 65 1-81 0-19 1 31 0 0 1 58 1-29 0 16 1-5 0-37 1 43 0-16 1 41 0-41 1-7 0 19 1 0 0-62 1 73 0-4 1-7 1-48 0-23 1 41 0 23 1-7 0-37 1 46 0-57 1 0 0 30 1-14 0-4 1-93 0 135 1-54 1 36 0 8 1-21 0 8 1 17 0 14 1-16 0-56 1-12 0 31 1-13 0 39 1-10 0-9 1 32 1-2 0-26 1 10 0 17 1-34 0 16 1-31 0 25 1 6 0-10 1 7 0 12 1-6 0-27 1 2 0-15 1 70 1-31 0 0 1-13 0 15 1 1 0-30 1 13 0 31 1-59 0 8 1 36 0-33 1 37 0-44 1 31 1 13 0-82 1 81 0-23 1 0 0 3 1 15 0 73 1-3 0-38 1-50 0-21 1 21 0 17 1-5 1 0 0 11 1 2 0 9 1-48 0 29 1-22 0 30 1-6 0 7 1-14 0-7 1 15 0 22 1 4 0-56 1 46 1 1 0-41 1 10 0 14 1 23 0-65 1 47 0-4 1 18 0 29 1-3 0-40 1 0 0 14 1 21 1 6 0-26 1 25 0-55 1-7 0-40 1 45 0 34 1 6 0 100 1-109 0-11 1-28 0 8 1-1 1 8 0-11 1-20 0 58 1-16 0 21 1-71 0 6 1 12 0 44 1-34 0 8 1-8 0 5 1-17 0 21 1-31 1 15 0 11 1-5 0 7 1-30 0 25 1-14 0 16 1 26 0-57 1 46 0-40 1 6 0 49 1-16 1-10 0 7 1 9 0-45 1 24 0-15 1 19 0-17 1 25 0-16 1-14 0 13 1 12 0 15 1-29 1-4 0 14 1 12 0-30 1-46 0 66 1-15 0-1 1 69 0-62 1 20 0-49 1 39 0 13 1-14 0-8 1 17 1-12 0 32 1-26 0-23 1-27 0 29 1 11 0-21 1 5 0-15 1 14 0 29 1-8 0 2 1-2 1 2 0 22 1 32 0-33 1 31 0-63 1 17 0 39 1-55 0-4 1 17 0-37 1-5 0 72 1-53 1 13 0 0 1-12 0 38 1-2 0 5 1-2 0-16 1 32 0-9 1-38 0 14 1-10 0 53 1-25 1-7 0-13 1 15 0-35 1 23 0-1 1 0 0-16 1 28 0-37 1 16 0 7 1 3 0-11 1-12 0 3 1 14 1-11 0 17 1-25 0 31 1 47 0-79 1 30 0 29 1-24 0 16 1-70 0 37 1 49 0-50 1 22 1-55 0 70 1 28 0-54 1 10 0 1 1 40 0-61 1-30 0 83 1-73 0 41 1-70 0 45 1 14 1-31 0 13 1 27 0-31 1 28 0 29 1-90 0 57 1 6 0-22 1 44 0-4 1-20 0 1 1-12 0-24 1 39 1-22 0-2 1 41 0-29 1 28 0-46 1 17 0 12 1 33 0-32 1 23 0-34 1 21 0 18 1-41 1 7 0 31 1-40 0 34 1 1 0-10 1 20 0-7 1-7 0-40 1 1 0 40 1-44 0 38 1-11 1-13 0 13 1-51 0 50 1 33 0-60 1 39 0-3 1 63 0-95 1 4 0 21 1-26 0-17 1 41 0-23 1 40 1-9 0-33 1 16 0 42 1-39 0 13 1 17 0-29 1 20 0 28 1-10 0-67 1 78 0-39 1-9 1 0 0 45 1-21 0-10 1-15 0 34 1 12 0-51 1-2 0 16 1 23 0-24 1 6 0-18 1 48 1-33 0 6 1 22 0-32 1 4 0 9 1-19 0 41 1-34 0-13 1 3 0-20 1 53 0 6 1-42 0-6 1-40 1 34 0 34 1-39 0 38 1 14 0-97 1 54 0-9 1 3 0-29 1 37 0-23 1 53 0 9 1-17 1-50 0 23 1 7 0 2 1 21 0-52 1 21 0 4 1 4 0-15 1 14 0-5 1 45 0-38 1-40 1 65 0-10 1-23 0-2 1 8 0 53 1-50 0 40 1-9 0-32 1 20 0-26 1-56 0 55 1 1 0 38 1-6 1 37 0-41 1 12 0-11 1-11 0 18 1 10 0-1 1-43 0 9 1-23 0-1 1 32 0-24 1 49 1-88 0 26 1 33 0 22 1-36 0 53 1-26 0-35 1 15 0 13 1-34 0 47 1-32 0 19 1 8 1-31 0 33 1-57 0 47 1-61 0 73 1-40 0 41 1 3 0-35 1-11 0 46 1-58 0 47 1-22 0-6 1-4 1 56 0-79 1 26 0 24 1 14 0 17 1-7 0-44 1 21 0 19 1-13 0-48 1 47 0 7 1-46 1 22 0 11 1 16 0 22 1 23 0-47 1-5 0-13 1-5 0 7 1 1 0 29 1 26 0-39 1 9 1-7 0-10 1 22 0-3 1-24 0-7 1 18 0-29 1 15 0 19 1-26 0-44 1 59 0-44 1-5 1-4 0 54 1-67 0 44 1 8 0-1 1-19 0 12 1 5 0-34 1 47 0 8 1-44 0 2 1-10 0 50 1-50 1 14 0-30 1 70 0-35 1 11 0 31 1-22 0-44 1 36 0 5 1-38 0-3 1-15 0 55 1-18 1-26 0 39 1 2 0-38 1-18 0 64 1 33 0-27 1-9 0-20 1-18 0 18 1 14 0-20 1 27 1-21 0 15 1-77 0 45 1 40 0 5 1-12 0 29 1-21 0 1 1-38 0 31 1 9 0 14 1-4 0-26 1 3 1-32 0 41 1-41 0 18 1 6 0 47 1-18 0-49 1-16 0 27 1-14 0 27 1-2 0 6 1-40 1 13 0 14 1 1 0-21 1 5 0 26 1-60 0 34 1 6 0-34 1 10 0 26 1-14 0 49 1-22 1 39 0-81 1 73 0-60 1 36 0 4 1-19 0-10 1-7 0-26 1 34 0-12 1 36 0-30 1 13 0 15 1-7 1-1 0-5 1-4 0 21 1 7 0-35 1 58 0-25 1-51 0 101 1-46 0-32 1 55 0-100 1 123 1-94 0-3 1 16 0 27 1-14 0 30 1-40 0 45 1-19 0-30 1 50 0-18 1-12 0 36 1-59 1 21 0 43 1-35 0 17 1-1 0-18 1 19 0-39 1 40 0-39 1 24 0-22 1 33 0 0 1 15 0-41 1-8 1-27 0 20 1 25 0 10 1-15 0 10 1-36 0 12 1 41 0-4 1-49 0 25 1 11 0-34 1 36 1-3 0 3 1 33 0-68 1 48 0-16 1 3 0-36 1 18 0-4 1 39 0-39 1 31 0-43 1-3 1 8 0-49 1 34 0-1 1 10 0 6 1-28 0-3 1 56 0-56 1 13 0-10 1 12 0 40 1-1 1-71 0 37 1 41 0-41 1 17 0 35 1 12 0-15 1-43 0 10 1 6 0-11 1-6 0 65 1-41 0 14 1 11 1-15 0-8 1 5 0 30 1-21 0-59 1 73 0 16 1-46 0 37 1-40 0 38 1-49 0 43 1 8 1-12 0-12 1-20 0 2 1 15 0-23 1 19 0-20 1 53 0 3 1-56 0 50 1-28 0-5 1 9 1-2 0-44 1 92 0-81 1-34 0 53 1 1 0-17 1-26 0 71 1-30 0 6 1-18 0 10 1-11 0 26 1-11 1 17 0 0 1-11 0 1 1 25 0-64 1 39 0 29 1-58 0 43 1-30 0 12 1-8 0 2 1 16 1-16 0-47 1 99 0-55 1-9 0 34 1 6 0-84 1 59 0-58 1 35 0 10 1-9 0-8 1-10 1 18 0 6 1 0 0-27 1 13 0 44 1-8 0-22 1 24 0 91 1-81 0-15 1-102 0 75 1 25 0-47 1 52 1-76 0 53 1 115 0-76 1 56 0-60 1-10 0-40 1 79 0-76 1 52 0-23 1 77 0-63 1 12 1-24 0 14 1 29 0-51 1 6 0 2 1-10 0-4 1 27 0 30 1 0 0-65 1 15 0 13 1 11 1-12 0 0 1 6 0 9 1-69 0 45 1 19 0 15 1-15 0-35 1-1 0 23 1-8 0 9 1 18 0-57 1 21 1-50 0 76 1-15 0-24 1 27 0 27 1-10 0-24 1-4 0 10 1-25 0 1 1 17 0 7 1 7 1-18 0-9 1 21 0-8 1 19 0 27 1-10 0-41 1 8 0-26 1 36 0-19 1-11 0 8 1 37 1-9 0-7 1 25 0-35 1-12 0 35 1-59 0 53 1-2 0 0 1 12 0-28 1 9 0-38 1 25 0 1 1 18 1 28 0-31 1 18 0-42 1 24 0-40 1 21 0-1 1 14 0 1 1-10 0-6 1 39 0-29 1-49 1 64 0 4 1 10 0 18 1-62 0 26 1-6 0-36 1-16 0 80 1-45 0 9 1 5 0-2 1 13 1-39 0 22 1 6 0-21 1 8 0 10 1 3 0-34 1 30 0 14 1 18 0-11 1 16 0-27 1-3 0 55 1-49 1-14 0 11 1 27 0-52 1 46 0 13 1-4 0-24 1-23 0-5 1 22 0 34 1-12 0 5 1-17 1 38 0-45 1-13 0 19 1-15 0 33 1 12 0-19 1-43 0 3 1 36 0-40 1 36 0-43 1 25 1 22 0-52 1 60 0 5 1 13 0-40 1 7 0 2 1 8 0-42 1 44 0 8 1-46 0-3 1 25 1 49 0-26 1-29 0 15 1-36 0 69 1-48 0 30 1-46 0 33 1-27 0 40 1 17 0-8 1-12 0 8 1-52 1-4 0 25 1 31 0-22 1 12 0-51 1 27 0-4 1 21 0 37 1-29 0 9 1-35 0 7 1 21 1-9 0-45 1 60 0 0 1-16 0 12 1-6 0-22 1-28 0 83 1-42 0-1 1 2 0 3 1 4 1-32 0 35 1-34 0 23 1-3 0 6 1-28 0 23 1-5 0 5 1 21 0-4 1 5 0-31 1 21 0 9 1-32 1-7 0 52 1-81 0 39 1 3 0-28 1 24 0 15 1-66 0 76 1-23 0-22 1 44 0-23 1-12 1-47 0 78 1-20 0-16 1 13 0 31 1-38 0 8 1-7 0-16 1 4 0 16 1 4 0 34 1-21 1-8 0 16 1-12 0 23 1-54 0-14 1 60 0-18 1 17 0-35 1 20 0 10 1 8 0-9 1 27 0-40 1 32 1-30 0 10 1-24 0 26 1-26 0 45 1-38 0 18 1-11 0 1 1-22 0 69 1-56 0 42 1-65 1 74 0-23 1 15 0-79 1 68 0-34 1 16 0 29 1-34 0-24 1 20 0-26 1 31 0-9 1 10 1-16 0-37 1 37 0 4 1 20 0 4 1-51 0 62 1-5 0-18 1 7 0-55 1 102 0-64 1-7 0 44 1-10 1-24 0-28 1 61 0 16 1-59 0-13 1 44 0 45 1-86 0 40 1-30 0 28 1 7 0 2 1-45 1 1 0 84 1-28 0-64 1 50 0 23 1-32 0 1 1-1 0 9 1-4 0 2 1-20 0 26 1-13 1-4 0-35 1 20 0 11 1-16 0 2 1-16 0 12 1-30 0 10 1 32 0 8 1-30 0 8 1 14 1 34 0 8 1-51 0-10 1-1 0 49 1-54 0 38 1-21 0 0 1 29 0-4 1 36 0-27 1 21 0-53 1 9 1-20 0 13 1 23 0-23 1 18 0-24 1 7 0 31 1-24 0 0 1 8 0-28 1-20 0 49 1-1 1 45 0-50 1 7 0 41 1-57 0-6 1 31 0-9 1 14 0-40 1 53 0-27 1-53 0 46 1-10 1 15 0 25 1-27 0-10 1 35 0-31 1-21 0 4 1 63 0-13 1 15 0-62 1 11 0-1 1 37 0 7 1-29 1 1 0 23 1-23 0-12 1 10 0 30 1 26 0-44 1-9 0 10 1 4 0 7 1-33 0 18 1-3 1 27 0-7 1-36 0 45 1 7 0-22 1-36 0 25 1-30 0 39 1 4 0 26 1-18 0-124 1 103 1-10 0 1 1 17 0 4 1-7 0-13 1 5 0-1 1 7 0 22 1-13 0 15 1-46 0 73 1-45 0-62 1 64 1 18 0-27 1-32 0 33 1 47 0-53 1 11 0-84 1 72 0 14 1-1 0-21 1-1 0-9 1 15" fill="none" stroke="#000000" stroke-width="2.2" stroke-linejoin="round"/></g>
<g clip-path="url(#ci)"><path transform="scale(.5)" d="M1375 4425l0-7 1 2 0-21 1 43 0-46 1 17 1-39 0-1 1-9 0 13 1 19 0-20 1-14 0 45 1-26 0 13 1-31 0 49 1-11 0-14 1 1 1 41 0-43 1 10 0 3 1-1 0-8 1 43 0-72 1 53 0 30 1-46 0-32 1 42 0-43 1-1 0 51 1 34 1-28 0-52 1 42 0 14 1-4 0-30 1 0 0-20 1-4 0 40 1-17 0 20 1-27 0 25 1 0 1-72 0 44 1-15 0-41 1 37 0 19 1-5 0 17 1-39 0 30 1-45 0 45 1-1 0 2 1-23 1 10 0-25 1 41 0-17 1-34 0 47 1-18 0-20 1 22 0 25 1 31 0-95 1 42 0-18 1 39 0-49 1 29 1 10 0 21 1-26 0 18 1-4 0 29 1-23 0-13 1 30 0-28 1-12 0 21 1 8 0 0 1-34 1 53 0-25 1 3 0-12 1 3 0 22 1-67 0 40 1 32 0-10 1-21 0-11 1 42 0-45 1 44 1-13 0-34 1-19 0 38 1 4 0-34 1 50 0-29 1 2 0-17 1 16 0 12 1-18 0 39 1-41 0 33 1 6 1-10 0-10 1-13 0 21 1-20 0-4 1 24 0 19 1-40 0 13 1 52 0-24 1-24 0 31 1-15 1 21 0-44 1 3 0 0 1-28 0 37 1-2 0-51 1 69 0-45 1 42 0-35 1-41 0 37 1 20 1-69 0 61 1-9 0-13 1 33 0-54 1-11 0 18 1 8 0 10 1-23 0 85 1-64 0-9 1 48 0-52 1 13 1-1 0-3 1-9 0 4 1 31 0-18 1 3 0-4 1 15 0-32 1-5 0-4 1-7 0 9 1 42 1 4 0-4 1-20 0 14 1-25 0-14 1 44 0-29 1 29 0 19 1-1 0-21 1 32 0-52 1-22 1 57 0-19 1-41 0 24 1 2 0 9 1-28 0 14 1 28 0 27 1 5 0-71 1 18 0-36 1 20 0 38 1-35 1-20 0 44 1-9 0-48 1 74 0-14 1-45 0 17 1 27 0 6 1-42 0-17 1 8 0 8 1-24 1 24 0 25 1-61 0 68 1-23 0-3 1-32 0 45 1-12 0 32 1-47 0-3 1-5 0 34 1-25 1 23 0-9 1-9 0-28 1 37 0-13 1 22 0-6 1 3 0-12 1-19 0 41 1-38 0 36 1-27 1 20 0-5 1 3 0-31 1 72 0-69 1 31 0-1 1-40 0 69 1-16 0-14 1-42 0 53 1-29 0-17 1 39 1-1 0-39 1 48 0 10 1-40 0 28 1-37 0 17 1 50 0-42 1 6 0 14 1-37 0 62 1-10 1-16 0-27 1 51 0-20 1 2 0 18 1-22 0 16 1-14 0 17 1-7 0 0 1 2 0-3 1 14 1 34 0-70 1 21 0-90 1 88 0-27 1 40 0-27 1 5 0-11 1-30 0 32 1 21 0-29 1 23 0-19 1-38 1 13 0-3 1 12 0 68 1-24 0-22 1 2 0-26 1-6 0 12 1 27 0-57 1 11 0 36 1-8 1-8 0 12 1 5 0-12 1 11 0-3 1 40 0 0 1-71 0 70 1-42 0 4 1 3 0 19 1-35 1 14 0 15 1 23 0-25 1 7 0 14 1-35 0-5 1-35 0 44 1 8 0-30 1 7 0-35 1 37 0 31 1-42 1-30 0 43 1 9 0 7 1-54 0 44 1 0 0-12 1 35 0-25 1 20 0-24 1-14 0-10 1 28 1-27 0 26 1 26 0-47 1 17 0-7 1 59 0-59 1-1 0 1 1-15 0 31 1-52 0 32 1 5 1 66 0-11 1-73 0 24 1-10 0 29 1-5 0-14 1 30 0-45 1 52 0-27 1 11 0-14 1-18 0 51 1-34 1 7 0-16 1 17 0 9 1-22 0-18 1 10 0 14 1-7 0 41 1-22 0-6 1 5 0 3 1-15 1-9 0-33 1 56 0 5 1-41 0 18 1 22 0-51 1 37 0 2 1 6 0 7 1-22 0 22 1-72 1 45 0 12 1 12 0-23 1-15 0 17 1 29 0-20 1 32 0-68 1 17 0 9 1-2 0 18 1-9 1-24 0 21 1-14 0 8 1 0 0-1 1-15 0 29 1-20 0 31 1-4 0 2 1-32 0 25 1-31 0 48 1-29 1 33 0-88 1 80 0-23 1 25 0 1 1-20 0 43 1-11 0-58 1 51 0-34 1 36 0 17 1-25 1-28 0 20 1 5 0-24 1 34 0-31 1 8 0 28 1-41 0-5 1 29 0-8 1 9 0 17 1-40 1 38 0-32 1 22 0 11 1-35 0 8 1-35 0 41 1-5 0 0 1 8 0-33 1-5 0 18 1 35 0-32 1 8 1 11 0 24 1-53 0-7 1-56 0 72 1-28 0-4 1 36 0 66 1-76 0 11 1-12 0 26 1 10 1-33 0 17 1-9 0-6 1 7 0 32 1-43 0 22 1-6 0-15 1 39 0-26 1 33 0-29 1-20 1 10 0 2 1-19 0 19 1 25 0-57 1 17 0-13 1 24 0 0 1 5 0 24 1-31 0 2 1-47 0 74 1-40 1 5 0-3 1 2 0-8 1-13 0 53 1-53 0 23 1 16 0 18 1 0 0-36 1 23 0 1 1-13 1-11 0 11 1 15 0-12 1-10 0 18 1-42 0-7 1-1 0 34 1 0 0 12 1-49 0 39 1-58 1 91 0-49 1-7 0 11 1-13 0-28 1 42 0-18 1 27 0 18 1-4 0-39 1 11 0 38 1-38 0-5 1 3 1-14 0 55 1-10 0 3 1-26 0-25 1 38 0-17 1-11 0 29 1-27 0 19 1-41 0 7 1 38 1 1 0-53 1 57 0-45 1 33 0 16 1-62 0 26 1 30 0-18 1 10 0 5 1-20 0-27 1 53 1-41 0 41 1-31 0 30 1-3 0-15 1-36 0 2 1 22 0 4 1-10 0-56 1 53 0 10 1 8 0-3 1-19 1 1 0 65 1-95 0 35 1 12 0-59 1 90 0-6 1-50 0 24 1-19 0-8 1-13 0 25 1 27 1 21 0-38 1 39 0-39 1 17 0-25 1-8 0 14 1 28 0-33 1 17 0-23 1 16 0-61 1 61 1 29 0-23 1-22 0-58 1 30 0 42 1 76 0-65 1 5 0-52 1 11 0 24 1 0 0-26 1-5 0 32 1 19 1-55 0 34 1 23 0-37 1 38 0-61 1 30 0-16 1 34 0-38 1 43 0-47 1 9 0 36 1-20 1-49 0 59 1 12 0-29 1-10 0-14 1 20 0 7 1-5 0-22 1 19 0-26 1 60 0-30 1-6 1-25 0 12 1 5 0-19 1 20 0-65 1 86 0-23 1-37 0 23 1 10 0-14 1 31 0-12 1-1 1-38 0 35 1-37 0 45 1-6 0 43 1-49 0 57 1-55 0-7 1 13 0 33 1-16 0 53 1-40 0-20 1 7 1 10 0-35 1 22 0 9 1-3 0 29 1-18 0 40 1 19 0-95 1 20 0 45 1-31 0 47 1-36 1-15 0 16 1 32 0-42 1-2 0 3 1-37 0 87 1-40 0-22 1 56 0-9 1-43 0 31 1 10 1-27 0 40 1-32 0 25 1-8 0 45 1-71 0 35 1-16 0 10 1-19 0-25 1 14 0 34 1-20 0 11 1-16 1 31 0-49 1 49 0 7 1-28 0-27 1 85 0-49 1-11 0-43 1 91 0-55 1 42 0-7 1-26 1 21 0 31 1-23 0 5 1-10 0 25 1-4 0-6 1-6 0 5 1-11 0-4 1 8 0 22 1 21 1-14 0-3 1-9 0-24 1 22 0 19 1 9 0-26 1 4 0 17 1 12 0-27 1-16 0 3 1 36 0-22 1-5 1 18 0-18 1-50 0 150 1-87 0-48 1 13 0 14 1 3 0-23 1 38 0-15 1 15 0-37 1 41 1 1 0 53 1-59 0 16 1-17 0 45 1-10 0-44 1 46 0-18 1-13 0 20 1 2 0-22 1 39 1-22 0 18 1 20 0-24 1-26 0 32 1 11 0-10 1 6 0-22 1 32 0-42 1 9 0-18 1 34 0-31 1 40 1-37 0 16 1 16 0-44 1-16 0-10 1 27 0 14 1-38 0 51 1-25 0 34 1-36 0-2 1 14 1-30 0 25 1-12 0-1 1 16 0 53 1-43 0-10 1 60 0-53 1 36 0-43 1 4 0 6 1 21 1-14 0 76 1-48 0-25 1 25 0-7 1-3 0-23 1 38 0-2 1 3 0 19 1-39 0 48 1-27 1-46 0 27 1 46 0-28 1-58 0 39 1-46 0 51 1 38 0-58 1 9 0-12 1 27 0 1 1-11 0 11 1-41 1-5 0 30 1-23 0 36 1-7 0 31 1-61 0 40 1-37 0 3 1 17 0 8 1 28 0-39 1 8 1-8 0 18 1 35 0 0 1-43 0-13 1 43 0-3 1-7 0 4 1-2 0 13 1-9 0 17 1-11 1-16 0 13 1 15 0-20 1 29 0-36 1 35 0-28 1-8 0 20 1 10 0-31 1 4 0 37 1-56 0-1 1 23 1-6 0-1 1 5 0-22 1 23 0-11 1-11 0 37 1-27 0 15 1-18 0 0 1-9 0-8 1 23 1-27 0-71 1 57 0 21 1-18 0 57 1-70 0 36 1-14 0 6 1 5 0 11 1 34 0-68 1-12 1 54 0-40 1 10 0 13 1 11 0-14 1 28 0-6 1 6 0 5 1-3 0-24 1 0 0 33 1-15 0 4 1 34 1-60 0 48 1-47 0 75 1-33 0-32 1 8 0-1 1 12 0-44 1 43 0-5 1 22 0 3 1-46 1 0 0 69 1-28 0-39 1 24 0-19 1 60 0-43 1 3 0-3 1 15 0-14 1-40 0 185 1-148 1 6 0-2 1-45 0 5 1 41 0-20 1 29 0-24 1 14 0-40 1 22 0 32 1 17 0-14 1-69 0 66 1 10 1-16 0-4 1-23 0 30 1-52 0 36 1-7 0-25 1 27 0-4 1-6 0 29 1-4 0-27 1 32 1-6 0-33 1 7 0 5 1 31 0-68 1 45 0 4 1-4 0 15 1-12 0-49 1 75 0-80 1 69 1 0 0-50 1-12 0 51 1-26 0 34 1-8 0 9 1-18 0 18 1-16 0 10 1-6 0-1 1 16 0-5 1 17 1-34 0-5 1 24 0-1 1 7 0-2 1-12 0 40 1-5 0-31 1-18 0 35 1-32 0-3 1 17 1-45 0 49 1-4 0 28 1-2 0-24 1-10 0 19 1-4 0-3 1-14 0 53 1-54 0 36 1-29 1-7 0 47 1-54 0 23 1 13 0-49 1 65 0 6 1-37 0-5 1 12 0-17 1 63 0-72 1 16 0 26 1 2 1-37 0 0 1 23 0-17 1 0 0-23 1 41 0-43 1 18 0-1 1-11 0 20 1 74 0-51 1-58 1 58 0-60 1 37 0-39 1 41 0-27 1 1 0-13 1 25 0-19 1-24 0 63 1-52 0 45 1-43 1 28 0-38 1 37 0 5 1-32 0 27 1 0 0-24 1-10 0 13 1 60 0-47 1 3 0-12 1-3 1 2 0 12 1-32 0 47 1 12 0 14 1-18 0-24 1 17 0-29 1 31 0 12 1-42 0 37 1-28 0 73 1-20 1-17 0 11 1-27 0 4 1-3 0 23 1 0 0-6 1-45 0 37 1-25 0 36 1 13 0-33 1-18 1 55 0-24 1-33 0 27 1 0 0-23 1 13 0 0 1 14 0-17 1 15 0-41 1 94 0-68 1-13 1 37 0-34 1 28 0-30 1-20 0 41 1-52 0 48 1 51 0 8 1-61 0-3 1 5 0-23 1 29 0-32 1 22 1 10 0-40 1 67 0 13 1-25 0 40 1-63 0 18 1-50 0 66 1 6 0-82 1 44 0-1 1 27 1 0 0-24 1 15 0-15 1-12 0 29 1-19 0 53 1-75 0 1 1 28 0 7 1-9 0-3 1 6 1 11 0-21 1-21 0 66 1-30 0 6 1 7 0-23 1 46 0-37 1-27 0-1 1 5 0 8 1-9 0 14 1-7 1-4 0-16 1 10 0 4 1 51 0-37 1 3 0 15 1 10 0-36 1 12 0 8 1 103 0-93 1-6 1-17 0-30 1 29 0 46 1-52 0-2 1 30 0 5 1-30 0-17 1 6 0-26 1 35 0-4 1 17 1-40 0 16 1-8 0 59 1-11 0-46 1-7 0 22 1-3 0-21 1 32 0-17 1 21 0-8 1-31 0 55 1-20 1 37 0-59 1 3 0-57 1 70 0-14 1-17 0 9 1 21 0-32 1 86 0-68 1 27 0 1 1 6 1-29 0 29 1-25 0-33 1 53 0-17 1 14 0 16 1-39 0-14 1 40 0-16 1 4 0 13 1-33 1 61 0-75 1 43 0-51 1 26 0 12 1 33 0-7 1-43 0 29 1-36 0 46 1-50 0 22 1-11 1 28 0-11 1-19 0 6 1 23 0-26 1 36 0-75 1 31 0 23 1-4 0 15 1-24 0 61 1-58 0-36 1 81 1-47 0 16 1-8 0 22 1-45 0 49 1-47 0-1 1 19 0-7 1 55 0-27 1 41 0-66 1-11 1 58 0-35 1 10 0 36 1-33 0-9 1-18 0 24 1-15 0-65 1 55 0 42 1-28 0-25 1-23 1 43 0-8 1 5 0-25 1 24 0-3 1 43 0-14 1 26 0-15 1-26 0-17 1 0 0 12 1-37 0 74 1-29 1-34 0 23 1 3 0-18 1 35 0-1 1-8 0-50 1 66 0-16 1-64 0 39 1 12 0 33 1-45 1 3 0-23 1 37 0-5 1-34 0 38 1-57 0 38 1-14 0 20 1-49 0 49 1-41 0 40 1-20 1 28 0-35 1-16 0 46 1-38 0 27 1 19 0-20 1 18 0-12 1 18 0 26 1-59 0 24 1 15 0-19 1 45 1-23 0-17 1-12 0 27 1-13 0 58 1-35 0-18 1-10 0 56 1-58 0-18 1 49 0 41 1-51 1 1 0 24 1-39 0-9 1 60 0 1 1-29 0-20 1 53 0-11 1-12 0 11 1-13 0-28 1 41 1-35 0 15 1 6 0 24 1-35 0-7 1 30 0-37 1-2 0 17 1 22 0-17 1-22 0 0 1 22 0 4 1-20 1 2 0-8 1 47 0-21 1-21 0 36 1-18 0 17 1-36 0-8 1 40 0-63 1 32 0 25 1-18 1 22 0-32 1 27 0 16 1-16 0 22 1 22 0-17 1-43 0 25 1-21 0 20 1-9 0-7 1-12 1 39 0-2 1-19 0-32 1 28 0 11 1 1 0 1 1 9 0-32 1-22 0 36 1 37 0 8 1-82 0 95 1-104 1 39 0 13 1-21 0 16 1-37 0 45 1-19 0 17 1-23 0-6 1 44 0 7 1-57 0 4 1 7 1 25 0 9 1-3 0-22 1 21 0 2 1-28 0-27 1-5 0 37 1-17 0 15 1 4 0 10 1 13 1 0 0-16 1-25 0 61 1-16 0 12 1-39 0-37 1 42 0 39 1-40 0-32 1 60 0 31 1-6 0-53 1 51 1-76 0 85 1-49 0 25 1-48 0 11 1-6 0-2 1 34 0-20 1 23 0-12 1-12 0 14 1 22 1-1 0-3 1-1 0 2 1-55 0 12 1 12 0-24 1 20 0 22 1-35 0 14 1 56 0-95 1 51 1 34 0-69 1 25 0-2 1-29 0 10 1 10 0 1 1 0 0 3 1 25 0-55 1 22 0 1 1-20 1 30 0-8 1-25 0 19 1 19 0-2 1-86 0 75 1-60 0 65 1-23 0 18 1 17 0-17 1-51 0 63 1 7 1-29 0 32 1-2 0 15 1-51 0 8 1 68 0-66 1 23 0-3 1 15 0-20 1-8 0 31 1-17 1 2 0 18 1-4 0-9 1-21 0 33 1-16 0-8 1-21 0 62 1-36 0 10 1 6 0 3 1-52 1 15 0 28 1-8 0 4 1 4 0-23 1 28 0-26 1 47 0-36 1 8 0 11 1-21 0 7 1 10 0-35 1 32 1 1 0 9 1-182 0 150 1 72 0-31 1-27 0-11 1 10 0 13 1-33 0 43 1-12 0 3 1-1 1 24 0-13 1-20 0-6 1 5 0 9 1 17 0-19 1 17 0-4 1-5 0 29 1-28 0-11 1 59 1-28 0 1 1-42 0 33 1-11 0-3 1 32 0 11 1-53 0-4 1 7 0 0 1 32 0-1 1-17 0-16 1 20 1-3 0-18 1-25 0 65 1-31 0 26 1 4 0-64 1 44 0-31 1-18 0 7 1 35 0-31 1 8 1 12 0-9 1 4 0-34 1 21 0 7 1-18 0 0 1-5 0-8 1 37 0-4 1-36 0 39 1-30 1 63 0-46 1 20 0-13 1-12 0 51 1-8 0-31 1 25 0-29 1 4 0 24 1-42 0 6 1 7 0 22 1 0 1 19 0 15 1-36 0-22 1 20 0-18 1 26 0-3 1 1 0-36 1 50 0-10 1-31 0-5 1 8 1-42 0 58 1-3 0 12 1-6 0-45 1 15 0 31 1-36 0 48 1-59 0 47 1-25 0 45 1-31 1 13 0-4 1-2 0 34 1-1 0-64 1 55 0 23 1-57 0 10 1-3 0 13 1-24 0-5 1 24 1-13 0 50 1-35 0 13 1 5 0-44 1 67 0-50 1 35 0-54 1 20 0-15 1 23 0 26 1-82 0 55 1 20 1-68 0-2 1 45 0 10 1-23 0-4 1-1 0-30 1 52 0-11 1-32 0 16 1 40 0-22 1-8 1 31 0 51 1-66 0 15 1-16 0-2 1-9 0 18 1-22 0 33 1 23 0 18 1-60 0 41 1-26 1-4 0-15 1-1 0 17 1-1 0-34 1 82 0-41 1 11 0-15 1-41 0 50 1 17 0 5 1-29 0 14 1 6 1-46 0-20 1 57 0 8 1-32 0 22 1-27 0-5 1 14 0 7 1 24 0-40 1-5 0 56 1-17 1-23 0 5 1-20 0 46 1-15 0-5 1-2 0-24 1 6 0-14 1 32 0 10 1-30 0 9 1 32 1 1 0-29 1-16 0 42 1-60 0 27 1 12 0-26 1 24 0 34 1-20 0-28 1-2 0 29 1-7 0-2 1 41 1-26 0-1 1-31 0 45 1-45 0 21 1-2 0 35 1-74 0-17 1 82 0-26 1 38 0-51 1-3 1-2 0 34 1-78 0 24 1 55 0-19 1-12 0-5 1-39 0 60 1-12 0-6 1 0 0-3 1-9 1-31 0 10 1 22 0 42 1-10 0 0 1-16 0 23 1-10 0-31 1-9 0 33 1-36 0 96 1-60 0 13 1-29 1 20 0-8 1-6 0 15 1-17 0 23 1 16 0-12 1-18 0 14 1 5 0 20 1-19 0-33 1 4 1-9 0 26 1-5 0-21 1 39 0-90 1 88 0-36 1-23 0 50 1 39 0-22 1 15 0 2 1-92 1 20 0 1 1 39 0-22 1 12 0-5 1 0 0-29 1 16 0 3 1 8 0 31 1-46 0 8 1-39 0 80 1-18 1-23 0-9 1-1 0 13 1 11 0-15 1-37 0 18 1 49 0-42 1 54 0-12 1-44 0-8 1 45 1-30 0 42 1-48 0 31 1-3 0 15 1-4 0-54 1 34 0-3 1 22 0 0 1 2 0 13 1-36 1 38 0-36 1-17 0 14 1 42 0-60 1 54 0-14 1 4 0 7 1 2 0-13 1-11 0-5 1 34 0-67 1 28 1 1 0-2 1-15 0 6 1 5 0 23 1-33 0 13 1 0 0 6 1-16 0-2 1 3 0-29 1 18 1 17 0-8 1 46 0-53 1 29 0 6 1-30 0 35 1-38 0 29 1 16 0-27 1-23 0 30 1-27 1 15 0-3 1-22 0 19 1-61 0 66 1 12 0 24 1-16 0-26 1 37 0-7 1-41 0 16 1 14 1 16 0-19 1-13 0 2 1-1 0 4 1 3 0-16 1-12 0 7 1 28 0-29 1 8 0 1 1-3 0-67 1 106 1-24 0 8 1 14 0-87 1 71 0 9 1-29 0 16 1 5 0-17 1-10 0 4 1-9 0 34 1 1 1-52 0 52 1-36 0 21 1 20 0-44 1-5 0 68 1-34 0-21 1 46 0-53 1 59 0-77 1 54 1-26 0 35 1-58 0 40 1 10 0-22 1 9 0 57 1-49 0-16 1 25 0-23 1 11 0-22 1 29 0-43 1 47 1-12 0 9 1 16 0-22 1 12 0-31 1 19 0-22 1 1 0 28 1-6 0-63 1 37 0 14 1-33 1 53 0 18 1-56 0 29 1 26 0-19 1-19 0 23 1-25 0-15 1 3 0-14 1 55 0-83 1 96 1-31 0 11 1-39 0 8 1-25 0 8 1 4 0 18 1-9 0 15 1-29 0 8 1-12 0 25 1 7 0-15 1 24 1 31 0-20 1-29 0 7 1 20 0-56 1 32 0 17 1 16 0 0 1-15 0 33 1-16 0-24 1-13 1 44 0-51 1 7 0 39 1 8 0-44 1-2 0 17 1-21 0-53 1 68 0-31 1 41 0 18 1-9 1 11 0-58 1 16 0-6 1-4 0 27 1-18 0 12 1-3 0 16 1 10 0-34 1 17 0-1 1-37 0 19 1 4 1 4 0-2 1-24 0 30 1-43 0 7 1 58 0-19 1-26 0 38 1 19 0-40 1-23 0 66 1-56 1 52 0-10 1-26 0 17 1 6 0-3 1 32 0-71 1 42 0 13 1 3 0-37 1 5 0 44 1-25 1 21 0-38 1 23 0-26 1 0 0-9 1 33 0 3 1-13 0-16 1 29 0 3 1-31 0 61 1-70 1 36 0-10 1-16 0 43 1-22 0-20 1 20 0-9 1 31 0-31 1 13 0 13 1 20 0-38 1 32 0-31 1-25 1 39 0-16 1 31 0-41 1 60 0-45 1 23 0-5 1-1 0-56 1 53 0-51 1 31 0 12 1-14 1 2 0-3 1-25 0 57 1-44 0 6 1-10 0 25 1-55 0 30 1 29 0-11 1-4 0 4 1-30 1 42 0-77 1 64 0-6 1 1 0-16 1 58 0 25 1-85 0 24 1-57 0 12 1 61 0-5 1-17 0-5 1 7 1 18 0-3 1-5 0-20 1-45 0 54 1 34 0-68 1 45 0-25 1 7 0 11 1-4 0 48 1-68 1 76 0-87 1 34 0 40 1-50 0-31 1 1 0 25 1-2 0 6 1-13 0-12 1 14 0 41 1-36 1 38 0-5 1-55 0 110 1-126 0 64 1 17 0-19 1-44 0 5 1 45 0 27 1-71 0 21 1 36 0-104 1 10 1 27 0 39 1 15 0-56 1 4 0-14 1-4 0 34 1 1 0-12 1 9 0 19 1-25 0-29 1 26 1-5 0-36 1 56 0-13 1 5 0-4 1-9 0 31 1-19 0-52 1 74 0-30 1-24 0-13 1 28 1 42 0-13 1-34 0 2 1 42 0-9 1-32 0 56 1-53 0 76 1-15 0-36 1 3 0 35 1-62 0 59 1-26 1-31 0 31 1-14 0 52 1-13 0 17 1-34 0 7 1 14 0-31 1 24 0-38 1 16 0 22 1-30 1 10 0-30 1 55 0-46 1 24 0 14 1-42 0 42 1-17 0-12 1-15 0 12 1 20 0-28 1 42 1 0 0-13 1-39 0 30 1-26 0 10 1 8 0-10 1-43 0 15 1 22 0 3 1 41 0-73 1 23 0-12 1-15 1 40 0-47 1 75 0-25 1 8 0-3 1-45 0 13 1 0 0 32 1-21 0 44 1-49 0 47 1-19 1 11 0-34 1 34 0-34 1 0 0 45 1-63 0 16 1 27 0-1 1-8 0-10 1 3 0 21 1-33 1 26 0-5 1 11 0-34 1 0 0-8 1 42 0-15 1-12 0 34 1 4 0-36 1 32 0-14 1 14 0-47 1 14 1 8 0-15 1 19 0 15 1-83 0 84 1-88 0 68 1-7 0 54 1-47 0 16 1 2 0-5 1 4 1-21 0-27 1 53 0 26 1-22 0-14 1 16 0-28 1 20 0-36 1 18 0-7 1 19 0-11 1 18 1-31 0 14 1 21 0-47 1 36 0-23 1 14 0-29 1 37 0-1 1-9 0 30 1-21 0-11 1 19 1-4 0 6 1-18 0 5 1-10 0 30 1-36 0 34 1-14 0 31 1 14 0-47 1 39 0-52 1 61 0-1 1 2 1-33 0 25 1-3 0-31 1 37 0-30 1-30 0 58 1 19 0-70 1 16 0 52 1-41 0 47 1-62 1-6 0 47 1-48 0 14 1-12 0-2 1 28 0-28 1 12 0-12 1 30 0 24 1-109 0 72 1-4 1 27 0-73 1 58 0 5 1-22 0-24 1 5 0 43 1-73 0-9 1 18 0 15 1-7 0-45 1 66 0-31 1 10 1 12 0-9 1 2 0-48 1 26 0 40 1 4 0-18 1-29 0 20 1-10 0-10 1 34 0 56 1-70 1-18 0 19 1-34 0 47 1-7 0 20 1-27 0 7 1 54 0-7 1-12 0-9 1-50 0 39 1 2 1-12 0 3 1-17 0 29 1 12 0-23 1-12 0 22 1 19 0-19 1 11 0 13 1-42 0 42 1-3 0 13 1-16 1-21 0 41 1-32 0 14 1 12 0-73 1 52 0-4 1 42 0-90 1 48 0 1 1-21 0 27 1-4 1 27 0-16 1 0 0-32 1-14 0 58 1-47 0 5 1 21 0 57 1-73 0 9 1-47 0 71 1-34 1-22 0 11 1 8 0-21 1 12 0-17 1 7 0 17 1-3 0-5 1 38 0-24 1-23 0 5 1 8 0 3 1-7 1 29 0-25 1-16 0 58 1 8 0-43 1-5 0-6 1-13 0 38 1-28 0-8 1 3 0 31 1-3 1-131 0 108 1 9 0 24 1-46 0-5 1-15 0 55 1-6 0-12 1 41 0-6 1 5 0-44 1 14 1 24 0 18 1-18 0-34 1 25 0-20 1 25 0-32 1 43 0-5 1-4 0 16 1-8 0 0 1 12 1-46 0 22 1 29 0 0 1-21 0 19 1-49 0 7 1 27 0-29 1 37 0-17 1-4 0 45 1-53 0-6 1 29 1-47 0 25 1 16 0-47 1 15 0 27 1-48 0 1 1 44 0-22 1-28 0 101 1-91 0 47 1 18 1-64 0 49 1 27 0-57 1 50 0-36 1 10 0-13 1 11 0 22 1-19 0-7 1-7 0 2 1 20 1 17 0-30 1 3 0-68 1 48 0 3 1-11 0 11 1-26 0 43 1-14 0 27 1-30 0 14 1 38 0-31 1-46 1 16 0-5 1 18 0-48 1 24 0 36 1-12 0-40 1 40 0-42 1-12 0 67 1-10 0-28 1 2 1-2 0-20 1-6 0 11 1 17 0-13 1-1 0 10 1 11 0 4 1-32 0 12 1 15 0-6 1-37 1 51 0-18 1-24 0 22 1 38 0-48 1 29 0-22 1 9 0-42 1 32 0 21 1-20 0 3 1 4 0-42 1 20 1 12 0 37 1-18 0-64 1 23 0 4 1 6 0 41 1-34 0-20 1 12 0 19 1-22 0-8 1 43 1 1 0-9 1 21 0-10 1-1 0 7 1-17 0 19 1-7 0-39 1 18 0 1 1 7 0-1 1-6 1-27 0 43 1 3 0-5 1-21 0 20 1-28 0 15 1 16 0-17 1-3 0 47 1-43 0 15 1 40 0-7 1 6 1-40 0 0 1-15 0 40 1-68 0 51 1 20 0 2 1-1 0 19 1-36 0 27 1-14 0-25 1 16 1 0 0 23 1-41 0 37 1-9 0-41 1 81 0-58 1 19 0 30 1-31 0-21 1 24 0-30 1 29 1-19 0 26 1 38 0-45 1 46 0-54 1-12 0-27 1 34 0 26 1-49 0 39 1-31 0 32 1 30 0-15 1 1 1-24 0-4 1 28 0-4 1 21 0-31 1 7 0 32 1-52 0-7 1 22 0-32 1-18 0-7 1 36 1 7 0-15 1-17 0 21 1-6 0 36 1-40 0 1 1 13 0 2 1 1 0-15 1 11 0-11 1-10 1 22 0-17 1 21 0-2 1-4 0 7 1-8 0-16 1 7 0 20 1-26 0 5 1-15 0 25 1-10 0 18 1 2 1-29 0 3 1 8 0 28 1-64 0 43 1 1 0-28 1 65 0-55 1 23 0 7 1-33 0 54 1-7 1-50 0 83 1-45 0 10 1-13 0 5 1 3 0-25 1 13 0 4 1 30 0-44 1-9 0 33 1-26 1 17 0-1 1-37 0 13 1 6 0 24 1-2 0 21 1-19 0-10 1 19 0-50 1 16 0 4 1 21 1-50 0 44 1 9 0-27 1 3 0 4 1 8 0-2 1 18 0-9 1-30 0 29 1-5 0-21 1 30 0-16 1 32 1-42 0 4 1 5 0 0 1 27 0-21 1 45 0 5 1-16 0 16 1-25 0-32 1 50 0-7 1 16 1-38 0-1 1 8 0 13 1 34 0-65 1-3 0 3 1 24 0 9 1 24 0-34 1 19 0 5 1-34 1 9 0 2 1-18 0 25 1 31 0-51 1-8 0 55 1-60 0 50 1-19 0-26 1 10 0-33 1 16 0 29 1-1 1-25 0 46 1-59 0 24 1-14 0 16 1 11 0-39 1 21 0-31 1 1 0-24 1 58 0-20 1-9 1-2 0 15 1 40 0-55 1 18 0 35 1-50 0 33 1 13 0-31 1-11 0 14 1-3 0 1 1 0 1-9 0-1 1-17 0 71 1-45 0 18 1-12 0-9 1-9 0-14 1 35 0 16 1-13 0-23 1-3 0-2 1 21 1-11 0-10 1-3 0 35 1 7 0 17 1-8 0-26 1 6 0-11 1-8 0 37 1-33 0-4 1-9 1 67 0-70 1 26 0 44 1-27 0-45 1 17 0 0 1-13 0-10 1 31 0 35 1-36 0-26 1 45 1-12 0 17 1-28 0 45 1-53 0 2 1-21 0 29 1 19 0-7 1-12 0 8 1-41 0 2 1-19 0 105 1-12 1-35 0-17 1 32 0 35 1-65 0 42 1-50 0 69 1-56 0-146 1 150 0 14 1-10 0 40 1-19 1-36 0-3 1 45 0-4 1-38 0 53 1-57 0 22 1-6 0 11 1-9 0 40 1-13 0-45 1 21 1 43 0-51 1 16 0-32 1 38 0-2 1 37 0-59 1 37 0 5 1-15 0 40 1-41 0-10 1 9 1-15 0-13 1 18 0 29 1-40 0-14 1 6 0 27 1-16 0-93 1 103 0 4 1 20 0-22 1-31 0 43 1 29 1-22 0-33 1 38 0-18 1-40 0 30 1-42 0 34 1-7 0 42 1-28 0 30 1 10 0-74 1 54 1 12 0-38 1 39 0-26 1 20 0-37 1 43 0-27 1 22 0-33 1 48 0 13 1-61 0 53 1-52 1 28 0 3 1-48 0 49 1-12 0 1 1-8 0 13 1-35 0 22 1 1 0 19 1-54 0 56 1-18 0 3 1 10 1 41 0-51 1-15 0 10 1 20 0-10 1 12 0-35 1 28 0-12 1 28 0-43 1 22 0-27 1 59 1-15 0-7 1 20 0-37 1 22 0-22 1 18 0 4 1-6 0 28 1-32 0-22 1 44 0 14 1-26 1-28 0 9 1-17 0 35 1 9 0-35 1-19 0 3 1 24 0-33 1 37 0-22 1-25 0 36 1 0 0-77 1 92 1 34 0-45 1 13 0-23 1-19 0-5 1 39 0 5 1-34 0 27 1-61 0 38 1-18 0 38 1-15" fill="none" stroke="#ff0000" stroke-width="2.0" stroke-linejoin="round"/></g>
<g clip-path="url(#ci)"><path transform="scale(.5)" d="M1375 4448l0-23 1 41 0-49 1-10 0 33 1-20 1 4 0 14 1 10 0 25 1-73 0 30 1-55 0 36 1 12 0 20 1-44 0 41 1-44 0 42 1-12 1 37 0-81 1 53 0 8 1-24 0 38 1-61 0 69 1-36 0 36 1 18 0-25 1 20 0-41 1 12 0-10 1 11 1 10 0-6 1-21 0 27 1 13 0 5 1-16 0 12 1-57 0 65 1-3 0-18 1-21 0 18 1 14 1-4 0-11 1-30 0 39 1-21 0 9 1-21 0-3 1 37 0-83 1 45 0 13 1 7 0-15 1-8 1-14 0 11 1-11 0 42 1-20 0 5 1-27 0-7 1 40 0-29 1-20 0-5 1 43 0-36 1 4 0 15 1-51 1 64 0-19 1-16 0 4 1 8 0-34 1-2 0 11 1-2 0 22 1 24 0-43 1 39 0-69 1 50 1-7 0 8 1-24 0 32 1-49 0 30 1 8 0 17 1-18 0 7 1-40 0 22 1 54 0-66 1 85 1-83 0 74 1-40 0-17 1 18 0 23 1-50 0 64 1-7 0-61 1 47 0-24 1-13 0 18 1-9 0 1 1-3 1-22 0 4 1 12 0-13 1 29 0 3 1 5 0-39 1-19 0 32 1 43 0-31 1-21 0 3 1 5 1-18 0 3 1 49 0-37 1 27 0-20 1-20 0-12 1 26 0 28 1-2 0-17 1 33 0-18 1-12 1-5 0 27 1-14 0-20 1 24 0 43 1-40 0 0 1 15 0-10 1 32 0-58 1 18 0 21 1-17 0 2 1 21 1 39 0 4 1-103 0 67 1-18 0-18 1 20 0-34 1 46 0-31 1 57 0-60 1 1 0 8 1 1 1 1 0-13 1-2 0 40 1-42 0 42 1-24 0 8 1-16 0 17 1-17 0 17 1 8 0-45 1 9 1 0 0-12 1 41 0-44 1 40 0-34 1 11 0-12 1-12 0 13 1 18 0-40 1-8 0 9 1-9 0 59 1-40 1 3 0 39 1-45 0 2 1 34 0-15 1-18 0-9 1-2 0 40 1 1 0-11 1-8 0 12 1-7 1-18 0 2 1 67 0-25 1-13 0-22 1-7 0-4 1 46 0-12 1 16 0 38 1-40 0 15 1-67 1 18 0 24 1-15 0-8 1-29 0 20 1-16 0 22 1-18 0-4 1 12 0 18 1-22 0 32 1-38 1 36 0 9 1-55 0 49 1-13 0 26 1-7 0-8 1 13 0-46 1 41 0 11 1-50 0 8 1 64 0-38 1-33 1 38 0-11 1-1 0 42 1-30 0-35 1-15 0 32 1 0 0-14 1 6 0-8 1 29 0-20 1-10 1-3 0 46 1-51 0 14 1-2 0 39 1-39 0 34 1 19 0-57 1 1 0-2 1-4 0 2 1-25 1 5 0-18 1-20 0 37 1 0 0-24 1 59 0-12 1-12 0 38 1-53 0-14 1 61 0-9 1-35 0-9 1 65 1-47 0 17 1 36 0-30 1 5 0-14 1 3 0 7 1-2 0 1 1-13 0 65 1-73 0 40 1-2 1-2 0-45 1 20 0 27 1 8 0-2 1-22 0 25 1-22 0-29 1 34 0-24 1 51 0-38 1 2 1 26 0-48 1 29 0 15 1-8 0-26 1 50 0-33 1 24 0-25 1 17 0-11 1-19 0 15 1-11 0-4 1 6 1 2 0 4 1-14 0-14 1-14 0 1 1 58 0-29 1-5 0-16 1 2 0 51 1-37 0 41 1-27 1 9 0-7 1-48 0 46 1-1 0-12 1-21 0 59 1-70 0 52 1 6 0-23 1-10 0-41 1 40 1 32 0-8 1 17 0-34 1-2 0 27 1-31 0 62 1-25 0 12 1-6 0 24 1-54 0 43 1-16 0-27 1-9 1 10 0 73 1-41 0 2 1 7 0 2 1-5 0-25 1 23 0 18 1 5 0-37 1 41 0-52 1 25 1-2 0-15 1 12 0-23 1 43 0 10 1-81 0 37 1 59 0-91 1 66 0-74 1 5 0 21 1 19 1 19 0-38 1 30 0-30 1 30 0 29 1-18 0-15 1 13 0-13 1 24 0-54 1 47 0-21 1 46 1-53 0-15 1 20 0 19 1 15 0-33 1 1 0 40 1-27 0-12 1 28 0-30 1 19 0-37 1 58 0-40 1 8 1 43 0-20 1-1 0-39 1 28 0-8 1-4 0-50 1 61 0-46 1 45 0 30 1-15 0 10 1-17 1 24 0-12 1-60 0 36 1-1 0-31 1 74 0-46 1 22 0-9 1 13 0-18 1-23 0 0 1 35 1-28 0 43 1 91 0-141 1-21 0 32 1 22 0-15 1-27 0 51 1-28 0-12 1 34 0-68 1 26 0-19 1 58 1-29 0-27 1 22 0-18 1 67 0-39 1 41 0-33 1-16 0 8 1 25 0-34 1-7 0 16 1-20 1-7 0-2 1 34 0-18 1 24 0-11 1-25 0 25 1 7 0 2 1-24 0-23 1 15 0 25 1-23 1-5 0-11 1 44 0-28 1 21 0 2 1-40 0 14 1 10 0-29 1 25 0 20 1-40 0 38 1-2 0-11 1-7 1-24 0 25 1 30 0-29 1-21 0 9 1-1 0 22 1-19 0-21 1-2 0 29 1-3 0 5 1-40 1 35 0-10 1 11 0 3 1-17 0-21 1 31 0-37 1 28 0-16 1-36 0 6 1 44 0 6 1 6 1-17 0 57 1-23 0-10 1 15 0 7 1-47 0 61 1-20 0 4 1-1 0 13 1-36 0 20 1-39 0 67 1-31 1 31 0-31 1-19 0 50 1-45 0 40 1 7 0-32 1-8 0 12 1-4 0 7 1 10 0 34 1-39 1 7 0-28 1 29 0-61 1 29 0 21 1-24 0 18 1-33 0 36 1-42 0 52 1-27 0 2 1 17 1-14 0-9 1 24 0-9 1-30 0 24 1-52 0-1 1 42 0-19 1-6 0-6 1 25 0-28 1 25 0-11 1-30 1 27 0 17 1-9 0-20 1 21 0 4 1-25 0 22 1-67 0 58 1-30 0 46 1-25 0-25 1 5 1-3 0 26 1-17 0 7 1 25 0-55 1 38 0-8 1-23 0 4 1-42 0 57 1-32 0 33 1-3 1-22 0 9 1 25 0-9 1-26 0-11 1 53 0-23 1-8 0 9 1 13 0-29 1 38 0-62 1 97 0-14 1-45 1-10 0 3 1 22 0-9 1-5 0 19 1-11 0 12 1-45 0 16 1 19 0-1 1 2 0-3 1-11 1 13 0 4 1-18 0 12 1-2 0 0 1 7 0 21 1-18 0-30 1 45 0 0 1-6 0 0 1-37 1 37 0-29 1 8 0 2 1 3 0 7 1-2 0-14 1 70 0-49 1-17 0 40 1-12 0-19 1 57 1-43 0 30 1-28 0-3 1 4 0 28 1-22 0 15 1-20 0 15 1 10 0-37 1 46 0-15 1-33 0 16 1-11 1 40 0-25 1 22 0 20 1-50 0 34 1-24 0 22 1-32 0 0 1 34 0 0 1 35 0-47 1-4 1 11 0-31 1 18 0-2 1 13 0 19 1-34 0-16 1-8 0 22 1 31 0-20 1-9 0 27 1-16 1 6 0 4 1 4 0-28 1-5 0-13 1 32 0-7 1 39 0-43 1-22 0 46 1-27 0 22 1-22 0-4 1 48 1-48 0 35 1-11 0-31 1 29 0 0 1 1 0 20 1-35 0 14 1-5 0 13 1 37 0-37 1 27 1 9 0-76 1 41 0 31 1-25 0-3 1 23 0 16 1-28 0 7 1 4 0 52 1-43 0-33 1 69 1-13 0 10 1-5 0-6 1-46 0 50 1-41 0 55 1-35 0 15 1 9 0-16 1-23 0 19 1-6 0 12 1-9 1 1 0-10 1 19 0 10 1-4 0 0 1-24 0 29 1-34 0 10 1-23 0 23 1-19 0 15 1 5 1 10 0-16 1-12 0 38 1-3 0 33 1-66 0 1 1 36 0 18 1-40 0-8 1 25 0 16 1-41 1 9 0-2 1-17 0 42 1-3 0-39 1 26 0-33 1 110 0-22 1-44 0 2 1 35 0-4 1 0 0-32 1 44 1-27 0 13 1 48 0-69 1-34 0 44 1-20 0 16 1 6 0 31 1-32 0 40 1-29 0-16 1 0 1 22 0-14 1 20 0-38 1 42 0-84 1 41 0 20 1-40 0 58 1-46 0 41 1-15 0 14 1 6 1-4 0-16 1 10 0-46 1 38 0 59 1-40 0-10 1-14 0-7 1 41 0-33 1 22 0-20 1 8 1-32 0 4 1-12 0 49 1-6 0-11 1 12 0 0 1-24 0-37 1 39 0-26 1 65 0-73 1-4 0 43 1 15 1-24 0 49 1-41 0 45 1-71 0 36 1 16 0 30 1-74 0 30 1 15 0-35 1 56 0-50 1-4 1 35 0-31 1-9 0 54 1 0 0-31 1 4 0 33 1 52 0-33 1-57 0 39 1 10 0-27 1-18 1-20 0 89 1-37 0-11 1-4 0 37 1-17 0-29 1 20 0-12 1 11 0-1 1 23 0 6 1-21 0 17 1-55 1 15 0-12 1 57 0-6 1-43 0 9 1-2 0-16 1 40 0 5 1-11 0-64 1 45 0 13 1-49 1 11 0-1 1 5 0 17 1-44 0 18 1 42 0-2 1-12 0-33 1 31 0-8 1 4 0-12 1-25 1 35 0-10 1-37 0 69 1-38 0 3 1 5 0-23 1-25 0 47 1 2 0-15 1 40 0-16 1-14 0 4 1 23 1-37 0 49 1-8 0 8 1-28 0-7 1 20 0-25 1 34 0-9 1-1 0 7 1-3 0 27 1 56 1-64 0-3 1-2 0 17 1 5 0-70 1 27 0 9 1 4 0 17 1-12 0-27 1 2 0 32 1-1 1 0 0 3 1-35 0 5 1 6 0 20 1-41 0 27 1 54 0-80 1 22 0 17 1-55 0 93 1-35 0-28 1 53 1-82 0 1 1 36 0 2 1-32 0 24 1 37 0-17 1 14 0-30 1 9 0-26 1 24 0 22 1 7 1-56 0 6 1 45 0 13 1 2 0-55 1 29 0-47 1 47 0-4 1-3 0-18 1-23 0 57 1-38 1-13 0 32 1 5 0-32 1 36 0-7 1 13 0-11 1-17 0-3 1 12 0-6 1 30 0-71 1 67 0-34 1 29 1-17 0 44 1-28 0 12 1-31 0 6 1 24 0 3 1-29 0 22 1-22 0 7 1 18 0-2 1 36 1-38 0 7 1-3 0-31 1 31 0 4 1 2 0 10 1-40 0 32 1-28 0 13 1 30 0-22 1-21 1-47 0 67 1 5 0-2 1-22 0 32 1-13 0-13 1 58 0-51 1-10 0-8 1 19 0 3 1-41 0 31 1-25 1 6 0 16 1-6 0 6 1-37 0 16 1 41 0-76 1 9 0 4 1 48 0-9 1 3 0-42 1 30 1-2 0 12 1 26 0-47 1-28 0 55 1 14 0-5 1 0 0 20 1-18 0-4 1 24 0-41 1 19 1 14 0-26 1-34 0 3 1 4 0-2 1 2 0 5 1-5 0-26 1 49 0-26 1 45 0-45 1-16 1 37 0-45 1 55 0-54 1 37 0-14 1 15 0-23 1 17 0-27 1 23 0-4 1 11 0-15 1 20 0-4 1 25 1-20 0-1 1-4 0-4 1 34 0-50 1-29 0 47 1 42 0-58 1 16 0 4 1-8 0 4 1 5 1-17 0 7 1 12 0-22 1-11 0 0 1 48 0-23 1-13 0 10 1 6 0-27 1 17 0-2 1 42 1-2 0-19 1-14 0-15 1 37 0-50 1 31 0 14 1-26 0-13 1 29 0 1 1-5 0-9 1 21 0-3 1-4 1 8 0-10 1 24 0 28 1-30 0-3 1-47 0 18 1 14 0 19 1 16 0-11 1-23 0 14 1 18 1-26 0 18 1-23 0-30 1 22 0 71 1-76 0 35 1-16 0 0 1 2 0 42 1-64 0 48 1-1 1-24 0-10 1 28 0 22 1-42 0 16 1-24 0-7 1 53 0 1 1-23 0 16 1-53 0 35 1 0 0-2 1-25 1 22 0-7 1 32 0-31 1 25 0 3 1 1 0-38 1 32 0-16 1 6 0-9 1 22 0 15 1-24 1-10 0 19 1-19 0-17 1 55 0-76 1 8 0 13 1-22 0 65 1-49 0-6 1-4 0-1 1-32 1 21 0 27 1 15 0-12 1-130 0 103 1 4 0-6 1 17 0-4 1-18 0 13 1 10 0-5 1-18 0 21 1-4 1-44 0 42 1-4 0-19 1-10 0 24 1 44 0-77 1 71 0 8 1-6 0-24 1 12 0 41 1-78 1 75 0-72 1 95 0-51 1-2 0 15 1-10 0-24 1 19 0-11 1 14 0-1 1 17 0-11 1-20 1-5 0 49 1-12 0-16 1 6 0 14 1 26 0-50 1 21 0-59 1 19 0 16 1-2 0 26 1 5 1-3 0-12 1-14 0-4 1 20 0-18 1 45 0-34 1 1 0-38 1 27 0 57 1-80 0-26 1 46 0-3 1-20 1 34 0 0 1-7 0 76 1-58 0-27 1 1 0 44 1-29 0 5 1 4 0-36 1 39 0-15 1-18 1 32 0-21 1 20 0-22 1 2 0-16 1 23 0-3 1 28 0-21 1 9 0 5 1-20 0-7 1 2 1-25 0 36 1 4 0 31 1-70 0 11 1 2 0 31 1-3 0 0 1 17 0-35 1 11 0-27 1 23 0 8 1-18 1-1 0 39 1 11 0-10 1-45 0 5 1-17 0 26 1-8 0 16 1-52 0 25 1-20 0 21 1 25 1-40 0 51 1-53 0 19 1-13 0 32 1-30 0 13 1 3 0-51 1 17 0 17 1 4 0-5 1-14 1-5 0 4 1 38 0-37 1-5 0-11 1 17 0 3 1-4 0 14 1-55 0 60 1 6 0-25 1 0 0-7 1 19 1 10 0 9 1-18 0-4 1 9 0 25 1 4 0-50 1 24 0 5 1-41 0 20 1 48 0-21 1-26 1 8 0 7 1-28 0 64 1-46 0 29 1-37 0 27 1 32 0-40 1 59 0-78 1 16 0-19 1 19 1 2 0-27 1 13 0 47 1-21 0-44 1 57 0-60 1 52 0 15 1-35 0 8 1-25 0 28 1-40 0 40 1-25 1-5 0 18 1 13 0 25 1-5 0-34 1 21 0-20 1 28 0-13 1 0 0-13 1 23 0-21 1 51 1-7 0-28 1 6 0-12 1 45 0-41 1 43 0-64 1 45 0-7 1-21 0 4 1 20 0-8 1-21 1 37 0-52 1 44 0 14 1-53 0 15 1 12 0-20 1 25 0 6 1-22 0 5 1 20 0-41 1 18 0-25 1-40 1 101 0-39 1 4 0 33 1-35 0 65 1-27 0-43 1 47 0-15 1-12 0 26 1-13 0-21 1 6 1 5 0-33 1 32 0-20 1 15 0 30 1-73 0 32 1-40 0 46 1-10 0 38 1 16 0-63 1-13 1-19 0 18 1 23 0 23 1-15 0-12 1 83 0-75 1-22 0 12 1 22 0-2 1 34 0-58 1 65 0-53 1-4 1 17 0-20 1-9 0 30 1 18 0-48 1 22 0-59 1 82 0-52 1 11 0 48 1 11 0-45 1 11 1 10 0 3 1-12 0-4 1 0 0-32 1 4 0 83 1-66 0-11 1 66 0-20 1-4 0-25 1 8 1 4 0 3 1-15 0 14 1 29 0 1 1-5 0-52 1 31 0-6 1-21 0 29 1 52 0-48 1 19 1 0 0 4 1-11 0 24 1-47 0 8 1 5 0 2 1 31 0-36 1 32 0 13 1-29 0-10 1-2 0-20 1 31 1-36 0-8 1 24 0 29 1-52 0 26 1-5 0 34 1 21 0-88 1 16 0 33 1-9 0 15 1-26 1 43 0-62 1 7 0-16 1 23 0-11 1 4 0-2 1 24 0-36 1 52 0-15 1-9 0-49 1 71 1-27 0-2 1 46 0-86 1 31 0 16 1 14 0-20 1 67 0-83 1 44 0-27 1 45 0-7 1 38 0-44 1-3 1 15 0-48 1 38 0 0 1 18 0-33 1 23 0-7 1 19 0-46 1-5 0 35 1-16 0 22 1-36 1 0 0 34 1-29 0 51 1-37 0 19 1-28 0-1 1 32 0-5 1-14 0-5 1-2 0-8 1 11 1-52 0 32 1 23 0-40 1 11 0-10 1 1 0 48 1-16 0-5 1 31 0-43 1 28 0-29 1-1 0 26 1 33 1-53 0 31 1-29 0 55 1-71 0 27 1-11 0 15 1-26 0-5 1 50 0-8 1-19 0-6 1 63 1-51 0 36 1-57 0 17 1 27 0-2 1-54 0-6 1 40 0 7 1-23 0 34 1-19 0-11 1 109 1-115 0 14 1 1 0 22 1 13 0-51 1 13 0-38 1 20 0 47 1-55 0 36 1-11 0 8 1 28 0-74 1 35 1-12 0 17 1 12 0-8 1-51 0 50 1 12 0-68 1 51 0 8 1-40 0 41 1-25 0 10 1 17 1-17 0-29 1 8 0-23 1 40 0 5 1-8 0-6 1-15 0 69 1-62 0 29 1-11 0 23 1-16 1-35 0 82 1-51 0 10 1 8 0-5 1-9 0 20 1-6 0 3 1-7 0 13 1-2 0-20 1 10 1-19 0 38 1 34 0-39 1 19 0 3 1-26 0 13 1-14 0-28 1-2 0 28 1-5 0-7 1-6 0 89 1-27 1-65 0 48 1 25 0-40 1 20 0-46 1-2 0 19 1 13 0-7 1 13 0-14 1-3 0 15 1-3 1 0 0-45 1 35 0 21 1-47 0 29 1 6 0 46 1-41 0 10 1-28 0 5 1-14 0-3 1 25 1 26 0-59 1 17 0 8 1 6 0-4 1-79 0 65 1-21 0 26 1 16 0-54 1-7 0-8 1 31 0 9 1-30 1 15 0-18 1 7 0-29 1 46 0-9 1 39 0-52 1 32 0-36 1 50 0-34 1 28 0 2 1-10 1-80 0 69 1 29 0-52 1 18 0 23 1-46 0 51 1-2 0 15 1-35 0 12 1-20 0-31 1 69 1-23 0-4 1-20 0 25 1 11 0-30 1 29 0-11 1-52 0 48 1-26 0 8 1 40 0-26 1 5 0 21 1-16 1-16 0 4 1-5 0 31 1-11 0-19 1 37 0-8 1-41 0 42 1-8 0-46 1 46 0-7 1 29 1-22 0 6 1 16 0 13 1-29 0 1 1-17 0-25 1 26 0-7 1 27 0-11 1-22 0-16 1 60 1-32 0-17 1 28 0-38 1 42 0-2 1-21 0 32 1-14 0-14 1 2 0-29 1 35 0-7 1 14 0-2 1-32 1-5 0 14 1-1 0 19 1-15 0-35 1 4 0 84 1-60 0-20 1 50 0-36 1-12 0 55 1-28 1-4 0 10 1 35 0-46 1-15 0 44 1 7 0-45 1 39 0-17 1-11 0 23 1-18 0-4 1 16 1 42 0-27 1-25 0 37 1 1 0-36 1-5 0 33 1-43 0 11 1 35 0-45 1 49 0-31 1-20 0 13 1 20 1-1 0-56 1 58 0-43 1 25 0 4 1-3 0-44 1 59 0-28 1 6 0-12 1 46 0-41 1 2 1 13 0-22 1 56 0-8 1-21 0-45 1 34 0-1 1-26 0 21 1 15 0-51 1 24 0 7 1 19 1-21 0 41 1-30 0-8 1-14 0-3 1 19 0 44 1-20 0-6 1-9 0-18 1 13 0 47 1 18 0-49 1 32 1-1 0-31 1 10 0-24 1 47 0 1 1-28 0-20 1 4 0 63 1-15 0-26 1-3 0 28 1 13 1-5 0-53 1 26 0 66 1-2 0-63 1 32 0-29 1 17 0 10 1-27 0 32 1-41 0 36 1 1 1 0 0-29 1-26 0 27 1-18 0 36 1-49 0 47 1 5 0-43 1-2 0-18 1-35 0 73 1-33 1 43 0-29 1 39 0-77 1 34 0 4 1 18 0-19 1 6 0-25 1 27 0 17 1-37 0 9 1 6 0-28 1 46 1-11 0-18 1 4 0 20 1 10 0-45 1-2 0-27 1 51 0-12 1 9 0-13 1-7 0-6 1-8 1 13 0 9 1-16 0 33 1-26 0 11 1-33 0 9 1-1 0 22 1 21 0-5 1-5 0-14 1 7 1-2 0-16 1-1 0 7 1 11 0-23 1 37 0-14 1 15 0-18 1 43 0-38 1 29 0 9 1-21 0-16 1 11 1-28 0-2 1 46 0 14 1-14 0-48 1 39 0-17 1-28 0 44 1-7 0-13 1 1 0-8 1 15 1 7 0-3 1 9 0-40 1 13 0 11 1-62 0 72 1 1 0 2 1-6 0 27 1-46 0 31 1-37 1-35 0 28 1 2 0 10 1 26 0-64 1 37 0-33 1 27 0-10 1 23 0 3 1 44 0-65 1 4 0 34 1 13 1-25 0 6 1 1 0-18 1 22 0-16 1-7 0 35 1-30 0 6 1-8 0 14 1 14 0-35 1 52 1 8 0-70 1 22 0 36 1 0 0-21 1 28 0-61 1 64 0-17 1-14 0-10 1 43 0-2 1-56 1-15 0 33 1 12 0-47 1-20 0 37 1 41 0-22 1-14 0 35 1-39 0 10 1-18 0 10 1-27 0 2 1 50 1-49 0 23 1 15 0 22 1 4 0-29 1-24 0 43 1 5 0 22 1-71 0 60 1-18 0-8 1-6 1-3 0-15 1 35 0-16 1-12 0 10 1 12 0-19 1 2 0 19 1-8 0-3 1-3 0-43 1 73 1-66 0 28 1-16 0 17 1 32 0-44 1 10 0-47 1 91 0-95 1 80 0-8 1-19 0-20 1-17 1-1 0 16 1 5 0 30 1-50 0 22 1 37 0 0 1-71 0 61 1-23 0 27 1-43 0 32 1-23 0 1 1-15 1 29 0 16 1-52 0 57 1-35 0 2 1 8 0 1 1-34 0 55 1-28 0 23 1-92 0 63 1-3 1 42 0-1 1-2 0-17 1-47 0 15 1 19 0 7 1-1 0-25 1 16 0-22 1 11 0 14 1-13 1 10 0 13 1 8 0-30 1-28 0 35 1-40 0 49 1-7 0-37 1 30 0 2 1-12 0 8 1 2 0-11 1-13 1 48 0-49 1 63 0-39 1 12 0-19 1-22 0 16 1 15 0 5 1-15 0 41 1 7 0-16 1 24 1-55 0-23 1 42 0 26 1-7 0 25 1-25 0-48 1 13 0 7 1-40 0 81 1-11 0-33 1 9 1-8 0 26 1 17 0-51 1 30 0 23 1-63 0 52 1-10 0-43 1 23 0 23 1-9 0 17 1-10 0-34 1 85 1-44 0-31 1 59 0-37 1-50 0 0 1 54 0-9 1-16 0 50 1-7 0 4 1-38 0 35 1-53 1 74 0-29 1-29 0 43 1-23 0-4 1 3 0-36 1 14 0-13 1 38 0 31 1-23 0-29 1-8 1 36 0 18 1-13 0 27 1-33 0 22 1 12 0 4 1-68 0 43 1-27 0-3 1 3 0 11 1 49 0-23 1 4 1-52 0 2 1 9 0 13 1-32 0 12 1-8 0 24 1 1 0 5 1-2 0 54 1-48 0 2 1-52 1 8 0 3 1 41 0-16 1-25 0 21 1 16 0-29 1-11 0-13 1 18 0 26 1-26 0 5 1 58 1-75 0 11 1 9 0-34 1 26 0-12 1 7 0 60 1-41 0-3 1 41 0-71 1 67 0-38 1 35 0-68 1 17 1-3 0 57 1-38 0-3 1 40 0-64 1-21 0 65 1-22 0 42 1-22 0-26 1 16 0-19 1 33 1-25 0 69 1-20 0-22 1 1 0-44 1 9 0 31 1 13 0 3 1-12 0 12 1-30 0 20 1 14 1-24 0-18 1 16 0-12 1 26 0-40 1 13 0-33 1 40 0-29 1 39 0-28 1 26 0 17 1-20 0 7 1-20 1-1 0 14 1 31 0-124 1 68 0 48 1-18 0-37 1 29 0 8 1-42 0 36 1-1 0-8 1 11 1 10 0 6 1-23 0 9 1-1 0 37 1-22 0 13 1-38 0 33 1 2 0 63 1-105 0 4 1 21 1-16 0 16 1 4 0-12 1-4 0 5 1-47 0 20 1-9 0 21 1 7 0 31 1-14 0-33 1 0 1 4 0 10 1-46 0 48 1-5 0-50 1 81 0 7 1-28 0-12 1 63 0-57 1 0 0-14 1-5 0 69 1-8 1 10 0-44 1 62 0-67 1 3 0 27 1-7 0 13 1-1 0-25 1-19 0-14 1-1 0 52 1 19 1-54 0-6 1 27 0-44 1-24 0 65 1-11 0-7 1 19 0-45 1 28 0-55 1 1 0 61 1 0 1-21 0-49 1 49 0-29 1 16 0 9 1-20 0-3 1 38 0-19 1 18 0 18 1-49 0 57 1-25 0-36 1-6 1 51 0-16 1 21 0 16 1-16 0-1 1-40 0 19 1 22 0-18 1-4 0 104 1-89 0-18 1-26 1 14 0 11 1 35 0-39 1 39 0 10 1-36 0-4 1 0 0 11 1 22 0-29 1-24 0-6 1-13 1 52 0-4 1 31 0-65 1 25 0-30 1 32 0 2 1-28 0 18 1 35 0-61 1-21 0 56 1 28 0-49 1 28 1-24 0 22 1-3 0 10 1-5 0 15 1-22 0 27 1-39 0-22 1 35 0 12 1 27 0-45 1-17 1 47 0-53 1 44 0-34 1 47 0-27 1-23 0 32 1 4 0 10 1-23 0 42 1-16 0 7 1-12 1-28 0 46 1 4 0-30 1 12 0 14 1-22 0 55 1-52 0-21 1 6 0-5 1 15 0 0 1-11 0 29 1-29 1 21 0-29 1 10 0-12 1 21 0 2 1-45 0-11 1 43 0-2 1-23 0-4 1-24 0 36 1-26 1 36 0 22 1-44 0 30 1-40 0-16 1 66 0 64 1-118 0 40 1-42 0 28 1-3 0 25 1-4 1-25 0-7 1 0 0 14 1 26 0-34 1-60 0 73 1-7 0-11 1 40 0 3 1-32 0 44 1-49 1-29 0 25 1 25 0-2 1-3 0 11 1 2 0-28 1 5 0 15 1-30 0 48 1-16 0 10 1-8 0 7 1-13 1 3 0 27 1-32 0 13 1 13 0-26 1 2 0-16 1 82 0-55 1 4 0 19 1 11 0 12 1-65 1 32 0-41 1 27 0-26 1 26 0-16 1 17 0 13 1-12 0-5 1-10 0-26 1 21 0-13 1 12 1 23 0-40 1 32 0-46 1 43 0-42 1 59 0-32 1 15 0 7 1-2 0-1 1-12 0 13 1 8 0 14 1 4 1-38 0-2 1 1 0 28 1-45 0 18 1-45 0 32 1 16 0-16 1 35 0-3 1-18 0 0 1 4 1-7 0-24 1-1 0-15 1 51 0-12 1-2 0-63 1 24 0 47 1-3 0 21 1-25 0 16 1 19 1-42 0 22 1-30 0 25 1 9 0 0 1-4 0 4 1 25 0-37 1-19 0-43 1 22 0 6 1 20 0 24 1-35 1 27 0 5 1-34 0 12 1 31 0-12 1 15 0-43 1 29 0-8 1 35 0-70 1 56 0-26 1-26 1-3 0-5 1 3 0 29 1 32 0-48 1-30 0 83 1-16 0-23 1 13 0-28 1 40 0 9 1-12 1 31 0-7 1-42 0 38 1-54 0 25 1 50 0 53 1-88 0 21 1-73 0 39 1 46 0-33 1 3 0-20 1 33 1 17 0-40 1-16 0 54 1-35 0-5 1-5 0 45 1-7 0-33 1 12 0-17 1 15 0 8 1 15 1-1 0 6 1-25 0-30 1 14 0-4 1 29 0-42 1 1 0 16 1-17 0 52 1 16 0-15 1 7 1-28 0-45 1 55 0-34 1 48 0 15 1-68 0 15 1 21 0-55 1 50 0-23 1 1 0-14 1 14 0-15 1 3 1 5 0 1 1-26 0-3 1 76 0-24 1-15 0 10 1 2 0-36 1-14 0 17 1 30 0 16 1 30 1 12 0-78 1 33 0 26 1-4 0-6 1-56 0 42 1-3 0-17 1 51 0-44 1-16 0 36 1 5 1-37 0 30 1-9 0 18 1 9 0-23 1-45 0 58 1 24 0-21 1-11 0-17 1 26 0-10 1-32 0 5 1 77 1-51 0 30 1-2 0-61 1 70 0-30 1-56 0 83 1-41 0 34 1 47 0-87 1 27 0-31 1 58 1-19 0-38 1 0 0-24 1 36 0 33 1-23 0 7 1-11 0-40 1 19 0 22 1-6 0-13 1-8 1 26 0-20 1-19 0 0 1 50 0-18 1 7 0-17 1 38 0-24 1 4 0-26 1 11 0-6 1 16 1-17 0 16 1 4 0-17 1-10 0 33 1 38 0-48 1-1 0 17 1 17 0-4 1-24 0-14 1-7 0 25 1-24 1 2 0 5 1 0 0 15 1-16 0 5 1 4 0-45 1 52 0 38 1-1 0-70 1 12 0 24 1-6 1-33 0 15 1 13 0 3 1-6 0-11 1-26 0 53 1-19 0-17 1 2 0 28 1-25 0 57 1-60 1 13 0 19 1-15 0 19 1-37 0 11 1 3 0-28 1 48 0-13 1-23 0-7 1-12 0 203 1-179 0 7 1-13 1 22 0 24 1-30 0 35 1 10 0-34 1-23 0-29 1 61 0-8 1-6 0-9 1-21 0 15 1 16 1-5 0 8 1 12 0-9 1 34 0-91 1 37 0 3 1-9 0 31 1-11 0-11 1-24 0 13 1 47 1-20 0-3 1-3 0-32 1 29 0 15 1-18 0-17 1 19 0-11 1 6 0-35 1 56 0-53 1 41 0 4 1-23 1 10 0-7 1-27 0 19 1 4 0 28 1-33 0 27 1-33 0-22 1 8 0 36 1 31 0-85 1 35 1 29 0 21 1-34 0-18 1 11 0-7 1-19 0 59 1-10 0-11 1-10 0 14 1-6 0-2 1-7 1 39 0 0 1-3 0 3 1-60 0 51 1-18 0 19 1-2 0-12 1-20 0 19 1 27 0 21 1-38 0 19 1-4 1-8 0 8 1-5 0 6 1-9 0-11 1 47 0-3 1-66 0 1 1 28 0-35 1 6 0 11 1-16 1 53 0-13 1 22 0-30 1-4 0-18 1 7 0 15 1-25 0 38 1 44 0-71 1-4 0 26 1-11 1-18 0 5 1 46 0-25 1 19 0-18 1-3 0-10 1-41 0 84 1 5 0-12 1-40 0 12 1-3 1-25 0 27 1 30 0-16 1-4 0-11 1 14 0 10 1 2 0-9 1-33 0 31 1 6 0-67 1 38 0 5 1-30 1-30 0 76 1-60 0 25 1 17 0-24 1 24 0 10 1-33 0-34 1 46 0 15 1-8 0-50 1 23 1-35 0 45 1-7 0 29 1-49 0 5 1-21 0 25 1 23 0 21 1-30 0 9 1 33 0-7 1-16 1-2 0-3 1-45 0 89 1-40 0 22 1-44 0-8 1 49 0-20 1-15 0 40 1-34 0 24 1 7 0 11 1-2 1-3 0-29 1 46 0-13 1-36 0 52 1-69 0 16 1 10 0 40 1-11 0-41 1 1 0 9 1-1 1 23 0 7 1 7 0-37 1-41 0 26 1-17 0-7 1 38 0 9 1-25 0 19 1 9 0-26 1 17 1-15 0 17 1 13 0 2 1-26 0-16 1-8 0-3 1 12 0 28 1-40 0 9 1 13 0 5 1-18 0-16 1 0 1 4 0 51 1-40 0 22 1-18 0 26 1-44 0 35 1 22 0-36 1 3 0-4 1-2 0-28 1 29" fill="none" stroke="#0000ff" stroke-width="2.0" stroke-linejoin="round"/></g>
<g clip-path="url(#ci)"><path transform="scale(.5)" d="M1375 4432l0-8 1 3 0-23 1 12 0-8 1-16 1 0 0 9 1 21 0 8 1 3 0-11 1-5 0 21 1 5 0-32 1 48 0-36 1-12 0 34 1 3 1-8 0-31 1 18 0 42 1-32 0-32 1 1 0 9 1 21 0 36 1-45 0-62 1 65 0-32 1 31 0-9 1 1 1 19 0 10 1 1 0-34 1 4 0 22 1-38 0 22 1 33 0-45 1 15 0 26 1-43 0 17 1 0 1-23 0 61 1-22 0-20 1-16 0 18 1 6 0 0 1-23 0-19 1 47 0 13 1-41 0 1 1 12 1-36 0-4 1 31 0-5 1-21 0 22 1 22 0-29 1 19 0-28 1 20 0-6 1-16 0 15 1 13 0 8 1-61 1 14 0 60 1-10 0-36 1 27 0-30 1 1 0 16 1 6 0 8 1-9 0-9 1-30 0 15 1 29 1-24 0 18 1 36 0-31 1-24 0 36 1-34 0 29 1-8 0 28 1-73 0 35 1-12 0 33 1 23 1-60 0 43 1-53 0 42 1-41 0 53 1 24 0-56 1 17 0-1 1-24 0 43 1 9 0-3 1 11 0 3 1-12 1-7 0-12 1 17 0-24 1-20 0 22 1-16 0 31 1-27 0-5 1 26 0 20 1-30 0-4 1-32 1 42 0-46 1 90 0-47 1 4 0-2 1 3 0-10 1-37 0 40 1-30 0 29 1-4 0 55 1-54 1-11 0 38 1-11 0 6 1-66 0 69 1-5 0 44 1-25 0-39 1 34 0 33 1-54 0-9 1-3 0-2 1 22 1 22 0-23 1-22 0 38 1-13 0 19 1-37 0 14 1 14 0 23 1-56 0-5 1-1 0 21 1-16 1-5 0 9 1-20 0 36 1-8 0 38 1-79 0 63 1-24 0-8 1 32 0-17 1-16 0 17 1 4 1 0 0 8 1-13 0-13 1-2 0-15 1 22 0 12 1-31 0 10 1-15 0 17 1-9 0 3 1-9 0 37 1-20 1-7 0-34 1 38 0-11 1 13 0 41 1-74 0 13 1-14 0 58 1-6 0-31 1 38 0-45 1 24 1-11 0 33 1 16 0-36 1 18 0-35 1-27 0 30 1-14 0-18 1 21 0 21 1 36 0-49 1 16 1 4 0-25 1 5 0 49 1-108 0 83 1-25 0 21 1-20 0 37 1-5 0 4 1-8 0 1 1-32 1 48 0-24 1 28 0 6 1-20 0 19 1-39 0 18 1-6 0-24 1-26 0 44 1 30 0-36 1-11 0-27 1 24 1 17 0-41 1-6 0 27 1-13 0-3 1-50 0 69 1-5 0-8 1-19 0 22 1-18 0-9 1-25 1 46 0 4 1-1 0 35 1-16 0-30 1-2 0-55 1 29 0 9 1-16 0 45 1-3 0 4 1-14 1-52 0 52 1 7 0-17 1-20 0 6 1-8 0 52 1-16 0-15 1-7 0-29 1 58 0-43 1 19 0-19 1 29 1 17 0-57 1 20 0 50 1-58 0 38 1-19 0 0 1 30 0-54 1 37 0-47 1 27 0-1 1 7 1-37 0 67 1-5 0-2 1-40 0 1 1 22 0-4 1 43 0-70 1 38 0-7 1 8 0-21 1 18 1-8 0 2 1 14 0 2 1-21 0 0 1-7 0-15 1 60 0 14 1-31 0-37 1 30 0 41 1-75 0 26 1 46 1-14 0-21 1 16 0-9 1-14 0 12 1-30 0 36 1-37 0 46 1 13 0 21 1-28 0-22 1-20 1 97 0-77 1 20 0-39 1 27 0-20 1-34 0 37 1 5 0-27 1 15 0 11 1 31 0-29 1 29 1-41 0-8 1 11 0-40 1 66 0-35 1 9 0 29 1-37 0-6 1-5 0 30 1-17 0 30 1-46 0-5 1 38 1 0 0 30 1-23 0 11 1-12 0 37 1-70 0 37 1-19 0 14 1 18 0-49 1 19 0 58 1-32 1 5 0 13 1-66 0 75 1-61 0 72 1-69 0 41 1 37 0-57 1-4 0 30 1-46 0 61 1-63 1 11 0-27 1 48 0-28 1 32 0-31 1 13 0-11 1 47 0-39 1 4 0-25 1 42 0-2 1-17 1 4 0 69 1-48 0-24 1 29 0 35 1-32 0-5 1 22 0-22 1 28 0-20 1-4 0-37 1 32 0-19 1 24 1 30 0 1 1-44 0 54 1-1 0-99 1 81 0 7 1-62 0 55 1-34 0 13 1-5 0 2 1-22 1-12 0 52 1-56 0 38 1-2 0-21 1 26 0 8 1-56 0 45 1 32 0 25 1-81 0 9 1-43 1 63 0 0 1-29 0-30 1-3 0 30 1 14 0-17 1-32 0 35 1 8 0-21 1 6 0 1 1-44 0 31 1 14 1 10 0 0 1-17 0-5 1 31 0-1 1-5 0 16 1-45 0 46 1-23 0-17 1 45 0-3 1-16 1-13 0 7 1 4 0-26 1 41 0 4 1-31 0 12 1-19 0-4 1 48 0 22 1-59 0 13 1-8 1 25 0 46 1-62 0-19 1-9 0 17 1 4 0 11 1-76 0 89 1-47 0 48 1-16 0-50 1 47 0-40 1 31 1-30 0-13 1 56 0-58 1 25 0 30 1-13 0 50 1-54 0 22 1-7 0-56 1 46 0 2 1 11 1-40 0 3 1 31 0 18 1-32 0-7 1 47 0-70 1 47 0-21 1 20 0 0 1-37 0 20 1 36 1-41 0-10 1 22 0-27 1 45 0-41 1 16 0 2 1-27 0 15 1 23 0-18 1 26 0-26 1-18 0 3 1 42 1-11 0-20 1 2 0 28 1-21 0-4 1-26 0 28 1 6 0 22 1 5 0-51 1 18 0 11 1-32 1 11 0 12 1-18 0 25 1-26 0 7 1 18 0-1 1 7 0-36 1 23 0 20 1-39 0 5 1 10 1-6 0 13 1 4 0-33 1 44 0 8 1-5 0-50 1 43 0-19 1 9 0 5 1-20 0-3 1-47 0 49 1-15 1-41 0 13 1 17 0-8 1 19 0-20 1 11 0 23 1-58 0 37 1-13 0 23 1 15 0 12 1 34 1-62 0 26 1-29 0-12 1 32 0-22 1-21 0 14 1-18 0 72 1-72 0-7 1 49 0-47 1 27 1-3 0-18 1 46 0-52 1 35 0-33 1 19 0-8 1 25 0-17 1 24 0-10 1 16 0-28 1 21 0-74 1 72 1 29 0-72 1 34 0-19 1 10 0 20 1-3 0 10 1-56 0 17 1 44 0-51 1 8 0 48 1-17 1-28 0-162 1 124 0 45 1-20 0 31 1-9 0-3 1 1 0-7 1 3 0 38 1-52 0 40 1-44 1 58 0-55 1 29 0-19 1-10 0 29 1 22 0-70 1 45 0 8 1 12 0 6 1 35 0-35 1 2 1-4 0-62 1 47 0 7 1-9 0 20 1-45 0-19 1 65 0-39 1 5 0-41 1 31 0 60 1-23 0-27 1 4 1-14 0 30 1-9 0-11 1 3 0 15 1-54 0 56 1-6 0 23 1-24 0 45 1-73 0 85 1-63 1 34 0-26 1-26 0 35 1-11 0 26 1-6 0-34 1 43 0-36 1 15 0 12 1-30 0 43 1-29 1 36 0-24 1 22 0 47 1-97 0-3 1 11 0 4 1 14 0-2 1 12 0-67 1 48 0 0 1-5 0 22 1-55 1 48 0 12 1-61 0 14 1 13 0 27 1-42 0 33 1-4 0-18 1 29 0 10 1 40 0-73 1 78 1-32 0 5 1-5 0-1 1-17 0 19 1 58 0-61 1 28 0-16 1 22 0-25 1 5 0-23 1 9 1-10 0 56 1-61 0 44 1-20 0-3 1 0 0 21 1 31 0-48 1-8 0 3 1 2 0-9 1 17 0 14 1 3 1 32 0-9 1-14 0-21 1 33 0-1 1 8 0-22 1 51 0 13 1-87 0 12 1 14 0 6 1 23 1 20 0-42 1 35 0-45 1 2 0 50 1-36 0 46 1-23 0-37 1 38 0-8 1 8 0-2 1-33 1 13 0-1 1 46 0-28 1 12 0-19 1 28 0-44 1-37 0 59 1 17 0-29 1 55 0-22 1-29 0 29 1-5 1-30 0 27 1-6 0 35 1-67 0 56 1-16 0 9 1 4 0 27 1-20 0-8 1-28 0 27 1 13 1-14 0 1 1 6 0-9 1-31 0 36 1 28 0-18 1-6 0 8 1-21 0-18 1 63 0-21 1-14 1-26 0 52 1-63 0-12 1 5 0 20 1 33 0-19 1 2 0-17 1-18 0 6 1 6 0-16 1-5 1 47 0 0 1-11 0-19 1 31 0-48 1 22 0-13 1 31 0 7 1-28 0-37 1 29 0-12 1 40 0 4 1-12 1-14 0 14 1 27 0 8 1-39 0 10 1-64 0 72 1 8 0-38 1 22 0-8 1-22 0 43 1-12 1 4 0 0 1-1 0-9 1-38 0 33 1 18 0-21 1 12 0-18 1 3 0 15 1-11 0-19 1-17 1 32 0-32 1 7 0 54 1-17 0 61 1-47 0-17 1 15 0-20 1 10 0-15 1 20 0-19 1 6 0-2 1-15 1 38 0-57 1 40 0-7 1 12 0 6 1 21 0-21 1 22 0-4 1-61 0 34 1 6 0 16 1-21 1 0 0-14 1 17 0-6 1 4 0-12 1-11 0 61 1-29 0-32 1 23 0-28 1 39 0-31 1 67 1-24 0-19 1 29 0 21 1-64 0-21 1 33 0 37 1-28 0 29 1 17 0-60 1 0 0-8 1 49 0 28 1-77 1 22 0-25 1 59 0 17 1-75 0-14 1 11 0 9 1 11 0-10 1 29 0-61 1 12 0 77 1-67 1 81 0-59 1 15 0-41 1 33 0 8 1-32 0 47 1 1 0-48 1 21 0 8 1 18 0-10 1 6 1-14 0 4 1 7 0-2 1-35 0 19 1 6 0 11 1-8 0 6 1-6 0-5 1 25 0 1 1 40 0-29 1-28 1-45 0-2 1 51 0 63 1-75 0-2 1-24 0 49 1-11 0-2 1-6 0 29 1-37 0 24 1-19 1 4 0 49 1-56 0 32 1-4 0-2 1 8 0-25 1 54 0-54 1-10 0-6 1-16 0-2 1 2 1 25 0 12 1 20 0-27 1-16 0 10 1 12 0-42 1-23 0 47 1-37 0 17 1 34 0-25 1 16 0-41 1-1 1 16 0 18 1-17 0 4 1-20 0 2 1 10 0 46 1-41 0-7 1 32 0 15 1-37 0 46 1-14 1-3 0 17 1 23 0-82 1 49 0 24 1-70 0 36 1-27 0-4 1 56 0-38 1-1 0 38 1 1 1-46 0 19 1 28 0-7 1-18 0 15 1-60 0-7 1 29 0 29 1 13 0-14 1-67 0 20 1 49 0-11 1-33 1 31 0 0 1-21 0-9 1 18 0-50 1 47 0 8 1 34 0-17 1-22 0 3 1 26 0-95 1 50 1 4 0 11 1 0 0 43 1-48 0 25 1 5 0-67 1 36 0-7 1 10 0 7 1 16 0-45 1 39 1 4 0 0 1-36 0-1 1-5 0 19 1 1 0-33 1 63 0-48 1 11 0 17 1 8 0 16 1-1 1-6 0-17 1-53 0 61 1-9 0 6 1 23 0-9 1-54 0 35 1 36 0 55 1-117 0 39 1 24 0-48 1 24 1 11 0-12 1-32 0 53 1-38 0 14 1 15 0-47 1 43 0-12 1 14 0 19 1-38 0 31 1-64 1 3 0 47 1-1 0 4 1-59 0 64 1-2 0-5 1-3 0-54 1 41 0-14 1 8 0-1 1-48 1 4 0 29 1 26 0-68 1 51 0 23 1-1 0-20 1-14 0 79 1-71 0 10 1-12 0 32 1-22 0 15 1-35 1-27 0 46 1-2 0 1 1 45 0-49 1 45 0 23 1-56 0-15 1 34 0 17 1-68 0 66 1-60 1 30 0 18 1-31 0 61 1-40 0-16 1 1 0-32 1 46 0-28 1 17 0-21 1 8 0-17 1 29 1-35 0 32 1 17 0-16 1-1 0-31 1 61 0-26 1 29 0-48 1 2 0 6 1 47 0-6 1-21 0-9 1-6 1 28 0-13 1 13 0 4 1-2 0 17 1-44 0-9 1 19 0 25 1-42 0 56 1-47 0 5 1-5 1 67 0-46 1 20 0-28 1 14 0 52 1-63 0-26 1 30 0-6 1 12 0-9 1 23 0-50 1-15 1 68 0-27 1 19 0-46 1 30 0-14 1 23 0-29 1 6 0 10 1-5 0 45 1-51 0 41 1-10 0-14 1-16 1-2 0 14 1 0 0-11 1 35 0-20 1 17 0 24 1-12 0-50 1 38 0 24 1-38 0 15 1-2 1-3 0-14 1-57 0 67 1-7 0 6 1-10 0-7 1 18 0-45 1 66 0-11 1-6 0-32 1 7 1 14 0 27 1-27 0 10 1 7 0-34 1-6 0 27 1 21 0-19 1 28 0 11 1 7 0-34 1 1 1 10 0-7 1-4 0 15 1-34 0-28 1 39 0 32 1-38 0-9 1-11 0-12 1 4 0-8 1 23 0-11 1 22 1-6 0-29 1 21 0 27 1 10 0-59 1 24 0 5 1 7 0-27 1 12 0 4 1 3 0-2 1-23 1 17 0-23 1 72 0-24 1-32 0 36 1-11 0 5 1-10 0-4 1-35 0 22 1 19 0-7 1 0 1 13 0 13 1-24 0-5 1 29 0-13 1-13 0-1 1-30 0 42 1 9 0-27 1 30 0-19 1 35 0-53 1-43 1 59 0-3 1-21 0-10 1 57 0-32 1-8 0 1 1-6 0 9 1 0 0 20 1-62 0 37 1-26 1 27 0-3 1 6 0-16 1 12 0 35 1-92 0 53 1 21 0 18 1-15 0-12 1 15 0-70 1 82 1-36 0-2 1 27 0 1 1-5 0-21 1 10 0 0 1-14 0-19 1 37 0 12 1-23 0-2 1-30 0 8 1 15 1 18 0-43 1 40 0-25 1-2 0-9 1 34 0-49 1 12 0 28 1-1 0 37 1-47 0-5 1 32 1-18 0 24 1-78 0 69 1-13 0 51 1-39 0-16 1-9 0-23 1 20 0-24 1 75 0-7 1 9 1-23 0 12 1-1 0-10 1-5 0 27 1-23 0 4 1 3 0-31 1 66 0-28 1 1 0-2 1 0 0 7 1-4 1-26 0 0 1 38 0 11 1-27 0 23 1-43 0-1 1 46 0-52 1 14 0 21 1-48 0-25 1 50 1-9 0 49 1-52 0 20 1-23 0 18 1 5 0 4 1 20 0-39 1-28 0 90 1-56 0 28 1 9 1-34 0 8 1-6 0-4 1 50 0-74 1 3 0 44 1-12 0 27 1-32 0 3 1-5 0-27 1 20 0 9 1 6 1-10 0-8 1-2 0 5 1-20 0 36 1-37 0 38 1-3 0 0 1-28 0 28 1 12 0-31 1 26 1-13 0-4 1-2 0-21 1 24 0 25 1-46 0 34 1 7 0-17 1-25 0 46 1-13 0-39 1-17 1 38 0-18 1 13 0 6 1 20 0-24 1 14 0-5 1-7 0-5 1 27 0-8 1-25 0-19 1 35 0-14 1-1 1 29 0-26 1 32 0 15 1-17 0-20 1 27 0-35 1 33 0-27 1 16 0-33 1 36 0-6 1 0 1 19 0-32 1 27 0-2 1-11 0-1 1-40 0 39 1-41 0 75 1-64 0 18 1-44 0 61 1-24 1-5 0 52 1-50 0-64 1 58 0-17 1 20 0-36 1 48 0 5 1-39 0 43 1-28 0 44 1-55 1 24 0-12 1 0 0-3 1 16 0 4 1-28 0-6 1 58 0-17 1-5 0 7 1-34 0 22 1 8 0-14 1-19 1 73 0-53 1 17 0 5 1-5 0 41 1-40 0-7 1 17 0 19 1-10 0-30 1-17 0 35 1-14 1-11 0 20 1 28 0-25 1-29 0 51 1-3 0 16 1-27 0 23 1-38 0-1 1 31 0-4 1-7 1 23 0-12 1-50 0 38 1 69 0-97 1 28 0 1 1-33 0 3 1 61 0-60 1 66 0-57 1 33 0-12 1-26 1 2 0 14 1 19 0-36 1 32 0-11 1-1 0-3 1 30 0-36 1 27 0 1 1-19 0-20 1 54 1-22 0 16 1-8 0-28 1 25 0 8 1-39 0 13 1-8 0-31 1 55 0 31 1-82 0 44 1-4 1-14 0 4 1 39 0-6 1 1 0-8 1-17 0-26 1 12 0 34 1-20 0 14 1-6 0-26 1 13 0 24 1-31 1 2 0 1 1 10 0-1 1-19 0 28 1-15 0 23 1-29 0-13 1 35 0-6 1 0 0 10 1-37 1 32 0 31 1-46 0 34 1-30 0 66 1-68 0 46 1-13 0-12 1-6 0 35 1-36 0-4 1 16 1-2 0-25 1 36 0-24 1 7 0 4 1 11 0 9 1-36 0-5 1-4 0 20 1-10 0 1 1-7 0 9 1-32 1 35 0 15 1-25 0 3 1-51 0 54 1 9 0-48 1-14 0-7 1 58 0 1 1-77 0 63 1 21 1-41 0 63 1-7 0-34 1-19 0 66 1-62 0-15 1-12 0 54 1-2 0-22 1 18 0 7 1-12 1 19 0-25 1-13 0 22 1 10 0 17 1-9 0 3 1-52 0-8 1 52 0-12 1-39 0 67 1-66 1 60 0 9 1-64 0 61 1-18 0-10 1 19 0 24 1-11 0-25 1-15 0 19 1 49 0-44 1 25 0-39 1 10 1 31 0 10 1-8 0-64 1 36 0 32 1-17 0-34 1 2 0 45 1-52 0 11 1 17 0-13 1 37 1-24 0-5 1-6 0 31 1-46 0 23 1 23 0-60 1 6 0 28 1 13 0-22 1 33 0 19 1-86 1-20 0 46 1 7 0 22 1 10 0-3 1-37 0 17 1 1 0-18 1 24 0-28 1-16 0 41 1-24 0-17 1 26 1-7 0 76 1-64 0 11 1 26 0-23 1 0 0 8 1-19 0-19 1 15 0 1 1 35 0-30 1 6 1-4 0-18 1 21 0 22 1-35 0 29 1-9 0 1 1-9 0 54 1-37 0-18 1-1 0 2 1-7 1-6 0 28 1-54 0 36 1-8 0 7 1 25 0-1 1-24 0-37 1 56 0-27 1 30 0-24 1 25 0 6 1 0 1-7 0-13 1 8 0 10 1-27 0 2 1 15 0-16 1 19 0 26 1-50 0 34 1-120 0 71 1 77 1-11 0-3 1-42 0 8 1-72 0 106 1-2 0 9 1-42 0 38 1-7 0 19 1-44 0 17 1-41 1 22 0 30 1 16 0-7 1-33 0 11 1 0 0-13 1 35 0 0 1-19 0-3 1 20 0-60 1 37 0 27 1-41 1-15 0-36 1 64 0-14 1 26 0-3 1 32 0-44 1-14 0 40 1-57 0-50 1 111 0-48 1 16 1-10 0 2 1-46 0 31 1-1 0-27 1 37 0-44 1 57 0-2 1-24 0 9 1-1 0 5 1 33 1-54 0 20 1-14 0 16 1-14 0 43 1-21 0-4 1-9 0-25 1 13 0-21 1 1 0 38 1-30 0 14 1 56 1-35 0-36 1-7 0 46 1 11 0-26 1 11 0 7 1-13 0 45 1-52 0-10 1 28 0 15 1-26 1-8 0 20 1-16 0 31 1 21 0-64 1 10 0-4 1 54 0-34 1-29 0 46 1-21 0 17 1-49 1 8 0-22 1 66 0-37 1 13 0-59 1 36 0 5 1 4 0 12 1 1 0-12 1-17 0 28 1-52 0 25 1 5 1-17 0 17 1 25 0-74 1 118 0-67 1-14 0 9 1 32 0-13 1 2 0-7 1 4 0-25 1 26 1 16 0-32 1-1 0-19 1 63 0-18 1 12 0-22 1 16 0-35 1 20 0-78 1 66 0 13 1-14 1-35 0 66 1-2 0 10 1-40 0 5 1 8 0-10 1 30 0-38 1 23 0-20 1 27 0-17 1 19 1-33 0 6 1 10 0-9 1 15 0 8 1-47 0 10 1 2 0 15 1-14 0-40 1 108 0-63 1-9 0 35 1-11 1-3 0-31 1 46 0-5 1-34 0 25 1 27 0 8 1-72 0 37 1-9 0 18 1-4 0 38 1-61 1 59 0 0 1-6 0-37 1 24 0-44 1 64 0-53 1 31 0 14 1-18 0-14 1 24 0-33 1 17 1-1 0 34 1-14 0 17 1-21 0-90 1 55 0 57 1 10 0-48 1 12 0 19 1-42 0 34 1-1 0-10 1-1 1-39 0 30 1-13 0 27 1 16 0-67 1 49 0-4 1 19 0 3 1-18 0 25 1-77 0 73 1-51 1 16 0 27 1-23 0-64 1 74 0 17 1-1 0-22 1 0 0-5 1-44 0 55 1 87 0-92 1 12 1-24 0-25 1-44 0 54 1 37 0-52 1 82 0-92 1 73 0-9 1 4 0-29 1 30 0-24 1-4 0 16 1-14 1 16 0-59 1 27 0 12 1 38 0-41 1 33 0-8 1-52 0 31 1 25 0-51 1-27 0 81 1-21 1-8 0-20 1 24 0 2 1 2 0-37 1 33 0-29 1 36 0-22 1 34 0-13 1-21 0 1 1 10 1-40 0-1 1 33 0 23 1-5 0-4 1-15 0-8 1-15 0 12 1-17 0 38 1 35 0-26 1-25 0-19 1 36 1-21 0 15 1-38 0 109 1-42 0-13 1-20 0 20 1 13 0-12 1-11 0 15 1 27 0-21 1 8 1-39 0 34 1-21 0-1 1 17 0-18 1-2 0-44 1 71 0-20 1-19 0 28 1 3 0 41 1-79 1-45 0 86 1 27 0-55 1 34 0 10 1-9 0 23 1-90 0 4 1 6 0 6 1 16 0 20 1 13 1-37 0-42 1 5 0 48 1-29 0 27 1-31 0 31 1 19 0 9 1-43 0-5 1 17 0 28 1 1 0-7 1-58 1 85 0-42 1 2 0-8 1 22 0-43 1 18 0 15 1-7 0 1 1-5 0 21 1 22 0-23 1-29 1 26 0 11 1-49 0 56 1-52 0 75 1-126 0 24 1 26 0 39 1-15 0-13 1-4 0 15 1 55 1-62 0 8 1 18 0-13 1 14 0-70 1 71 0-58 1-30 0 66 1-26 0 54 1-78 0 56 1-12 0-1 1 48 1-27 0-40 1 22 0-12 1 49 0-1 1-40 0 8 1 9 0-2 1 12 0-35 1 31 0-16 1 3 1 7 0-20 1 32 0-15 1-28 0 29 1-45 0 62 1-17 0 4 1 3 0-30 1 51 0-11 1-60 1 39 0-41 1 64 0-59 1 41 0-4 1-26 0 29 1 27 0-42 1 45 0-31 1-13 0 0 1 24 0-27 1-55 1 63 0 28 1-5 0 27 1-34 0 3 1-46 0 17 1 21 0 27 1-58 0 52 1-32 0-13 1 7 1 36 0-5 1 8 0-34 1-24 0 16 1-11 0-22 1 32 0 5 1 1 0 5 1-2 0 6 1-28 1 32 0-19 1-26 0 10 1-27 0 60 1-24 0 28 1-16 0-35 1 38 0-11 1-23 0 7 1 56 0-30 1-44 1-9 0 30 1-38 0 29 1 13 0 16 1-9 0-1 1 36 0-31 1-7 0-1 1 15 0-57 1 83 1-9 0-91 1 78 0-18 1 20 0 13 1-6 0-35 1 76 0-65 1 7 0 22 1-13 0-18 1 14 1 2 0-5 1-2 0 18 1-22 0 2 1 58 0-19 1-32 0 12 1 8 0 20 1-59 0 44 1-3 0-14 1 58 1-88 0 37 1-3 0 11 1-26 0 51 1-18 0-50 1 36 0 41 1-44 0-16 1 45 0-46 1 28 1-51 0 57 1-31 0 44 1 0 0-45 1 31 0-25 1 6 0-15 1 93 0-71 1-8 0-7 1-1 1 19 0-49 1 54 0-7 1 34 0-33 1-16 0-17 1 12 0-25 1 9 0 30 1-66 0 24 1-2 0 66 1-52 1 49 0-38 1-36 0 96 1-60 0-18 1 37 0-3 1 3 0-30 1-5 0-15 1 33 0-46 1 59 1 6 0-10 1 13 0-13 1-18 0-21 1-6 0 9 1-7 0 51 1-42 0-41 1 58 0-15 1 3 1-15 0 7 1 57 0-39 1 4 0-21 1 26 0-1 1-22 0-6 1-23 0 50 1-73 0 53 1-34 1 136 0-90 1-22 0 20 1-22 0 38 1 8 0-49 1 76 0-59 1 32 0-33 1 19 0 4 1-4 0 6 1-39 1 14 0 32 1-2 0-54 1 40 0-22 1 22 0 1 1 24 0-51 1-4 0 56 1-38 0-20 1 29 1 13 0 12 1-47 0 26 1-8 0 28 1 22 0-13 1-14 0-19 1-19 0 18 1 11 0-11 1 23 1-16 0 29 1-32 0 37 1-15 0-10 1-9 0 7 1-1 0-6 1 7 0-9 1 7 0 3 1 46 0-69 1 33 1 16 0-42 1 20 0 25 1-13 0-17 1 12 0-28 1 24 0 52 1-77 0 56 1 18 0-30 1-30 1 44 0-17 1-37 0-10 1 12 0 31 1-15 0-81 1 85 0-20 1 15 0 51 1-30 0-35 1 29 1 13 0-36 1 28 0-40 1 44 0-28 1 24 0-34 1 36 0-16 1 13 0-21 1 11 0-15 1 16 0 5 1-36 1 14 0-19 1 47 0-55 1 31 0 4 1 18 0 4 1-34 0-13 1 12 0-13 1 37 0-28 1 8 1-36 0 54 1 0 0-28 1-3 0 8 1-12 0-8 1 21 0-49 1 64 0-44 1 75 0-79 1 42 1-25 0 4 1 20 0-13 1 8 0-3 1-25 0 55 1-48 0 30 1-33 0 10 1-5 0 15 1-8 0 14 1-5 1-9 0-13 1 15 0 21 1 26 0-25 1-8 0 8 1-29 0-2 1 19 0 31 1-30 0 15 1 36 1-39 0 6 1-22 0 52 1-4 0-42 1-29 0 29 1 0 0-2 1 16 0 28 1-37 0 5 1 19 1-70 0 65 1-38 0-35 1 51 0 8 1 5 0-28 1 11 0 2 1 55 0-57 1 12 0-17 1 39 1-23 0-6 1-3 0-6 1 39 0-43 1 6 0 42 1-28 0-3 1 4 0 41 1-46 0-19 1 59 0-43 1-33 1 50 0-42 1-19 0 48 1-22 0-6 1 40 0-19 1-16 0 3 1 18 0 8 1-41 0-20 1 32 1 0 0 35 1-2 0-10 1-26 0-7 1 12 0 13 1-10 0-11 1 16 0 7 1-60 0 67 1-21 1-38 0 34 1-30 0 14 1 29 0-9 1 16 0-31 1-6 0 31 1-29 0 25 1 53 0-16 1-60 0-17 1-11 1 68 0-42 1 19 0 1 1 38 0-58 1 20 0-1 1-18 0 13 1 34 0-64 1 76 0-39 1 8 1-44 0 54 1 19 0-43 1 36 0 27 1-30 0-22 1 19 0-60 1 63 0-6 1-3 0-20 1-10 1 27 0-10 1 40 0-59 1 14 0 4 1-14 0 12 1 26 0-5 1-23 0-14 1 52 0-30 1 30 0-59 1 8 1 47 0-55 1 53 0-14 1-22 0-23 1 63 0-52 1 26 0 10 1-2 0-9 1 6 0 2 1-12 1 13 0-42 1 56 0-39 1-67 0 52 1 44 0-27 1 3 0-29 1 66 0-39 1-19 0 28 1-11 1 8 0 35 1-12 0-30 1-30 0 74 1-30 0-39 1 26 0-1 1 2 0 19 1 22 0-53 1-11 0-24 1 23 1 84 0-64 1 20 0-24 1-10 0 44 1-46 0 11 1-16 0 7 1-3 0 40 1-24 0-21 1 27 1-37 0 56 1-29 0 11 1-43 0 36 1-76 0 58 1 29 0 11 1-10 0-13 1-15 0 12 1-49 1 6 0 11 1-21 0 57 1 0 0-14 1 3 0-3 1-37 0 7 1 33 0 25 1-33 0-6 1-31 0 40 1 23 1 6 0 8 1-29 0 21 1-35 0 81 1-39 0-22 1 24 0 0 1-12 0 4 1 32 0-27 1 13 1-19 0 42 1-33 0 34 1 0 0-28 1 3 0-48 1 95 0-84 1-11 0 65 1-39 0 13 1 34 1-32 0 15 1 26 0-51 1 2 0 8 1 4 0-7 1-9 0 55 1-65 0 42 1-49 0-39 1 67 0-2 1-44 1 8 0 94 1-62 0-14 1 14 0-3 1 13 0-50 1 67 0 6 1-9 0-42 1 19 0 9 1-41 1 61 0-13 1-44 0 32 1-12 0-23 1 43 0-20 1 21 0 20 1-18 0 100 1-140 0 8 1 3 1 0 0 19 1-6 0 7 1-9 0-41 1 39 0 4 1-17 0 14 1 28 0-20 1-25 0 14 1 11 1 13 0 2 1-10 0-7 1 21 0-28 1-12 0 99 1-107 0 17 1 5 0-13 1 41 0-40 1 41 0-25 1 9 1-30 0 5 1 3 0-6 1-19 0 16 1 9 0-26 1 26 0 7 1-30 0 5 1-13 0 47 1-5 1-9 0-28 1-9 0 13 1 22 0 12 1 4 0 49 1-71 0 49 1-13 0-12 1-36 0 33 1-15 1-28 0 40 1 21 0-41 1 6 0 30 1-55 0 55 1-14 0-1 1 32 0-8 1-14 0-22 1 4 0 8 1 46 1-42 0 2 1-28 0 26 1-39 0 19 1 13 0-23 1 23 0 20 1-30 0 53 1-29 0-7 1 38 1-46 0-11 1 4 0 8 1 19 0 1 1-18 0-17 1 18 0 41 1-28 0 0 1-13 0 24 1-16 1-2 0 9 1-35 0 22 1-8 0 31 1-71 0 104 1-80 0 45 1-23 0 45 1-64 0 66 1 42 0-64 1 0 1 18 0-15 1-36 0 23 1-22 0 2 1 24 0-7 1 4 0 23 1-22 0-11 1 21 0-12 1 30 1-50 0 34 1 19 0-49 1 1 0 16 1-8 0-1 1 13 0-6 1 4 0-36 1 40 0 36 1-34 1-45 0 59 1 11 0-22 1-48 0 67 1-25 0 53 1-49 0 22 1-55 0 68 1-26 0 12 1-47 0-7 1 45 1-14 0 5 1-13 0 34 1 27 0-41 1 8 0 1 1 0 0 14 1-40 0 6 1 8 0 5 1 4 1 12 0-44 1-12 0 50 1-80 0 92 1-40 0-28 1 28 0-20 1 72 0-4 1-81 0 53 1-12 1-1 0-54 1 54 0 14 1-72 0 40 1-1 0 31 1-52 0 9 1 12 0 11 1-31 0 13 1 10 1 74 0-86 1-41 0 47 1-16 0 16 1 3 0-18 1 29 0 5 1 12 0-40 1-22 0 102 1-60 0 12 1-10 1-3 0 2 1-9 0 9 1-7 0 38 1-45 0 34 1-7 0-3 1 11 0-4 1-20 0-4 1 14 1 0 0 43 1-35 0 47 1-6 0-10 1-90 0 70 1 25 0-52 1 0 0 15 1-8 0 36 1-47 1 56 0-19 1-9 0 24 1-20 0-59 1 74 0-60 1 61 0-21 1-56 0 13 1 50 0-55 1 35 0-31 1 6 1 11 0 2 1 11 0-49 1 43 0 15 1-32 0 33 1-19 0-12 1 17 0 11 1-21 0 3 1 6 1 10 0-39 1-5 0 28 1 13 0-9 1 19 0-17 1-8 0 4 1-2 0 5 1-45 0 46 1 4 1-68 0 95 1-72 0 34 1-41 0-20 1 25 0 39 1-1 0 15 1-35 0-19 1 41 0-67 1 61 0 33 1-68 1 11 0-5 1 50 0-32 1 12 0-33 1 5 0 29 1-10 0 46 1-33 0-5 1-11 0-13 1 49" fill="none" stroke="#ff00ff" stroke-width="2.0" stroke-linejoin="round"/></g>
<path d="M687.4 2028.2H1645V2476.7H687.4Z" fill="none" stroke="#777" stroke-width="2"/>
<path d="M680.4 2476.7H687.4M680.4 2420.6H687.4M680.4 2364.6H687.4M680.4 2308.5H687.4M680.4 2252.4H687.4M680.4 2196.4H687.4M680.4 2140.3H687.4M680.4 2084.3H687.4M680.4 2028.2H687.4M683.4 2448.7H687.4M683.4 2392.6H687.4M683.4 2336.5H687.4M683.4 2280.5H687.4M683.4 2224.4H687.4M683.4 2168.4H687.4M683.4 2112.3H687.4M683.4 2056.2H687.4M687.4 2476.7V2483.7M793.8 2476.7V2483.7M900.2 2476.7V2483.7M1006.6 2476.7V2483.7M1113 2476.7V2483.7M1219.4 2476.7V2483.7M1325.8 2476.7V2483.7M1432.2 2476.7V2483.7M1538.6 2476.7V2483.7M1645 2476.7V2483.7M740.6 2476.7V2480.7M847 2476.7V2480.7M953.4 2476.7V2480.7M1059.8 2476.7V2480.7M1166.2 2476.7V2480.7M1272.6 2476.7V2480.7M1379 2476.7V2480.7M1485.4 2476.7V2480.7M1591.8 2476.7V2480.7" stroke="#555" stroke-width="2" fill="none"/>
<text x="674.4" y="2482.7" font-size="17" text-anchor="end" fill="#333" stroke="#444" stroke-width="0.45">0</text>
<text x="674.4" y="2426.6" font-size="17" text-anchor="end" fill="#333" stroke="#444" stroke-width="0.45">10</text>
<text x="674.4" y="2370.6" font-size="17" text-anchor="end" fill="#333" stroke="#444" stroke-width="0.45">20</text>
<text x="674.4" y="2314.5" font-size="17" text-anchor="end" fill="#333" stroke="#444" stroke-width="0.45">30</text>
<text x="674.4" y="2258.4" font-size="17" text-anchor="end" fill="#333" stroke="#444" stroke-width="0.45">40</text>
<text x="674.4" y="2202.4" font-size="17" text-anchor="end" fill="#333" stroke="#444" stroke-width="0.45">50</text>
<text x="674.4" y="2146.3" font-size="17" text-anchor="end" fill="#333" stroke="#444" stroke-width="0.45">60</text>
<text x="674.4" y="2090.3" font-size="17" text-anchor="end" fill="#333" stroke="#444" stroke-width="0.45">70</text>
<text x="674.4" y="2034.2" font-size="17" text-anchor="end" fill="#333" stroke="#444" stroke-width="0.45">80</text>
<text x="687.4" y="2506.2" font-size="17" text-anchor="middle" fill="#333" stroke="#444" stroke-width="0.45">1200</text>
<text x="793.8" y="2506.2" font-size="17" text-anchor="middle" fill="#333" stroke="#444" stroke-width="0.45">1400</text>
<text x="900.2" y="2506.2" font-size="17" text-anchor="middle" fill="#333" stroke="#444" stroke-width="0.45">1600</text>
<text x="1006.6" y="2506.2" font-size="17" text-anchor="middle" fill="#333" stroke="#444" stroke-width="0.45">1800</text>
<text x="1113" y="2506.2" font-size="17" text-anchor="middle" fill="#333" stroke="#444" stroke-width="0.45">2000</text>
<text x="1219.4" y="2506.2" font-size="17" text-anchor="middle" fill="#333" stroke="#444" stroke-width="0.45">2200</text>
<text x="1325.8" y="2506.2" font-size="17" text-anchor="middle" fill="#333" stroke="#444" stroke-width="0.45">2400</text>
<text x="1432.2" y="2506.2" font-size="17" text-anchor="middle" fill="#333" stroke="#444" stroke-width="0.45">2600</text>
<text x="1538.6" y="2506.2" font-size="17" text-anchor="middle" fill="#333" stroke="#444" stroke-width="0.45">2800</text>
<text x="1645" y="2506.2" font-size="17" text-anchor="middle" fill="#333" stroke="#444" stroke-width="0.45">3000</text>
<text x="1166.2" y="2546" font-size="22" text-anchor="middle" fill="#333" >Raman shift (cm<tspan font-size="11" dy="-9">-1</tspan><tspan dy="9">)</tspan></text>
<text x="620" y="2267.7" font-size="22" text-anchor="middle" fill="#333" transform="rotate(-90 620 2267.7)">Intensity (Counts)</text>
<text x="701" y="2082" font-size="40" text-anchor="start" fill="#1e1e1e" >D-band</text>
<text x="913.6" y="2082" font-size="40" text-anchor="start" fill="#1e1e1e" >G-band</text>
<path d="M779.4 2164.5V2476.7" stroke="#1a1a1a" stroke-width="3.4" stroke-dasharray="12 8" fill="none"/>
<path d="M888 2178V2476.7" stroke="#1a1a1a" stroke-width="3.4" stroke-dasharray="12 8" fill="none"/>
<rect x="1418.4" y="2048.6" width="204.3" height="110.5" fill="#fff" stroke="#999" stroke-width="1.6"/>
<path d="M1429.4 2065.8H1477" stroke="#b4b4b4" stroke-width="2.6"/>
<text x="1483" y="2073.6" font-size="22.5" text-anchor="start" fill="#2a2a2a" stroke="#333" stroke-width="0.5">20 keV-Up</text>
<path d="M1429.4 2092.7H1477" stroke="#ffa8a8" stroke-width="2.6"/>
<text x="1483" y="2100.5" font-size="22.5" text-anchor="start" fill="#2a2a2a" stroke="#333" stroke-width="0.5">20 keV-Down</text>
<path d="M1429.4 2119.6H1477" stroke="#b0b0ff" stroke-width="2.6"/>
<text x="1483" y="2127.4" font-size="22.5" text-anchor="start" fill="#2a2a2a" stroke="#333" stroke-width="0.5">20 keV-Left</text>
<path d="M1429.4 2146.5H1477" stroke="#ffaaff" stroke-width="2.6"/>
<text x="1483" y="2154.3" font-size="22.5" text-anchor="start" fill="#2a2a2a" stroke="#333" stroke-width="0.5">20 keV-Right</text>
<rect x="1687.5" y="2028.2" width="395" height="212.3" fill="#fff" stroke="#959595" stroke-width="2.4"/>
<path d="M1706 2059.2H1802" stroke="#8a8a8a" stroke-width="3.5"/>
<text x="1813" y="2073.8" font-size="43" text-anchor="start" fill="#1e1e1e" >20 keV-Up</text>
<path d="M1706 2111.6H1802" stroke="#ff7a7a" stroke-width="3.5"/>
<text x="1813" y="2126.2" font-size="43" text-anchor="start" fill="#1e1e1e" >20 keV-Down</text>
<path d="M1706 2164H1802" stroke="#7a7aff" stroke-width="3.5"/>
<text x="1813" y="2178.6" font-size="43" text-anchor="start" fill="#1e1e1e" >20 keV-Left</text>
<path d="M1706 2216.4H1802" stroke="#ff8cff" stroke-width="3.5"/>
<text x="1813" y="2231" font-size="43" text-anchor="start" fill="#1e1e1e" >20 keV-Right</text>
<text x="98.1" y="2458" font-size="54" text-anchor="middle" fill="#1e1e1e" transform="rotate(-90 98.1 2458)">Intensity (Counts)</text>
<text x="978" y="3018.4" font-size="54" text-anchor="start" fill="#1e1e1e" >Raman shift (cm<tspan font-size="30" dx="3" dy="-30">-1</tspan><tspan dx="3" dy="30">)</tspan></text>
</svg>
</div></body></html>
